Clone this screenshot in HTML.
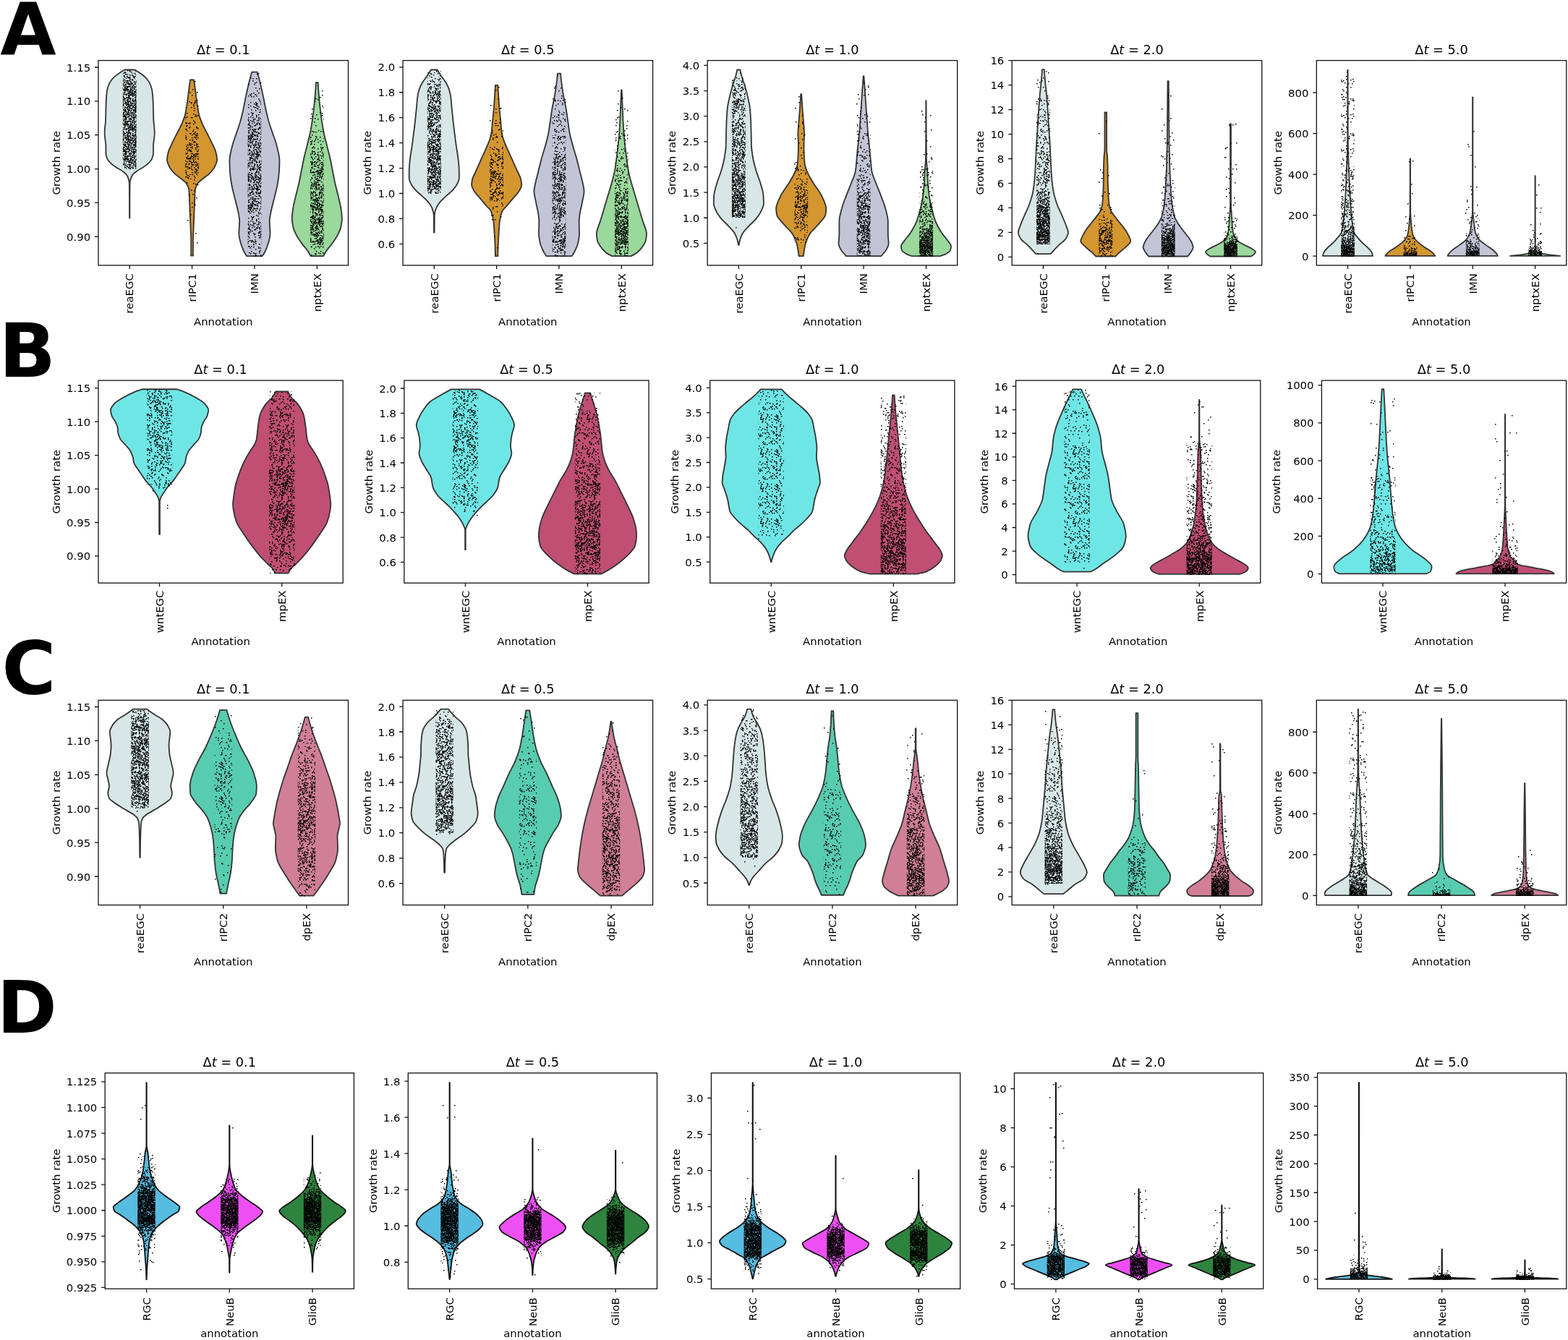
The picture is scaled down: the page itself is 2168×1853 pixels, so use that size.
<!DOCTYPE html><html><head><meta charset="utf-8"><title>Growth rate violin plots</title><style>html,body{margin:0;padding:0;background:#fff;}svg{display:block;}text{font-family:"DejaVu Sans","Liberation Sans",sans-serif;fill:#000;}</style></head><body>
<svg xmlns="http://www.w3.org/2000/svg" width="2168" height="1853" viewBox="0 0 2168 1853">
<rect width="100%" height="100%" fill="#fff"/>
<defs>
<pattern id="p0" patternUnits="userSpaceOnUse" width="48" height="48"><path d="M40 46.75h1.5M40 -1.25h1.5M28 24.75h1.5M13 41.75h1.5M2 24.75h1.5M46 13.75h1.5M28 46.75h1.5M28 -1.25h1.5M37 13.75h1.5M43 14.75h1.5M33 2.75h1.5M9 0.75h1.5M47 16.75h1.5M-1 16.75h1.5M13 12.75h1.5M30 34.75h1.5M27 0.75h1.5M28 42.75h1.5M25 39.75h1.5M47 43.75h1.5M-1 43.75h1.5M24 36.75h1.5M37 31.75h1.5M23 36.75h1.5M47 42.75h1.5M-1 42.75h1.5M46 40.75h1.5M18 12.75h1.5M15 45.75h1.5M41 47.75h1.5M41 -0.25h1.5M38 33.75h1.5M33 29.75h1.5M19 29.75h1.5M18 32.75h1.5M6 43.75h1.5M30 14.75h1.5M3 19.75h1.5M13 15.75h1.5M31 34.75h1.5M0 1.75h1.5M40 19.75h1.5M3 19.75h1.5M25 18.75h1.5M26 27.75h1.5M10 11.75h1.5M45 42.75h1.5M16 18.75h1.5M24 45.75h1.5M41 44.75h1.5M31 16.75h1.5M18 17.75h1.5M4 29.75h1.5M45 19.75h1.5M28 5.75h1.5M27 13.75h1.5M28 8.75h1.5M7 20.75h1.5M26 42.75h1.5M27 22.75h1.5M27 2.75h1.5M8 36.75h1.5M34 41.75h1.5M3 42.75h1.5M15 20.75h1.5M5 14.75h1.5M35 46.75h1.5M35 -1.25h1.5M24 18.75h1.5M22 26.75h1.5M3 47.75h1.5M3 -0.25h1.5M21 40.75h1.5M10 42.75h1.5M14 44.75h1.5M18 34.75h1.5M33 15.75h1.5M37 9.75h1.5M17 35.75h1.5M32 27.75h1.5M24 4.75h1.5M32 41.75h1.5M15 4.75h1.5M43 40.75h1.5M31 38.75h1.5M9 46.75h1.5M9 -1.25h1.5M27 13.75h1.5M35 1.75h1.5M37 24.75h1.5M21 44.75h1.5M13 45.75h1.5M29 16.75h1.5M35 18.75h1.5M24 46.75h1.5M24 -1.25h1.5M8 39.75h1.5M29 45.75h1.5M36 38.75h1.5M43 24.75h1.5M47 6.75h1.5M-1 6.75h1.5M17 25.75h1.5M38 4.75h1.5M33 37.75h1.5" stroke="#000" stroke-width="1.5" fill="none"/></pattern>
<pattern id="p1" patternUnits="userSpaceOnUse" width="48" height="48"><path d="M45 7.75h1.5M17 17.75h1.5M37 40.75h1.5M28 10.75h1.5M14 37.75h1.5M44 3.75h1.5M41 40.75h1.5M17 34.75h1.5M46 4.75h1.5M10 2.75h1.5M38 12.75h1.5M32 8.75h1.5M22 31.75h1.5M1 22.75h1.5M42 27.75h1.5M27 13.75h1.5M18 46.75h1.5M18 -1.25h1.5M17 4.75h1.5M31 31.75h1.5M16 25.75h1.5M24 47.75h1.5M24 -0.25h1.5M17 45.75h1.5M2 23.75h1.5M12 21.75h1.5M40 17.75h1.5M39 8.75h1.5M32 32.75h1.5M22 42.75h1.5M46 22.75h1.5M40 44.75h1.5M11 11.75h1.5M27 12.75h1.5M45 45.75h1.5M37 44.75h1.5M17 24.75h1.5M22 26.75h1.5M24 16.75h1.5M43 1.75h1.5M34 17.75h1.5M19 47.75h1.5M19 -0.25h1.5M22 24.75h1.5M4 38.75h1.5M23 7.75h1.5M10 35.75h1.5M4 28.75h1.5M4 47.75h1.5M4 -0.25h1.5M10 14.75h1.5M33 22.75h1.5M8 13.75h1.5M27 35.75h1.5M28 3.75h1.5M46 35.75h1.5M21 40.75h1.5M37 11.75h1.5M1 17.75h1.5M30 16.75h1.5M47 42.75h1.5M-1 42.75h1.5M2 7.75h1.5M43 43.75h1.5M7 4.75h1.5M32 1.75h1.5M1 38.75h1.5M2 3.75h1.5M6 27.75h1.5M43 24.75h1.5M37 42.75h1.5M31 32.75h1.5M31 47.75h1.5M31 -0.25h1.5M14 32.75h1.5M25 16.75h1.5M23 44.75h1.5M45 3.75h1.5M21 32.75h1.5M35 5.75h1.5M17 8.75h1.5M44 18.75h1.5M40 23.75h1.5M47 2.75h1.5M-1 2.75h1.5M10 19.75h1.5M41 25.75h1.5M22 13.75h1.5M24 19.75h1.5M26 37.75h1.5M4 9.75h1.5M42 14.75h1.5M29 13.75h1.5M5 11.75h1.5M35 1.75h1.5M5 45.75h1.5M18 24.75h1.5M32 15.75h1.5M22 42.75h1.5M3 1.75h1.5M29 5.75h1.5M17 0.75h1.5M18 1.75h1.5M7 0.75h1.5M8 29.75h1.5M47 34.75h1.5M-1 34.75h1.5M29 16.75h1.5M28 44.75h1.5M37 36.75h1.5M18 47.75h1.5M18 -0.25h1.5M7 36.75h1.5M29 25.75h1.5M19 2.75h1.5M19 5.75h1.5M4 15.75h1.5M20 6.75h1.5M2 30.75h1.5M43 3.75h1.5M17 26.75h1.5M34 17.75h1.5M28 18.75h1.5M21 3.75h1.5M16 34.75h1.5M1 36.75h1.5M31 15.75h1.5M4 18.75h1.5M11 33.75h1.5M46 6.75h1.5M18 29.75h1.5M17 16.75h1.5M33 33.75h1.5M12 30.75h1.5M17 14.75h1.5M14 13.75h1.5M33 18.75h1.5M3 14.75h1.5M18 36.75h1.5M47 37.75h1.5M-1 37.75h1.5M30 23.75h1.5M22 11.75h1.5M13 23.75h1.5M1 36.75h1.5M43 26.75h1.5M44 0.75h1.5M46 4.75h1.5M23 18.75h1.5M28 40.75h1.5M13 20.75h1.5M39 29.75h1.5M27 27.75h1.5M14 3.75h1.5M14 22.75h1.5M17 20.75h1.5M32 21.75h1.5M36 43.75h1.5M4 14.75h1.5M44 46.75h1.5M44 -1.25h1.5M36 22.75h1.5M38 22.75h1.5M9 34.75h1.5M6 22.75h1.5M35 2.75h1.5M45 26.75h1.5M16 4.75h1.5M4 44.75h1.5M15 14.75h1.5M40 44.75h1.5M39 24.75h1.5M11 37.75h1.5M7 24.75h1.5M23 10.75h1.5M15 47.75h1.5M15 -0.25h1.5M40 30.75h1.5M22 21.75h1.5M10 45.75h1.5M20 26.75h1.5M10 19.75h1.5M33 9.75h1.5M46 16.75h1.5M29 38.75h1.5M11 7.75h1.5M38 22.75h1.5M17 30.75h1.5M4 21.75h1.5" stroke="#000" stroke-width="1.5" fill="none"/></pattern>
<pattern id="p2" patternUnits="userSpaceOnUse" width="48" height="48"><path d="M7 22.75h1.5M28 45.75h1.5M39 41.75h1.5M14 23.75h1.5M32 41.75h1.5M22 27.75h1.5M42 5.75h1.5M27 4.75h1.5M47 19.75h1.5M-1 19.75h1.5M11 44.75h1.5M5 36.75h1.5M16 43.75h1.5M37 45.75h1.5M25 35.75h1.5M44 19.75h1.5M47 12.75h1.5M-1 12.75h1.5M44 37.75h1.5M7 38.75h1.5M28 45.75h1.5M34 30.75h1.5M44 41.75h1.5M7 13.75h1.5M29 13.75h1.5M2 21.75h1.5M35 7.75h1.5M27 40.75h1.5M6 38.75h1.5M5 43.75h1.5M25 8.75h1.5M23 31.75h1.5M25 1.75h1.5M46 4.75h1.5M46 25.75h1.5M14 34.75h1.5M3 31.75h1.5M14 5.75h1.5M39 15.75h1.5M12 23.75h1.5M6 0.75h1.5M28 28.75h1.5M33 23.75h1.5M8 26.75h1.5M2 47.75h1.5M2 -0.25h1.5M7 21.75h1.5M11 46.75h1.5M11 -1.25h1.5M17 28.75h1.5M26 21.75h1.5M43 9.75h1.5M16 39.75h1.5M30 15.75h1.5M31 13.75h1.5M13 18.75h1.5M26 24.75h1.5M47 17.75h1.5M-1 17.75h1.5M47 37.75h1.5M-1 37.75h1.5M20 10.75h1.5M39 11.75h1.5M16 29.75h1.5M38 1.75h1.5M18 17.75h1.5M37 39.75h1.5M3 44.75h1.5M9 32.75h1.5M30 9.75h1.5M10 17.75h1.5M14 20.75h1.5M32 40.75h1.5M14 11.75h1.5M15 35.75h1.5M39 20.75h1.5M5 34.75h1.5M1 32.75h1.5M39 42.75h1.5M43 32.75h1.5M32 12.75h1.5M30 20.75h1.5M42 19.75h1.5M25 8.75h1.5M5 43.75h1.5M18 9.75h1.5M21 14.75h1.5M40 46.75h1.5M40 -1.25h1.5M29 31.75h1.5M3 40.75h1.5M31 0.75h1.5M40 31.75h1.5M3 19.75h1.5M44 46.75h1.5M44 -1.25h1.5M3 41.75h1.5M33 29.75h1.5M17 45.75h1.5M24 35.75h1.5M8 4.75h1.5M8 28.75h1.5M13 45.75h1.5M38 6.75h1.5M40 29.75h1.5M37 3.75h1.5M16 20.75h1.5M16 35.75h1.5M21 20.75h1.5M7 45.75h1.5M18 15.75h1.5M26 38.75h1.5M14 1.75h1.5M7 18.75h1.5M4 42.75h1.5M21 34.75h1.5M25 36.75h1.5M14 20.75h1.5M0 28.75h1.5M22 32.75h1.5M45 21.75h1.5M27 29.75h1.5M22 26.75h1.5M21 18.75h1.5M15 25.75h1.5M28 26.75h1.5M9 29.75h1.5M42 34.75h1.5M21 33.75h1.5M31 43.75h1.5M3 46.75h1.5M3 -1.25h1.5M17 0.75h1.5M7 33.75h1.5M8 40.75h1.5M30 27.75h1.5M31 6.75h1.5M30 46.75h1.5M30 -1.25h1.5M15 36.75h1.5M41 14.75h1.5M37 14.75h1.5M28 3.75h1.5M18 15.75h1.5M35 22.75h1.5M12 13.75h1.5M11 4.75h1.5M1 10.75h1.5M35 2.75h1.5M7 18.75h1.5M15 29.75h1.5M23 40.75h1.5M22 40.75h1.5M38 16.75h1.5M6 28.75h1.5M29 30.75h1.5M25 7.75h1.5M10 30.75h1.5M14 21.75h1.5M18 26.75h1.5M5 42.75h1.5M2 12.75h1.5M7 4.75h1.5M19 22.75h1.5M41 2.75h1.5M14 46.75h1.5M14 -1.25h1.5M39 40.75h1.5M42 9.75h1.5M10 22.75h1.5M39 44.75h1.5M22 1.75h1.5M24 36.75h1.5M37 20.75h1.5M23 6.75h1.5M30 42.75h1.5M7 32.75h1.5M3 19.75h1.5M40 9.75h1.5M25 42.75h1.5M2 7.75h1.5M36 29.75h1.5M36 30.75h1.5M12 15.75h1.5M33 46.75h1.5M33 -1.25h1.5M46 46.75h1.5M46 -1.25h1.5M28 39.75h1.5M42 9.75h1.5M5 47.75h1.5M5 -0.25h1.5M4 43.75h1.5M17 45.75h1.5M6 42.75h1.5M47 26.75h1.5M-1 26.75h1.5M8 4.75h1.5M23 19.75h1.5M3 20.75h1.5M2 26.75h1.5M36 36.75h1.5M32 36.75h1.5M18 16.75h1.5M39 37.75h1.5M34 9.75h1.5M25 21.75h1.5M36 39.75h1.5M29 31.75h1.5M3 1.75h1.5M12 44.75h1.5M25 38.75h1.5M14 23.75h1.5M26 21.75h1.5M31 34.75h1.5M14 2.75h1.5M28 18.75h1.5M13 18.75h1.5M32 43.75h1.5M0 11.75h1.5M46 5.75h1.5M25 27.75h1.5M18 16.75h1.5M21 5.75h1.5M7 27.75h1.5M44 25.75h1.5M23 28.75h1.5M23 33.75h1.5M5 32.75h1.5M23 40.75h1.5M13 12.75h1.5M21 7.75h1.5M33 22.75h1.5M34 10.75h1.5M11 11.75h1.5M23 31.75h1.5M42 9.75h1.5M28 41.75h1.5M12 26.75h1.5M7 34.75h1.5M8 24.75h1.5M16 46.75h1.5M16 -1.25h1.5M7 28.75h1.5M37 39.75h1.5M45 38.75h1.5M47 16.75h1.5M-1 16.75h1.5M33 8.75h1.5M24 24.75h1.5M38 22.75h1.5M21 37.75h1.5M1 17.75h1.5M46 24.75h1.5M4 5.75h1.5M2 17.75h1.5M36 13.75h1.5M26 16.75h1.5M30 45.75h1.5M30 39.75h1.5M21 22.75h1.5M3 19.75h1.5M25 12.75h1.5M47 20.75h1.5M-1 20.75h1.5M25 46.75h1.5M25 -1.25h1.5M41 9.75h1.5M42 40.75h1.5M33 28.75h1.5M9 44.75h1.5M45 35.75h1.5M38 9.75h1.5M38 46.75h1.5M38 -1.25h1.5M3 45.75h1.5M41 5.75h1.5M30 16.75h1.5M29 4.75h1.5M4 24.75h1.5M37 43.75h1.5M36 36.75h1.5M12 31.75h1.5M6 21.75h1.5M32 7.75h1.5M9 6.75h1.5M20 25.75h1.5M35 16.75h1.5M23 38.75h1.5M37 35.75h1.5M8 35.75h1.5M40 9.75h1.5M26 30.75h1.5M25 31.75h1.5M5 32.75h1.5M26 25.75h1.5M19 27.75h1.5M43 34.75h1.5M6 46.75h1.5M6 -1.25h1.5M26 1.75h1.5" stroke="#000" stroke-width="1.5" fill="none"/></pattern>
<pattern id="p3" patternUnits="userSpaceOnUse" width="48" height="48"><path d="M15 7.75h1.5M10 43.75h1.5M8 8.75h1.5M41 27.75h1.5M41 23.75h1.5M4 11.75h1.5M13 21.75h1.5M31 2.75h1.5M33 24.75h1.5M21 26.75h1.5M23 25.75h1.5M35 19.75h1.5M21 15.75h1.5M46 5.75h1.5M14 19.75h1.5M5 13.75h1.5M12 11.75h1.5M2 46.75h1.5M2 -1.25h1.5M44 44.75h1.5M31 2.75h1.5M9 9.75h1.5M1 46.75h1.5M1 -1.25h1.5M40 0.75h1.5M17 7.75h1.5M10 46.75h1.5M10 -1.25h1.5M19 41.75h1.5M7 12.75h1.5M3 27.75h1.5M1 21.75h1.5M0 21.75h1.5M29 1.75h1.5M15 19.75h1.5M12 45.75h1.5M22 2.75h1.5M30 6.75h1.5M11 47.75h1.5M11 -0.25h1.5M6 43.75h1.5M32 34.75h1.5M13 28.75h1.5M40 21.75h1.5M24 20.75h1.5M47 46.75h1.5M-1 46.75h1.5M47 -1.25h1.5M8 47.75h1.5M8 -0.25h1.5M6 6.75h1.5M7 36.75h1.5M46 35.75h1.5M32 11.75h1.5M28 21.75h1.5M16 43.75h1.5M7 0.75h1.5M0 32.75h1.5M38 0.75h1.5M22 40.75h1.5M47 30.75h1.5M-1 30.75h1.5M0 2.75h1.5M40 0.75h1.5M7 10.75h1.5M47 33.75h1.5M-1 33.75h1.5M7 37.75h1.5M10 9.75h1.5M22 27.75h1.5M24 17.75h1.5M7 44.75h1.5M34 20.75h1.5M43 9.75h1.5M3 20.75h1.5M8 43.75h1.5M36 8.75h1.5M2 35.75h1.5M32 10.75h1.5M35 30.75h1.5M43 43.75h1.5M25 35.75h1.5M17 14.75h1.5M4 45.75h1.5M12 42.75h1.5M7 39.75h1.5M24 45.75h1.5M1 22.75h1.5M36 46.75h1.5M36 -1.25h1.5M47 6.75h1.5M-1 6.75h1.5M6 28.75h1.5M31 8.75h1.5M42 23.75h1.5M10 2.75h1.5M43 38.75h1.5M34 14.75h1.5M36 30.75h1.5M12 24.75h1.5M33 39.75h1.5M38 1.75h1.5M43 32.75h1.5M27 35.75h1.5M4 7.75h1.5M30 31.75h1.5M19 16.75h1.5M42 15.75h1.5M16 35.75h1.5M29 1.75h1.5M26 20.75h1.5M6 9.75h1.5M35 34.75h1.5M21 27.75h1.5M25 10.75h1.5M20 7.75h1.5M1 13.75h1.5M5 15.75h1.5M24 41.75h1.5M19 8.75h1.5M20 34.75h1.5M10 0.75h1.5M27 3.75h1.5M21 40.75h1.5M24 38.75h1.5M29 24.75h1.5M46 31.75h1.5M34 34.75h1.5M29 44.75h1.5M33 27.75h1.5M12 25.75h1.5M36 28.75h1.5M12 32.75h1.5M32 4.75h1.5M10 26.75h1.5M38 4.75h1.5M16 30.75h1.5M43 7.75h1.5M38 7.75h1.5M45 8.75h1.5M36 26.75h1.5M17 0.75h1.5M9 1.75h1.5M43 39.75h1.5M2 41.75h1.5M46 39.75h1.5M7 9.75h1.5M28 4.75h1.5M24 33.75h1.5M33 16.75h1.5M6 30.75h1.5M18 19.75h1.5M27 3.75h1.5M38 30.75h1.5M28 22.75h1.5M32 20.75h1.5M12 4.75h1.5M19 23.75h1.5M29 43.75h1.5M16 42.75h1.5M38 29.75h1.5M40 29.75h1.5M0 24.75h1.5M20 5.75h1.5M10 33.75h1.5M30 24.75h1.5M43 45.75h1.5M13 34.75h1.5M16 0.75h1.5M20 27.75h1.5M24 6.75h1.5M23 5.75h1.5M23 11.75h1.5M39 3.75h1.5M15 20.75h1.5M24 23.75h1.5M9 27.75h1.5M17 20.75h1.5M22 8.75h1.5M45 26.75h1.5M35 8.75h1.5M12 35.75h1.5M44 11.75h1.5M38 29.75h1.5M41 8.75h1.5M36 3.75h1.5M6 3.75h1.5M15 42.75h1.5M5 32.75h1.5M30 20.75h1.5M37 38.75h1.5M12 44.75h1.5M26 27.75h1.5M2 9.75h1.5M21 39.75h1.5M1 45.75h1.5M9 35.75h1.5M30 41.75h1.5M45 31.75h1.5M38 11.75h1.5M32 7.75h1.5M19 0.75h1.5M5 7.75h1.5M40 18.75h1.5M35 41.75h1.5M32 17.75h1.5M11 47.75h1.5M11 -0.25h1.5M23 27.75h1.5M14 36.75h1.5M16 37.75h1.5M31 42.75h1.5M32 11.75h1.5M15 0.75h1.5M34 40.75h1.5M10 44.75h1.5M42 5.75h1.5M24 6.75h1.5M5 7.75h1.5M12 22.75h1.5M23 8.75h1.5M15 34.75h1.5M31 32.75h1.5M26 24.75h1.5M21 34.75h1.5M34 37.75h1.5M11 25.75h1.5M11 43.75h1.5M41 4.75h1.5M19 38.75h1.5M44 45.75h1.5M46 28.75h1.5M36 34.75h1.5M2 27.75h1.5M14 47.75h1.5M14 -0.25h1.5M38 33.75h1.5M8 39.75h1.5M46 28.75h1.5M0 45.75h1.5M41 15.75h1.5M14 14.75h1.5M23 16.75h1.5M24 17.75h1.5M2 1.75h1.5M30 37.75h1.5M28 32.75h1.5M43 40.75h1.5M17 5.75h1.5M46 20.75h1.5M2 37.75h1.5M46 33.75h1.5M45 43.75h1.5M23 26.75h1.5M44 46.75h1.5M44 -1.25h1.5M13 39.75h1.5M21 14.75h1.5M13 44.75h1.5M44 45.75h1.5M8 21.75h1.5M3 5.75h1.5M0 26.75h1.5M28 44.75h1.5M36 34.75h1.5M19 47.75h1.5M19 -0.25h1.5M7 39.75h1.5M43 14.75h1.5M45 26.75h1.5M3 20.75h1.5M5 12.75h1.5M30 12.75h1.5M17 3.75h1.5M4 37.75h1.5M29 27.75h1.5M43 13.75h1.5M13 41.75h1.5M28 8.75h1.5M37 25.75h1.5M27 30.75h1.5M19 8.75h1.5M28 39.75h1.5M7 46.75h1.5M7 -1.25h1.5M39 37.75h1.5M12 22.75h1.5M12 38.75h1.5M11 46.75h1.5M11 -1.25h1.5M40 39.75h1.5M32 7.75h1.5M9 46.75h1.5M9 -1.25h1.5M45 42.75h1.5M27 25.75h1.5M14 27.75h1.5M19 44.75h1.5M18 3.75h1.5M10 29.75h1.5M34 10.75h1.5M34 27.75h1.5M39 18.75h1.5M21 30.75h1.5M47 34.75h1.5M-1 34.75h1.5M30 3.75h1.5M3 4.75h1.5M6 24.75h1.5M17 34.75h1.5M27 31.75h1.5M6 0.75h1.5M25 36.75h1.5M47 35.75h1.5M-1 35.75h1.5M32 17.75h1.5M31 20.75h1.5M13 32.75h1.5M6 16.75h1.5M27 22.75h1.5M23 0.75h1.5M34 39.75h1.5M47 28.75h1.5M-1 28.75h1.5M22 16.75h1.5M3 25.75h1.5M35 45.75h1.5M2 37.75h1.5M9 5.75h1.5M39 35.75h1.5M46 12.75h1.5M9 26.75h1.5M12 6.75h1.5M45 46.75h1.5M45 -1.25h1.5M27 1.75h1.5M41 44.75h1.5M40 26.75h1.5M5 23.75h1.5M30 35.75h1.5M40 33.75h1.5M31 47.75h1.5M31 -0.25h1.5M30 22.75h1.5M20 44.75h1.5M18 27.75h1.5M30 1.75h1.5M5 24.75h1.5M36 40.75h1.5M26 43.75h1.5M3 37.75h1.5M23 15.75h1.5M19 43.75h1.5M7 28.75h1.5M29 6.75h1.5M25 5.75h1.5M47 15.75h1.5M-1 15.75h1.5M7 45.75h1.5M27 0.75h1.5M4 37.75h1.5M45 44.75h1.5M34 42.75h1.5M37 29.75h1.5M17 25.75h1.5M39 4.75h1.5M2 11.75h1.5M11 4.75h1.5M6 31.75h1.5M12 40.75h1.5M18 25.75h1.5M4 24.75h1.5M32 21.75h1.5M37 32.75h1.5M18 26.75h1.5M32 17.75h1.5M14 16.75h1.5M26 4.75h1.5M5 44.75h1.5M46 12.75h1.5M6 7.75h1.5M22 30.75h1.5M7 3.75h1.5M5 18.75h1.5M27 29.75h1.5M46 12.75h1.5M13 1.75h1.5M37 36.75h1.5M47 38.75h1.5M-1 38.75h1.5M25 32.75h1.5M1 25.75h1.5M18 13.75h1.5M23 11.75h1.5M17 10.75h1.5M17 43.75h1.5M24 24.75h1.5M2 30.75h1.5M33 47.75h1.5M33 -0.25h1.5M23 8.75h1.5M4 34.75h1.5M3 1.75h1.5M14 37.75h1.5M18 3.75h1.5M45 31.75h1.5M37 10.75h1.5M24 45.75h1.5M35 7.75h1.5M25 12.75h1.5M19 11.75h1.5M8 30.75h1.5M43 2.75h1.5M10 41.75h1.5M2 32.75h1.5M39 26.75h1.5M21 5.75h1.5M33 16.75h1.5M3 31.75h1.5M39 40.75h1.5M13 3.75h1.5M14 41.75h1.5M5 45.75h1.5M2 27.75h1.5M13 25.75h1.5M5 16.75h1.5M20 5.75h1.5M18 31.75h1.5M18 38.75h1.5M23 31.75h1.5M30 14.75h1.5M4 34.75h1.5M39 0.75h1.5M9 4.75h1.5M16 38.75h1.5M32 36.75h1.5M47 40.75h1.5M-1 40.75h1.5" stroke="#000" stroke-width="1.5" fill="none"/></pattern>
<pattern id="p4" patternUnits="userSpaceOnUse" width="48" height="48"><path d="M40 9.75h1.5M33 44.75h1.5M10 11.75h1.5M6 8.75h1.5M18 21.75h1.5M36 37.75h1.5M35 10.75h1.5M19 18.75h1.5M30 43.75h1.5M39 23.75h1.5M3 17.75h1.5M25 4.75h1.5M36 4.75h1.5M39 25.75h1.5M10 11.75h1.5M23 2.75h1.5M17 24.75h1.5M12 26.75h1.5M38 30.75h1.5M26 45.75h1.5M26 26.75h1.5M12 7.75h1.5M33 23.75h1.5M2 43.75h1.5M46 34.75h1.5M24 38.75h1.5M9 25.75h1.5M22 41.75h1.5M34 1.75h1.5M39 40.75h1.5M41 19.75h1.5M36 17.75h1.5M18 15.75h1.5M14 16.75h1.5M33 35.75h1.5M22 16.75h1.5M25 31.75h1.5M41 20.75h1.5M5 15.75h1.5M2 13.75h1.5M12 18.75h1.5M19 36.75h1.5M14 8.75h1.5M42 6.75h1.5M21 5.75h1.5M16 9.75h1.5M18 45.75h1.5M29 23.75h1.5M22 39.75h1.5M5 34.75h1.5M23 6.75h1.5M35 7.75h1.5M36 31.75h1.5M47 1.75h1.5M-1 1.75h1.5M19 38.75h1.5M40 18.75h1.5M31 10.75h1.5M3 35.75h1.5M33 47.75h1.5M33 -0.25h1.5M47 20.75h1.5M-1 20.75h1.5M13 40.75h1.5M19 26.75h1.5M14 20.75h1.5M34 11.75h1.5M43 15.75h1.5M12 47.75h1.5M12 -0.25h1.5M18 7.75h1.5M38 17.75h1.5M42 28.75h1.5M46 11.75h1.5M37 33.75h1.5M34 44.75h1.5M13 41.75h1.5M12 32.75h1.5M17 4.75h1.5M35 32.75h1.5M26 18.75h1.5M21 40.75h1.5M19 4.75h1.5M29 20.75h1.5M32 47.75h1.5M32 -0.25h1.5M26 26.75h1.5M47 7.75h1.5M-1 7.75h1.5M43 3.75h1.5M23 9.75h1.5M15 30.75h1.5M21 46.75h1.5M21 -1.25h1.5M3 26.75h1.5M24 0.75h1.5M6 39.75h1.5M40 29.75h1.5M19 35.75h1.5M11 37.75h1.5M21 0.75h1.5M12 41.75h1.5M5 5.75h1.5M24 13.75h1.5M21 22.75h1.5M12 20.75h1.5M16 26.75h1.5M15 18.75h1.5M42 27.75h1.5M16 28.75h1.5M16 1.75h1.5M12 21.75h1.5M38 0.75h1.5M30 42.75h1.5M36 24.75h1.5M14 23.75h1.5M8 1.75h1.5M10 43.75h1.5M40 14.75h1.5M3 25.75h1.5M47 43.75h1.5M-1 43.75h1.5M23 43.75h1.5M31 44.75h1.5M44 6.75h1.5M39 39.75h1.5M23 7.75h1.5M4 36.75h1.5M27 34.75h1.5M20 18.75h1.5M33 40.75h1.5M7 6.75h1.5M19 21.75h1.5M8 15.75h1.5M45 28.75h1.5M21 8.75h1.5M1 25.75h1.5M2 45.75h1.5M31 6.75h1.5M13 4.75h1.5M42 9.75h1.5M23 35.75h1.5M27 21.75h1.5M28 41.75h1.5M38 7.75h1.5M24 34.75h1.5M1 0.75h1.5M39 7.75h1.5M39 22.75h1.5M4 19.75h1.5M30 35.75h1.5M8 21.75h1.5M22 11.75h1.5M17 1.75h1.5M40 21.75h1.5M17 5.75h1.5M46 11.75h1.5M46 0.75h1.5M31 34.75h1.5M32 3.75h1.5M7 33.75h1.5M7 4.75h1.5M13 26.75h1.5M22 42.75h1.5M19 20.75h1.5M9 29.75h1.5M41 18.75h1.5M5 29.75h1.5M16 1.75h1.5M40 22.75h1.5M45 19.75h1.5M32 34.75h1.5M18 17.75h1.5M36 13.75h1.5M45 33.75h1.5M0 6.75h1.5M9 27.75h1.5M18 2.75h1.5M5 13.75h1.5M16 5.75h1.5M39 8.75h1.5M3 41.75h1.5M7 9.75h1.5M2 47.75h1.5M2 -0.25h1.5M7 0.75h1.5M4 22.75h1.5M31 47.75h1.5M31 -0.25h1.5M39 23.75h1.5M9 26.75h1.5M42 18.75h1.5M46 31.75h1.5M31 32.75h1.5M26 31.75h1.5M21 46.75h1.5M21 -1.25h1.5M28 10.75h1.5M10 1.75h1.5M22 6.75h1.5M42 17.75h1.5M38 18.75h1.5M4 30.75h1.5M14 28.75h1.5M2 37.75h1.5M9 19.75h1.5M29 4.75h1.5M36 43.75h1.5M37 17.75h1.5M5 18.75h1.5M36 25.75h1.5M20 23.75h1.5M43 40.75h1.5M44 24.75h1.5M32 25.75h1.5M9 42.75h1.5M1 14.75h1.5M16 41.75h1.5M31 46.75h1.5M31 -1.25h1.5M47 46.75h1.5M-1 46.75h1.5M47 -1.25h1.5M19 17.75h1.5M1 31.75h1.5M11 17.75h1.5M46 2.75h1.5M35 36.75h1.5M32 2.75h1.5M34 34.75h1.5M22 31.75h1.5M6 29.75h1.5M41 41.75h1.5M40 2.75h1.5M8 16.75h1.5M7 5.75h1.5M26 45.75h1.5M27 45.75h1.5M46 26.75h1.5M30 3.75h1.5M37 39.75h1.5M3 38.75h1.5M22 21.75h1.5M2 47.75h1.5M2 -0.25h1.5M5 0.75h1.5M18 20.75h1.5M19 27.75h1.5M16 47.75h1.5M16 -0.25h1.5M26 27.75h1.5M36 4.75h1.5M39 37.75h1.5M31 41.75h1.5M35 26.75h1.5M4 17.75h1.5M41 19.75h1.5M27 35.75h1.5M43 34.75h1.5M16 3.75h1.5M15 34.75h1.5M14 12.75h1.5M44 47.75h1.5M44 -0.25h1.5M19 4.75h1.5M40 30.75h1.5M33 39.75h1.5M25 4.75h1.5M37 30.75h1.5M8 37.75h1.5M37 32.75h1.5M34 43.75h1.5M27 9.75h1.5M28 33.75h1.5M15 37.75h1.5M46 9.75h1.5M0 17.75h1.5M1 24.75h1.5M33 19.75h1.5M38 5.75h1.5M39 41.75h1.5M35 33.75h1.5M44 46.75h1.5M44 -1.25h1.5M30 36.75h1.5M3 13.75h1.5M21 38.75h1.5M32 13.75h1.5M18 11.75h1.5M13 38.75h1.5M23 23.75h1.5M29 43.75h1.5M47 33.75h1.5M-1 33.75h1.5M22 10.75h1.5M9 15.75h1.5M46 17.75h1.5M11 5.75h1.5M44 16.75h1.5M6 15.75h1.5M6 21.75h1.5M47 36.75h1.5M-1 36.75h1.5M18 25.75h1.5M18 20.75h1.5M19 19.75h1.5M5 44.75h1.5M40 30.75h1.5M15 29.75h1.5M15 36.75h1.5M22 36.75h1.5M39 31.75h1.5M20 4.75h1.5M4 22.75h1.5M34 0.75h1.5M32 45.75h1.5M45 41.75h1.5M14 42.75h1.5M31 31.75h1.5M27 17.75h1.5M0 26.75h1.5M8 19.75h1.5M18 32.75h1.5M44 24.75h1.5M22 7.75h1.5M38 46.75h1.5M38 -1.25h1.5M32 29.75h1.5M23 42.75h1.5M19 12.75h1.5M20 24.75h1.5M17 46.75h1.5M17 -1.25h1.5M19 42.75h1.5M5 19.75h1.5M14 21.75h1.5M34 11.75h1.5M13 41.75h1.5M27 26.75h1.5M12 31.75h1.5M24 39.75h1.5M5 37.75h1.5M43 36.75h1.5M32 23.75h1.5M28 37.75h1.5M29 43.75h1.5M7 10.75h1.5M40 13.75h1.5M25 7.75h1.5M5 20.75h1.5M6 39.75h1.5M7 7.75h1.5M31 37.75h1.5M14 15.75h1.5M18 24.75h1.5M44 36.75h1.5M46 4.75h1.5M29 34.75h1.5M5 46.75h1.5M5 -1.25h1.5M17 30.75h1.5M44 47.75h1.5M44 -0.25h1.5M7 9.75h1.5M46 33.75h1.5M3 10.75h1.5M44 30.75h1.5M29 32.75h1.5M3 26.75h1.5M3 15.75h1.5M36 44.75h1.5M29 26.75h1.5M47 27.75h1.5M-1 27.75h1.5M34 38.75h1.5M6 1.75h1.5M41 40.75h1.5M3 36.75h1.5M6 34.75h1.5M5 41.75h1.5M27 16.75h1.5M14 7.75h1.5M30 12.75h1.5M43 6.75h1.5M9 42.75h1.5M1 25.75h1.5M21 12.75h1.5M40 34.75h1.5M43 46.75h1.5M43 -1.25h1.5M33 45.75h1.5M33 10.75h1.5M17 14.75h1.5M44 0.75h1.5M31 32.75h1.5M35 12.75h1.5M18 44.75h1.5M11 6.75h1.5M31 46.75h1.5M31 -1.25h1.5M3 17.75h1.5M11 26.75h1.5M7 3.75h1.5M28 10.75h1.5M25 30.75h1.5M23 16.75h1.5M41 11.75h1.5M4 33.75h1.5M40 42.75h1.5M34 28.75h1.5M15 30.75h1.5M15 9.75h1.5M22 30.75h1.5M17 46.75h1.5M17 -1.25h1.5M21 45.75h1.5M27 13.75h1.5M43 26.75h1.5M5 10.75h1.5M11 47.75h1.5M11 -0.25h1.5M33 11.75h1.5M39 39.75h1.5M47 4.75h1.5M-1 4.75h1.5M43 40.75h1.5M5 19.75h1.5M14 6.75h1.5M8 14.75h1.5M27 8.75h1.5M11 24.75h1.5M29 39.75h1.5M9 19.75h1.5M42 1.75h1.5M7 33.75h1.5M25 12.75h1.5M1 36.75h1.5M20 7.75h1.5M9 4.75h1.5M22 40.75h1.5M5 38.75h1.5M3 30.75h1.5M15 11.75h1.5M35 24.75h1.5M26 7.75h1.5M21 14.75h1.5M24 17.75h1.5M35 22.75h1.5M10 43.75h1.5M2 7.75h1.5M41 0.75h1.5M37 3.75h1.5M36 7.75h1.5M47 15.75h1.5M-1 15.75h1.5M34 39.75h1.5M24 6.75h1.5M11 2.75h1.5M34 26.75h1.5M13 5.75h1.5M11 26.75h1.5M10 9.75h1.5M44 26.75h1.5M4 28.75h1.5M6 35.75h1.5M31 38.75h1.5M44 47.75h1.5M44 -0.25h1.5M42 5.75h1.5M41 10.75h1.5M43 37.75h1.5M31 22.75h1.5M6 3.75h1.5M19 35.75h1.5M12 29.75h1.5M45 20.75h1.5M4 2.75h1.5M42 14.75h1.5M40 42.75h1.5M2 20.75h1.5M21 5.75h1.5M10 43.75h1.5M8 32.75h1.5M19 41.75h1.5M6 37.75h1.5M44 46.75h1.5M44 -1.25h1.5M10 26.75h1.5M23 18.75h1.5M18 22.75h1.5M8 8.75h1.5M29 22.75h1.5M25 43.75h1.5M21 8.75h1.5M0 29.75h1.5M17 8.75h1.5M22 16.75h1.5M30 19.75h1.5M20 19.75h1.5M38 6.75h1.5M28 39.75h1.5M12 22.75h1.5M29 3.75h1.5M10 22.75h1.5M25 25.75h1.5M35 22.75h1.5M38 7.75h1.5M6 39.75h1.5M18 2.75h1.5M15 39.75h1.5M19 11.75h1.5M27 28.75h1.5M35 35.75h1.5M40 22.75h1.5M32 15.75h1.5M43 38.75h1.5M45 5.75h1.5M12 33.75h1.5M26 33.75h1.5M6 35.75h1.5M26 43.75h1.5M31 44.75h1.5M32 6.75h1.5M34 17.75h1.5M18 46.75h1.5M18 -1.25h1.5M21 14.75h1.5M9 34.75h1.5M20 21.75h1.5M26 44.75h1.5M37 31.75h1.5M44 1.75h1.5M46 15.75h1.5M29 30.75h1.5M45 45.75h1.5M10 10.75h1.5M4 10.75h1.5M19 32.75h1.5M40 10.75h1.5M10 32.75h1.5M25 12.75h1.5M43 25.75h1.5M7 36.75h1.5M42 22.75h1.5M35 30.75h1.5M18 45.75h1.5M1 16.75h1.5M19 44.75h1.5M4 29.75h1.5M41 19.75h1.5M44 30.75h1.5M13 42.75h1.5M42 32.75h1.5M28 43.75h1.5M37 2.75h1.5M47 13.75h1.5M-1 13.75h1.5M35 30.75h1.5M23 5.75h1.5M5 7.75h1.5M1 35.75h1.5M43 37.75h1.5M41 18.75h1.5M36 2.75h1.5M24 0.75h1.5M30 32.75h1.5M8 46.75h1.5M8 -1.25h1.5M31 30.75h1.5M18 31.75h1.5M4 6.75h1.5M12 41.75h1.5M33 0.75h1.5M47 5.75h1.5M-1 5.75h1.5M27 43.75h1.5M24 3.75h1.5M16 20.75h1.5M25 29.75h1.5M25 32.75h1.5M14 41.75h1.5M31 9.75h1.5M37 43.75h1.5M46 25.75h1.5M12 3.75h1.5M16 14.75h1.5M39 40.75h1.5M10 40.75h1.5M9 27.75h1.5M10 41.75h1.5M20 22.75h1.5M22 32.75h1.5M27 15.75h1.5M23 7.75h1.5M3 14.75h1.5M41 29.75h1.5M37 3.75h1.5M9 28.75h1.5M16 35.75h1.5M31 16.75h1.5M42 37.75h1.5M22 21.75h1.5" stroke="#000" stroke-width="1.5" fill="none"/></pattern>
<pattern id="p5" patternUnits="userSpaceOnUse" width="48" height="48"><path d="M30 31.75h1.5M47 0.75h1.5M-1 0.75h1.5M4 25.75h1.5M24 19.75h1.5M19 7.75h1.5M9 31.75h1.5M42 19.75h1.5M25 19.75h1.5M29 43.75h1.5M13 9.75h1.5M26 15.75h1.5M35 45.75h1.5M9 8.75h1.5M12 42.75h1.5M15 34.75h1.5M24 25.75h1.5M21 1.75h1.5M23 6.75h1.5M28 41.75h1.5M37 33.75h1.5M35 2.75h1.5M29 2.75h1.5M38 23.75h1.5M18 13.75h1.5M16 26.75h1.5M10 0.75h1.5M34 15.75h1.5M18 2.75h1.5M18 12.75h1.5M30 47.75h1.5M30 -0.25h1.5M16 27.75h1.5M32 9.75h1.5M29 7.75h1.5M24 18.75h1.5M30 41.75h1.5M30 11.75h1.5M16 6.75h1.5M31 44.75h1.5M10 18.75h1.5M12 43.75h1.5M26 34.75h1.5M7 34.75h1.5M28 1.75h1.5M41 30.75h1.5M41 24.75h1.5M15 30.75h1.5M7 40.75h1.5M12 42.75h1.5M32 44.75h1.5M27 18.75h1.5M26 12.75h1.5M38 30.75h1.5M1 47.75h1.5M1 -0.25h1.5M42 40.75h1.5M23 4.75h1.5M20 15.75h1.5M34 43.75h1.5M12 20.75h1.5M44 24.75h1.5M29 1.75h1.5M39 14.75h1.5M4 7.75h1.5M6 40.75h1.5M43 26.75h1.5M4 46.75h1.5M4 -1.25h1.5M35 28.75h1.5M0 9.75h1.5M12 6.75h1.5M13 21.75h1.5M40 39.75h1.5M14 33.75h1.5M10 21.75h1.5M1 1.75h1.5M13 1.75h1.5M41 11.75h1.5M25 5.75h1.5M1 36.75h1.5M4 26.75h1.5M12 2.75h1.5M37 25.75h1.5M9 12.75h1.5M0 10.75h1.5M47 27.75h1.5M-1 27.75h1.5M45 26.75h1.5M29 9.75h1.5M10 0.75h1.5M28 45.75h1.5M11 34.75h1.5M31 37.75h1.5M1 13.75h1.5M35 6.75h1.5M42 46.75h1.5M42 -1.25h1.5M38 32.75h1.5M11 46.75h1.5M11 -1.25h1.5M4 20.75h1.5M46 39.75h1.5M22 36.75h1.5M35 0.75h1.5M45 29.75h1.5M12 4.75h1.5M47 38.75h1.5M-1 38.75h1.5M16 29.75h1.5M30 44.75h1.5M37 45.75h1.5M26 6.75h1.5M32 38.75h1.5M43 35.75h1.5M44 42.75h1.5M19 29.75h1.5M1 22.75h1.5M21 39.75h1.5M41 35.75h1.5M1 10.75h1.5M35 20.75h1.5M13 20.75h1.5M35 12.75h1.5M21 47.75h1.5M21 -0.25h1.5M36 2.75h1.5M31 0.75h1.5M6 25.75h1.5M8 4.75h1.5M24 6.75h1.5M37 5.75h1.5M32 18.75h1.5M31 15.75h1.5M20 9.75h1.5M46 43.75h1.5M46 35.75h1.5M10 7.75h1.5M16 2.75h1.5M26 38.75h1.5M1 23.75h1.5M29 15.75h1.5M20 3.75h1.5M28 9.75h1.5M9 15.75h1.5M47 45.75h1.5M-1 45.75h1.5M5 23.75h1.5M42 12.75h1.5M14 10.75h1.5M43 44.75h1.5M44 15.75h1.5M17 13.75h1.5M21 1.75h1.5M39 30.75h1.5M19 23.75h1.5M11 9.75h1.5M8 40.75h1.5M4 9.75h1.5M0 30.75h1.5M28 24.75h1.5M47 30.75h1.5M-1 30.75h1.5M31 2.75h1.5M2 13.75h1.5M37 3.75h1.5M13 35.75h1.5M19 0.75h1.5M32 29.75h1.5M12 14.75h1.5M19 7.75h1.5M35 6.75h1.5M18 34.75h1.5M3 38.75h1.5M41 26.75h1.5M27 39.75h1.5M29 29.75h1.5M28 21.75h1.5M1 28.75h1.5M11 9.75h1.5M9 42.75h1.5M5 14.75h1.5M8 33.75h1.5M34 10.75h1.5M22 37.75h1.5M30 37.75h1.5M12 46.75h1.5M12 -1.25h1.5M44 0.75h1.5M8 18.75h1.5M35 35.75h1.5M37 46.75h1.5M37 -1.25h1.5M31 8.75h1.5M11 1.75h1.5M24 20.75h1.5M0 2.75h1.5M47 20.75h1.5M-1 20.75h1.5M13 33.75h1.5M1 21.75h1.5M19 30.75h1.5M27 31.75h1.5M25 9.75h1.5M31 40.75h1.5M18 27.75h1.5M33 18.75h1.5M36 17.75h1.5M45 15.75h1.5M4 2.75h1.5M40 6.75h1.5M23 44.75h1.5M4 1.75h1.5M41 17.75h1.5M44 28.75h1.5M6 46.75h1.5M6 -1.25h1.5M8 14.75h1.5M46 11.75h1.5M42 24.75h1.5M37 19.75h1.5M24 9.75h1.5M17 15.75h1.5M28 17.75h1.5M32 42.75h1.5M25 19.75h1.5M47 25.75h1.5M-1 25.75h1.5M24 1.75h1.5M21 4.75h1.5M8 4.75h1.5M43 39.75h1.5M23 14.75h1.5M28 8.75h1.5M46 38.75h1.5M41 16.75h1.5M0 25.75h1.5M4 16.75h1.5M27 11.75h1.5M13 27.75h1.5M20 12.75h1.5M1 31.75h1.5M37 7.75h1.5M39 20.75h1.5M16 47.75h1.5M16 -0.25h1.5M32 40.75h1.5M0 14.75h1.5M17 19.75h1.5M11 38.75h1.5M10 42.75h1.5M18 36.75h1.5M1 38.75h1.5M38 12.75h1.5M14 17.75h1.5M21 8.75h1.5M12 24.75h1.5M18 16.75h1.5M40 23.75h1.5M40 5.75h1.5M38 18.75h1.5M43 11.75h1.5M9 22.75h1.5M47 24.75h1.5M-1 24.75h1.5M39 37.75h1.5M5 1.75h1.5M36 3.75h1.5M23 1.75h1.5M25 3.75h1.5M0 29.75h1.5M31 42.75h1.5M1 45.75h1.5M32 15.75h1.5M24 27.75h1.5M17 27.75h1.5M33 27.75h1.5M35 31.75h1.5M26 0.75h1.5M26 8.75h1.5M34 45.75h1.5M44 5.75h1.5M30 44.75h1.5M11 31.75h1.5M10 2.75h1.5M45 23.75h1.5M38 19.75h1.5M14 31.75h1.5M33 20.75h1.5M37 26.75h1.5M40 43.75h1.5M35 13.75h1.5M12 3.75h1.5M41 40.75h1.5M32 35.75h1.5M41 1.75h1.5M11 14.75h1.5M39 26.75h1.5M34 44.75h1.5M14 12.75h1.5M36 35.75h1.5M5 0.75h1.5M3 12.75h1.5M38 14.75h1.5M0 22.75h1.5M12 32.75h1.5M1 34.75h1.5M40 33.75h1.5M13 36.75h1.5M34 28.75h1.5M36 16.75h1.5M36 9.75h1.5M9 16.75h1.5M0 17.75h1.5M19 33.75h1.5M17 10.75h1.5M10 16.75h1.5M40 24.75h1.5M36 18.75h1.5M33 7.75h1.5M32 30.75h1.5M30 3.75h1.5M9 23.75h1.5M10 17.75h1.5M21 30.75h1.5M20 7.75h1.5M15 17.75h1.5M1 28.75h1.5M18 3.75h1.5M46 28.75h1.5M3 5.75h1.5M0 41.75h1.5M5 7.75h1.5M8 18.75h1.5M32 19.75h1.5M20 4.75h1.5M42 30.75h1.5M11 14.75h1.5M2 45.75h1.5M47 33.75h1.5M-1 33.75h1.5M26 3.75h1.5M31 16.75h1.5M40 7.75h1.5M33 41.75h1.5M20 21.75h1.5M18 21.75h1.5M17 1.75h1.5M13 44.75h1.5M47 30.75h1.5M-1 30.75h1.5M43 33.75h1.5M23 28.75h1.5M10 32.75h1.5M23 4.75h1.5M37 25.75h1.5M11 24.75h1.5M10 0.75h1.5M18 17.75h1.5M20 29.75h1.5M41 29.75h1.5M31 45.75h1.5M24 43.75h1.5M7 1.75h1.5M12 1.75h1.5M9 37.75h1.5M41 27.75h1.5M4 36.75h1.5M7 28.75h1.5M22 34.75h1.5M12 36.75h1.5M1 1.75h1.5M18 18.75h1.5M1 19.75h1.5M37 33.75h1.5M40 30.75h1.5M20 21.75h1.5M19 26.75h1.5M39 47.75h1.5M39 -0.25h1.5M0 9.75h1.5M13 4.75h1.5M38 33.75h1.5M46 34.75h1.5M7 47.75h1.5M7 -0.25h1.5M7 44.75h1.5M39 24.75h1.5M17 30.75h1.5M25 38.75h1.5M36 3.75h1.5M8 36.75h1.5M47 26.75h1.5M-1 26.75h1.5M37 9.75h1.5M2 31.75h1.5M47 34.75h1.5M-1 34.75h1.5M29 34.75h1.5M13 27.75h1.5M36 2.75h1.5M21 30.75h1.5M35 45.75h1.5M9 44.75h1.5M23 42.75h1.5M34 36.75h1.5M14 34.75h1.5M17 27.75h1.5M13 39.75h1.5M31 16.75h1.5M42 10.75h1.5M34 29.75h1.5M42 31.75h1.5M44 4.75h1.5M19 24.75h1.5M22 36.75h1.5M20 13.75h1.5M7 27.75h1.5M20 37.75h1.5M28 9.75h1.5M33 20.75h1.5M4 6.75h1.5M3 40.75h1.5M10 46.75h1.5M10 -1.25h1.5M17 20.75h1.5M3 36.75h1.5M18 30.75h1.5M27 35.75h1.5M45 45.75h1.5M36 10.75h1.5M44 45.75h1.5M11 46.75h1.5M11 -1.25h1.5M38 13.75h1.5M39 1.75h1.5M4 42.75h1.5M41 46.75h1.5M41 -1.25h1.5M38 43.75h1.5M21 17.75h1.5M31 28.75h1.5M2 19.75h1.5M21 18.75h1.5M0 44.75h1.5M25 39.75h1.5M29 36.75h1.5M17 39.75h1.5M6 9.75h1.5M22 45.75h1.5M0 1.75h1.5M16 20.75h1.5M12 18.75h1.5M39 6.75h1.5M46 40.75h1.5M0 28.75h1.5M13 29.75h1.5M29 44.75h1.5M12 43.75h1.5M24 1.75h1.5M41 45.75h1.5M34 8.75h1.5M33 0.75h1.5M19 30.75h1.5M29 0.75h1.5M21 25.75h1.5M24 10.75h1.5M24 5.75h1.5M32 41.75h1.5M28 0.75h1.5M33 41.75h1.5M29 7.75h1.5M3 6.75h1.5M9 19.75h1.5M47 24.75h1.5M-1 24.75h1.5M13 9.75h1.5M6 24.75h1.5M16 25.75h1.5M19 24.75h1.5M16 8.75h1.5M26 20.75h1.5M11 31.75h1.5M2 15.75h1.5M10 14.75h1.5M15 20.75h1.5M3 15.75h1.5M4 25.75h1.5M30 43.75h1.5M4 25.75h1.5M5 28.75h1.5M15 4.75h1.5M24 19.75h1.5M8 5.75h1.5M5 32.75h1.5M22 29.75h1.5M26 35.75h1.5M18 31.75h1.5M30 23.75h1.5M31 28.75h1.5M46 29.75h1.5M36 32.75h1.5M8 35.75h1.5M20 37.75h1.5M43 17.75h1.5M38 47.75h1.5M38 -0.25h1.5M20 44.75h1.5M23 13.75h1.5M2 12.75h1.5M26 39.75h1.5M22 21.75h1.5M9 9.75h1.5M27 12.75h1.5M20 26.75h1.5M39 42.75h1.5M0 34.75h1.5M23 35.75h1.5M38 23.75h1.5M17 30.75h1.5M27 6.75h1.5M34 33.75h1.5M27 25.75h1.5M13 25.75h1.5M13 25.75h1.5M21 12.75h1.5M32 42.75h1.5M4 27.75h1.5M25 1.75h1.5M10 1.75h1.5M20 45.75h1.5M4 17.75h1.5M47 11.75h1.5M-1 11.75h1.5M38 8.75h1.5M39 14.75h1.5M6 25.75h1.5M39 30.75h1.5M14 32.75h1.5M18 13.75h1.5M20 28.75h1.5M20 35.75h1.5M0 6.75h1.5M41 25.75h1.5M21 21.75h1.5M8 20.75h1.5M14 21.75h1.5M42 32.75h1.5M10 15.75h1.5M16 27.75h1.5M9 43.75h1.5M3 17.75h1.5M9 38.75h1.5M18 25.75h1.5M9 41.75h1.5M42 38.75h1.5M21 5.75h1.5M37 47.75h1.5M37 -0.25h1.5M34 43.75h1.5M38 19.75h1.5M27 17.75h1.5M31 6.75h1.5M6 32.75h1.5M27 33.75h1.5M29 20.75h1.5M35 29.75h1.5M9 38.75h1.5M18 3.75h1.5M39 11.75h1.5M33 37.75h1.5M6 42.75h1.5M27 41.75h1.5M6 27.75h1.5M27 35.75h1.5M45 12.75h1.5M22 36.75h1.5M18 12.75h1.5M16 2.75h1.5M32 29.75h1.5M23 41.75h1.5M7 13.75h1.5M4 38.75h1.5M47 1.75h1.5M-1 1.75h1.5M0 34.75h1.5M10 34.75h1.5M1 46.75h1.5M1 -1.25h1.5M8 2.75h1.5M11 15.75h1.5M8 2.75h1.5M5 26.75h1.5M33 4.75h1.5M16 26.75h1.5M1 1.75h1.5M14 31.75h1.5M0 4.75h1.5M23 2.75h1.5M37 26.75h1.5M30 22.75h1.5M0 5.75h1.5M46 19.75h1.5M8 0.75h1.5M15 43.75h1.5M9 44.75h1.5M12 44.75h1.5M0 11.75h1.5M42 27.75h1.5M17 9.75h1.5M43 0.75h1.5M26 25.75h1.5M5 43.75h1.5M41 23.75h1.5M3 11.75h1.5M2 42.75h1.5M22 15.75h1.5M14 32.75h1.5M16 31.75h1.5M32 29.75h1.5M3 26.75h1.5M42 20.75h1.5M17 47.75h1.5M17 -0.25h1.5M21 12.75h1.5M34 19.75h1.5M5 28.75h1.5M34 32.75h1.5M6 7.75h1.5M17 39.75h1.5M3 46.75h1.5M3 -1.25h1.5M6 47.75h1.5M6 -0.25h1.5M37 24.75h1.5M22 16.75h1.5M17 37.75h1.5M34 35.75h1.5M20 23.75h1.5M18 21.75h1.5M13 2.75h1.5M34 44.75h1.5M16 32.75h1.5M15 6.75h1.5M25 45.75h1.5M19 24.75h1.5M24 19.75h1.5M4 0.75h1.5M16 21.75h1.5M10 25.75h1.5M18 9.75h1.5M12 17.75h1.5M6 34.75h1.5M43 6.75h1.5M3 19.75h1.5M37 5.75h1.5M33 41.75h1.5M27 33.75h1.5M13 22.75h1.5M7 45.75h1.5M7 21.75h1.5M31 37.75h1.5M40 35.75h1.5M37 11.75h1.5M13 12.75h1.5M19 41.75h1.5M3 19.75h1.5M10 31.75h1.5M39 27.75h1.5M2 30.75h1.5M12 12.75h1.5M29 3.75h1.5M47 12.75h1.5M-1 12.75h1.5M24 9.75h1.5M23 37.75h1.5M8 38.75h1.5M25 10.75h1.5M35 12.75h1.5M34 45.75h1.5M7 19.75h1.5M13 35.75h1.5M43 5.75h1.5M45 17.75h1.5M5 24.75h1.5M27 14.75h1.5M27 37.75h1.5M6 43.75h1.5M27 30.75h1.5M13 40.75h1.5M38 33.75h1.5M43 36.75h1.5M47 27.75h1.5M-1 27.75h1.5M9 17.75h1.5M35 46.75h1.5M35 -1.25h1.5M44 33.75h1.5M45 37.75h1.5M33 31.75h1.5M41 47.75h1.5M41 -0.25h1.5M7 15.75h1.5M22 16.75h1.5M41 5.75h1.5M17 5.75h1.5M36 11.75h1.5M37 22.75h1.5M5 19.75h1.5M2 18.75h1.5M15 19.75h1.5M33 44.75h1.5M20 35.75h1.5M10 47.75h1.5M10 -0.25h1.5M14 12.75h1.5M34 21.75h1.5M7 19.75h1.5M2 20.75h1.5M41 31.75h1.5M47 34.75h1.5M-1 34.75h1.5M8 29.75h1.5M15 23.75h1.5M26 21.75h1.5M28 12.75h1.5M7 19.75h1.5M28 21.75h1.5M8 37.75h1.5M15 23.75h1.5M46 18.75h1.5M31 5.75h1.5M10 19.75h1.5M36 16.75h1.5M28 24.75h1.5M14 43.75h1.5M34 29.75h1.5M18 33.75h1.5M46 23.75h1.5M0 22.75h1.5M1 40.75h1.5M32 16.75h1.5M25 37.75h1.5M21 26.75h1.5M7 27.75h1.5M23 7.75h1.5M30 1.75h1.5M22 45.75h1.5M44 44.75h1.5M35 30.75h1.5M8 5.75h1.5M3 26.75h1.5M4 21.75h1.5M42 28.75h1.5M45 32.75h1.5M27 18.75h1.5M43 5.75h1.5M44 17.75h1.5M39 40.75h1.5M42 27.75h1.5M47 37.75h1.5M-1 37.75h1.5M47 37.75h1.5M-1 37.75h1.5M39 4.75h1.5M0 35.75h1.5M19 17.75h1.5M24 20.75h1.5M0 5.75h1.5M14 28.75h1.5M22 41.75h1.5M31 2.75h1.5M34 21.75h1.5M22 4.75h1.5M43 22.75h1.5M45 43.75h1.5M35 14.75h1.5M19 23.75h1.5M42 44.75h1.5M26 20.75h1.5M15 20.75h1.5M46 31.75h1.5M30 18.75h1.5M44 24.75h1.5M35 3.75h1.5M47 46.75h1.5M-1 46.75h1.5M47 -1.25h1.5M43 20.75h1.5M39 8.75h1.5M46 44.75h1.5M47 13.75h1.5M-1 13.75h1.5M18 31.75h1.5M25 10.75h1.5M13 33.75h1.5M7 16.75h1.5M25 42.75h1.5M23 27.75h1.5" stroke="#000" stroke-width="1.5" fill="none"/></pattern>
<pattern id="p6" patternUnits="userSpaceOnUse" width="48" height="48"><path d="M47 21.75h1.5M-1 21.75h1.5M1 17.75h1.5M5 34.75h1.5M22 23.75h1.5M46 34.75h1.5M6 33.75h1.5M15 8.75h1.5M9 26.75h1.5M15 6.75h1.5M2 33.75h1.5M30 47.75h1.5M30 -0.25h1.5M3 6.75h1.5M46 2.75h1.5M7 29.75h1.5M14 34.75h1.5M2 42.75h1.5M34 1.75h1.5M19 30.75h1.5M24 41.75h1.5M33 3.75h1.5M2 30.75h1.5M12 34.75h1.5M20 25.75h1.5M4 19.75h1.5M3 25.75h1.5M0 25.75h1.5M33 40.75h1.5M20 8.75h1.5M42 42.75h1.5M6 41.75h1.5M18 15.75h1.5M47 28.75h1.5M-1 28.75h1.5M9 21.75h1.5M15 43.75h1.5M47 43.75h1.5M-1 43.75h1.5M42 5.75h1.5M42 38.75h1.5M11 15.75h1.5M43 31.75h1.5M12 30.75h1.5M25 2.75h1.5M32 44.75h1.5M36 32.75h1.5M7 31.75h1.5M41 18.75h1.5M5 33.75h1.5M33 9.75h1.5M38 30.75h1.5M0 27.75h1.5M17 4.75h1.5M22 38.75h1.5M31 23.75h1.5M12 45.75h1.5M41 33.75h1.5M47 2.75h1.5M-1 2.75h1.5M5 4.75h1.5M46 44.75h1.5M17 17.75h1.5M27 29.75h1.5M19 4.75h1.5M32 12.75h1.5M10 45.75h1.5M37 28.75h1.5M17 12.75h1.5M25 2.75h1.5M46 33.75h1.5M6 15.75h1.5M23 12.75h1.5M44 44.75h1.5M37 35.75h1.5M47 29.75h1.5M-1 29.75h1.5M33 43.75h1.5M35 15.75h1.5M20 33.75h1.5M13 37.75h1.5M28 25.75h1.5M22 42.75h1.5M15 40.75h1.5M21 22.75h1.5M37 11.75h1.5M46 17.75h1.5M25 37.75h1.5M29 21.75h1.5M47 29.75h1.5M-1 29.75h1.5M25 25.75h1.5M11 28.75h1.5M19 15.75h1.5M7 15.75h1.5M14 17.75h1.5M24 24.75h1.5M43 39.75h1.5M12 31.75h1.5M40 4.75h1.5M35 23.75h1.5M1 31.75h1.5M26 41.75h1.5M29 45.75h1.5M5 41.75h1.5M45 21.75h1.5M3 18.75h1.5M14 29.75h1.5M43 34.75h1.5M33 11.75h1.5M41 26.75h1.5M22 19.75h1.5M38 23.75h1.5M16 42.75h1.5M21 39.75h1.5M15 20.75h1.5M33 8.75h1.5M11 3.75h1.5M36 19.75h1.5M44 22.75h1.5M28 27.75h1.5M23 13.75h1.5M3 20.75h1.5M19 5.75h1.5M25 1.75h1.5M46 31.75h1.5M20 5.75h1.5M14 36.75h1.5M31 25.75h1.5M26 38.75h1.5M47 39.75h1.5M-1 39.75h1.5M42 41.75h1.5M27 28.75h1.5M2 21.75h1.5M39 33.75h1.5M29 19.75h1.5M40 18.75h1.5M34 0.75h1.5M9 15.75h1.5M28 31.75h1.5M32 6.75h1.5M17 30.75h1.5M21 38.75h1.5M39 41.75h1.5M32 33.75h1.5M10 33.75h1.5M33 33.75h1.5M29 7.75h1.5M4 1.75h1.5M18 11.75h1.5M46 40.75h1.5M19 46.75h1.5M19 -1.25h1.5M34 30.75h1.5M1 42.75h1.5M7 47.75h1.5M7 -0.25h1.5M26 1.75h1.5M3 3.75h1.5M17 10.75h1.5M36 2.75h1.5M12 32.75h1.5M19 28.75h1.5M15 0.75h1.5M8 7.75h1.5M25 5.75h1.5M31 38.75h1.5M10 29.75h1.5M29 8.75h1.5M32 3.75h1.5M18 16.75h1.5M10 46.75h1.5M10 -1.25h1.5M33 35.75h1.5M8 2.75h1.5M18 3.75h1.5M42 35.75h1.5M3 36.75h1.5M22 26.75h1.5M27 20.75h1.5M7 34.75h1.5M6 38.75h1.5M8 25.75h1.5M5 20.75h1.5M39 28.75h1.5M3 31.75h1.5M42 41.75h1.5M37 8.75h1.5M32 24.75h1.5M46 42.75h1.5M46 46.75h1.5M46 -1.25h1.5M6 38.75h1.5M18 10.75h1.5M46 10.75h1.5M38 31.75h1.5M26 12.75h1.5M18 22.75h1.5M1 46.75h1.5M1 -1.25h1.5M47 21.75h1.5M-1 21.75h1.5M44 47.75h1.5M44 -0.25h1.5M35 34.75h1.5M34 5.75h1.5M36 30.75h1.5M10 31.75h1.5M9 39.75h1.5M5 17.75h1.5M42 4.75h1.5M23 45.75h1.5M43 4.75h1.5M30 1.75h1.5M6 15.75h1.5M43 2.75h1.5M12 1.75h1.5M44 46.75h1.5M44 -1.25h1.5M8 15.75h1.5M10 37.75h1.5M33 14.75h1.5M30 18.75h1.5M11 22.75h1.5M7 45.75h1.5M39 46.75h1.5M39 -1.25h1.5M47 9.75h1.5M-1 9.75h1.5M47 0.75h1.5M-1 0.75h1.5M20 32.75h1.5M17 15.75h1.5M46 8.75h1.5M4 11.75h1.5M12 26.75h1.5M3 2.75h1.5M7 16.75h1.5M3 31.75h1.5M20 34.75h1.5M35 12.75h1.5M42 45.75h1.5M33 9.75h1.5M7 25.75h1.5M38 46.75h1.5M38 -1.25h1.5M29 29.75h1.5M35 40.75h1.5M38 47.75h1.5M38 -0.25h1.5M21 14.75h1.5M43 0.75h1.5M29 23.75h1.5M37 1.75h1.5M21 41.75h1.5M23 33.75h1.5M43 47.75h1.5M43 -0.25h1.5M5 2.75h1.5M3 46.75h1.5M3 -1.25h1.5M34 16.75h1.5M16 8.75h1.5M12 22.75h1.5M4 14.75h1.5M9 15.75h1.5M39 11.75h1.5M40 21.75h1.5M14 3.75h1.5M9 18.75h1.5M11 1.75h1.5M1 15.75h1.5M3 16.75h1.5M13 14.75h1.5M15 9.75h1.5M6 20.75h1.5M39 37.75h1.5M11 32.75h1.5M31 42.75h1.5M28 5.75h1.5M33 23.75h1.5M43 28.75h1.5M43 37.75h1.5M43 41.75h1.5M39 4.75h1.5M29 40.75h1.5M35 34.75h1.5M32 17.75h1.5M30 14.75h1.5M28 17.75h1.5M31 28.75h1.5M37 32.75h1.5M23 35.75h1.5M13 17.75h1.5M43 14.75h1.5M4 30.75h1.5M24 10.75h1.5M11 26.75h1.5M39 23.75h1.5M21 34.75h1.5M44 19.75h1.5M40 43.75h1.5M4 21.75h1.5M1 1.75h1.5M31 4.75h1.5M29 28.75h1.5M14 34.75h1.5M36 5.75h1.5M12 6.75h1.5M22 25.75h1.5M29 4.75h1.5M36 24.75h1.5M18 18.75h1.5M29 16.75h1.5M33 36.75h1.5M46 12.75h1.5M32 30.75h1.5M4 28.75h1.5M44 44.75h1.5M33 17.75h1.5M4 31.75h1.5M23 20.75h1.5M14 3.75h1.5M14 13.75h1.5M12 13.75h1.5M16 28.75h1.5M39 18.75h1.5M16 45.75h1.5M28 28.75h1.5M17 42.75h1.5M40 15.75h1.5M12 25.75h1.5M12 22.75h1.5M6 46.75h1.5M6 -1.25h1.5M25 38.75h1.5M24 35.75h1.5M22 45.75h1.5M35 39.75h1.5M4 3.75h1.5M35 23.75h1.5M23 9.75h1.5M22 16.75h1.5M18 14.75h1.5M32 30.75h1.5M18 23.75h1.5M22 1.75h1.5M2 45.75h1.5M24 3.75h1.5M22 22.75h1.5M40 19.75h1.5M23 2.75h1.5M13 23.75h1.5M30 20.75h1.5M44 8.75h1.5M39 32.75h1.5M43 42.75h1.5M10 33.75h1.5M34 14.75h1.5M40 47.75h1.5M40 -0.25h1.5M33 9.75h1.5M36 39.75h1.5M43 35.75h1.5M9 9.75h1.5M27 14.75h1.5M6 10.75h1.5M1 8.75h1.5M11 24.75h1.5M12 24.75h1.5M11 10.75h1.5M10 24.75h1.5M1 25.75h1.5M45 7.75h1.5M26 37.75h1.5M14 47.75h1.5M14 -0.25h1.5M39 35.75h1.5M5 47.75h1.5M5 -0.25h1.5M0 25.75h1.5M4 4.75h1.5M24 17.75h1.5M7 20.75h1.5M26 11.75h1.5M6 47.75h1.5M6 -0.25h1.5M31 24.75h1.5M41 14.75h1.5M26 34.75h1.5M0 34.75h1.5M47 47.75h1.5M-1 47.75h1.5M47 -0.25h1.5M41 25.75h1.5M12 1.75h1.5M7 27.75h1.5M18 13.75h1.5M20 46.75h1.5M20 -1.25h1.5M5 12.75h1.5M40 4.75h1.5M47 18.75h1.5M-1 18.75h1.5M17 30.75h1.5M20 30.75h1.5M22 5.75h1.5M28 40.75h1.5M0 20.75h1.5M24 17.75h1.5M6 2.75h1.5M35 35.75h1.5M30 10.75h1.5M22 15.75h1.5M33 10.75h1.5M32 30.75h1.5M25 45.75h1.5M4 2.75h1.5M31 10.75h1.5M1 9.75h1.5M26 27.75h1.5M35 35.75h1.5M12 14.75h1.5M14 40.75h1.5M8 12.75h1.5M35 44.75h1.5M23 2.75h1.5M30 38.75h1.5M22 17.75h1.5M21 11.75h1.5M45 20.75h1.5M39 40.75h1.5M15 11.75h1.5M44 44.75h1.5M40 8.75h1.5M0 21.75h1.5M11 3.75h1.5M46 35.75h1.5M33 46.75h1.5M33 -1.25h1.5M40 33.75h1.5M46 37.75h1.5M4 4.75h1.5M44 45.75h1.5M12 7.75h1.5M46 23.75h1.5M6 4.75h1.5M10 34.75h1.5M36 47.75h1.5M36 -0.25h1.5M24 3.75h1.5M2 27.75h1.5M3 20.75h1.5M41 12.75h1.5M9 7.75h1.5M16 44.75h1.5M23 44.75h1.5M5 5.75h1.5M40 9.75h1.5M34 3.75h1.5M10 8.75h1.5M44 16.75h1.5M7 40.75h1.5M47 3.75h1.5M-1 3.75h1.5M45 29.75h1.5M42 17.75h1.5M14 9.75h1.5M14 36.75h1.5M9 42.75h1.5M29 43.75h1.5M44 28.75h1.5M38 17.75h1.5M18 5.75h1.5M16 41.75h1.5M34 2.75h1.5M8 33.75h1.5M24 40.75h1.5M7 34.75h1.5M2 30.75h1.5M31 25.75h1.5M35 29.75h1.5M30 35.75h1.5M25 25.75h1.5M46 44.75h1.5M36 21.75h1.5M0 30.75h1.5M27 41.75h1.5M45 35.75h1.5M19 13.75h1.5M21 47.75h1.5M21 -0.25h1.5M37 13.75h1.5M38 23.75h1.5M14 6.75h1.5M41 27.75h1.5M14 31.75h1.5M34 32.75h1.5M18 21.75h1.5M30 18.75h1.5M26 14.75h1.5M13 20.75h1.5M17 31.75h1.5M25 32.75h1.5M7 20.75h1.5M1 5.75h1.5M6 4.75h1.5M0 36.75h1.5M1 35.75h1.5M46 4.75h1.5M27 41.75h1.5M25 44.75h1.5M38 11.75h1.5M2 15.75h1.5M43 24.75h1.5M24 27.75h1.5M0 5.75h1.5M1 47.75h1.5M1 -0.25h1.5M10 42.75h1.5M19 5.75h1.5M42 18.75h1.5M2 47.75h1.5M2 -0.25h1.5M9 45.75h1.5M25 5.75h1.5M23 17.75h1.5M27 22.75h1.5M38 43.75h1.5M39 34.75h1.5M14 35.75h1.5M8 41.75h1.5M13 34.75h1.5M36 28.75h1.5M17 40.75h1.5M39 41.75h1.5M4 36.75h1.5M14 18.75h1.5M37 15.75h1.5M5 27.75h1.5M12 37.75h1.5M7 23.75h1.5M35 15.75h1.5M31 12.75h1.5M25 13.75h1.5M20 32.75h1.5M28 26.75h1.5M45 5.75h1.5M7 40.75h1.5M34 21.75h1.5M43 14.75h1.5M25 40.75h1.5M34 20.75h1.5M7 10.75h1.5M21 42.75h1.5M25 47.75h1.5M25 -0.25h1.5M29 21.75h1.5M14 39.75h1.5M5 7.75h1.5M30 26.75h1.5M42 18.75h1.5M20 1.75h1.5M44 36.75h1.5M42 7.75h1.5M25 4.75h1.5M2 39.75h1.5M1 4.75h1.5M18 25.75h1.5M3 6.75h1.5M18 28.75h1.5M20 4.75h1.5M25 26.75h1.5M17 27.75h1.5M21 21.75h1.5M2 18.75h1.5M28 5.75h1.5M44 22.75h1.5M31 39.75h1.5M13 26.75h1.5M12 10.75h1.5M36 10.75h1.5M8 26.75h1.5M17 28.75h1.5M29 18.75h1.5M20 29.75h1.5M3 34.75h1.5M16 27.75h1.5M1 12.75h1.5M40 47.75h1.5M40 -0.25h1.5M18 29.75h1.5M37 5.75h1.5M22 17.75h1.5M13 28.75h1.5M25 20.75h1.5M5 9.75h1.5M0 45.75h1.5M23 27.75h1.5M7 1.75h1.5M9 37.75h1.5M14 31.75h1.5M43 30.75h1.5M9 9.75h1.5M42 8.75h1.5M40 43.75h1.5M10 10.75h1.5M38 6.75h1.5M2 12.75h1.5M4 5.75h1.5M20 47.75h1.5M20 -0.25h1.5M12 5.75h1.5M12 7.75h1.5M45 28.75h1.5M9 44.75h1.5M34 19.75h1.5M32 41.75h1.5M19 37.75h1.5M38 34.75h1.5M24 37.75h1.5M4 16.75h1.5M20 11.75h1.5M10 33.75h1.5M1 18.75h1.5M16 43.75h1.5M46 14.75h1.5M40 17.75h1.5M13 39.75h1.5M6 4.75h1.5M33 1.75h1.5M5 3.75h1.5M39 29.75h1.5M35 31.75h1.5M4 20.75h1.5M16 17.75h1.5M28 34.75h1.5M46 46.75h1.5M46 -1.25h1.5M37 20.75h1.5M39 25.75h1.5M40 3.75h1.5M12 43.75h1.5M12 24.75h1.5M22 12.75h1.5M28 8.75h1.5M7 30.75h1.5M20 35.75h1.5M20 20.75h1.5M1 34.75h1.5M28 16.75h1.5M15 3.75h1.5M6 4.75h1.5M41 1.75h1.5M26 17.75h1.5M25 36.75h1.5M47 33.75h1.5M-1 33.75h1.5M46 44.75h1.5M44 10.75h1.5M9 24.75h1.5M36 20.75h1.5M36 1.75h1.5M10 34.75h1.5M22 14.75h1.5M46 8.75h1.5M27 32.75h1.5M41 20.75h1.5M42 47.75h1.5M42 -0.25h1.5M43 3.75h1.5M31 27.75h1.5M8 35.75h1.5M34 23.75h1.5M46 11.75h1.5M26 22.75h1.5M24 32.75h1.5M3 40.75h1.5M35 8.75h1.5M15 30.75h1.5M36 41.75h1.5M4 6.75h1.5M46 38.75h1.5M10 12.75h1.5M47 12.75h1.5M-1 12.75h1.5M42 47.75h1.5M42 -0.25h1.5M32 47.75h1.5M32 -0.25h1.5M21 11.75h1.5M9 37.75h1.5M43 10.75h1.5M32 7.75h1.5M34 36.75h1.5M12 9.75h1.5M44 5.75h1.5M0 39.75h1.5M23 38.75h1.5M47 12.75h1.5M-1 12.75h1.5M42 9.75h1.5M39 2.75h1.5M39 14.75h1.5M24 31.75h1.5M30 17.75h1.5M30 33.75h1.5M42 23.75h1.5M45 19.75h1.5M32 13.75h1.5M47 25.75h1.5M-1 25.75h1.5M30 34.75h1.5M10 17.75h1.5M20 41.75h1.5M8 20.75h1.5M41 17.75h1.5M32 45.75h1.5M8 13.75h1.5M0 41.75h1.5M11 30.75h1.5M25 44.75h1.5M6 38.75h1.5M36 45.75h1.5M9 41.75h1.5M37 6.75h1.5M18 6.75h1.5M12 45.75h1.5M14 17.75h1.5M12 0.75h1.5M46 21.75h1.5M47 2.75h1.5M-1 2.75h1.5M21 22.75h1.5M45 29.75h1.5M17 15.75h1.5M22 30.75h1.5M25 36.75h1.5M34 38.75h1.5M39 42.75h1.5M6 9.75h1.5M23 1.75h1.5M44 15.75h1.5M20 42.75h1.5M12 35.75h1.5M46 38.75h1.5M30 33.75h1.5M27 28.75h1.5M19 28.75h1.5M37 27.75h1.5M43 17.75h1.5M28 3.75h1.5M34 7.75h1.5M38 30.75h1.5M42 30.75h1.5M3 45.75h1.5M29 13.75h1.5M29 9.75h1.5M8 46.75h1.5M8 -1.25h1.5M45 29.75h1.5M28 24.75h1.5M37 20.75h1.5M22 9.75h1.5M14 7.75h1.5M11 1.75h1.5M40 44.75h1.5M46 17.75h1.5M19 44.75h1.5M0 1.75h1.5M15 26.75h1.5M16 18.75h1.5M18 32.75h1.5M4 33.75h1.5M37 17.75h1.5M1 38.75h1.5M41 1.75h1.5M27 41.75h1.5M40 3.75h1.5M20 24.75h1.5M20 6.75h1.5M42 7.75h1.5M27 16.75h1.5M0 14.75h1.5M1 33.75h1.5M33 10.75h1.5M13 45.75h1.5M3 23.75h1.5M47 21.75h1.5M-1 21.75h1.5M47 3.75h1.5M-1 3.75h1.5M12 4.75h1.5M9 45.75h1.5M16 46.75h1.5M16 -1.25h1.5M17 7.75h1.5M3 42.75h1.5M3 25.75h1.5M31 14.75h1.5M32 7.75h1.5M34 30.75h1.5M22 37.75h1.5M11 26.75h1.5M0 11.75h1.5M36 39.75h1.5M43 6.75h1.5M11 40.75h1.5M45 32.75h1.5M9 9.75h1.5M27 7.75h1.5M0 44.75h1.5M3 9.75h1.5M33 40.75h1.5M31 0.75h1.5M14 4.75h1.5M40 7.75h1.5M34 36.75h1.5M24 4.75h1.5M9 20.75h1.5M18 13.75h1.5M0 36.75h1.5M22 2.75h1.5M11 24.75h1.5M19 21.75h1.5M42 1.75h1.5M7 14.75h1.5M12 39.75h1.5M11 21.75h1.5M23 37.75h1.5M7 2.75h1.5M29 27.75h1.5M15 14.75h1.5M3 36.75h1.5M24 42.75h1.5M42 31.75h1.5M33 12.75h1.5M31 0.75h1.5M5 5.75h1.5M43 39.75h1.5M35 35.75h1.5M36 10.75h1.5M20 43.75h1.5M5 22.75h1.5M17 26.75h1.5M41 12.75h1.5M46 39.75h1.5M9 34.75h1.5M24 46.75h1.5M24 -1.25h1.5M5 10.75h1.5M9 20.75h1.5M26 0.75h1.5M4 45.75h1.5M19 37.75h1.5M0 37.75h1.5M41 35.75h1.5M9 35.75h1.5M23 11.75h1.5M24 14.75h1.5M46 12.75h1.5M28 15.75h1.5M33 37.75h1.5M4 31.75h1.5M33 39.75h1.5M44 2.75h1.5M4 22.75h1.5M23 10.75h1.5M33 32.75h1.5M29 46.75h1.5M29 -1.25h1.5M31 26.75h1.5M15 30.75h1.5M23 37.75h1.5M38 1.75h1.5M33 0.75h1.5M22 26.75h1.5M20 43.75h1.5M8 16.75h1.5M12 9.75h1.5M26 17.75h1.5M41 30.75h1.5M47 46.75h1.5M-1 46.75h1.5M47 -1.25h1.5M38 33.75h1.5M43 39.75h1.5M12 43.75h1.5M18 4.75h1.5M4 8.75h1.5M26 7.75h1.5M42 5.75h1.5M15 24.75h1.5M37 1.75h1.5M13 44.75h1.5M34 2.75h1.5M4 9.75h1.5M16 32.75h1.5M31 5.75h1.5M35 43.75h1.5M9 22.75h1.5M9 17.75h1.5M36 27.75h1.5M11 39.75h1.5M40 17.75h1.5M44 3.75h1.5M22 4.75h1.5M46 25.75h1.5M2 18.75h1.5M41 43.75h1.5M40 2.75h1.5M13 37.75h1.5M27 8.75h1.5M37 15.75h1.5M30 38.75h1.5M12 39.75h1.5M32 43.75h1.5M36 20.75h1.5M25 45.75h1.5M39 36.75h1.5M35 4.75h1.5M43 5.75h1.5M6 16.75h1.5M45 22.75h1.5M15 10.75h1.5M40 19.75h1.5M7 45.75h1.5M5 4.75h1.5M41 32.75h1.5M9 29.75h1.5M33 44.75h1.5M18 13.75h1.5M7 38.75h1.5M19 33.75h1.5M10 10.75h1.5M36 26.75h1.5M46 10.75h1.5M10 41.75h1.5M1 32.75h1.5M2 3.75h1.5M42 11.75h1.5M45 37.75h1.5M41 23.75h1.5M45 0.75h1.5M41 8.75h1.5M2 46.75h1.5M2 -1.25h1.5M44 32.75h1.5M45 44.75h1.5M3 21.75h1.5M2 25.75h1.5M30 46.75h1.5M30 -1.25h1.5M31 27.75h1.5M36 30.75h1.5M20 36.75h1.5M4 24.75h1.5M46 5.75h1.5M26 16.75h1.5M5 0.75h1.5M21 36.75h1.5M39 12.75h1.5M6 11.75h1.5M28 5.75h1.5M25 37.75h1.5M19 34.75h1.5M15 35.75h1.5M5 25.75h1.5M27 9.75h1.5M14 12.75h1.5M33 28.75h1.5M36 34.75h1.5M27 11.75h1.5M12 12.75h1.5M18 31.75h1.5M1 33.75h1.5M21 26.75h1.5M47 20.75h1.5M-1 20.75h1.5M11 29.75h1.5M27 39.75h1.5M40 7.75h1.5M13 39.75h1.5M37 5.75h1.5M0 26.75h1.5M23 10.75h1.5M46 22.75h1.5M18 41.75h1.5M39 22.75h1.5M45 41.75h1.5M38 25.75h1.5M45 26.75h1.5M28 25.75h1.5M1 43.75h1.5M47 26.75h1.5M-1 26.75h1.5M25 43.75h1.5M22 42.75h1.5M10 44.75h1.5M24 17.75h1.5M3 18.75h1.5M43 15.75h1.5M21 5.75h1.5M31 1.75h1.5M32 27.75h1.5M30 17.75h1.5M23 14.75h1.5M9 1.75h1.5M29 47.75h1.5M29 -0.25h1.5M28 20.75h1.5M20 7.75h1.5M24 20.75h1.5M30 10.75h1.5M17 39.75h1.5M43 8.75h1.5M32 23.75h1.5M46 38.75h1.5M32 28.75h1.5M0 28.75h1.5M33 27.75h1.5M42 30.75h1.5M11 47.75h1.5M11 -0.25h1.5M34 38.75h1.5M6 35.75h1.5M29 24.75h1.5M36 46.75h1.5M36 -1.25h1.5M20 24.75h1.5M8 41.75h1.5M43 43.75h1.5M8 3.75h1.5M22 46.75h1.5M22 -1.25h1.5M47 1.75h1.5M-1 1.75h1.5M27 46.75h1.5M27 -1.25h1.5M29 10.75h1.5M23 5.75h1.5M27 43.75h1.5M7 4.75h1.5M12 8.75h1.5M30 45.75h1.5M44 27.75h1.5M17 44.75h1.5M4 47.75h1.5M4 -0.25h1.5M2 10.75h1.5M13 29.75h1.5M22 32.75h1.5M21 42.75h1.5M19 44.75h1.5M12 7.75h1.5" stroke="#000" stroke-width="1.5" fill="none"/></pattern>
<pattern id="p7" patternUnits="userSpaceOnUse" width="48" height="48"><path d="M31 21.75h1.5M22 22.75h1.5M24 13.75h1.5M35 6.75h1.5M23 44.75h1.5M3 14.75h1.5M19 27.75h1.5M47 20.75h1.5M-1 20.75h1.5M8 46.75h1.5M8 -1.25h1.5M39 37.75h1.5M11 28.75h1.5M10 9.75h1.5M1 41.75h1.5M5 41.75h1.5M34 31.75h1.5M46 35.75h1.5M13 32.75h1.5M15 36.75h1.5M4 23.75h1.5M44 33.75h1.5M13 17.75h1.5M44 46.75h1.5M44 -1.25h1.5M25 25.75h1.5M11 3.75h1.5M34 23.75h1.5M42 35.75h1.5M42 8.75h1.5M5 32.75h1.5M13 26.75h1.5M27 34.75h1.5M6 42.75h1.5M21 43.75h1.5M6 46.75h1.5M6 -1.25h1.5M2 13.75h1.5M16 37.75h1.5M28 27.75h1.5M47 12.75h1.5M-1 12.75h1.5M20 44.75h1.5M8 8.75h1.5M6 8.75h1.5M31 0.75h1.5M8 33.75h1.5M13 23.75h1.5M22 47.75h1.5M22 -0.25h1.5M21 31.75h1.5M16 1.75h1.5M11 39.75h1.5M32 46.75h1.5M32 -1.25h1.5M24 17.75h1.5M11 44.75h1.5M22 14.75h1.5M18 14.75h1.5M11 24.75h1.5M43 27.75h1.5M8 38.75h1.5M41 11.75h1.5M23 11.75h1.5M26 0.75h1.5M47 17.75h1.5M-1 17.75h1.5M41 41.75h1.5M30 13.75h1.5M9 4.75h1.5M19 46.75h1.5M19 -1.25h1.5M20 45.75h1.5M7 12.75h1.5M8 44.75h1.5M44 30.75h1.5M35 44.75h1.5M11 30.75h1.5M35 41.75h1.5M12 23.75h1.5M10 6.75h1.5M9 4.75h1.5M1 27.75h1.5M25 44.75h1.5M44 12.75h1.5M41 21.75h1.5M26 40.75h1.5M44 24.75h1.5M18 44.75h1.5M21 46.75h1.5M21 -1.25h1.5M41 28.75h1.5M24 7.75h1.5M39 18.75h1.5M8 23.75h1.5M10 24.75h1.5M24 11.75h1.5M5 43.75h1.5M30 13.75h1.5M40 24.75h1.5M38 2.75h1.5M10 43.75h1.5M30 19.75h1.5M43 42.75h1.5M40 23.75h1.5M29 13.75h1.5M6 24.75h1.5M14 45.75h1.5M8 22.75h1.5M29 17.75h1.5M5 4.75h1.5M29 13.75h1.5M8 3.75h1.5M31 37.75h1.5M26 21.75h1.5M6 37.75h1.5M45 8.75h1.5M4 32.75h1.5M37 34.75h1.5M27 44.75h1.5M39 27.75h1.5M0 27.75h1.5M10 11.75h1.5M31 40.75h1.5M26 4.75h1.5M38 34.75h1.5M41 38.75h1.5M9 44.75h1.5M45 39.75h1.5M15 27.75h1.5M32 47.75h1.5M32 -0.25h1.5M8 22.75h1.5M0 0.75h1.5M4 17.75h1.5M12 45.75h1.5M31 8.75h1.5M27 16.75h1.5M15 4.75h1.5M23 38.75h1.5M4 28.75h1.5M33 5.75h1.5M22 0.75h1.5M25 6.75h1.5M13 35.75h1.5M40 41.75h1.5M5 33.75h1.5M20 24.75h1.5M37 44.75h1.5M44 14.75h1.5M2 10.75h1.5M45 3.75h1.5M24 37.75h1.5M25 46.75h1.5M25 -1.25h1.5M44 16.75h1.5M44 22.75h1.5M27 44.75h1.5M40 47.75h1.5M40 -0.25h1.5M18 18.75h1.5M8 1.75h1.5M25 6.75h1.5M1 7.75h1.5M46 42.75h1.5M36 10.75h1.5M0 29.75h1.5M45 7.75h1.5M40 35.75h1.5M16 35.75h1.5M42 10.75h1.5M14 16.75h1.5M25 30.75h1.5M29 19.75h1.5M26 43.75h1.5M25 24.75h1.5M42 34.75h1.5M1 23.75h1.5M44 25.75h1.5M11 23.75h1.5M18 29.75h1.5M42 3.75h1.5M22 17.75h1.5M46 44.75h1.5M8 29.75h1.5M47 20.75h1.5M-1 20.75h1.5M33 3.75h1.5M6 7.75h1.5M40 37.75h1.5M9 5.75h1.5M18 25.75h1.5M23 17.75h1.5M46 29.75h1.5M47 0.75h1.5M-1 0.75h1.5M18 40.75h1.5M36 47.75h1.5M36 -0.25h1.5M14 25.75h1.5M11 25.75h1.5M32 44.75h1.5M9 22.75h1.5M5 47.75h1.5M5 -0.25h1.5M5 45.75h1.5M45 47.75h1.5M45 -0.25h1.5M32 39.75h1.5M18 15.75h1.5M17 29.75h1.5M16 30.75h1.5M41 4.75h1.5M1 5.75h1.5M29 25.75h1.5M30 29.75h1.5M39 1.75h1.5M4 28.75h1.5M45 35.75h1.5M17 18.75h1.5M22 38.75h1.5M25 11.75h1.5M30 28.75h1.5M46 9.75h1.5M35 47.75h1.5M35 -0.25h1.5M25 15.75h1.5M25 4.75h1.5M37 13.75h1.5M34 17.75h1.5M29 4.75h1.5M5 42.75h1.5M40 4.75h1.5M21 37.75h1.5M39 28.75h1.5M45 16.75h1.5M37 32.75h1.5M20 5.75h1.5M37 31.75h1.5M32 37.75h1.5M33 19.75h1.5M12 18.75h1.5M26 34.75h1.5M20 1.75h1.5M1 36.75h1.5M2 36.75h1.5M46 4.75h1.5M12 2.75h1.5M0 33.75h1.5M10 34.75h1.5M22 37.75h1.5M42 45.75h1.5M21 1.75h1.5M24 7.75h1.5M41 46.75h1.5M41 -1.25h1.5M25 1.75h1.5M25 2.75h1.5M25 3.75h1.5M36 26.75h1.5M42 21.75h1.5M41 17.75h1.5M3 15.75h1.5M40 1.75h1.5M4 18.75h1.5M11 46.75h1.5M11 -1.25h1.5M29 6.75h1.5M8 25.75h1.5M37 14.75h1.5M15 23.75h1.5M12 45.75h1.5M23 27.75h1.5M25 14.75h1.5M28 4.75h1.5M45 44.75h1.5M33 21.75h1.5M12 17.75h1.5M43 3.75h1.5M42 31.75h1.5M14 4.75h1.5M4 36.75h1.5M24 31.75h1.5M37 40.75h1.5M11 32.75h1.5M22 28.75h1.5M0 35.75h1.5M25 28.75h1.5M23 38.75h1.5M3 21.75h1.5M29 22.75h1.5M33 21.75h1.5M44 9.75h1.5M22 18.75h1.5M5 40.75h1.5M8 37.75h1.5M3 33.75h1.5M33 10.75h1.5M45 7.75h1.5M9 2.75h1.5M11 22.75h1.5M33 44.75h1.5M22 7.75h1.5M16 3.75h1.5M12 47.75h1.5M12 -0.25h1.5M4 10.75h1.5M11 18.75h1.5M26 44.75h1.5M37 5.75h1.5M25 13.75h1.5M4 10.75h1.5M1 36.75h1.5M17 7.75h1.5M2 33.75h1.5M42 5.75h1.5M43 43.75h1.5M5 39.75h1.5M31 17.75h1.5M0 36.75h1.5M20 42.75h1.5M3 8.75h1.5M16 25.75h1.5M4 47.75h1.5M4 -0.25h1.5M12 42.75h1.5M15 9.75h1.5M14 16.75h1.5M28 42.75h1.5M46 1.75h1.5M12 47.75h1.5M12 -0.25h1.5M30 14.75h1.5M4 31.75h1.5M40 33.75h1.5M37 40.75h1.5M27 45.75h1.5M36 44.75h1.5M11 1.75h1.5M16 3.75h1.5M37 15.75h1.5M38 1.75h1.5M6 12.75h1.5M42 39.75h1.5M3 17.75h1.5M15 26.75h1.5M13 34.75h1.5M16 41.75h1.5M16 21.75h1.5M2 32.75h1.5M7 11.75h1.5M41 9.75h1.5M20 43.75h1.5M13 12.75h1.5M13 22.75h1.5M31 13.75h1.5M41 39.75h1.5M37 1.75h1.5M36 8.75h1.5M36 36.75h1.5M28 25.75h1.5M3 1.75h1.5M45 2.75h1.5M9 34.75h1.5M37 14.75h1.5M2 6.75h1.5M31 35.75h1.5M37 8.75h1.5M12 18.75h1.5M31 43.75h1.5M42 37.75h1.5M40 36.75h1.5M45 21.75h1.5M44 23.75h1.5M4 6.75h1.5M16 22.75h1.5M37 22.75h1.5M18 29.75h1.5M14 41.75h1.5M5 18.75h1.5M11 16.75h1.5M17 19.75h1.5M16 2.75h1.5M45 12.75h1.5M21 10.75h1.5M25 32.75h1.5M0 30.75h1.5M18 4.75h1.5M4 33.75h1.5M31 3.75h1.5M6 29.75h1.5M35 26.75h1.5M3 34.75h1.5M46 19.75h1.5M0 44.75h1.5M43 39.75h1.5M40 20.75h1.5M29 41.75h1.5M45 34.75h1.5M22 46.75h1.5M22 -1.25h1.5M11 1.75h1.5M37 34.75h1.5M38 3.75h1.5M0 28.75h1.5M30 9.75h1.5M26 12.75h1.5M14 27.75h1.5M7 8.75h1.5M40 30.75h1.5M31 10.75h1.5M25 47.75h1.5M25 -0.25h1.5M14 38.75h1.5M23 12.75h1.5M43 30.75h1.5M36 40.75h1.5M0 16.75h1.5M34 26.75h1.5M39 1.75h1.5M5 4.75h1.5M41 2.75h1.5M21 20.75h1.5M46 23.75h1.5M16 17.75h1.5M7 15.75h1.5M30 44.75h1.5M20 7.75h1.5M21 16.75h1.5M3 8.75h1.5M26 22.75h1.5M18 38.75h1.5M11 40.75h1.5M3 46.75h1.5M3 -1.25h1.5M12 46.75h1.5M12 -1.25h1.5M10 39.75h1.5M1 13.75h1.5M41 29.75h1.5M27 2.75h1.5M37 17.75h1.5M29 12.75h1.5M39 36.75h1.5M32 1.75h1.5M44 34.75h1.5M20 43.75h1.5M29 36.75h1.5M16 31.75h1.5M45 40.75h1.5M42 23.75h1.5M20 12.75h1.5M38 3.75h1.5M15 4.75h1.5M41 33.75h1.5M10 11.75h1.5M3 9.75h1.5M38 16.75h1.5M5 13.75h1.5M22 32.75h1.5M1 39.75h1.5M36 6.75h1.5M2 19.75h1.5M38 33.75h1.5M36 47.75h1.5M36 -0.25h1.5M43 25.75h1.5M36 40.75h1.5M34 31.75h1.5M32 24.75h1.5M42 46.75h1.5M42 -1.25h1.5M43 14.75h1.5M14 10.75h1.5M33 1.75h1.5M36 37.75h1.5M44 19.75h1.5M33 22.75h1.5M31 24.75h1.5M44 22.75h1.5M9 12.75h1.5M28 18.75h1.5M17 43.75h1.5M8 1.75h1.5M47 24.75h1.5M-1 24.75h1.5M21 45.75h1.5M21 4.75h1.5M47 32.75h1.5M-1 32.75h1.5M35 20.75h1.5M46 14.75h1.5M28 16.75h1.5M26 28.75h1.5M39 27.75h1.5M8 33.75h1.5M43 26.75h1.5M20 2.75h1.5M34 40.75h1.5M17 5.75h1.5M31 39.75h1.5M16 42.75h1.5M42 23.75h1.5M9 0.75h1.5M32 11.75h1.5M1 7.75h1.5M11 46.75h1.5M11 -1.25h1.5M16 41.75h1.5M7 1.75h1.5M15 22.75h1.5M18 13.75h1.5M42 23.75h1.5M34 38.75h1.5M0 29.75h1.5M28 10.75h1.5M21 14.75h1.5M21 3.75h1.5M29 1.75h1.5M4 7.75h1.5M44 24.75h1.5M46 34.75h1.5M27 29.75h1.5M17 24.75h1.5M38 2.75h1.5M0 41.75h1.5M7 35.75h1.5M30 2.75h1.5M5 15.75h1.5M5 22.75h1.5M39 31.75h1.5M7 37.75h1.5M13 7.75h1.5M11 42.75h1.5M36 28.75h1.5M46 43.75h1.5M0 43.75h1.5M23 45.75h1.5M35 17.75h1.5M25 36.75h1.5M34 24.75h1.5M3 5.75h1.5M16 28.75h1.5M24 14.75h1.5M34 45.75h1.5M26 6.75h1.5M30 23.75h1.5M9 46.75h1.5M9 -1.25h1.5M44 20.75h1.5M23 27.75h1.5M4 38.75h1.5M39 34.75h1.5M31 20.75h1.5M33 38.75h1.5M14 36.75h1.5M3 27.75h1.5M35 11.75h1.5M43 46.75h1.5M43 -1.25h1.5M30 6.75h1.5M18 14.75h1.5M11 6.75h1.5M40 0.75h1.5M32 1.75h1.5M42 2.75h1.5M38 8.75h1.5M12 44.75h1.5M45 6.75h1.5M19 28.75h1.5M24 23.75h1.5M47 12.75h1.5M-1 12.75h1.5M34 45.75h1.5M32 18.75h1.5M19 21.75h1.5M19 29.75h1.5M3 23.75h1.5M18 14.75h1.5M34 22.75h1.5M22 22.75h1.5M29 37.75h1.5M43 34.75h1.5M16 13.75h1.5M21 5.75h1.5M0 15.75h1.5M27 1.75h1.5M37 43.75h1.5M36 17.75h1.5M11 32.75h1.5M27 0.75h1.5M41 37.75h1.5M41 27.75h1.5M16 9.75h1.5M9 42.75h1.5M24 10.75h1.5M8 40.75h1.5M15 29.75h1.5M17 22.75h1.5M35 40.75h1.5M13 16.75h1.5M26 42.75h1.5M38 46.75h1.5M38 -1.25h1.5M15 29.75h1.5M2 17.75h1.5M33 12.75h1.5M18 38.75h1.5M26 24.75h1.5M44 15.75h1.5M1 23.75h1.5M33 43.75h1.5M30 2.75h1.5M45 29.75h1.5M19 22.75h1.5M40 25.75h1.5M20 17.75h1.5M40 14.75h1.5M18 20.75h1.5M31 43.75h1.5M5 38.75h1.5M34 13.75h1.5M26 42.75h1.5M30 32.75h1.5M34 23.75h1.5M19 13.75h1.5M26 12.75h1.5M25 4.75h1.5M0 47.75h1.5M0 -0.25h1.5M13 35.75h1.5M42 21.75h1.5M22 38.75h1.5M24 13.75h1.5M1 14.75h1.5M27 41.75h1.5M46 25.75h1.5M24 30.75h1.5M18 39.75h1.5M24 39.75h1.5M13 0.75h1.5M6 46.75h1.5M6 -1.25h1.5M39 20.75h1.5M5 31.75h1.5M38 38.75h1.5M19 43.75h1.5M3 47.75h1.5M3 -0.25h1.5M6 21.75h1.5M2 47.75h1.5M2 -0.25h1.5M43 30.75h1.5M19 38.75h1.5M14 23.75h1.5M32 12.75h1.5M31 12.75h1.5M22 36.75h1.5M12 3.75h1.5M43 10.75h1.5M0 21.75h1.5M28 9.75h1.5M8 20.75h1.5M34 33.75h1.5M39 29.75h1.5M13 43.75h1.5M3 37.75h1.5M5 20.75h1.5M9 45.75h1.5M41 46.75h1.5M41 -1.25h1.5M46 33.75h1.5M13 35.75h1.5M45 35.75h1.5M27 22.75h1.5M23 21.75h1.5M12 13.75h1.5M0 0.75h1.5M44 4.75h1.5M26 23.75h1.5M26 44.75h1.5M27 8.75h1.5M22 37.75h1.5M32 41.75h1.5M30 41.75h1.5M11 14.75h1.5M16 13.75h1.5M40 45.75h1.5M9 14.75h1.5M10 20.75h1.5M12 29.75h1.5M23 10.75h1.5M26 5.75h1.5M18 35.75h1.5M32 0.75h1.5M28 22.75h1.5M29 14.75h1.5M13 35.75h1.5M14 17.75h1.5M5 0.75h1.5M32 12.75h1.5M35 34.75h1.5M22 28.75h1.5M36 26.75h1.5M47 33.75h1.5M-1 33.75h1.5M25 26.75h1.5M46 0.75h1.5M5 34.75h1.5M32 1.75h1.5M30 45.75h1.5M27 14.75h1.5M42 18.75h1.5M31 33.75h1.5M29 41.75h1.5M40 43.75h1.5M4 1.75h1.5M20 38.75h1.5M37 6.75h1.5M30 33.75h1.5M33 34.75h1.5M44 43.75h1.5M18 1.75h1.5M13 36.75h1.5M11 6.75h1.5M29 37.75h1.5M13 5.75h1.5M1 35.75h1.5M2 4.75h1.5M11 31.75h1.5M36 43.75h1.5M11 19.75h1.5M27 40.75h1.5M20 11.75h1.5M35 15.75h1.5M25 33.75h1.5M1 16.75h1.5M31 33.75h1.5M5 4.75h1.5M2 17.75h1.5M5 23.75h1.5M16 16.75h1.5M1 19.75h1.5M26 42.75h1.5M1 41.75h1.5M36 24.75h1.5M10 9.75h1.5M8 5.75h1.5M30 28.75h1.5M37 8.75h1.5M21 20.75h1.5M13 0.75h1.5M19 3.75h1.5M35 23.75h1.5M5 7.75h1.5M3 6.75h1.5M11 33.75h1.5M24 0.75h1.5M33 0.75h1.5M23 34.75h1.5M18 5.75h1.5M44 43.75h1.5M24 45.75h1.5M11 13.75h1.5M12 22.75h1.5M20 44.75h1.5M34 46.75h1.5M34 -1.25h1.5M16 6.75h1.5M15 3.75h1.5M47 33.75h1.5M-1 33.75h1.5M45 3.75h1.5M6 12.75h1.5M7 7.75h1.5M27 18.75h1.5M34 42.75h1.5M8 26.75h1.5M41 15.75h1.5M5 11.75h1.5M34 43.75h1.5M44 11.75h1.5M37 3.75h1.5M22 3.75h1.5M25 30.75h1.5M46 36.75h1.5M26 6.75h1.5M40 6.75h1.5M9 2.75h1.5M24 21.75h1.5M42 15.75h1.5M46 15.75h1.5M31 29.75h1.5M11 25.75h1.5M2 35.75h1.5M19 24.75h1.5M37 2.75h1.5M36 7.75h1.5M32 15.75h1.5M41 27.75h1.5M22 3.75h1.5M3 16.75h1.5M18 34.75h1.5M23 19.75h1.5M18 37.75h1.5M40 16.75h1.5M36 17.75h1.5M15 22.75h1.5M32 9.75h1.5M42 28.75h1.5M13 43.75h1.5M15 22.75h1.5M41 38.75h1.5M41 4.75h1.5M37 41.75h1.5M33 20.75h1.5M7 10.75h1.5M19 16.75h1.5M34 4.75h1.5M33 28.75h1.5M30 19.75h1.5M21 8.75h1.5M37 36.75h1.5M20 0.75h1.5M13 33.75h1.5M6 19.75h1.5M30 16.75h1.5M10 24.75h1.5M19 11.75h1.5M45 1.75h1.5M37 43.75h1.5M4 10.75h1.5M26 42.75h1.5M30 44.75h1.5M44 42.75h1.5M21 31.75h1.5M34 7.75h1.5M26 2.75h1.5M47 27.75h1.5M-1 27.75h1.5M7 6.75h1.5M46 3.75h1.5M37 3.75h1.5M44 46.75h1.5M44 -1.25h1.5M47 1.75h1.5M-1 1.75h1.5M3 41.75h1.5M33 28.75h1.5M31 15.75h1.5M28 39.75h1.5M8 38.75h1.5M27 6.75h1.5M4 43.75h1.5M20 2.75h1.5M37 33.75h1.5M28 9.75h1.5M19 33.75h1.5M7 12.75h1.5M12 37.75h1.5M31 15.75h1.5M37 17.75h1.5M40 16.75h1.5M2 19.75h1.5M38 26.75h1.5M38 5.75h1.5M31 47.75h1.5M31 -0.25h1.5M42 9.75h1.5M37 4.75h1.5M17 33.75h1.5M7 37.75h1.5M46 2.75h1.5M4 18.75h1.5M8 43.75h1.5M24 6.75h1.5M16 23.75h1.5M43 39.75h1.5M18 46.75h1.5M18 -1.25h1.5M42 16.75h1.5M33 12.75h1.5M38 8.75h1.5M18 4.75h1.5M26 32.75h1.5M47 19.75h1.5M-1 19.75h1.5M8 3.75h1.5M45 15.75h1.5M9 20.75h1.5M12 18.75h1.5M45 35.75h1.5M40 2.75h1.5M8 16.75h1.5M17 32.75h1.5M30 38.75h1.5M7 18.75h1.5M45 42.75h1.5M39 26.75h1.5M3 45.75h1.5M13 37.75h1.5M31 11.75h1.5M39 6.75h1.5M2 41.75h1.5M7 29.75h1.5M5 34.75h1.5M11 1.75h1.5M23 43.75h1.5M30 10.75h1.5M31 30.75h1.5M1 24.75h1.5M31 20.75h1.5M25 27.75h1.5M46 45.75h1.5M41 41.75h1.5M14 31.75h1.5M7 15.75h1.5M21 5.75h1.5M46 0.75h1.5M39 13.75h1.5M9 29.75h1.5M41 20.75h1.5M11 15.75h1.5M16 15.75h1.5M44 38.75h1.5M40 39.75h1.5M20 34.75h1.5M38 10.75h1.5M6 17.75h1.5M15 2.75h1.5M29 12.75h1.5M32 2.75h1.5M4 19.75h1.5M17 41.75h1.5M27 5.75h1.5M5 44.75h1.5M10 29.75h1.5M16 8.75h1.5M41 35.75h1.5M32 10.75h1.5M10 3.75h1.5M6 23.75h1.5M37 21.75h1.5M22 12.75h1.5M9 9.75h1.5M38 4.75h1.5M45 29.75h1.5M8 6.75h1.5M46 44.75h1.5M7 47.75h1.5M7 -0.25h1.5M16 46.75h1.5M16 -1.25h1.5M6 4.75h1.5M45 24.75h1.5M21 8.75h1.5M13 12.75h1.5M3 28.75h1.5M34 35.75h1.5M21 29.75h1.5M5 37.75h1.5M40 43.75h1.5M16 0.75h1.5M32 10.75h1.5M45 11.75h1.5M9 4.75h1.5M19 14.75h1.5M31 3.75h1.5M11 37.75h1.5M36 25.75h1.5M18 12.75h1.5M46 42.75h1.5M1 30.75h1.5M26 25.75h1.5M16 2.75h1.5M32 32.75h1.5M34 21.75h1.5M28 5.75h1.5M22 22.75h1.5M29 26.75h1.5M23 29.75h1.5M36 8.75h1.5M15 19.75h1.5M31 11.75h1.5M20 15.75h1.5M43 14.75h1.5M29 30.75h1.5M14 41.75h1.5M22 6.75h1.5M33 31.75h1.5M16 16.75h1.5M1 5.75h1.5M3 40.75h1.5M22 22.75h1.5M2 40.75h1.5M30 12.75h1.5M2 20.75h1.5M10 0.75h1.5M9 15.75h1.5M36 25.75h1.5M32 33.75h1.5M42 23.75h1.5M21 10.75h1.5M43 36.75h1.5M43 37.75h1.5M28 47.75h1.5M28 -0.25h1.5M2 27.75h1.5M18 36.75h1.5M17 3.75h1.5M35 39.75h1.5M7 27.75h1.5M47 20.75h1.5M-1 20.75h1.5M22 3.75h1.5M14 31.75h1.5M29 44.75h1.5M37 12.75h1.5M38 13.75h1.5M43 31.75h1.5M13 29.75h1.5M6 8.75h1.5M29 15.75h1.5M26 12.75h1.5M39 45.75h1.5M16 4.75h1.5M12 24.75h1.5M26 4.75h1.5M18 25.75h1.5M1 30.75h1.5M9 17.75h1.5M15 1.75h1.5M7 13.75h1.5M5 0.75h1.5M12 4.75h1.5M34 34.75h1.5M36 10.75h1.5M46 43.75h1.5M37 41.75h1.5M3 42.75h1.5M11 46.75h1.5M11 -1.25h1.5M40 36.75h1.5M31 24.75h1.5M18 18.75h1.5M46 14.75h1.5M22 26.75h1.5M8 32.75h1.5M15 39.75h1.5M35 41.75h1.5M6 2.75h1.5M18 47.75h1.5M18 -0.25h1.5M14 12.75h1.5M3 11.75h1.5M17 42.75h1.5M21 14.75h1.5M29 35.75h1.5M46 40.75h1.5M25 16.75h1.5M1 3.75h1.5M15 34.75h1.5M47 30.75h1.5M-1 30.75h1.5M35 44.75h1.5M22 41.75h1.5M32 34.75h1.5M12 2.75h1.5M29 27.75h1.5M10 13.75h1.5M34 14.75h1.5M3 6.75h1.5M27 6.75h1.5M39 26.75h1.5M21 42.75h1.5M3 27.75h1.5M46 15.75h1.5M45 24.75h1.5M17 19.75h1.5M35 41.75h1.5M44 22.75h1.5M24 46.75h1.5M24 -1.25h1.5M30 44.75h1.5M21 42.75h1.5M5 10.75h1.5M6 5.75h1.5M15 7.75h1.5M10 33.75h1.5M2 29.75h1.5M4 9.75h1.5M45 24.75h1.5M18 46.75h1.5M18 -1.25h1.5M38 37.75h1.5M14 2.75h1.5M28 9.75h1.5M28 8.75h1.5M19 47.75h1.5M19 -0.25h1.5M9 27.75h1.5M47 31.75h1.5M-1 31.75h1.5M25 44.75h1.5M18 46.75h1.5M18 -1.25h1.5M36 16.75h1.5M44 40.75h1.5M10 15.75h1.5M15 21.75h1.5M16 20.75h1.5M20 4.75h1.5M39 18.75h1.5M12 24.75h1.5M30 6.75h1.5M18 41.75h1.5M3 22.75h1.5M19 14.75h1.5M25 45.75h1.5M22 4.75h1.5M47 7.75h1.5M-1 7.75h1.5M6 34.75h1.5M20 38.75h1.5M19 37.75h1.5M26 42.75h1.5M27 30.75h1.5M10 34.75h1.5M12 33.75h1.5M10 30.75h1.5M9 11.75h1.5M17 1.75h1.5M8 46.75h1.5M8 -1.25h1.5M40 44.75h1.5M35 4.75h1.5M20 29.75h1.5M31 11.75h1.5M45 25.75h1.5M27 17.75h1.5M16 34.75h1.5M44 26.75h1.5M42 37.75h1.5M13 0.75h1.5M0 40.75h1.5M16 46.75h1.5M16 -1.25h1.5M15 10.75h1.5M46 18.75h1.5M45 32.75h1.5M2 46.75h1.5M2 -1.25h1.5M43 11.75h1.5M8 39.75h1.5M37 31.75h1.5M10 30.75h1.5M30 9.75h1.5M31 17.75h1.5M42 30.75h1.5M42 12.75h1.5M18 33.75h1.5M45 18.75h1.5M32 38.75h1.5M34 30.75h1.5M31 22.75h1.5M2 39.75h1.5M47 35.75h1.5M-1 35.75h1.5M27 38.75h1.5M27 40.75h1.5M26 41.75h1.5M21 15.75h1.5M17 29.75h1.5M43 36.75h1.5M4 44.75h1.5M15 20.75h1.5M43 24.75h1.5M7 12.75h1.5M14 22.75h1.5M0 12.75h1.5M20 21.75h1.5M12 17.75h1.5M19 20.75h1.5M23 0.75h1.5M10 20.75h1.5M7 39.75h1.5M34 32.75h1.5M27 29.75h1.5M1 18.75h1.5M41 15.75h1.5M13 7.75h1.5M39 9.75h1.5M16 17.75h1.5M25 25.75h1.5M12 19.75h1.5M14 9.75h1.5M29 30.75h1.5M23 2.75h1.5M4 38.75h1.5M14 5.75h1.5M26 39.75h1.5M16 9.75h1.5M23 2.75h1.5M5 16.75h1.5M31 5.75h1.5M33 11.75h1.5M2 7.75h1.5M14 31.75h1.5M39 41.75h1.5M31 25.75h1.5M15 33.75h1.5M4 18.75h1.5M7 31.75h1.5M5 8.75h1.5M41 19.75h1.5M17 41.75h1.5M14 41.75h1.5M8 16.75h1.5M11 15.75h1.5M29 44.75h1.5M37 45.75h1.5M2 1.75h1.5M25 2.75h1.5M29 7.75h1.5M17 35.75h1.5M15 9.75h1.5M45 10.75h1.5M40 42.75h1.5M15 13.75h1.5M45 20.75h1.5M11 38.75h1.5M17 23.75h1.5M7 20.75h1.5M4 47.75h1.5M4 -0.25h1.5M29 18.75h1.5M14 31.75h1.5M22 39.75h1.5M12 8.75h1.5M6 44.75h1.5M33 11.75h1.5M9 9.75h1.5M46 47.75h1.5M46 -0.25h1.5M6 30.75h1.5M19 35.75h1.5M30 19.75h1.5M12 38.75h1.5M21 36.75h1.5M1 3.75h1.5M18 13.75h1.5M5 19.75h1.5M24 24.75h1.5M46 7.75h1.5M12 19.75h1.5M39 8.75h1.5M37 35.75h1.5M23 46.75h1.5M23 -1.25h1.5M23 11.75h1.5M16 15.75h1.5M41 32.75h1.5M0 42.75h1.5M45 16.75h1.5M11 5.75h1.5M9 0.75h1.5M22 47.75h1.5M22 -0.25h1.5M25 4.75h1.5M33 35.75h1.5M41 6.75h1.5M42 12.75h1.5M28 11.75h1.5M39 41.75h1.5M19 47.75h1.5M19 -0.25h1.5M41 43.75h1.5M40 14.75h1.5M45 26.75h1.5M27 33.75h1.5M11 12.75h1.5M2 38.75h1.5M24 30.75h1.5M12 8.75h1.5M47 36.75h1.5M-1 36.75h1.5M36 0.75h1.5M9 14.75h1.5M12 33.75h1.5M31 40.75h1.5M5 45.75h1.5M0 2.75h1.5M13 34.75h1.5M41 29.75h1.5M41 11.75h1.5M3 27.75h1.5M30 11.75h1.5M15 36.75h1.5M17 13.75h1.5M21 0.75h1.5M10 36.75h1.5M15 29.75h1.5M24 43.75h1.5M45 6.75h1.5M9 17.75h1.5M37 1.75h1.5M34 11.75h1.5M11 2.75h1.5M23 31.75h1.5M36 39.75h1.5M16 29.75h1.5M5 43.75h1.5M46 4.75h1.5M9 13.75h1.5M12 18.75h1.5M27 22.75h1.5M1 20.75h1.5M41 5.75h1.5M33 40.75h1.5M7 12.75h1.5M27 19.75h1.5M43 11.75h1.5M0 26.75h1.5M7 1.75h1.5M45 12.75h1.5M29 11.75h1.5M41 43.75h1.5M23 0.75h1.5M36 2.75h1.5M32 38.75h1.5M42 0.75h1.5M1 33.75h1.5M1 0.75h1.5M12 6.75h1.5M16 14.75h1.5M30 44.75h1.5M14 13.75h1.5M19 0.75h1.5M45 17.75h1.5M10 23.75h1.5M26 4.75h1.5M21 36.75h1.5M39 3.75h1.5M3 34.75h1.5M24 3.75h1.5M0 33.75h1.5M24 1.75h1.5M11 38.75h1.5M35 11.75h1.5M31 45.75h1.5M44 40.75h1.5M8 21.75h1.5M40 39.75h1.5M17 1.75h1.5M14 18.75h1.5M26 19.75h1.5M3 32.75h1.5M31 8.75h1.5M24 29.75h1.5M30 21.75h1.5M32 25.75h1.5M7 26.75h1.5M17 38.75h1.5M32 17.75h1.5M0 15.75h1.5M4 1.75h1.5M38 32.75h1.5M24 25.75h1.5M21 43.75h1.5M8 10.75h1.5M1 27.75h1.5M45 39.75h1.5M3 26.75h1.5M28 40.75h1.5M36 35.75h1.5M13 2.75h1.5M45 25.75h1.5M24 8.75h1.5M28 4.75h1.5M13 20.75h1.5M11 12.75h1.5M16 25.75h1.5M26 24.75h1.5" stroke="#000" stroke-width="1.5" fill="none"/></pattern>
<pattern id="p8" patternUnits="userSpaceOnUse" width="48" height="48"><path d="M41 29.75h1.5M30 29.75h1.5M5 16.75h1.5M16 6.75h1.5M11 44.75h1.5M3 42.75h1.5M22 6.75h1.5M42 22.75h1.5M21 23.75h1.5M29 44.75h1.5M25 43.75h1.5M26 35.75h1.5M19 22.75h1.5M5 8.75h1.5M47 18.75h1.5M-1 18.75h1.5M8 29.75h1.5M16 16.75h1.5M10 2.75h1.5M33 31.75h1.5M40 8.75h1.5M3 47.75h1.5M3 -0.25h1.5M28 35.75h1.5M4 28.75h1.5M43 47.75h1.5M43 -0.25h1.5M17 8.75h1.5M36 0.75h1.5M30 34.75h1.5M42 0.75h1.5M25 10.75h1.5M14 34.75h1.5M39 33.75h1.5M16 21.75h1.5M17 12.75h1.5M7 35.75h1.5M10 24.75h1.5M17 0.75h1.5M44 27.75h1.5M44 26.75h1.5M17 5.75h1.5M5 40.75h1.5M12 28.75h1.5M29 9.75h1.5M3 23.75h1.5M25 26.75h1.5M21 40.75h1.5M28 39.75h1.5M6 3.75h1.5M44 25.75h1.5M44 21.75h1.5M5 1.75h1.5M44 36.75h1.5M20 39.75h1.5M4 8.75h1.5M39 44.75h1.5M32 18.75h1.5M13 19.75h1.5M4 20.75h1.5M17 37.75h1.5M5 19.75h1.5M32 41.75h1.5M30 10.75h1.5M26 34.75h1.5M14 27.75h1.5M14 22.75h1.5M16 23.75h1.5M12 11.75h1.5M4 33.75h1.5M20 20.75h1.5M1 10.75h1.5M22 5.75h1.5M18 33.75h1.5M39 45.75h1.5M44 20.75h1.5M31 26.75h1.5M25 11.75h1.5M3 7.75h1.5M23 46.75h1.5M23 -1.25h1.5M11 19.75h1.5M5 2.75h1.5M29 30.75h1.5M14 9.75h1.5M44 46.75h1.5M44 -1.25h1.5M3 41.75h1.5M27 36.75h1.5M32 40.75h1.5M29 27.75h1.5M44 43.75h1.5M47 15.75h1.5M-1 15.75h1.5M15 3.75h1.5M7 20.75h1.5M30 2.75h1.5M26 18.75h1.5M25 7.75h1.5M34 21.75h1.5M10 47.75h1.5M10 -0.25h1.5M19 38.75h1.5M25 16.75h1.5M27 2.75h1.5M42 9.75h1.5M35 19.75h1.5M12 12.75h1.5M25 9.75h1.5M34 28.75h1.5M46 9.75h1.5M36 43.75h1.5M31 39.75h1.5M40 0.75h1.5M8 13.75h1.5M24 47.75h1.5M24 -0.25h1.5M2 39.75h1.5M30 28.75h1.5M21 26.75h1.5M7 43.75h1.5M26 41.75h1.5M20 6.75h1.5M21 21.75h1.5M30 7.75h1.5M13 43.75h1.5M27 25.75h1.5M35 27.75h1.5M45 7.75h1.5M8 22.75h1.5M9 31.75h1.5M25 3.75h1.5M9 38.75h1.5M29 23.75h1.5M42 30.75h1.5M21 3.75h1.5M25 41.75h1.5M39 34.75h1.5M44 16.75h1.5M41 43.75h1.5M22 39.75h1.5M12 21.75h1.5M13 1.75h1.5M14 37.75h1.5M22 6.75h1.5M40 34.75h1.5M0 13.75h1.5M47 37.75h1.5M-1 37.75h1.5M9 44.75h1.5M8 4.75h1.5M18 17.75h1.5M21 15.75h1.5M12 37.75h1.5M25 12.75h1.5M22 42.75h1.5M30 29.75h1.5M31 11.75h1.5M46 30.75h1.5M44 7.75h1.5M22 47.75h1.5M22 -0.25h1.5M43 22.75h1.5M12 10.75h1.5M46 35.75h1.5M21 18.75h1.5M13 23.75h1.5M21 44.75h1.5M18 27.75h1.5M43 20.75h1.5M7 10.75h1.5M20 29.75h1.5M13 41.75h1.5M44 41.75h1.5M1 0.75h1.5M26 45.75h1.5M38 30.75h1.5M42 28.75h1.5M24 14.75h1.5M36 27.75h1.5M29 12.75h1.5M29 38.75h1.5M8 9.75h1.5M31 38.75h1.5M20 9.75h1.5M34 3.75h1.5M11 9.75h1.5M46 27.75h1.5M17 47.75h1.5M17 -0.25h1.5M6 31.75h1.5M2 9.75h1.5M45 34.75h1.5M41 41.75h1.5M26 33.75h1.5M2 32.75h1.5M26 36.75h1.5M31 14.75h1.5M42 38.75h1.5M41 1.75h1.5M7 42.75h1.5M20 25.75h1.5M24 6.75h1.5M17 40.75h1.5M18 7.75h1.5M23 1.75h1.5M15 46.75h1.5M15 -1.25h1.5M14 8.75h1.5M47 46.75h1.5M-1 46.75h1.5M47 -1.25h1.5M30 1.75h1.5M11 14.75h1.5M12 47.75h1.5M12 -0.25h1.5M30 1.75h1.5M4 43.75h1.5M47 27.75h1.5M-1 27.75h1.5M28 3.75h1.5M11 37.75h1.5M3 8.75h1.5M47 1.75h1.5M-1 1.75h1.5M42 33.75h1.5M26 23.75h1.5M4 3.75h1.5M4 31.75h1.5M18 29.75h1.5M20 42.75h1.5M15 16.75h1.5M34 1.75h1.5M7 47.75h1.5M7 -0.25h1.5M45 37.75h1.5M36 15.75h1.5M32 10.75h1.5M26 38.75h1.5M3 31.75h1.5M18 38.75h1.5M11 33.75h1.5M47 42.75h1.5M-1 42.75h1.5M13 30.75h1.5M39 26.75h1.5M27 8.75h1.5M30 32.75h1.5M41 19.75h1.5M21 36.75h1.5M4 5.75h1.5M3 43.75h1.5M32 32.75h1.5M0 37.75h1.5M4 33.75h1.5M23 45.75h1.5M11 20.75h1.5M29 29.75h1.5M47 45.75h1.5M-1 45.75h1.5M37 4.75h1.5M21 46.75h1.5M21 -1.25h1.5M23 6.75h1.5M40 45.75h1.5M10 45.75h1.5M11 0.75h1.5M19 12.75h1.5M36 40.75h1.5M18 24.75h1.5M35 45.75h1.5M46 27.75h1.5M21 19.75h1.5M34 19.75h1.5M6 12.75h1.5M21 37.75h1.5M25 23.75h1.5M18 31.75h1.5M20 1.75h1.5M15 10.75h1.5M6 23.75h1.5M10 16.75h1.5M27 15.75h1.5M40 37.75h1.5M31 33.75h1.5M42 30.75h1.5M43 24.75h1.5M5 28.75h1.5M42 40.75h1.5M28 27.75h1.5M1 1.75h1.5M14 22.75h1.5M38 39.75h1.5M3 16.75h1.5M47 31.75h1.5M-1 31.75h1.5M35 7.75h1.5M17 6.75h1.5M5 40.75h1.5M43 12.75h1.5M13 42.75h1.5M23 22.75h1.5M8 33.75h1.5M44 10.75h1.5M44 20.75h1.5M34 47.75h1.5M34 -0.25h1.5M20 14.75h1.5M38 46.75h1.5M38 -1.25h1.5M8 10.75h1.5M17 39.75h1.5M23 40.75h1.5M3 26.75h1.5M15 6.75h1.5M38 20.75h1.5M40 22.75h1.5M43 28.75h1.5M32 38.75h1.5M17 30.75h1.5M40 34.75h1.5M33 45.75h1.5M41 3.75h1.5M33 42.75h1.5M9 34.75h1.5M46 0.75h1.5M19 2.75h1.5M15 44.75h1.5M47 17.75h1.5M-1 17.75h1.5M19 40.75h1.5M16 35.75h1.5M22 15.75h1.5M17 26.75h1.5M37 45.75h1.5M5 42.75h1.5M8 3.75h1.5M22 37.75h1.5M44 6.75h1.5M32 35.75h1.5M17 36.75h1.5M37 35.75h1.5M42 35.75h1.5M47 9.75h1.5M-1 9.75h1.5M29 30.75h1.5M9 20.75h1.5M24 14.75h1.5M34 6.75h1.5M5 3.75h1.5M11 30.75h1.5M6 33.75h1.5M4 9.75h1.5M16 40.75h1.5M26 45.75h1.5M43 20.75h1.5M40 3.75h1.5M37 37.75h1.5M36 8.75h1.5M42 26.75h1.5M19 1.75h1.5M23 11.75h1.5M17 1.75h1.5M9 0.75h1.5M17 27.75h1.5M37 16.75h1.5M20 14.75h1.5M20 26.75h1.5M27 16.75h1.5M37 24.75h1.5M38 5.75h1.5M38 7.75h1.5M33 8.75h1.5M16 32.75h1.5M35 5.75h1.5M33 21.75h1.5M44 45.75h1.5M6 43.75h1.5M2 38.75h1.5M28 39.75h1.5M9 6.75h1.5M35 14.75h1.5M14 45.75h1.5M31 13.75h1.5M17 8.75h1.5M24 1.75h1.5M42 3.75h1.5M35 45.75h1.5M30 44.75h1.5M19 18.75h1.5M39 38.75h1.5M1 7.75h1.5M37 17.75h1.5M37 20.75h1.5M13 13.75h1.5M19 25.75h1.5M31 37.75h1.5M0 33.75h1.5M43 35.75h1.5M0 10.75h1.5M28 12.75h1.5M1 34.75h1.5M6 12.75h1.5M3 44.75h1.5M16 45.75h1.5M22 15.75h1.5M28 4.75h1.5M42 17.75h1.5M21 47.75h1.5M21 -0.25h1.5M14 30.75h1.5M0 34.75h1.5M2 24.75h1.5M3 37.75h1.5M42 45.75h1.5M44 15.75h1.5M10 25.75h1.5M31 25.75h1.5M33 10.75h1.5M1 9.75h1.5M23 19.75h1.5M36 12.75h1.5M40 40.75h1.5M33 34.75h1.5M22 8.75h1.5M17 43.75h1.5M6 47.75h1.5M6 -0.25h1.5M1 38.75h1.5M15 20.75h1.5M44 25.75h1.5M36 8.75h1.5M29 31.75h1.5M9 36.75h1.5M10 17.75h1.5M31 28.75h1.5M11 42.75h1.5M17 45.75h1.5M26 29.75h1.5M27 28.75h1.5M4 35.75h1.5M42 4.75h1.5M11 45.75h1.5M0 12.75h1.5M1 21.75h1.5M33 43.75h1.5M12 31.75h1.5M13 34.75h1.5M39 14.75h1.5M18 27.75h1.5M20 32.75h1.5M38 43.75h1.5M35 12.75h1.5M16 15.75h1.5M7 31.75h1.5M12 11.75h1.5M35 6.75h1.5M4 24.75h1.5M14 31.75h1.5M22 34.75h1.5M29 33.75h1.5M10 0.75h1.5M20 32.75h1.5M20 28.75h1.5M34 35.75h1.5M32 1.75h1.5M42 17.75h1.5M31 7.75h1.5M39 21.75h1.5M20 28.75h1.5M12 27.75h1.5M29 44.75h1.5M11 0.75h1.5M16 35.75h1.5M0 13.75h1.5M47 45.75h1.5M-1 45.75h1.5M45 47.75h1.5M45 -0.25h1.5M23 12.75h1.5M21 10.75h1.5M14 9.75h1.5M23 33.75h1.5M8 43.75h1.5M1 28.75h1.5M41 19.75h1.5M15 46.75h1.5M15 -1.25h1.5M32 47.75h1.5M32 -0.25h1.5M40 39.75h1.5M29 19.75h1.5M32 22.75h1.5M39 34.75h1.5M45 4.75h1.5M4 47.75h1.5M4 -0.25h1.5M26 8.75h1.5M39 17.75h1.5M3 32.75h1.5M34 11.75h1.5M46 27.75h1.5M23 24.75h1.5M13 22.75h1.5M20 42.75h1.5M34 44.75h1.5M22 22.75h1.5M3 26.75h1.5M13 3.75h1.5M13 17.75h1.5M12 16.75h1.5M23 34.75h1.5M7 7.75h1.5M37 33.75h1.5M30 26.75h1.5M17 12.75h1.5M14 19.75h1.5M14 44.75h1.5M44 3.75h1.5M9 38.75h1.5M18 41.75h1.5M26 45.75h1.5M41 47.75h1.5M41 -0.25h1.5M46 27.75h1.5M9 32.75h1.5M30 12.75h1.5M46 31.75h1.5M39 18.75h1.5M17 25.75h1.5M1 26.75h1.5M9 44.75h1.5M23 31.75h1.5M39 23.75h1.5M22 15.75h1.5M2 19.75h1.5M0 1.75h1.5M46 21.75h1.5M10 20.75h1.5M10 3.75h1.5M26 1.75h1.5M47 1.75h1.5M-1 1.75h1.5M34 33.75h1.5M37 6.75h1.5M6 15.75h1.5M28 40.75h1.5M28 15.75h1.5M14 14.75h1.5M3 25.75h1.5M29 7.75h1.5M31 5.75h1.5M5 7.75h1.5M39 12.75h1.5M14 37.75h1.5M33 10.75h1.5M23 17.75h1.5M9 12.75h1.5M22 19.75h1.5M13 17.75h1.5M8 34.75h1.5M38 38.75h1.5M20 17.75h1.5M45 8.75h1.5M29 13.75h1.5M44 21.75h1.5M38 9.75h1.5M27 10.75h1.5M22 14.75h1.5M38 5.75h1.5M43 2.75h1.5M30 29.75h1.5M17 31.75h1.5M30 42.75h1.5M12 3.75h1.5M43 46.75h1.5M43 -1.25h1.5M34 11.75h1.5M30 5.75h1.5M20 31.75h1.5M28 27.75h1.5M16 45.75h1.5M24 43.75h1.5M13 32.75h1.5M40 19.75h1.5M21 1.75h1.5M15 24.75h1.5M46 20.75h1.5M22 16.75h1.5M20 31.75h1.5M33 31.75h1.5M16 35.75h1.5M18 14.75h1.5M27 42.75h1.5M0 28.75h1.5M13 27.75h1.5M20 45.75h1.5M17 24.75h1.5M0 45.75h1.5M13 13.75h1.5M32 8.75h1.5M28 47.75h1.5M28 -0.25h1.5M29 42.75h1.5M7 6.75h1.5M7 0.75h1.5M8 5.75h1.5M4 46.75h1.5M4 -1.25h1.5M44 6.75h1.5M28 4.75h1.5M34 21.75h1.5M30 1.75h1.5M26 28.75h1.5M1 42.75h1.5M44 9.75h1.5M14 34.75h1.5M19 22.75h1.5M11 20.75h1.5M37 24.75h1.5M15 41.75h1.5M3 35.75h1.5M25 35.75h1.5M46 0.75h1.5M10 45.75h1.5M43 45.75h1.5M6 27.75h1.5M25 3.75h1.5M13 5.75h1.5M12 28.75h1.5M18 1.75h1.5M1 34.75h1.5M8 39.75h1.5M38 22.75h1.5M32 14.75h1.5M23 36.75h1.5M9 20.75h1.5M14 14.75h1.5M30 1.75h1.5M23 31.75h1.5M6 17.75h1.5M17 39.75h1.5M8 41.75h1.5M2 7.75h1.5M4 28.75h1.5M10 15.75h1.5M10 11.75h1.5M13 17.75h1.5M1 36.75h1.5M27 27.75h1.5M30 5.75h1.5M26 20.75h1.5M41 36.75h1.5M35 37.75h1.5M32 3.75h1.5M36 24.75h1.5M24 13.75h1.5M26 3.75h1.5M24 19.75h1.5M27 7.75h1.5M35 10.75h1.5M33 9.75h1.5M0 32.75h1.5M41 26.75h1.5M10 28.75h1.5M40 11.75h1.5M41 40.75h1.5M41 5.75h1.5M6 16.75h1.5M8 44.75h1.5M40 28.75h1.5M28 1.75h1.5M19 15.75h1.5M44 35.75h1.5M39 17.75h1.5M17 20.75h1.5M7 30.75h1.5M18 32.75h1.5M36 31.75h1.5M6 0.75h1.5M14 15.75h1.5M18 46.75h1.5M18 -1.25h1.5M0 38.75h1.5M18 7.75h1.5M22 18.75h1.5M11 39.75h1.5M28 14.75h1.5M7 40.75h1.5M20 5.75h1.5M30 40.75h1.5M30 10.75h1.5M47 22.75h1.5M-1 22.75h1.5M37 27.75h1.5M22 47.75h1.5M22 -0.25h1.5M28 17.75h1.5M21 17.75h1.5M37 25.75h1.5M1 45.75h1.5M45 33.75h1.5M38 30.75h1.5M32 1.75h1.5M40 4.75h1.5M43 2.75h1.5M5 39.75h1.5M19 6.75h1.5M19 4.75h1.5M9 9.75h1.5M40 37.75h1.5M45 23.75h1.5M8 24.75h1.5M14 0.75h1.5M8 11.75h1.5M25 4.75h1.5M3 11.75h1.5M21 46.75h1.5M21 -1.25h1.5M23 29.75h1.5M37 12.75h1.5M36 29.75h1.5M9 30.75h1.5M2 28.75h1.5M41 7.75h1.5M38 24.75h1.5M41 46.75h1.5M41 -1.25h1.5M30 34.75h1.5M24 40.75h1.5M21 33.75h1.5M30 46.75h1.5M30 -1.25h1.5M5 30.75h1.5M24 40.75h1.5M15 10.75h1.5M12 26.75h1.5M18 18.75h1.5M3 7.75h1.5M43 40.75h1.5M19 30.75h1.5M5 0.75h1.5M35 0.75h1.5M44 9.75h1.5M14 12.75h1.5M17 25.75h1.5M23 24.75h1.5M3 39.75h1.5M9 4.75h1.5M38 16.75h1.5M10 1.75h1.5M26 41.75h1.5M44 38.75h1.5M12 13.75h1.5M43 5.75h1.5M6 8.75h1.5M41 26.75h1.5M24 21.75h1.5M37 14.75h1.5M24 19.75h1.5M40 44.75h1.5M14 38.75h1.5M47 5.75h1.5M-1 5.75h1.5M14 18.75h1.5M22 43.75h1.5M16 47.75h1.5M16 -0.25h1.5M37 7.75h1.5M18 40.75h1.5M23 46.75h1.5M23 -1.25h1.5M46 2.75h1.5M40 12.75h1.5M37 0.75h1.5M35 30.75h1.5M25 14.75h1.5M13 8.75h1.5M23 4.75h1.5M19 25.75h1.5M24 43.75h1.5M1 17.75h1.5M42 29.75h1.5M31 23.75h1.5M32 0.75h1.5M22 15.75h1.5M25 44.75h1.5M23 22.75h1.5M23 23.75h1.5M15 46.75h1.5M15 -1.25h1.5M45 28.75h1.5M0 3.75h1.5M2 22.75h1.5M34 25.75h1.5M22 30.75h1.5M47 35.75h1.5M-1 35.75h1.5M12 2.75h1.5M25 34.75h1.5M31 44.75h1.5M11 20.75h1.5M10 20.75h1.5M36 23.75h1.5M9 45.75h1.5M39 34.75h1.5M37 24.75h1.5M40 4.75h1.5M30 23.75h1.5M29 40.75h1.5M35 12.75h1.5M38 29.75h1.5M11 2.75h1.5M32 30.75h1.5M28 2.75h1.5M32 39.75h1.5M39 11.75h1.5M3 14.75h1.5M33 2.75h1.5M25 47.75h1.5M25 -0.25h1.5M6 34.75h1.5M0 40.75h1.5M34 12.75h1.5M15 18.75h1.5M3 14.75h1.5M7 42.75h1.5M9 16.75h1.5M34 8.75h1.5M4 38.75h1.5M25 15.75h1.5M42 5.75h1.5M29 2.75h1.5M27 2.75h1.5M7 16.75h1.5M4 18.75h1.5M1 46.75h1.5M1 -1.25h1.5M25 14.75h1.5M42 32.75h1.5M44 21.75h1.5M10 35.75h1.5M0 45.75h1.5M18 27.75h1.5M36 3.75h1.5M11 37.75h1.5M46 32.75h1.5M1 47.75h1.5M1 -0.25h1.5M6 3.75h1.5M15 25.75h1.5M46 22.75h1.5M34 14.75h1.5M37 40.75h1.5M45 21.75h1.5M37 20.75h1.5M6 37.75h1.5M25 41.75h1.5M42 36.75h1.5M43 37.75h1.5M1 47.75h1.5M1 -0.25h1.5M43 17.75h1.5M23 45.75h1.5M31 0.75h1.5M23 5.75h1.5M31 37.75h1.5M6 42.75h1.5M22 43.75h1.5M21 36.75h1.5M12 1.75h1.5M3 41.75h1.5M34 19.75h1.5M27 22.75h1.5M2 30.75h1.5M21 32.75h1.5M46 24.75h1.5M31 45.75h1.5M33 33.75h1.5M33 9.75h1.5M21 28.75h1.5M22 30.75h1.5M47 47.75h1.5M-1 47.75h1.5M47 -0.25h1.5M41 11.75h1.5M14 29.75h1.5M43 13.75h1.5M31 5.75h1.5M1 28.75h1.5M10 10.75h1.5M28 42.75h1.5M25 40.75h1.5M25 45.75h1.5M27 31.75h1.5M13 42.75h1.5M0 30.75h1.5M45 35.75h1.5M31 40.75h1.5M2 32.75h1.5M4 3.75h1.5M18 31.75h1.5M27 34.75h1.5M6 1.75h1.5M39 19.75h1.5M30 35.75h1.5M7 14.75h1.5M2 39.75h1.5M42 22.75h1.5M22 11.75h1.5M34 5.75h1.5M23 24.75h1.5M41 35.75h1.5M45 43.75h1.5M34 7.75h1.5M17 8.75h1.5M14 27.75h1.5M11 45.75h1.5M20 23.75h1.5M45 42.75h1.5M3 30.75h1.5M36 13.75h1.5M20 20.75h1.5M23 9.75h1.5M2 44.75h1.5M8 37.75h1.5M14 2.75h1.5M6 12.75h1.5M19 36.75h1.5M35 47.75h1.5M35 -0.25h1.5M29 3.75h1.5M6 31.75h1.5M41 6.75h1.5M27 6.75h1.5M2 29.75h1.5M23 4.75h1.5M31 12.75h1.5M15 32.75h1.5M26 24.75h1.5M31 21.75h1.5M13 45.75h1.5M47 22.75h1.5M-1 22.75h1.5M18 36.75h1.5M0 29.75h1.5M13 27.75h1.5M43 21.75h1.5M10 27.75h1.5M14 20.75h1.5M41 39.75h1.5M3 16.75h1.5M45 26.75h1.5M2 43.75h1.5M6 13.75h1.5M18 18.75h1.5M32 36.75h1.5M46 25.75h1.5M7 21.75h1.5M18 42.75h1.5M29 23.75h1.5M36 21.75h1.5M46 39.75h1.5M14 14.75h1.5M32 37.75h1.5M19 32.75h1.5M39 15.75h1.5M19 39.75h1.5M34 45.75h1.5M12 24.75h1.5M15 12.75h1.5M21 25.75h1.5M12 5.75h1.5M13 42.75h1.5M0 27.75h1.5M7 23.75h1.5M15 30.75h1.5M28 10.75h1.5M40 0.75h1.5M22 13.75h1.5M33 21.75h1.5M22 3.75h1.5M43 31.75h1.5M19 7.75h1.5M47 23.75h1.5M-1 23.75h1.5M28 36.75h1.5M34 41.75h1.5M31 47.75h1.5M31 -0.25h1.5M43 43.75h1.5M25 27.75h1.5M7 8.75h1.5M10 21.75h1.5M41 7.75h1.5M41 0.75h1.5M1 7.75h1.5M38 32.75h1.5M20 46.75h1.5M20 -1.25h1.5M31 3.75h1.5M10 12.75h1.5M41 2.75h1.5M33 20.75h1.5M35 11.75h1.5M27 13.75h1.5M27 31.75h1.5M1 22.75h1.5M29 12.75h1.5M21 42.75h1.5M19 42.75h1.5M24 6.75h1.5M37 5.75h1.5M45 4.75h1.5M25 43.75h1.5M22 16.75h1.5M1 45.75h1.5M46 7.75h1.5M33 24.75h1.5M19 5.75h1.5M34 38.75h1.5M40 11.75h1.5M18 36.75h1.5M34 4.75h1.5M10 28.75h1.5M37 33.75h1.5M13 28.75h1.5M39 27.75h1.5M38 24.75h1.5M22 7.75h1.5M39 32.75h1.5M4 43.75h1.5M28 23.75h1.5M13 30.75h1.5M47 26.75h1.5M-1 26.75h1.5M39 8.75h1.5M9 1.75h1.5M5 11.75h1.5M31 38.75h1.5M28 17.75h1.5M14 42.75h1.5M33 10.75h1.5M8 35.75h1.5M13 29.75h1.5M3 47.75h1.5M3 -0.25h1.5M18 2.75h1.5M35 11.75h1.5M2 23.75h1.5M36 18.75h1.5M0 39.75h1.5M27 38.75h1.5M33 17.75h1.5M15 21.75h1.5M25 24.75h1.5M15 31.75h1.5M35 24.75h1.5M14 44.75h1.5M43 18.75h1.5M2 37.75h1.5M47 43.75h1.5M-1 43.75h1.5M6 32.75h1.5M36 20.75h1.5M19 21.75h1.5M4 32.75h1.5M8 5.75h1.5M12 34.75h1.5M21 34.75h1.5M40 5.75h1.5M6 10.75h1.5M12 24.75h1.5M11 42.75h1.5M12 1.75h1.5M31 36.75h1.5M38 24.75h1.5M17 9.75h1.5M34 41.75h1.5M29 5.75h1.5M29 7.75h1.5M8 42.75h1.5M10 5.75h1.5M9 29.75h1.5M40 29.75h1.5M14 41.75h1.5M38 14.75h1.5M20 19.75h1.5M9 25.75h1.5M13 26.75h1.5M0 1.75h1.5M19 11.75h1.5M2 10.75h1.5M44 0.75h1.5M30 19.75h1.5M21 47.75h1.5M21 -0.25h1.5M37 42.75h1.5M10 18.75h1.5M46 37.75h1.5M19 4.75h1.5M42 45.75h1.5M9 37.75h1.5M45 5.75h1.5M25 44.75h1.5M11 43.75h1.5M22 35.75h1.5M24 24.75h1.5M1 37.75h1.5M0 3.75h1.5M27 12.75h1.5M30 41.75h1.5M28 31.75h1.5M0 7.75h1.5M44 32.75h1.5M22 9.75h1.5M32 26.75h1.5M26 43.75h1.5M0 21.75h1.5M4 8.75h1.5M42 7.75h1.5M42 41.75h1.5M1 1.75h1.5M8 12.75h1.5M14 26.75h1.5M18 20.75h1.5M46 7.75h1.5M2 39.75h1.5M26 21.75h1.5M8 36.75h1.5M22 38.75h1.5M24 2.75h1.5M18 21.75h1.5M34 2.75h1.5M31 37.75h1.5M23 5.75h1.5M30 4.75h1.5M23 18.75h1.5M34 42.75h1.5M27 4.75h1.5M31 30.75h1.5M24 32.75h1.5M26 30.75h1.5M30 15.75h1.5M46 27.75h1.5M17 23.75h1.5M17 5.75h1.5M12 41.75h1.5M10 40.75h1.5M44 21.75h1.5M15 22.75h1.5M10 6.75h1.5M38 26.75h1.5M32 30.75h1.5M46 8.75h1.5M5 18.75h1.5M47 18.75h1.5M-1 18.75h1.5M33 3.75h1.5M4 10.75h1.5M42 43.75h1.5M10 41.75h1.5M43 10.75h1.5M31 11.75h1.5M29 23.75h1.5M13 41.75h1.5M46 0.75h1.5M0 35.75h1.5M35 3.75h1.5M44 35.75h1.5M6 21.75h1.5M0 42.75h1.5M46 22.75h1.5M3 10.75h1.5M16 42.75h1.5M43 40.75h1.5M41 28.75h1.5M6 31.75h1.5M22 10.75h1.5M36 10.75h1.5M12 19.75h1.5M0 39.75h1.5M42 44.75h1.5M34 31.75h1.5M25 40.75h1.5M11 43.75h1.5M21 20.75h1.5M1 39.75h1.5M10 10.75h1.5M4 7.75h1.5M13 27.75h1.5M40 43.75h1.5M10 32.75h1.5M47 23.75h1.5M-1 23.75h1.5M25 15.75h1.5M3 14.75h1.5M18 30.75h1.5M46 38.75h1.5M13 40.75h1.5M29 11.75h1.5M38 2.75h1.5M25 40.75h1.5M17 15.75h1.5M1 38.75h1.5M35 35.75h1.5M0 16.75h1.5M25 0.75h1.5M29 41.75h1.5M27 2.75h1.5M30 30.75h1.5M34 19.75h1.5M36 5.75h1.5M18 10.75h1.5M39 10.75h1.5M16 11.75h1.5M1 20.75h1.5M9 3.75h1.5M1 29.75h1.5M17 45.75h1.5M29 47.75h1.5M29 -0.25h1.5M30 6.75h1.5M8 15.75h1.5M28 27.75h1.5M6 27.75h1.5M12 22.75h1.5M24 3.75h1.5M25 43.75h1.5M20 36.75h1.5M20 1.75h1.5M2 5.75h1.5M39 1.75h1.5M26 5.75h1.5M14 8.75h1.5M28 3.75h1.5M6 42.75h1.5M12 14.75h1.5M25 16.75h1.5M21 28.75h1.5M22 47.75h1.5M22 -0.25h1.5M27 22.75h1.5M36 31.75h1.5M28 24.75h1.5M41 19.75h1.5M33 25.75h1.5M32 42.75h1.5M28 26.75h1.5M22 3.75h1.5M24 5.75h1.5M10 9.75h1.5M24 20.75h1.5M22 0.75h1.5M13 32.75h1.5M1 43.75h1.5M17 17.75h1.5M13 19.75h1.5M6 19.75h1.5M33 28.75h1.5M22 41.75h1.5M47 4.75h1.5M-1 4.75h1.5M22 46.75h1.5M22 -1.25h1.5M30 46.75h1.5M30 -1.25h1.5M4 14.75h1.5M31 35.75h1.5M28 33.75h1.5M8 23.75h1.5M34 38.75h1.5M40 35.75h1.5M21 34.75h1.5M18 12.75h1.5M37 45.75h1.5M43 39.75h1.5M34 37.75h1.5M13 26.75h1.5M30 17.75h1.5M6 15.75h1.5M29 5.75h1.5M9 40.75h1.5M41 18.75h1.5M45 18.75h1.5M2 11.75h1.5M14 22.75h1.5M1 14.75h1.5M19 18.75h1.5M20 29.75h1.5M36 40.75h1.5M22 38.75h1.5M10 2.75h1.5M28 14.75h1.5M10 34.75h1.5M37 12.75h1.5M32 43.75h1.5M13 38.75h1.5M29 15.75h1.5M45 12.75h1.5M32 6.75h1.5M29 37.75h1.5M15 46.75h1.5M15 -1.25h1.5M39 5.75h1.5M20 31.75h1.5M32 15.75h1.5M15 1.75h1.5M22 38.75h1.5M13 16.75h1.5M45 40.75h1.5M21 6.75h1.5M16 36.75h1.5M37 33.75h1.5M23 2.75h1.5M9 13.75h1.5M0 33.75h1.5M7 3.75h1.5M7 27.75h1.5M27 47.75h1.5M27 -0.25h1.5M27 19.75h1.5M38 26.75h1.5M26 6.75h1.5M40 43.75h1.5M29 46.75h1.5M29 -1.25h1.5M38 4.75h1.5M3 21.75h1.5M2 47.75h1.5M2 -0.25h1.5M1 46.75h1.5M1 -1.25h1.5M6 47.75h1.5M6 -0.25h1.5M37 38.75h1.5M47 46.75h1.5M-1 46.75h1.5M47 -1.25h1.5M9 3.75h1.5M17 25.75h1.5M47 33.75h1.5M-1 33.75h1.5M47 18.75h1.5M-1 18.75h1.5M39 9.75h1.5M17 16.75h1.5M12 10.75h1.5M15 43.75h1.5M35 44.75h1.5M36 39.75h1.5M28 22.75h1.5M33 4.75h1.5M36 31.75h1.5M7 27.75h1.5M9 40.75h1.5M24 0.75h1.5M1 4.75h1.5M42 18.75h1.5M18 43.75h1.5M35 5.75h1.5M21 34.75h1.5M9 2.75h1.5M26 44.75h1.5M21 40.75h1.5M42 42.75h1.5M30 36.75h1.5M31 27.75h1.5M27 34.75h1.5M39 42.75h1.5M47 24.75h1.5M-1 24.75h1.5M24 28.75h1.5M23 27.75h1.5M39 11.75h1.5M19 19.75h1.5M24 10.75h1.5M45 13.75h1.5M42 36.75h1.5M21 27.75h1.5M25 42.75h1.5M22 37.75h1.5M8 24.75h1.5M44 13.75h1.5M2 29.75h1.5M39 44.75h1.5M32 19.75h1.5M21 2.75h1.5M5 30.75h1.5M20 27.75h1.5M8 15.75h1.5M0 17.75h1.5M25 28.75h1.5M12 8.75h1.5M11 15.75h1.5M3 36.75h1.5M11 38.75h1.5M40 21.75h1.5M36 36.75h1.5M7 34.75h1.5M31 30.75h1.5M15 25.75h1.5M41 33.75h1.5M18 6.75h1.5M3 12.75h1.5M9 18.75h1.5M7 23.75h1.5M10 0.75h1.5M36 2.75h1.5M28 16.75h1.5M26 11.75h1.5M8 20.75h1.5M29 5.75h1.5M4 1.75h1.5M7 33.75h1.5M33 3.75h1.5M21 20.75h1.5M47 47.75h1.5M-1 47.75h1.5M47 -0.25h1.5M35 27.75h1.5M19 37.75h1.5M1 5.75h1.5M37 14.75h1.5M42 36.75h1.5M4 18.75h1.5M46 8.75h1.5M45 8.75h1.5M15 8.75h1.5M43 14.75h1.5M32 8.75h1.5M32 21.75h1.5M27 9.75h1.5M41 17.75h1.5M35 32.75h1.5M26 32.75h1.5M5 35.75h1.5M38 17.75h1.5M13 37.75h1.5M30 40.75h1.5M7 9.75h1.5M46 1.75h1.5M32 11.75h1.5M2 38.75h1.5M45 12.75h1.5M11 22.75h1.5M9 9.75h1.5M11 22.75h1.5M31 47.75h1.5M31 -0.25h1.5M25 0.75h1.5M38 9.75h1.5M4 16.75h1.5M2 18.75h1.5M24 45.75h1.5M9 25.75h1.5M26 47.75h1.5M26 -0.25h1.5M18 44.75h1.5M27 19.75h1.5M8 36.75h1.5M41 8.75h1.5M12 11.75h1.5M25 9.75h1.5M25 16.75h1.5M34 20.75h1.5M14 26.75h1.5M22 46.75h1.5M22 -1.25h1.5M14 27.75h1.5M24 45.75h1.5M33 36.75h1.5M23 41.75h1.5M23 1.75h1.5M29 5.75h1.5M7 26.75h1.5M9 32.75h1.5M33 46.75h1.5M33 -1.25h1.5M31 44.75h1.5M31 32.75h1.5M8 30.75h1.5M29 25.75h1.5M1 5.75h1.5M2 46.75h1.5M2 -1.25h1.5M25 26.75h1.5M33 28.75h1.5M37 27.75h1.5M27 10.75h1.5M40 40.75h1.5M23 17.75h1.5M31 36.75h1.5M20 8.75h1.5M0 17.75h1.5M42 20.75h1.5M20 40.75h1.5M35 33.75h1.5M39 41.75h1.5M6 9.75h1.5M24 34.75h1.5M2 22.75h1.5M16 38.75h1.5M6 33.75h1.5M44 44.75h1.5M21 28.75h1.5M34 1.75h1.5M0 17.75h1.5M31 0.75h1.5M31 34.75h1.5M35 16.75h1.5M38 6.75h1.5M32 24.75h1.5M5 24.75h1.5M40 43.75h1.5M25 32.75h1.5M5 5.75h1.5M14 9.75h1.5M38 31.75h1.5M43 41.75h1.5M20 2.75h1.5M36 26.75h1.5M18 2.75h1.5M43 44.75h1.5M27 23.75h1.5M16 32.75h1.5M22 40.75h1.5M39 20.75h1.5M19 36.75h1.5M38 33.75h1.5M39 33.75h1.5M22 11.75h1.5M31 18.75h1.5M37 26.75h1.5M0 35.75h1.5M21 25.75h1.5M15 46.75h1.5M15 -1.25h1.5M10 13.75h1.5M20 35.75h1.5M20 29.75h1.5M31 27.75h1.5M35 27.75h1.5M1 33.75h1.5M3 40.75h1.5M5 14.75h1.5M14 43.75h1.5M19 33.75h1.5M20 32.75h1.5M12 39.75h1.5M40 33.75h1.5M2 36.75h1.5M16 35.75h1.5M3 9.75h1.5M25 29.75h1.5M9 7.75h1.5M18 37.75h1.5M34 21.75h1.5M32 13.75h1.5M36 28.75h1.5M10 44.75h1.5M30 41.75h1.5M13 27.75h1.5M23 26.75h1.5M37 5.75h1.5M11 0.75h1.5M41 37.75h1.5M45 46.75h1.5M45 -1.25h1.5M6 14.75h1.5M17 33.75h1.5M6 28.75h1.5M5 17.75h1.5M0 8.75h1.5M47 3.75h1.5M-1 3.75h1.5M34 18.75h1.5M32 28.75h1.5M1 45.75h1.5M14 0.75h1.5M34 4.75h1.5M28 26.75h1.5M26 13.75h1.5M43 43.75h1.5M35 45.75h1.5M37 14.75h1.5M40 10.75h1.5M2 33.75h1.5M10 0.75h1.5M24 23.75h1.5M23 35.75h1.5M40 6.75h1.5M45 36.75h1.5M14 15.75h1.5M47 23.75h1.5M-1 23.75h1.5M45 0.75h1.5M46 12.75h1.5M0 26.75h1.5M42 14.75h1.5M2 17.75h1.5M7 14.75h1.5M10 12.75h1.5M5 31.75h1.5M37 31.75h1.5M37 4.75h1.5M5 39.75h1.5M25 44.75h1.5M33 21.75h1.5M47 46.75h1.5M-1 46.75h1.5M47 -1.25h1.5M32 5.75h1.5M8 40.75h1.5M38 2.75h1.5M25 30.75h1.5M9 29.75h1.5M16 30.75h1.5M35 13.75h1.5M26 27.75h1.5M32 35.75h1.5M21 23.75h1.5M14 12.75h1.5M29 5.75h1.5M20 32.75h1.5M19 35.75h1.5M22 41.75h1.5M46 30.75h1.5M21 7.75h1.5M18 40.75h1.5M4 16.75h1.5M39 5.75h1.5M8 3.75h1.5M13 8.75h1.5M32 32.75h1.5M20 19.75h1.5M30 38.75h1.5M17 27.75h1.5M0 27.75h1.5M5 32.75h1.5M20 5.75h1.5M33 2.75h1.5M45 26.75h1.5M45 19.75h1.5M28 32.75h1.5M18 11.75h1.5M42 21.75h1.5M3 25.75h1.5M47 15.75h1.5M-1 15.75h1.5M30 35.75h1.5M40 8.75h1.5M13 27.75h1.5M28 44.75h1.5M27 13.75h1.5M3 20.75h1.5M8 9.75h1.5M27 32.75h1.5M10 15.75h1.5M36 29.75h1.5M47 1.75h1.5M-1 1.75h1.5M18 19.75h1.5M12 17.75h1.5M30 43.75h1.5M41 9.75h1.5M9 2.75h1.5M4 11.75h1.5M34 36.75h1.5M10 19.75h1.5M47 31.75h1.5M-1 31.75h1.5M34 6.75h1.5M1 14.75h1.5M39 9.75h1.5M9 5.75h1.5M43 16.75h1.5M15 4.75h1.5M40 29.75h1.5M16 25.75h1.5M39 47.75h1.5M39 -0.25h1.5M37 26.75h1.5M45 18.75h1.5M38 32.75h1.5M3 46.75h1.5M3 -1.25h1.5M1 0.75h1.5M21 32.75h1.5M27 26.75h1.5M30 22.75h1.5M14 6.75h1.5M33 42.75h1.5M46 23.75h1.5M38 10.75h1.5M0 18.75h1.5M31 41.75h1.5M14 33.75h1.5M10 26.75h1.5M16 16.75h1.5M13 42.75h1.5M14 3.75h1.5M44 2.75h1.5M17 38.75h1.5M23 0.75h1.5M24 8.75h1.5M39 23.75h1.5M39 29.75h1.5M38 36.75h1.5M6 18.75h1.5M18 46.75h1.5M18 -1.25h1.5M34 28.75h1.5M44 36.75h1.5M12 44.75h1.5M21 21.75h1.5M33 39.75h1.5M27 37.75h1.5M14 39.75h1.5M30 33.75h1.5M17 30.75h1.5M37 45.75h1.5M25 28.75h1.5M36 47.75h1.5M36 -0.25h1.5M7 13.75h1.5M20 27.75h1.5M39 30.75h1.5M31 9.75h1.5M12 41.75h1.5M12 26.75h1.5M27 30.75h1.5M18 28.75h1.5M29 29.75h1.5M19 46.75h1.5M19 -1.25h1.5M24 2.75h1.5M35 14.75h1.5M39 42.75h1.5M16 22.75h1.5M0 42.75h1.5M40 25.75h1.5M40 4.75h1.5M21 45.75h1.5M40 37.75h1.5M9 38.75h1.5M19 31.75h1.5M10 44.75h1.5M42 36.75h1.5M27 1.75h1.5M22 26.75h1.5M42 18.75h1.5M35 41.75h1.5M31 10.75h1.5M30 47.75h1.5M30 -0.25h1.5M1 21.75h1.5M43 10.75h1.5M40 45.75h1.5M45 10.75h1.5M19 47.75h1.5M19 -0.25h1.5M38 22.75h1.5M2 6.75h1.5M33 26.75h1.5M31 6.75h1.5M3 12.75h1.5M36 8.75h1.5M30 30.75h1.5M36 19.75h1.5M17 18.75h1.5M10 2.75h1.5M4 6.75h1.5M29 14.75h1.5M42 35.75h1.5M20 17.75h1.5M20 11.75h1.5M31 20.75h1.5M18 4.75h1.5M5 28.75h1.5M5 6.75h1.5M16 42.75h1.5M34 6.75h1.5M31 31.75h1.5M21 15.75h1.5M0 2.75h1.5M0 24.75h1.5M44 24.75h1.5M34 45.75h1.5M41 26.75h1.5M34 45.75h1.5M16 6.75h1.5M2 2.75h1.5M17 44.75h1.5M2 18.75h1.5M41 13.75h1.5M29 21.75h1.5M33 2.75h1.5M14 43.75h1.5M14 19.75h1.5M6 38.75h1.5M29 44.75h1.5M0 33.75h1.5M45 39.75h1.5M3 6.75h1.5M44 41.75h1.5M39 40.75h1.5M1 19.75h1.5M44 33.75h1.5M39 37.75h1.5M29 4.75h1.5M13 47.75h1.5M13 -0.25h1.5M44 28.75h1.5M39 9.75h1.5M36 38.75h1.5M46 19.75h1.5M46 3.75h1.5M15 33.75h1.5M45 47.75h1.5M45 -0.25h1.5M2 28.75h1.5M7 44.75h1.5M13 36.75h1.5M12 34.75h1.5M37 25.75h1.5M32 8.75h1.5M17 1.75h1.5M0 42.75h1.5M13 30.75h1.5M29 34.75h1.5M38 3.75h1.5M38 1.75h1.5M20 17.75h1.5M11 47.75h1.5M11 -0.25h1.5M23 14.75h1.5M23 6.75h1.5M9 42.75h1.5M18 35.75h1.5M26 25.75h1.5M33 15.75h1.5M4 37.75h1.5M18 12.75h1.5M19 39.75h1.5M12 43.75h1.5M3 6.75h1.5M31 20.75h1.5M8 5.75h1.5M35 7.75h1.5M29 43.75h1.5M40 42.75h1.5M47 12.75h1.5M-1 12.75h1.5M6 23.75h1.5M5 40.75h1.5M9 34.75h1.5M24 23.75h1.5M5 37.75h1.5M17 37.75h1.5M9 8.75h1.5M24 32.75h1.5M3 29.75h1.5M38 36.75h1.5M41 6.75h1.5M29 13.75h1.5M42 0.75h1.5M24 37.75h1.5M43 26.75h1.5M21 27.75h1.5M17 19.75h1.5M34 34.75h1.5M40 40.75h1.5M46 21.75h1.5M46 1.75h1.5M16 25.75h1.5M32 39.75h1.5M13 3.75h1.5M3 18.75h1.5M39 7.75h1.5M20 24.75h1.5M32 44.75h1.5M15 22.75h1.5M12 20.75h1.5M19 37.75h1.5M3 37.75h1.5M32 29.75h1.5M11 45.75h1.5M33 47.75h1.5M33 -0.25h1.5M11 34.75h1.5M34 11.75h1.5M13 36.75h1.5M43 31.75h1.5M29 23.75h1.5M35 14.75h1.5M35 41.75h1.5M7 37.75h1.5M14 14.75h1.5M0 34.75h1.5M47 28.75h1.5M-1 28.75h1.5M8 22.75h1.5M5 35.75h1.5M29 8.75h1.5M10 3.75h1.5M30 14.75h1.5M42 33.75h1.5M36 39.75h1.5M16 32.75h1.5M18 15.75h1.5M8 47.75h1.5M8 -0.25h1.5M42 34.75h1.5M5 29.75h1.5M30 2.75h1.5M44 7.75h1.5M25 44.75h1.5M21 31.75h1.5M14 13.75h1.5M12 32.75h1.5M13 20.75h1.5M9 23.75h1.5M44 43.75h1.5M34 11.75h1.5M47 44.75h1.5M-1 44.75h1.5M35 37.75h1.5M41 26.75h1.5M12 43.75h1.5" stroke="#000" stroke-width="1.5" fill="none"/></pattern>
<pattern id="p9" patternUnits="userSpaceOnUse" width="48" height="48"><path d="M26 6.75h1.5M40 34.75h1.5M36 43.75h1.5M15 1.75h1.5M28 44.75h1.5M9 26.75h1.5M7 9.75h1.5M24 19.75h1.5M26 36.75h1.5M47 22.75h1.5M-1 22.75h1.5M47 21.75h1.5M-1 21.75h1.5M24 20.75h1.5M31 36.75h1.5M9 40.75h1.5M36 0.75h1.5M38 21.75h1.5M46 35.75h1.5M6 5.75h1.5M21 42.75h1.5M30 1.75h1.5M26 41.75h1.5M5 28.75h1.5M31 0.75h1.5M36 14.75h1.5M42 11.75h1.5M3 25.75h1.5M13 0.75h1.5M43 21.75h1.5M33 11.75h1.5M38 8.75h1.5M15 1.75h1.5M8 8.75h1.5M24 40.75h1.5M19 34.75h1.5M12 30.75h1.5M24 2.75h1.5M3 29.75h1.5M46 13.75h1.5M14 16.75h1.5M0 37.75h1.5M38 38.75h1.5M10 26.75h1.5M9 9.75h1.5M28 6.75h1.5M17 32.75h1.5M20 42.75h1.5M41 31.75h1.5M15 20.75h1.5M43 27.75h1.5M6 32.75h1.5M13 39.75h1.5M37 33.75h1.5M40 22.75h1.5M35 15.75h1.5M0 38.75h1.5M32 18.75h1.5M37 8.75h1.5M7 34.75h1.5M33 41.75h1.5M47 8.75h1.5M-1 8.75h1.5M1 2.75h1.5M36 28.75h1.5M36 3.75h1.5M7 32.75h1.5M0 47.75h1.5M0 -0.25h1.5M25 8.75h1.5M10 8.75h1.5M35 15.75h1.5M38 39.75h1.5M6 0.75h1.5M5 9.75h1.5M41 24.75h1.5M25 42.75h1.5M11 15.75h1.5M38 25.75h1.5M37 18.75h1.5M45 41.75h1.5M8 30.75h1.5M43 30.75h1.5M26 39.75h1.5M0 7.75h1.5M4 11.75h1.5M8 42.75h1.5M32 39.75h1.5M26 35.75h1.5M5 18.75h1.5M15 38.75h1.5M42 43.75h1.5M40 39.75h1.5M30 11.75h1.5M29 29.75h1.5M34 15.75h1.5M3 35.75h1.5M46 44.75h1.5M40 7.75h1.5M22 20.75h1.5M34 39.75h1.5M30 19.75h1.5M34 38.75h1.5M21 21.75h1.5M21 34.75h1.5M46 25.75h1.5M1 8.75h1.5M12 21.75h1.5M42 9.75h1.5M34 16.75h1.5M0 36.75h1.5M28 22.75h1.5M6 26.75h1.5M38 24.75h1.5M12 45.75h1.5M15 31.75h1.5M19 25.75h1.5M42 10.75h1.5M18 13.75h1.5M3 45.75h1.5M19 6.75h1.5M9 17.75h1.5M30 17.75h1.5M1 40.75h1.5M17 6.75h1.5M14 6.75h1.5M34 47.75h1.5M34 -0.25h1.5M29 46.75h1.5M29 -1.25h1.5M36 19.75h1.5M21 37.75h1.5M17 8.75h1.5M44 21.75h1.5M12 33.75h1.5M43 31.75h1.5M35 20.75h1.5M10 10.75h1.5M7 3.75h1.5M7 22.75h1.5M33 13.75h1.5M35 38.75h1.5M34 32.75h1.5M10 9.75h1.5M15 28.75h1.5M13 24.75h1.5M28 19.75h1.5M21 7.75h1.5M22 26.75h1.5M8 47.75h1.5M8 -0.25h1.5M27 31.75h1.5M3 11.75h1.5M43 26.75h1.5M37 3.75h1.5M23 17.75h1.5M32 34.75h1.5M46 34.75h1.5M5 35.75h1.5M38 22.75h1.5M4 15.75h1.5M28 41.75h1.5M16 4.75h1.5M29 45.75h1.5M36 31.75h1.5M9 22.75h1.5M5 15.75h1.5M16 28.75h1.5M22 39.75h1.5M0 36.75h1.5M26 24.75h1.5M14 11.75h1.5M10 28.75h1.5M16 9.75h1.5M7 25.75h1.5M10 17.75h1.5M36 29.75h1.5M22 17.75h1.5M3 27.75h1.5M25 6.75h1.5M10 5.75h1.5M3 38.75h1.5M38 44.75h1.5M41 41.75h1.5M39 29.75h1.5M18 28.75h1.5M26 4.75h1.5M19 10.75h1.5M29 27.75h1.5M41 34.75h1.5M41 45.75h1.5M11 10.75h1.5M14 32.75h1.5M13 8.75h1.5M39 1.75h1.5M6 18.75h1.5M14 13.75h1.5M36 44.75h1.5M33 3.75h1.5M12 15.75h1.5M7 25.75h1.5M18 16.75h1.5M1 47.75h1.5M1 -0.25h1.5M18 26.75h1.5M21 23.75h1.5M7 32.75h1.5M35 3.75h1.5M26 20.75h1.5M32 41.75h1.5M37 31.75h1.5M10 7.75h1.5M44 47.75h1.5M44 -0.25h1.5M26 16.75h1.5M25 47.75h1.5M25 -0.25h1.5M5 12.75h1.5M42 30.75h1.5M22 39.75h1.5M0 29.75h1.5M14 2.75h1.5M43 26.75h1.5M11 2.75h1.5M25 0.75h1.5M36 9.75h1.5M4 30.75h1.5M1 40.75h1.5M29 39.75h1.5M13 9.75h1.5M25 28.75h1.5M36 2.75h1.5M20 38.75h1.5M33 6.75h1.5M45 1.75h1.5M19 16.75h1.5M31 22.75h1.5M46 7.75h1.5M30 9.75h1.5M2 8.75h1.5M6 15.75h1.5M45 12.75h1.5M3 15.75h1.5M20 7.75h1.5M20 47.75h1.5M20 -0.25h1.5M37 40.75h1.5M0 28.75h1.5M17 9.75h1.5M5 5.75h1.5M21 20.75h1.5M37 43.75h1.5M8 44.75h1.5M21 20.75h1.5M19 11.75h1.5M31 27.75h1.5M12 21.75h1.5M47 30.75h1.5M-1 30.75h1.5M12 0.75h1.5M15 34.75h1.5M29 28.75h1.5M38 35.75h1.5M42 18.75h1.5M37 6.75h1.5M21 34.75h1.5M14 23.75h1.5M33 11.75h1.5M28 13.75h1.5M44 7.75h1.5M0 32.75h1.5M26 21.75h1.5M18 45.75h1.5M24 40.75h1.5M23 16.75h1.5M0 12.75h1.5M9 13.75h1.5M11 35.75h1.5M47 7.75h1.5M-1 7.75h1.5M0 38.75h1.5M1 12.75h1.5M28 16.75h1.5M30 33.75h1.5M36 45.75h1.5M22 1.75h1.5M34 10.75h1.5M46 7.75h1.5M29 34.75h1.5M33 15.75h1.5M34 14.75h1.5M9 0.75h1.5M36 18.75h1.5M23 20.75h1.5M32 20.75h1.5M13 0.75h1.5M45 21.75h1.5M15 10.75h1.5M47 8.75h1.5M-1 8.75h1.5M17 24.75h1.5M17 18.75h1.5M15 2.75h1.5M19 17.75h1.5M30 14.75h1.5M47 40.75h1.5M-1 40.75h1.5M4 6.75h1.5M33 17.75h1.5M31 6.75h1.5M12 6.75h1.5M9 38.75h1.5M47 31.75h1.5M-1 31.75h1.5M34 6.75h1.5M18 44.75h1.5M47 23.75h1.5M-1 23.75h1.5M35 15.75h1.5M20 35.75h1.5M7 27.75h1.5M42 7.75h1.5M9 18.75h1.5M28 13.75h1.5M47 27.75h1.5M-1 27.75h1.5M9 0.75h1.5M14 31.75h1.5M38 14.75h1.5M4 1.75h1.5M18 3.75h1.5M17 22.75h1.5M9 45.75h1.5M35 45.75h1.5M31 47.75h1.5M31 -0.25h1.5M43 18.75h1.5M39 35.75h1.5M7 30.75h1.5M18 0.75h1.5M36 36.75h1.5M40 38.75h1.5M26 23.75h1.5M44 12.75h1.5M39 38.75h1.5M5 25.75h1.5M3 17.75h1.5M31 0.75h1.5M23 37.75h1.5M5 25.75h1.5M0 29.75h1.5M40 15.75h1.5M29 10.75h1.5M15 4.75h1.5M44 16.75h1.5M19 36.75h1.5M46 29.75h1.5M45 33.75h1.5M22 19.75h1.5M6 15.75h1.5M41 23.75h1.5M21 35.75h1.5M12 38.75h1.5M37 9.75h1.5M18 14.75h1.5M37 27.75h1.5M33 20.75h1.5M9 46.75h1.5M9 -1.25h1.5M12 9.75h1.5M32 10.75h1.5M11 30.75h1.5M16 29.75h1.5M35 28.75h1.5M14 33.75h1.5M12 12.75h1.5M3 4.75h1.5M36 11.75h1.5M8 17.75h1.5M36 32.75h1.5M25 38.75h1.5M7 20.75h1.5M28 1.75h1.5M43 41.75h1.5M12 28.75h1.5M4 8.75h1.5M41 10.75h1.5M14 46.75h1.5M14 -1.25h1.5M33 40.75h1.5M12 0.75h1.5M37 4.75h1.5M21 40.75h1.5M41 35.75h1.5M13 33.75h1.5M1 10.75h1.5M18 0.75h1.5M19 31.75h1.5M8 47.75h1.5M8 -0.25h1.5M8 22.75h1.5M6 0.75h1.5M45 31.75h1.5M31 7.75h1.5M40 30.75h1.5M30 14.75h1.5M38 40.75h1.5M35 8.75h1.5M7 17.75h1.5M47 12.75h1.5M-1 12.75h1.5M43 31.75h1.5M45 47.75h1.5M45 -0.25h1.5M34 13.75h1.5M13 27.75h1.5M26 15.75h1.5M29 33.75h1.5M18 11.75h1.5M0 37.75h1.5M12 1.75h1.5M37 28.75h1.5M23 25.75h1.5M12 0.75h1.5M44 42.75h1.5M30 5.75h1.5M40 7.75h1.5M25 24.75h1.5M27 3.75h1.5M15 28.75h1.5M38 41.75h1.5M36 37.75h1.5M26 8.75h1.5M39 6.75h1.5M36 28.75h1.5M0 39.75h1.5M23 39.75h1.5M0 33.75h1.5M43 2.75h1.5M43 28.75h1.5M28 42.75h1.5M11 8.75h1.5M0 22.75h1.5M32 41.75h1.5M10 34.75h1.5M21 27.75h1.5M4 10.75h1.5M34 38.75h1.5M31 29.75h1.5M25 47.75h1.5M25 -0.25h1.5M9 14.75h1.5M26 0.75h1.5M42 40.75h1.5M30 22.75h1.5M1 8.75h1.5M42 47.75h1.5M42 -0.25h1.5M11 14.75h1.5M5 1.75h1.5M1 16.75h1.5M36 34.75h1.5M27 11.75h1.5M7 6.75h1.5M30 38.75h1.5M14 38.75h1.5M20 26.75h1.5M7 9.75h1.5M38 21.75h1.5M13 36.75h1.5M22 34.75h1.5M42 40.75h1.5M13 28.75h1.5M11 20.75h1.5M5 22.75h1.5M28 8.75h1.5M23 21.75h1.5M16 9.75h1.5M19 1.75h1.5M47 6.75h1.5M-1 6.75h1.5M41 15.75h1.5M3 30.75h1.5M10 28.75h1.5M24 25.75h1.5M43 8.75h1.5M41 34.75h1.5M34 22.75h1.5M6 0.75h1.5M45 4.75h1.5M8 8.75h1.5M0 10.75h1.5M41 23.75h1.5M5 18.75h1.5M10 27.75h1.5M20 13.75h1.5M7 43.75h1.5M31 10.75h1.5M36 34.75h1.5M38 21.75h1.5M25 24.75h1.5M4 36.75h1.5M31 2.75h1.5M37 47.75h1.5M37 -0.25h1.5M39 20.75h1.5M14 26.75h1.5M21 38.75h1.5M1 43.75h1.5M9 23.75h1.5M39 10.75h1.5M5 14.75h1.5M42 39.75h1.5M36 4.75h1.5M13 40.75h1.5M38 5.75h1.5M13 1.75h1.5M26 26.75h1.5M15 40.75h1.5M38 44.75h1.5M21 44.75h1.5M32 18.75h1.5M29 4.75h1.5M37 38.75h1.5M24 23.75h1.5M23 26.75h1.5M22 39.75h1.5M41 10.75h1.5M36 38.75h1.5M14 6.75h1.5M38 17.75h1.5M17 41.75h1.5M42 11.75h1.5M24 30.75h1.5M35 7.75h1.5M4 37.75h1.5M42 19.75h1.5M23 29.75h1.5M27 44.75h1.5M19 4.75h1.5M47 41.75h1.5M-1 41.75h1.5M21 39.75h1.5M7 36.75h1.5M33 6.75h1.5M31 39.75h1.5M29 1.75h1.5M22 41.75h1.5M27 33.75h1.5M10 38.75h1.5M37 18.75h1.5M21 32.75h1.5M15 22.75h1.5M17 13.75h1.5M4 1.75h1.5M30 44.75h1.5M3 46.75h1.5M3 -1.25h1.5M23 21.75h1.5M25 11.75h1.5M22 36.75h1.5M44 4.75h1.5M6 40.75h1.5M12 35.75h1.5M13 30.75h1.5M0 35.75h1.5M24 3.75h1.5M36 41.75h1.5M5 40.75h1.5M29 7.75h1.5M43 2.75h1.5M40 16.75h1.5M15 23.75h1.5M18 2.75h1.5M28 37.75h1.5M17 10.75h1.5M6 3.75h1.5M35 35.75h1.5M9 35.75h1.5M4 21.75h1.5M7 6.75h1.5M39 19.75h1.5M2 17.75h1.5M11 37.75h1.5M10 4.75h1.5M35 32.75h1.5M0 16.75h1.5M12 34.75h1.5M26 14.75h1.5M10 14.75h1.5M10 37.75h1.5M18 26.75h1.5M46 46.75h1.5M46 -1.25h1.5M12 22.75h1.5M44 13.75h1.5M0 24.75h1.5M15 24.75h1.5M38 45.75h1.5M37 40.75h1.5M13 42.75h1.5M21 2.75h1.5M12 19.75h1.5M1 3.75h1.5M16 30.75h1.5M25 13.75h1.5M35 46.75h1.5M35 -1.25h1.5M43 35.75h1.5M47 24.75h1.5M-1 24.75h1.5M30 35.75h1.5M12 38.75h1.5M37 27.75h1.5M30 6.75h1.5M1 36.75h1.5M4 2.75h1.5M35 14.75h1.5M38 14.75h1.5M47 7.75h1.5M-1 7.75h1.5M41 36.75h1.5M6 40.75h1.5M8 23.75h1.5M35 12.75h1.5M13 17.75h1.5M6 16.75h1.5M32 22.75h1.5M2 45.75h1.5M34 33.75h1.5M0 35.75h1.5M7 42.75h1.5M7 17.75h1.5M13 8.75h1.5M4 13.75h1.5M27 27.75h1.5M19 29.75h1.5M35 6.75h1.5M45 25.75h1.5M0 16.75h1.5M28 42.75h1.5M31 32.75h1.5M40 42.75h1.5M5 11.75h1.5M24 11.75h1.5M27 5.75h1.5M16 24.75h1.5M35 11.75h1.5M16 29.75h1.5M44 42.75h1.5M44 40.75h1.5M23 47.75h1.5M23 -0.25h1.5M37 4.75h1.5M6 38.75h1.5M22 11.75h1.5M35 39.75h1.5M31 23.75h1.5M37 4.75h1.5M23 23.75h1.5M16 23.75h1.5M15 3.75h1.5M46 42.75h1.5M7 5.75h1.5M16 1.75h1.5M40 35.75h1.5M6 17.75h1.5M34 30.75h1.5M25 23.75h1.5M9 5.75h1.5M27 19.75h1.5M31 20.75h1.5M21 0.75h1.5M35 38.75h1.5M13 21.75h1.5M10 32.75h1.5M22 24.75h1.5M42 38.75h1.5M37 43.75h1.5M42 16.75h1.5M17 30.75h1.5M36 25.75h1.5M13 22.75h1.5M1 10.75h1.5M33 32.75h1.5M35 6.75h1.5M8 4.75h1.5M13 6.75h1.5M3 29.75h1.5M18 1.75h1.5M34 4.75h1.5M18 1.75h1.5M4 9.75h1.5M12 38.75h1.5M8 6.75h1.5M44 38.75h1.5M38 26.75h1.5M34 43.75h1.5M7 25.75h1.5M25 21.75h1.5M10 13.75h1.5M41 46.75h1.5M41 -1.25h1.5M20 7.75h1.5M4 36.75h1.5M12 15.75h1.5M44 24.75h1.5M43 10.75h1.5M4 44.75h1.5M22 13.75h1.5M25 10.75h1.5M41 2.75h1.5M12 41.75h1.5M28 7.75h1.5M17 24.75h1.5M31 25.75h1.5M32 4.75h1.5M19 29.75h1.5M36 42.75h1.5M42 46.75h1.5M42 -1.25h1.5M10 4.75h1.5M24 2.75h1.5M41 5.75h1.5M31 22.75h1.5M10 47.75h1.5M10 -0.25h1.5M37 41.75h1.5M41 39.75h1.5M33 19.75h1.5M23 20.75h1.5M42 17.75h1.5M37 27.75h1.5M32 32.75h1.5M23 12.75h1.5M37 33.75h1.5M39 40.75h1.5M0 45.75h1.5M17 5.75h1.5M26 3.75h1.5M19 15.75h1.5M38 5.75h1.5M34 34.75h1.5M30 1.75h1.5M22 36.75h1.5M20 27.75h1.5M32 42.75h1.5M28 35.75h1.5M24 9.75h1.5M2 37.75h1.5M17 36.75h1.5M13 23.75h1.5M42 26.75h1.5M43 4.75h1.5M26 25.75h1.5M13 5.75h1.5M17 33.75h1.5M16 28.75h1.5M13 4.75h1.5M24 47.75h1.5M24 -0.25h1.5M44 45.75h1.5M37 8.75h1.5M3 8.75h1.5M1 28.75h1.5M17 9.75h1.5M26 8.75h1.5M33 46.75h1.5M33 -1.25h1.5M13 13.75h1.5M10 11.75h1.5M37 45.75h1.5M1 43.75h1.5M1 14.75h1.5M0 26.75h1.5M22 3.75h1.5M41 4.75h1.5M3 47.75h1.5M3 -0.25h1.5M1 10.75h1.5M19 33.75h1.5M46 14.75h1.5M40 11.75h1.5M19 20.75h1.5M28 32.75h1.5M8 25.75h1.5M11 8.75h1.5M17 30.75h1.5M37 14.75h1.5M38 16.75h1.5M38 30.75h1.5M24 28.75h1.5M38 4.75h1.5M8 41.75h1.5M12 32.75h1.5M11 35.75h1.5M26 23.75h1.5M13 0.75h1.5M41 43.75h1.5M25 22.75h1.5M1 42.75h1.5M11 26.75h1.5M32 16.75h1.5M30 44.75h1.5M45 34.75h1.5M26 17.75h1.5M47 6.75h1.5M-1 6.75h1.5M18 29.75h1.5M37 14.75h1.5M34 25.75h1.5M18 14.75h1.5M18 22.75h1.5M5 23.75h1.5M2 1.75h1.5M46 8.75h1.5M5 16.75h1.5M15 26.75h1.5M46 9.75h1.5M20 0.75h1.5M16 7.75h1.5M3 17.75h1.5M46 18.75h1.5M26 27.75h1.5M11 30.75h1.5M20 33.75h1.5M34 19.75h1.5M30 38.75h1.5M44 2.75h1.5M47 31.75h1.5M-1 31.75h1.5M14 11.75h1.5M10 3.75h1.5M33 17.75h1.5M29 18.75h1.5M44 9.75h1.5M27 45.75h1.5M16 21.75h1.5M9 8.75h1.5M28 40.75h1.5M39 46.75h1.5M39 -1.25h1.5M30 39.75h1.5M11 46.75h1.5M11 -1.25h1.5M4 15.75h1.5M10 16.75h1.5M25 8.75h1.5M5 15.75h1.5M39 2.75h1.5M9 14.75h1.5M37 43.75h1.5M26 29.75h1.5M7 7.75h1.5M15 27.75h1.5M46 10.75h1.5M46 33.75h1.5M16 2.75h1.5M21 9.75h1.5M20 0.75h1.5M37 16.75h1.5M20 10.75h1.5M26 12.75h1.5M8 40.75h1.5M46 43.75h1.5M40 42.75h1.5M38 22.75h1.5M11 44.75h1.5M18 17.75h1.5M3 46.75h1.5M3 -1.25h1.5M37 36.75h1.5M15 38.75h1.5M27 28.75h1.5M32 29.75h1.5M9 26.75h1.5M5 15.75h1.5M31 32.75h1.5M44 42.75h1.5M19 40.75h1.5M32 47.75h1.5M32 -0.25h1.5M24 43.75h1.5M32 36.75h1.5M1 16.75h1.5M43 30.75h1.5M7 39.75h1.5M0 7.75h1.5M41 10.75h1.5M40 30.75h1.5M17 23.75h1.5M6 17.75h1.5M33 44.75h1.5M42 41.75h1.5M2 35.75h1.5M8 44.75h1.5M25 7.75h1.5M7 42.75h1.5M7 12.75h1.5M34 46.75h1.5M34 -1.25h1.5M20 4.75h1.5M45 2.75h1.5M38 10.75h1.5M5 26.75h1.5M9 46.75h1.5M9 -1.25h1.5M20 9.75h1.5M24 3.75h1.5M37 38.75h1.5M22 19.75h1.5M21 9.75h1.5M20 16.75h1.5M11 46.75h1.5M11 -1.25h1.5M35 3.75h1.5M20 35.75h1.5M1 27.75h1.5M28 3.75h1.5M2 27.75h1.5M5 9.75h1.5M22 3.75h1.5M1 37.75h1.5M8 9.75h1.5M42 7.75h1.5M32 30.75h1.5M29 23.75h1.5M18 39.75h1.5M40 13.75h1.5M20 13.75h1.5M17 19.75h1.5M1 47.75h1.5M1 -0.25h1.5M25 1.75h1.5M41 2.75h1.5M36 14.75h1.5M37 8.75h1.5M12 6.75h1.5M47 4.75h1.5M-1 4.75h1.5M41 38.75h1.5M0 13.75h1.5M37 40.75h1.5M33 13.75h1.5M15 8.75h1.5M35 20.75h1.5M45 34.75h1.5M38 10.75h1.5M46 8.75h1.5M33 44.75h1.5M31 38.75h1.5M45 14.75h1.5M47 38.75h1.5M-1 38.75h1.5M0 32.75h1.5M21 34.75h1.5M3 0.75h1.5M25 43.75h1.5M38 36.75h1.5M5 14.75h1.5M20 16.75h1.5M10 8.75h1.5M33 47.75h1.5M33 -0.25h1.5M6 26.75h1.5M43 20.75h1.5M37 17.75h1.5M13 7.75h1.5M11 30.75h1.5M38 12.75h1.5M40 46.75h1.5M40 -1.25h1.5M6 11.75h1.5M38 28.75h1.5M33 25.75h1.5M43 40.75h1.5M0 20.75h1.5M43 37.75h1.5M40 28.75h1.5M22 15.75h1.5M42 36.75h1.5M36 20.75h1.5M40 41.75h1.5M41 11.75h1.5M44 2.75h1.5M30 1.75h1.5M43 9.75h1.5M13 23.75h1.5M26 30.75h1.5M8 28.75h1.5M9 24.75h1.5M46 17.75h1.5M32 35.75h1.5M25 45.75h1.5M5 25.75h1.5M37 11.75h1.5M20 30.75h1.5M28 45.75h1.5M17 25.75h1.5M4 31.75h1.5M43 8.75h1.5M32 20.75h1.5M45 35.75h1.5M40 6.75h1.5M8 2.75h1.5M29 26.75h1.5M12 12.75h1.5M20 47.75h1.5M20 -0.25h1.5M9 8.75h1.5M27 39.75h1.5M21 21.75h1.5M14 38.75h1.5M13 38.75h1.5M27 25.75h1.5M47 13.75h1.5M-1 13.75h1.5M29 16.75h1.5M28 23.75h1.5M29 25.75h1.5M17 4.75h1.5M24 22.75h1.5M27 34.75h1.5M7 46.75h1.5M7 -1.25h1.5M26 43.75h1.5M19 10.75h1.5M47 8.75h1.5M-1 8.75h1.5M2 32.75h1.5M1 28.75h1.5M33 3.75h1.5M46 28.75h1.5M7 43.75h1.5M31 30.75h1.5M7 30.75h1.5M35 46.75h1.5M35 -1.25h1.5M26 10.75h1.5M26 39.75h1.5M6 4.75h1.5M3 21.75h1.5M11 38.75h1.5M2 33.75h1.5M15 25.75h1.5M25 37.75h1.5M21 19.75h1.5M30 10.75h1.5M12 45.75h1.5M45 12.75h1.5M18 33.75h1.5M39 46.75h1.5M39 -1.25h1.5M0 27.75h1.5M2 28.75h1.5M8 4.75h1.5M42 24.75h1.5M23 38.75h1.5M39 28.75h1.5M11 20.75h1.5M17 16.75h1.5M42 11.75h1.5M32 44.75h1.5M45 39.75h1.5M10 30.75h1.5M32 34.75h1.5M31 7.75h1.5M43 39.75h1.5M28 27.75h1.5M43 31.75h1.5M39 11.75h1.5M47 0.75h1.5M-1 0.75h1.5M39 5.75h1.5M33 39.75h1.5M31 9.75h1.5M12 38.75h1.5M16 12.75h1.5M27 37.75h1.5M32 29.75h1.5M14 9.75h1.5M33 41.75h1.5M41 12.75h1.5M40 30.75h1.5M17 38.75h1.5M47 26.75h1.5M-1 26.75h1.5M40 32.75h1.5M27 28.75h1.5M45 19.75h1.5M44 7.75h1.5M9 42.75h1.5M7 42.75h1.5M30 44.75h1.5M23 6.75h1.5M0 9.75h1.5M31 46.75h1.5M31 -1.25h1.5M28 19.75h1.5M47 36.75h1.5M-1 36.75h1.5M10 11.75h1.5M13 25.75h1.5M35 10.75h1.5M12 37.75h1.5M12 25.75h1.5M38 28.75h1.5M35 40.75h1.5M14 9.75h1.5M41 29.75h1.5M28 11.75h1.5M13 41.75h1.5M41 2.75h1.5M31 27.75h1.5M13 14.75h1.5M20 17.75h1.5M26 28.75h1.5M23 10.75h1.5M41 21.75h1.5M44 36.75h1.5M26 23.75h1.5M37 40.75h1.5M2 41.75h1.5M9 24.75h1.5M14 3.75h1.5M39 38.75h1.5M46 29.75h1.5M35 14.75h1.5M42 22.75h1.5M38 12.75h1.5M33 43.75h1.5M47 34.75h1.5M-1 34.75h1.5M0 2.75h1.5M16 12.75h1.5M41 31.75h1.5M20 40.75h1.5M2 27.75h1.5M5 24.75h1.5M8 43.75h1.5M43 47.75h1.5M43 -0.25h1.5M28 21.75h1.5M36 28.75h1.5M47 47.75h1.5M-1 47.75h1.5M47 -0.25h1.5M46 31.75h1.5M32 24.75h1.5M26 44.75h1.5M19 35.75h1.5M19 8.75h1.5M33 11.75h1.5M47 18.75h1.5M-1 18.75h1.5M36 44.75h1.5M18 9.75h1.5M29 43.75h1.5M34 6.75h1.5M45 18.75h1.5M45 29.75h1.5M10 35.75h1.5M38 28.75h1.5M47 20.75h1.5M-1 20.75h1.5M11 41.75h1.5M21 3.75h1.5M28 22.75h1.5M19 41.75h1.5M26 21.75h1.5M44 35.75h1.5M6 40.75h1.5M11 16.75h1.5M27 42.75h1.5M14 20.75h1.5M44 34.75h1.5M15 9.75h1.5M43 11.75h1.5M4 33.75h1.5M10 15.75h1.5M9 6.75h1.5M9 34.75h1.5M35 3.75h1.5M2 32.75h1.5M43 19.75h1.5M17 38.75h1.5M19 38.75h1.5M17 6.75h1.5M24 46.75h1.5M24 -1.25h1.5M45 38.75h1.5M26 14.75h1.5M16 26.75h1.5M6 25.75h1.5M39 1.75h1.5M26 41.75h1.5M38 47.75h1.5M38 -0.25h1.5M23 47.75h1.5M23 -0.25h1.5M17 6.75h1.5M2 37.75h1.5M20 47.75h1.5M20 -0.25h1.5M12 20.75h1.5M21 12.75h1.5M43 5.75h1.5M25 3.75h1.5M42 41.75h1.5M20 23.75h1.5M26 18.75h1.5M31 14.75h1.5M12 3.75h1.5M10 3.75h1.5M7 6.75h1.5M39 34.75h1.5M8 39.75h1.5M0 7.75h1.5M46 11.75h1.5M25 5.75h1.5M41 8.75h1.5M32 40.75h1.5M39 29.75h1.5M9 4.75h1.5M21 12.75h1.5M35 8.75h1.5M17 39.75h1.5M24 19.75h1.5M14 4.75h1.5M24 36.75h1.5M7 31.75h1.5M34 30.75h1.5M24 26.75h1.5M44 41.75h1.5M0 40.75h1.5M15 44.75h1.5M0 33.75h1.5M3 44.75h1.5M45 47.75h1.5M45 -0.25h1.5M42 1.75h1.5M0 20.75h1.5M4 3.75h1.5M16 32.75h1.5M9 28.75h1.5M45 30.75h1.5M23 8.75h1.5M9 33.75h1.5M28 45.75h1.5M38 13.75h1.5M40 30.75h1.5M25 43.75h1.5M39 33.75h1.5M41 33.75h1.5M29 20.75h1.5M16 9.75h1.5M13 13.75h1.5M7 46.75h1.5M7 -1.25h1.5M29 13.75h1.5M43 44.75h1.5M46 42.75h1.5M12 21.75h1.5M33 15.75h1.5M17 19.75h1.5M18 26.75h1.5M42 19.75h1.5M4 16.75h1.5M24 37.75h1.5M40 41.75h1.5M10 18.75h1.5M16 34.75h1.5M45 22.75h1.5M9 25.75h1.5M19 38.75h1.5M38 14.75h1.5M11 0.75h1.5M16 30.75h1.5M35 45.75h1.5M10 36.75h1.5M31 33.75h1.5M0 0.75h1.5M2 7.75h1.5M2 37.75h1.5M39 43.75h1.5M0 46.75h1.5M0 -1.25h1.5M4 26.75h1.5M37 9.75h1.5M29 25.75h1.5M38 30.75h1.5M41 26.75h1.5M32 3.75h1.5M7 39.75h1.5M43 32.75h1.5M26 38.75h1.5M1 40.75h1.5M5 20.75h1.5M16 13.75h1.5M35 24.75h1.5M6 32.75h1.5M43 22.75h1.5M1 19.75h1.5M41 44.75h1.5M20 23.75h1.5M2 32.75h1.5M14 10.75h1.5M12 25.75h1.5M35 46.75h1.5M35 -1.25h1.5M15 28.75h1.5M24 29.75h1.5M2 29.75h1.5M28 22.75h1.5M4 2.75h1.5M32 7.75h1.5M5 42.75h1.5M21 44.75h1.5M6 6.75h1.5M42 24.75h1.5M39 19.75h1.5M28 20.75h1.5M21 13.75h1.5M25 46.75h1.5M25 -1.25h1.5M33 31.75h1.5M34 1.75h1.5M4 46.75h1.5M4 -1.25h1.5M0 46.75h1.5M0 -1.25h1.5M4 3.75h1.5M45 38.75h1.5M44 23.75h1.5M38 4.75h1.5M3 47.75h1.5M3 -0.25h1.5M3 23.75h1.5M36 22.75h1.5M45 8.75h1.5M7 8.75h1.5M38 7.75h1.5M19 27.75h1.5M7 36.75h1.5M22 41.75h1.5M9 36.75h1.5M19 21.75h1.5M38 6.75h1.5M41 7.75h1.5M22 8.75h1.5M14 27.75h1.5M30 42.75h1.5M9 29.75h1.5M47 42.75h1.5M-1 42.75h1.5M11 4.75h1.5M17 25.75h1.5M36 5.75h1.5M29 23.75h1.5M14 18.75h1.5M34 15.75h1.5M31 47.75h1.5M31 -0.25h1.5M5 12.75h1.5M13 39.75h1.5M37 36.75h1.5M31 43.75h1.5M22 19.75h1.5M24 45.75h1.5M43 16.75h1.5M20 0.75h1.5M44 15.75h1.5M25 40.75h1.5M27 13.75h1.5M10 28.75h1.5M13 28.75h1.5M22 18.75h1.5M18 40.75h1.5M15 42.75h1.5M27 28.75h1.5M14 7.75h1.5M36 39.75h1.5M0 4.75h1.5M2 39.75h1.5M17 29.75h1.5M21 32.75h1.5M36 46.75h1.5M36 -1.25h1.5M15 47.75h1.5M15 -0.25h1.5M12 30.75h1.5M5 39.75h1.5M16 1.75h1.5M36 26.75h1.5M25 34.75h1.5M10 11.75h1.5M39 10.75h1.5M28 16.75h1.5M17 1.75h1.5M9 34.75h1.5M1 24.75h1.5M42 43.75h1.5M42 10.75h1.5M23 42.75h1.5M37 33.75h1.5M19 46.75h1.5M19 -1.25h1.5M7 21.75h1.5M24 15.75h1.5M6 45.75h1.5M17 21.75h1.5M47 23.75h1.5M-1 23.75h1.5M39 18.75h1.5M11 33.75h1.5M14 20.75h1.5M9 29.75h1.5M47 25.75h1.5M-1 25.75h1.5M6 44.75h1.5M22 31.75h1.5M16 3.75h1.5M18 7.75h1.5M40 43.75h1.5M4 31.75h1.5M4 45.75h1.5M47 18.75h1.5M-1 18.75h1.5M40 28.75h1.5M28 30.75h1.5M5 6.75h1.5M26 34.75h1.5M1 34.75h1.5M44 44.75h1.5M35 1.75h1.5M45 3.75h1.5M33 38.75h1.5M30 15.75h1.5M46 37.75h1.5M10 42.75h1.5M25 8.75h1.5M2 36.75h1.5M35 40.75h1.5M15 41.75h1.5M2 26.75h1.5M20 39.75h1.5M19 12.75h1.5M26 37.75h1.5M46 8.75h1.5M31 16.75h1.5M47 28.75h1.5M-1 28.75h1.5M39 39.75h1.5M44 41.75h1.5M23 7.75h1.5M34 2.75h1.5M31 35.75h1.5M25 11.75h1.5M9 11.75h1.5M8 12.75h1.5M9 40.75h1.5M9 0.75h1.5M16 2.75h1.5M43 25.75h1.5M14 47.75h1.5M14 -0.25h1.5M15 23.75h1.5M14 5.75h1.5M11 26.75h1.5M19 13.75h1.5M32 13.75h1.5M8 44.75h1.5M3 31.75h1.5M9 40.75h1.5M40 37.75h1.5M40 20.75h1.5M4 20.75h1.5M38 11.75h1.5M16 33.75h1.5M9 27.75h1.5M12 6.75h1.5M6 1.75h1.5M42 5.75h1.5M17 39.75h1.5M39 29.75h1.5M7 27.75h1.5M28 18.75h1.5M33 9.75h1.5M39 4.75h1.5M21 6.75h1.5M16 18.75h1.5M24 40.75h1.5M12 40.75h1.5M1 26.75h1.5M17 38.75h1.5M28 33.75h1.5M24 20.75h1.5M43 12.75h1.5M41 13.75h1.5M8 23.75h1.5M16 6.75h1.5M31 20.75h1.5M35 14.75h1.5M6 10.75h1.5M4 38.75h1.5M37 3.75h1.5M12 16.75h1.5M43 12.75h1.5M29 26.75h1.5M25 23.75h1.5M2 38.75h1.5M38 25.75h1.5M6 40.75h1.5M37 25.75h1.5M21 30.75h1.5M32 21.75h1.5M10 6.75h1.5M9 7.75h1.5M14 18.75h1.5M12 45.75h1.5M20 20.75h1.5M23 2.75h1.5M3 3.75h1.5M7 47.75h1.5M7 -0.25h1.5M3 22.75h1.5M18 47.75h1.5M18 -0.25h1.5M26 7.75h1.5M45 45.75h1.5M9 34.75h1.5M44 9.75h1.5M11 6.75h1.5M44 40.75h1.5M11 32.75h1.5M13 30.75h1.5M22 2.75h1.5M26 14.75h1.5M4 44.75h1.5M15 4.75h1.5M12 25.75h1.5M42 44.75h1.5M6 0.75h1.5M16 24.75h1.5M39 40.75h1.5M21 18.75h1.5M19 45.75h1.5M33 40.75h1.5M34 21.75h1.5M30 40.75h1.5M20 44.75h1.5M12 45.75h1.5M6 9.75h1.5M29 3.75h1.5M37 33.75h1.5M21 20.75h1.5M33 1.75h1.5M9 23.75h1.5M9 5.75h1.5M36 31.75h1.5M36 17.75h1.5M7 7.75h1.5M29 27.75h1.5M21 23.75h1.5M25 25.75h1.5M33 0.75h1.5M43 45.75h1.5M11 7.75h1.5M18 23.75h1.5M30 27.75h1.5M12 38.75h1.5M8 43.75h1.5M20 26.75h1.5M35 12.75h1.5M10 23.75h1.5M28 45.75h1.5M30 24.75h1.5M1 10.75h1.5M5 44.75h1.5M24 29.75h1.5M30 1.75h1.5M23 28.75h1.5M41 31.75h1.5M11 29.75h1.5M3 31.75h1.5M28 9.75h1.5M47 7.75h1.5M-1 7.75h1.5M33 6.75h1.5M15 43.75h1.5M37 42.75h1.5M32 19.75h1.5M44 24.75h1.5M39 13.75h1.5M13 11.75h1.5M22 4.75h1.5M27 36.75h1.5M40 12.75h1.5M38 40.75h1.5M40 17.75h1.5M38 35.75h1.5M21 38.75h1.5M18 19.75h1.5M47 6.75h1.5M-1 6.75h1.5M7 38.75h1.5M17 24.75h1.5M36 20.75h1.5M21 12.75h1.5M19 36.75h1.5M14 16.75h1.5M40 37.75h1.5M3 14.75h1.5M30 32.75h1.5M32 26.75h1.5M23 46.75h1.5M23 -1.25h1.5M34 20.75h1.5M22 11.75h1.5M17 33.75h1.5M17 6.75h1.5M33 42.75h1.5M6 41.75h1.5M45 40.75h1.5M14 27.75h1.5M47 44.75h1.5M-1 44.75h1.5M14 40.75h1.5M25 43.75h1.5M4 9.75h1.5M36 39.75h1.5M35 40.75h1.5M42 31.75h1.5M17 3.75h1.5M29 2.75h1.5M4 0.75h1.5M7 8.75h1.5M24 29.75h1.5M14 5.75h1.5M41 11.75h1.5M36 3.75h1.5M30 43.75h1.5M38 3.75h1.5M31 12.75h1.5M36 44.75h1.5M18 44.75h1.5M37 36.75h1.5M9 23.75h1.5M13 3.75h1.5M14 20.75h1.5M24 28.75h1.5M31 44.75h1.5M17 37.75h1.5M43 10.75h1.5M0 19.75h1.5M20 31.75h1.5M0 41.75h1.5M46 32.75h1.5M5 40.75h1.5M15 2.75h1.5M46 0.75h1.5M46 12.75h1.5M46 12.75h1.5M15 43.75h1.5M39 39.75h1.5M18 18.75h1.5M32 36.75h1.5M10 37.75h1.5M8 0.75h1.5M47 41.75h1.5M-1 41.75h1.5M44 19.75h1.5M24 8.75h1.5M30 14.75h1.5M37 5.75h1.5M20 39.75h1.5M5 37.75h1.5M28 35.75h1.5M23 33.75h1.5M16 24.75h1.5M0 41.75h1.5M4 39.75h1.5M47 17.75h1.5M-1 17.75h1.5M24 9.75h1.5M17 34.75h1.5M46 41.75h1.5M32 0.75h1.5M36 15.75h1.5M31 24.75h1.5M17 18.75h1.5M8 12.75h1.5M23 10.75h1.5M32 4.75h1.5M17 14.75h1.5M44 45.75h1.5M9 13.75h1.5M9 27.75h1.5M46 16.75h1.5M14 13.75h1.5M14 21.75h1.5M0 10.75h1.5M4 12.75h1.5M23 18.75h1.5M6 43.75h1.5M42 7.75h1.5M2 46.75h1.5M2 -1.25h1.5M8 46.75h1.5M8 -1.25h1.5M6 42.75h1.5M2 7.75h1.5M4 25.75h1.5M37 15.75h1.5M38 31.75h1.5M32 19.75h1.5M34 4.75h1.5M35 44.75h1.5M1 4.75h1.5M13 12.75h1.5M2 4.75h1.5M25 27.75h1.5M25 11.75h1.5M40 18.75h1.5M6 7.75h1.5M45 17.75h1.5M23 29.75h1.5M0 37.75h1.5M30 21.75h1.5M5 25.75h1.5M32 28.75h1.5M2 6.75h1.5M4 23.75h1.5M34 20.75h1.5M2 31.75h1.5M39 16.75h1.5M31 35.75h1.5M6 4.75h1.5M42 12.75h1.5M26 13.75h1.5M11 19.75h1.5M23 23.75h1.5M21 13.75h1.5M20 47.75h1.5M20 -0.25h1.5M45 37.75h1.5M39 5.75h1.5M27 2.75h1.5M6 21.75h1.5M6 11.75h1.5M34 10.75h1.5M34 22.75h1.5M43 40.75h1.5M40 46.75h1.5M40 -1.25h1.5M15 10.75h1.5M24 29.75h1.5M18 24.75h1.5M12 6.75h1.5M38 47.75h1.5M38 -0.25h1.5M46 25.75h1.5M22 19.75h1.5M18 3.75h1.5M31 0.75h1.5M8 23.75h1.5M30 23.75h1.5M2 44.75h1.5M41 42.75h1.5M29 41.75h1.5M39 15.75h1.5M5 44.75h1.5M41 30.75h1.5M47 6.75h1.5M-1 6.75h1.5M47 32.75h1.5M-1 32.75h1.5M6 8.75h1.5M24 23.75h1.5M11 5.75h1.5M42 32.75h1.5M30 11.75h1.5M41 7.75h1.5M29 18.75h1.5M45 20.75h1.5M28 16.75h1.5M17 20.75h1.5M32 30.75h1.5M6 6.75h1.5M22 10.75h1.5M34 26.75h1.5M15 9.75h1.5M29 20.75h1.5M41 11.75h1.5M29 35.75h1.5M5 23.75h1.5M17 21.75h1.5M3 18.75h1.5M11 21.75h1.5M16 14.75h1.5M45 44.75h1.5M10 15.75h1.5M3 43.75h1.5M13 1.75h1.5M44 1.75h1.5M17 45.75h1.5M44 36.75h1.5M7 20.75h1.5M42 35.75h1.5M1 27.75h1.5M6 30.75h1.5M44 24.75h1.5M23 27.75h1.5M42 13.75h1.5M0 44.75h1.5M37 28.75h1.5M24 4.75h1.5M31 9.75h1.5M43 24.75h1.5M29 3.75h1.5M30 7.75h1.5M9 24.75h1.5M20 38.75h1.5M45 8.75h1.5M8 43.75h1.5M4 37.75h1.5M2 22.75h1.5M7 17.75h1.5M18 3.75h1.5M24 10.75h1.5M38 37.75h1.5M37 42.75h1.5M7 38.75h1.5M37 33.75h1.5M6 41.75h1.5M4 17.75h1.5M6 26.75h1.5M28 12.75h1.5M44 28.75h1.5M26 3.75h1.5M17 33.75h1.5M32 22.75h1.5M14 47.75h1.5M14 -0.25h1.5M39 38.75h1.5M21 0.75h1.5M38 9.75h1.5M46 34.75h1.5M0 11.75h1.5M1 7.75h1.5M10 2.75h1.5M25 24.75h1.5M33 14.75h1.5M41 4.75h1.5M8 32.75h1.5M26 37.75h1.5M21 45.75h1.5M20 0.75h1.5M2 14.75h1.5M34 22.75h1.5M33 30.75h1.5M23 19.75h1.5M25 47.75h1.5M25 -0.25h1.5M3 30.75h1.5M45 32.75h1.5M36 8.75h1.5M36 13.75h1.5M26 13.75h1.5M24 44.75h1.5M4 5.75h1.5M8 7.75h1.5M33 10.75h1.5M30 20.75h1.5M8 3.75h1.5M14 9.75h1.5M5 23.75h1.5M41 46.75h1.5M41 -1.25h1.5M41 32.75h1.5M34 11.75h1.5M34 11.75h1.5M23 26.75h1.5M34 7.75h1.5M7 0.75h1.5M25 6.75h1.5M25 17.75h1.5M40 36.75h1.5M42 46.75h1.5M42 -1.25h1.5M19 28.75h1.5M45 0.75h1.5M37 16.75h1.5M26 45.75h1.5M24 24.75h1.5M30 35.75h1.5M33 5.75h1.5M33 10.75h1.5M18 3.75h1.5M15 2.75h1.5M37 6.75h1.5M2 34.75h1.5M3 7.75h1.5M18 21.75h1.5M12 8.75h1.5M1 37.75h1.5M5 6.75h1.5M34 43.75h1.5M46 14.75h1.5M29 39.75h1.5M26 40.75h1.5M12 19.75h1.5M21 0.75h1.5M23 20.75h1.5M40 39.75h1.5M6 3.75h1.5M42 31.75h1.5M38 10.75h1.5M2 6.75h1.5M23 7.75h1.5M14 10.75h1.5M40 12.75h1.5M4 31.75h1.5M32 46.75h1.5M32 -1.25h1.5M14 2.75h1.5M36 39.75h1.5M3 44.75h1.5M35 21.75h1.5M29 6.75h1.5M26 45.75h1.5M32 11.75h1.5M29 34.75h1.5M0 12.75h1.5M12 1.75h1.5M20 38.75h1.5M3 44.75h1.5M34 22.75h1.5M32 0.75h1.5M21 23.75h1.5M39 46.75h1.5M39 -1.25h1.5M28 31.75h1.5M29 47.75h1.5M29 -0.25h1.5M42 18.75h1.5M15 19.75h1.5M36 28.75h1.5M47 1.75h1.5M-1 1.75h1.5M13 21.75h1.5M4 23.75h1.5M19 30.75h1.5M46 45.75h1.5M8 25.75h1.5M28 42.75h1.5M28 47.75h1.5M28 -0.25h1.5M25 40.75h1.5M10 4.75h1.5M45 4.75h1.5M33 16.75h1.5M1 0.75h1.5M39 47.75h1.5M39 -0.25h1.5M32 29.75h1.5M23 42.75h1.5M4 7.75h1.5M7 8.75h1.5M2 9.75h1.5M10 6.75h1.5M21 4.75h1.5M28 14.75h1.5M25 22.75h1.5M30 45.75h1.5M32 9.75h1.5M44 36.75h1.5M18 43.75h1.5M4 2.75h1.5M0 4.75h1.5M35 21.75h1.5M9 9.75h1.5M45 39.75h1.5M35 26.75h1.5M25 22.75h1.5M47 2.75h1.5M-1 2.75h1.5M39 10.75h1.5M39 44.75h1.5M25 42.75h1.5M30 38.75h1.5M43 33.75h1.5M17 29.75h1.5M17 36.75h1.5M26 18.75h1.5M33 8.75h1.5M34 5.75h1.5M1 12.75h1.5M28 8.75h1.5M22 3.75h1.5M10 2.75h1.5M46 23.75h1.5M46 1.75h1.5M35 33.75h1.5M31 39.75h1.5M28 25.75h1.5M26 29.75h1.5M37 17.75h1.5M31 2.75h1.5M3 17.75h1.5M33 3.75h1.5M34 12.75h1.5M17 29.75h1.5M42 45.75h1.5M45 19.75h1.5M46 8.75h1.5M44 32.75h1.5M13 0.75h1.5M30 23.75h1.5M41 30.75h1.5M8 17.75h1.5M38 24.75h1.5M31 19.75h1.5M2 12.75h1.5M3 7.75h1.5M21 20.75h1.5M39 5.75h1.5M21 30.75h1.5M16 15.75h1.5M28 42.75h1.5M14 11.75h1.5M46 11.75h1.5M18 0.75h1.5M29 47.75h1.5M29 -0.25h1.5M37 26.75h1.5M40 47.75h1.5M40 -0.25h1.5M7 12.75h1.5M39 31.75h1.5M40 39.75h1.5M35 43.75h1.5M24 19.75h1.5M25 17.75h1.5M40 43.75h1.5M41 42.75h1.5M12 30.75h1.5M12 1.75h1.5M32 47.75h1.5M32 -0.25h1.5M44 34.75h1.5M34 3.75h1.5M18 37.75h1.5M5 35.75h1.5M25 8.75h1.5M15 42.75h1.5M20 5.75h1.5M21 7.75h1.5M9 33.75h1.5M13 36.75h1.5M21 33.75h1.5M29 36.75h1.5M14 12.75h1.5M33 27.75h1.5M25 11.75h1.5M25 20.75h1.5M39 26.75h1.5M47 42.75h1.5M-1 42.75h1.5M10 2.75h1.5M0 25.75h1.5M43 21.75h1.5M9 5.75h1.5M13 25.75h1.5M26 34.75h1.5M21 47.75h1.5M21 -0.25h1.5M2 28.75h1.5M25 39.75h1.5M26 4.75h1.5M28 7.75h1.5M4 16.75h1.5M33 46.75h1.5M33 -1.25h1.5M24 10.75h1.5M36 42.75h1.5M10 46.75h1.5M10 -1.25h1.5M32 10.75h1.5M43 35.75h1.5M40 20.75h1.5M23 20.75h1.5M34 35.75h1.5M9 23.75h1.5M29 28.75h1.5M37 33.75h1.5M41 36.75h1.5M37 39.75h1.5M10 3.75h1.5M44 47.75h1.5M44 -0.25h1.5M44 26.75h1.5M0 21.75h1.5M20 31.75h1.5M25 0.75h1.5M26 44.75h1.5M46 25.75h1.5M21 41.75h1.5M40 4.75h1.5M11 7.75h1.5M46 24.75h1.5M36 16.75h1.5M1 20.75h1.5M45 37.75h1.5M44 44.75h1.5M29 14.75h1.5M46 45.75h1.5M25 15.75h1.5M4 45.75h1.5M5 33.75h1.5M3 8.75h1.5M46 23.75h1.5M29 43.75h1.5M40 13.75h1.5M39 42.75h1.5M14 5.75h1.5M12 18.75h1.5M12 45.75h1.5M8 14.75h1.5M24 9.75h1.5M29 24.75h1.5M47 15.75h1.5M-1 15.75h1.5M29 14.75h1.5M31 46.75h1.5M31 -1.25h1.5M15 43.75h1.5M42 26.75h1.5M23 32.75h1.5M25 30.75h1.5M23 20.75h1.5M39 12.75h1.5M24 26.75h1.5M15 7.75h1.5M5 2.75h1.5M9 11.75h1.5M41 6.75h1.5M16 43.75h1.5M29 47.75h1.5M29 -0.25h1.5M18 35.75h1.5M35 36.75h1.5M33 26.75h1.5M37 25.75h1.5M3 26.75h1.5M26 5.75h1.5M23 16.75h1.5M11 12.75h1.5M23 29.75h1.5M13 25.75h1.5M27 12.75h1.5M3 26.75h1.5M17 12.75h1.5M40 25.75h1.5M16 1.75h1.5M33 44.75h1.5M5 13.75h1.5M29 19.75h1.5M44 38.75h1.5M37 37.75h1.5M9 47.75h1.5M9 -0.25h1.5M40 8.75h1.5M30 41.75h1.5M24 47.75h1.5M24 -0.25h1.5M40 26.75h1.5M14 6.75h1.5M8 24.75h1.5M3 43.75h1.5M5 24.75h1.5M32 30.75h1.5M17 29.75h1.5M12 41.75h1.5M21 19.75h1.5M24 30.75h1.5M4 20.75h1.5M33 47.75h1.5M33 -0.25h1.5M12 19.75h1.5M23 29.75h1.5M0 16.75h1.5M21 16.75h1.5M9 9.75h1.5M19 7.75h1.5M16 42.75h1.5M6 3.75h1.5M8 35.75h1.5M7 39.75h1.5M28 37.75h1.5M25 39.75h1.5M28 39.75h1.5M21 35.75h1.5M9 16.75h1.5M37 19.75h1.5M29 13.75h1.5M24 13.75h1.5M18 13.75h1.5M7 0.75h1.5M41 39.75h1.5M39 4.75h1.5M13 7.75h1.5M12 19.75h1.5M11 19.75h1.5M11 40.75h1.5M41 39.75h1.5M21 19.75h1.5M33 19.75h1.5M44 4.75h1.5M33 5.75h1.5M18 23.75h1.5M20 20.75h1.5M20 7.75h1.5M5 35.75h1.5M30 22.75h1.5M23 10.75h1.5M19 5.75h1.5M38 22.75h1.5M21 38.75h1.5M38 0.75h1.5M20 25.75h1.5M9 39.75h1.5M41 30.75h1.5M43 44.75h1.5M19 33.75h1.5M5 32.75h1.5M13 12.75h1.5M18 11.75h1.5M3 44.75h1.5M1 17.75h1.5M20 27.75h1.5M47 37.75h1.5M-1 37.75h1.5M3 39.75h1.5M7 25.75h1.5M11 8.75h1.5M9 43.75h1.5M0 30.75h1.5M30 10.75h1.5M45 32.75h1.5M27 2.75h1.5M34 39.75h1.5M6 18.75h1.5M40 16.75h1.5M44 30.75h1.5M9 37.75h1.5M1 10.75h1.5M11 38.75h1.5M9 43.75h1.5M0 46.75h1.5M0 -1.25h1.5M16 21.75h1.5M37 46.75h1.5M37 -1.25h1.5M12 25.75h1.5M3 18.75h1.5M13 40.75h1.5M33 14.75h1.5M6 1.75h1.5M15 24.75h1.5M20 14.75h1.5M29 5.75h1.5M19 12.75h1.5M13 29.75h1.5M8 41.75h1.5M42 32.75h1.5M15 19.75h1.5M30 27.75h1.5M5 4.75h1.5M5 37.75h1.5M25 12.75h1.5M11 29.75h1.5M44 41.75h1.5M33 40.75h1.5M12 31.75h1.5M2 38.75h1.5M23 3.75h1.5M36 35.75h1.5M5 5.75h1.5M5 9.75h1.5M7 34.75h1.5M17 23.75h1.5M18 38.75h1.5M29 16.75h1.5M28 45.75h1.5M0 9.75h1.5M5 15.75h1.5M25 3.75h1.5M29 18.75h1.5M36 18.75h1.5M39 18.75h1.5M7 1.75h1.5M12 2.75h1.5M9 17.75h1.5M43 42.75h1.5M29 29.75h1.5M41 20.75h1.5M9 47.75h1.5M9 -0.25h1.5M39 33.75h1.5M31 46.75h1.5M31 -1.25h1.5M18 28.75h1.5M9 41.75h1.5M43 40.75h1.5M12 4.75h1.5M44 43.75h1.5M4 44.75h1.5M13 11.75h1.5M37 20.75h1.5M30 37.75h1.5M37 1.75h1.5M21 2.75h1.5M36 29.75h1.5M43 6.75h1.5M29 23.75h1.5M18 27.75h1.5M35 14.75h1.5M18 24.75h1.5M5 10.75h1.5M37 27.75h1.5M46 3.75h1.5M33 29.75h1.5M8 31.75h1.5M13 36.75h1.5M45 1.75h1.5M29 0.75h1.5M30 26.75h1.5M5 46.75h1.5M5 -1.25h1.5M14 29.75h1.5M2 39.75h1.5M43 11.75h1.5M42 40.75h1.5M47 17.75h1.5M-1 17.75h1.5M43 11.75h1.5M45 34.75h1.5M46 4.75h1.5M37 9.75h1.5M47 47.75h1.5M-1 47.75h1.5M47 -0.25h1.5M45 6.75h1.5M3 34.75h1.5M6 42.75h1.5M14 14.75h1.5M28 4.75h1.5M25 7.75h1.5M25 38.75h1.5M44 3.75h1.5M20 16.75h1.5M26 29.75h1.5M0 29.75h1.5M44 15.75h1.5M32 37.75h1.5M37 37.75h1.5M33 26.75h1.5M30 11.75h1.5M4 7.75h1.5M47 15.75h1.5M-1 15.75h1.5M2 22.75h1.5M22 27.75h1.5M27 2.75h1.5M44 33.75h1.5M38 7.75h1.5M15 42.75h1.5M33 10.75h1.5M15 34.75h1.5M46 5.75h1.5M15 14.75h1.5M44 25.75h1.5M43 44.75h1.5M44 41.75h1.5M45 40.75h1.5M29 3.75h1.5M45 23.75h1.5M40 18.75h1.5M34 45.75h1.5M30 31.75h1.5M25 0.75h1.5M5 14.75h1.5M46 26.75h1.5M31 21.75h1.5M34 27.75h1.5M35 3.75h1.5M37 7.75h1.5M36 34.75h1.5M21 41.75h1.5M16 36.75h1.5M35 20.75h1.5M35 2.75h1.5M21 8.75h1.5M11 31.75h1.5M3 10.75h1.5M6 15.75h1.5M46 47.75h1.5M46 -0.25h1.5M14 31.75h1.5M18 10.75h1.5M7 20.75h1.5M42 20.75h1.5M47 30.75h1.5M-1 30.75h1.5M24 34.75h1.5M17 0.75h1.5M44 41.75h1.5M15 16.75h1.5M43 16.75h1.5M20 17.75h1.5M2 30.75h1.5M39 20.75h1.5M15 18.75h1.5M28 21.75h1.5M37 3.75h1.5M31 11.75h1.5M16 12.75h1.5M10 26.75h1.5M32 0.75h1.5M30 17.75h1.5M40 47.75h1.5M40 -0.25h1.5M39 38.75h1.5M22 20.75h1.5M42 14.75h1.5M1 9.75h1.5M13 31.75h1.5M30 35.75h1.5M35 12.75h1.5M7 18.75h1.5M28 34.75h1.5M42 8.75h1.5M9 34.75h1.5M25 26.75h1.5M18 18.75h1.5M3 2.75h1.5M11 4.75h1.5M25 14.75h1.5M14 8.75h1.5M16 24.75h1.5M19 11.75h1.5M25 41.75h1.5M13 17.75h1.5M3 22.75h1.5M17 26.75h1.5M6 45.75h1.5M36 28.75h1.5M4 46.75h1.5M4 -1.25h1.5M26 42.75h1.5M29 15.75h1.5M40 46.75h1.5M40 -1.25h1.5M41 46.75h1.5M41 -1.25h1.5M26 39.75h1.5M15 22.75h1.5M44 34.75h1.5M30 36.75h1.5M33 45.75h1.5M1 2.75h1.5M16 7.75h1.5M40 38.75h1.5M19 30.75h1.5M30 28.75h1.5M41 3.75h1.5M43 34.75h1.5M15 30.75h1.5M6 44.75h1.5M13 9.75h1.5M33 16.75h1.5M37 18.75h1.5M36 14.75h1.5M26 22.75h1.5M25 15.75h1.5M47 26.75h1.5M-1 26.75h1.5M22 28.75h1.5M36 19.75h1.5M21 3.75h1.5M3 33.75h1.5M8 20.75h1.5M38 41.75h1.5M19 6.75h1.5M8 21.75h1.5M42 30.75h1.5M7 12.75h1.5M31 4.75h1.5M20 36.75h1.5M44 32.75h1.5M20 5.75h1.5M23 3.75h1.5M47 36.75h1.5M-1 36.75h1.5M45 3.75h1.5M6 22.75h1.5M13 31.75h1.5M2 31.75h1.5M17 36.75h1.5M28 46.75h1.5M28 -1.25h1.5M38 44.75h1.5M14 41.75h1.5M36 32.75h1.5M27 32.75h1.5M44 46.75h1.5M44 -1.25h1.5M39 39.75h1.5M8 0.75h1.5M21 9.75h1.5M40 3.75h1.5M0 20.75h1.5M47 22.75h1.5M-1 22.75h1.5M0 40.75h1.5M2 24.75h1.5M34 15.75h1.5M29 14.75h1.5M32 17.75h1.5M19 47.75h1.5M19 -0.25h1.5M9 32.75h1.5M17 3.75h1.5M6 5.75h1.5M13 24.75h1.5M43 42.75h1.5M29 47.75h1.5M29 -0.25h1.5M26 7.75h1.5M5 3.75h1.5M45 18.75h1.5M10 29.75h1.5M7 38.75h1.5M45 33.75h1.5M20 15.75h1.5M14 34.75h1.5M33 26.75h1.5M38 8.75h1.5M17 17.75h1.5M9 35.75h1.5M23 19.75h1.5M21 33.75h1.5M22 15.75h1.5M24 45.75h1.5M10 23.75h1.5M17 35.75h1.5M7 35.75h1.5M21 9.75h1.5M15 44.75h1.5M38 3.75h1.5M35 36.75h1.5M36 20.75h1.5M34 9.75h1.5M31 18.75h1.5M6 8.75h1.5M1 12.75h1.5M3 10.75h1.5M12 40.75h1.5M20 2.75h1.5M40 18.75h1.5M17 1.75h1.5M3 33.75h1.5M35 7.75h1.5M12 8.75h1.5M43 38.75h1.5M37 12.75h1.5M22 9.75h1.5M18 12.75h1.5M30 40.75h1.5M40 0.75h1.5M2 27.75h1.5M41 18.75h1.5M39 0.75h1.5M32 1.75h1.5M31 29.75h1.5M11 10.75h1.5M2 37.75h1.5M15 11.75h1.5M39 26.75h1.5M37 25.75h1.5M39 46.75h1.5M39 -1.25h1.5M9 26.75h1.5M31 6.75h1.5M30 38.75h1.5M22 39.75h1.5M22 14.75h1.5M42 25.75h1.5M23 30.75h1.5M18 39.75h1.5M25 40.75h1.5M23 13.75h1.5M40 21.75h1.5M6 14.75h1.5M14 16.75h1.5M6 14.75h1.5M27 6.75h1.5M6 1.75h1.5M5 21.75h1.5M39 16.75h1.5M2 28.75h1.5M45 25.75h1.5M41 17.75h1.5M35 39.75h1.5M45 11.75h1.5M40 2.75h1.5M19 0.75h1.5M40 43.75h1.5M12 18.75h1.5M1 3.75h1.5M44 3.75h1.5M43 36.75h1.5M36 21.75h1.5M44 9.75h1.5M37 21.75h1.5M31 18.75h1.5M8 15.75h1.5M34 46.75h1.5M34 -1.25h1.5M42 16.75h1.5M39 24.75h1.5M46 29.75h1.5M10 21.75h1.5M38 38.75h1.5M32 4.75h1.5M31 22.75h1.5M8 34.75h1.5M30 9.75h1.5M43 37.75h1.5M35 3.75h1.5M6 19.75h1.5M5 15.75h1.5M31 25.75h1.5M13 21.75h1.5M46 41.75h1.5M37 17.75h1.5M28 27.75h1.5M6 47.75h1.5M6 -0.25h1.5M47 6.75h1.5M-1 6.75h1.5M1 22.75h1.5M17 40.75h1.5M45 47.75h1.5M45 -0.25h1.5M30 39.75h1.5M42 31.75h1.5M16 40.75h1.5M13 29.75h1.5M46 22.75h1.5M42 3.75h1.5M44 35.75h1.5M31 5.75h1.5M32 9.75h1.5M18 6.75h1.5M33 47.75h1.5M33 -0.25h1.5M10 23.75h1.5M17 20.75h1.5M26 29.75h1.5M24 25.75h1.5M16 5.75h1.5M23 23.75h1.5M0 47.75h1.5M0 -0.25h1.5M42 29.75h1.5M16 11.75h1.5M23 47.75h1.5M23 -0.25h1.5M16 38.75h1.5M19 39.75h1.5M14 0.75h1.5M3 8.75h1.5M17 27.75h1.5M18 5.75h1.5M26 20.75h1.5M35 15.75h1.5M46 32.75h1.5M31 24.75h1.5M47 5.75h1.5M-1 5.75h1.5M36 28.75h1.5M45 11.75h1.5M21 12.75h1.5M4 12.75h1.5M43 10.75h1.5M12 1.75h1.5M7 6.75h1.5M44 33.75h1.5M36 22.75h1.5M30 33.75h1.5M24 23.75h1.5M29 41.75h1.5M34 37.75h1.5M20 27.75h1.5M13 26.75h1.5M31 20.75h1.5M30 14.75h1.5M11 36.75h1.5M11 24.75h1.5M25 47.75h1.5M25 -0.25h1.5M5 3.75h1.5M30 24.75h1.5M11 17.75h1.5M17 18.75h1.5M21 2.75h1.5M34 11.75h1.5M16 35.75h1.5M20 31.75h1.5M17 5.75h1.5M26 41.75h1.5M9 28.75h1.5M16 35.75h1.5M10 42.75h1.5M17 25.75h1.5M1 36.75h1.5M28 14.75h1.5M24 7.75h1.5M6 40.75h1.5M40 22.75h1.5M0 27.75h1.5M0 34.75h1.5M39 41.75h1.5M17 24.75h1.5M0 14.75h1.5M38 24.75h1.5M15 36.75h1.5M27 13.75h1.5M16 5.75h1.5M22 32.75h1.5M44 12.75h1.5M2 27.75h1.5M20 36.75h1.5M7 23.75h1.5M10 8.75h1.5M32 12.75h1.5M2 1.75h1.5M27 27.75h1.5M46 2.75h1.5M11 3.75h1.5M44 27.75h1.5M26 22.75h1.5M17 15.75h1.5M43 4.75h1.5M35 33.75h1.5M0 25.75h1.5M46 43.75h1.5M32 24.75h1.5M15 4.75h1.5M11 40.75h1.5M12 1.75h1.5M22 45.75h1.5M39 31.75h1.5M43 7.75h1.5M19 44.75h1.5M34 35.75h1.5M28 0.75h1.5M38 7.75h1.5M35 18.75h1.5M44 38.75h1.5M1 14.75h1.5M1 9.75h1.5M21 11.75h1.5M33 34.75h1.5M1 6.75h1.5M12 3.75h1.5M20 25.75h1.5M6 46.75h1.5M6 -1.25h1.5M43 10.75h1.5M12 33.75h1.5M14 42.75h1.5M25 39.75h1.5M44 11.75h1.5M37 10.75h1.5M17 34.75h1.5M42 40.75h1.5M0 4.75h1.5M35 1.75h1.5M1 34.75h1.5M34 4.75h1.5M24 6.75h1.5M35 19.75h1.5M16 16.75h1.5M31 29.75h1.5M41 8.75h1.5M33 20.75h1.5M39 30.75h1.5M14 7.75h1.5M26 12.75h1.5M43 2.75h1.5M26 9.75h1.5M31 20.75h1.5M12 12.75h1.5M39 8.75h1.5M21 6.75h1.5M39 33.75h1.5M35 8.75h1.5M14 31.75h1.5M25 23.75h1.5M24 30.75h1.5M23 23.75h1.5M8 44.75h1.5M45 8.75h1.5M21 13.75h1.5M42 17.75h1.5M42 25.75h1.5M30 43.75h1.5M24 11.75h1.5M18 44.75h1.5M34 23.75h1.5M21 14.75h1.5M44 18.75h1.5M15 2.75h1.5M16 42.75h1.5M16 36.75h1.5M37 35.75h1.5M47 43.75h1.5M-1 43.75h1.5M37 2.75h1.5M31 38.75h1.5M35 19.75h1.5M37 32.75h1.5M20 4.75h1.5" stroke="#000" stroke-width="1.5" fill="none"/></pattern>
</defs>
<text x="0.3" y="75.4" font-size="100" font-weight="bold">A</text>
<text x="-1.4" y="520.6" font-size="103" font-weight="bold">B</text>
<text x="2.5" y="960.1" font-size="102" font-weight="bold">C</text>
<text x="-4.2" y="1427.7" font-size="100" font-weight="bold">D</text>
<path d="M172.28 96.50C168.69 98.53 165.43 100.56 162.78 102.59C159.74 104.90 156.85 107.22 155.00 109.53C153.15 111.85 151.63 114.17 150.68 116.48C149.50 119.38 148.54 122.27 148.09 125.17C147.47 129.22 147.09 133.28 146.88 137.33C146.62 142.54 146.51 147.76 146.37 152.97C146.23 157.60 146.21 162.23 146.02 166.87C145.88 170.34 145.21 173.82 144.98 177.29C144.83 179.61 144.64 181.92 144.64 184.24C144.64 187.13 145.21 190.03 145.50 192.93C145.79 195.82 146.37 198.72 146.37 201.61C146.37 205.09 146.37 208.56 146.37 212.04C146.37 214.35 147.23 216.67 148.09 218.99C148.96 221.30 151.03 223.62 153.28 225.93C154.96 227.67 157.63 229.41 160.19 231.15C162.74 232.88 166.45 234.62 168.82 236.36C171.19 238.10 173.66 239.83 174.87 241.57C176.08 243.31 176.95 245.05 177.46 246.78C178.14 249.10 178.85 251.42 178.87 253.73C179.02 269.66 179.04 285.58 179.04 301.51L179.34 301.51C179.34 285.58 179.36 269.66 179.50 253.73C179.52 251.42 180.23 249.10 180.91 246.78C181.43 245.05 182.30 243.31 183.51 241.57C184.72 239.83 187.18 238.10 189.55 236.36C191.92 234.62 195.63 232.88 198.19 231.15C200.75 229.41 203.42 227.67 205.10 225.93C207.34 223.62 209.42 221.30 210.28 218.99C211.15 216.67 212.01 214.35 212.01 212.04C212.01 208.56 212.01 205.09 212.01 201.61C212.01 198.72 212.59 195.82 212.87 192.93C213.16 190.03 213.74 187.13 213.74 184.24C213.74 181.92 213.54 179.61 213.39 177.29C213.17 173.82 212.50 170.34 212.36 166.87C212.17 162.23 212.14 157.60 212.01 152.97C211.86 147.76 211.76 142.54 211.49 137.33C211.29 133.28 210.90 129.22 210.28 125.17C209.84 122.27 208.87 119.38 207.69 116.48C206.75 114.17 205.22 111.85 203.37 109.53C201.52 107.22 198.63 104.90 195.60 102.59C192.95 100.56 189.68 98.53 186.10 96.50Z" fill="#d7e6e6" stroke="#333333" stroke-width="1.8" stroke-linejoin="round"/>
<path d="M262.97 110.40C262.39 114.75 261.81 119.09 261.24 123.43C260.49 129.22 259.85 135.02 259.00 140.81C258.15 146.60 257.42 152.39 256.06 158.18C255.11 162.23 253.42 166.29 251.74 170.34C249.83 174.97 247.14 179.61 244.83 184.24C242.53 188.87 240.05 193.50 237.92 198.14C236.07 202.19 233.70 206.25 232.74 210.30C231.92 213.77 231.01 217.25 231.01 220.72C231.01 224.20 232.82 227.67 234.47 231.15C235.84 234.04 238.55 236.94 241.38 239.83C243.64 242.15 247.29 244.47 250.01 246.78C252.74 249.10 256.41 251.42 257.79 253.73C259.52 256.63 260.96 259.52 261.24 262.42C261.80 268.21 261.85 274.00 262.11 279.79C262.36 285.58 262.57 291.37 262.80 297.16C263.03 302.96 263.26 308.75 263.49 314.54C263.72 320.33 264.18 326.12 264.18 331.91C264.18 339.15 264.18 346.39 264.18 353.63L266.94 353.63C266.94 346.39 266.94 339.15 266.94 331.91C266.94 326.12 267.41 320.33 267.64 314.54C267.87 308.75 268.10 302.96 268.33 297.16C268.56 291.37 268.76 285.58 269.02 279.79C269.27 274.00 269.32 268.21 269.88 262.42C270.16 259.52 271.61 256.63 273.34 253.73C274.72 251.42 278.38 249.10 281.11 246.78C283.84 244.47 287.48 242.15 289.75 239.83C292.58 236.94 295.29 234.04 296.66 231.15C298.30 227.67 300.11 224.20 300.11 220.72C300.11 217.25 299.20 213.77 298.38 210.30C297.43 206.25 295.06 202.19 293.20 198.14C291.08 193.50 288.60 188.87 286.29 184.24C283.99 179.61 281.29 174.97 279.38 170.34C277.71 166.29 276.01 162.23 275.06 158.18C273.71 152.39 272.98 146.60 272.13 140.81C271.28 135.02 270.64 129.22 269.88 123.43C269.31 119.09 268.74 114.75 268.15 110.40Z" fill="#d4962f" stroke="#333333" stroke-width="1.8" stroke-linejoin="round"/>
<path d="M348.14 99.63C346.73 104.67 345.40 109.71 344.16 114.75C342.74 120.54 341.42 126.33 340.19 132.12C338.96 137.91 337.99 143.70 336.74 149.49C335.48 155.28 334.19 161.07 332.59 166.87C330.99 172.66 328.79 178.45 326.89 184.24C324.99 190.03 322.56 195.82 321.19 201.61C319.54 208.56 317.39 215.51 317.39 222.46C317.39 227.09 317.65 231.73 317.91 236.36C318.23 242.15 319.07 247.94 319.98 253.73C320.89 259.52 322.57 265.31 323.95 271.10C325.33 276.90 327.11 282.69 328.27 288.48C329.44 294.27 331.21 300.06 331.21 305.85C331.21 311.64 330.34 317.43 330.34 323.22C330.34 329.02 332.51 334.81 334.32 340.60C335.22 343.49 336.59 346.39 338.12 349.28C338.97 350.91 340.07 352.53 341.23 354.15L362.65 354.15C363.80 352.53 364.90 350.91 365.76 349.28C367.29 346.39 368.66 343.49 369.56 340.60C371.36 334.81 373.53 329.02 373.53 323.22C373.53 317.43 372.67 311.64 372.67 305.85C372.67 300.06 374.44 294.27 375.60 288.48C376.77 282.69 378.54 276.90 379.92 271.10C381.30 265.31 382.99 259.52 383.90 253.73C384.80 247.94 385.65 242.15 385.97 236.36C386.23 231.73 386.49 227.09 386.49 222.46C386.49 215.51 384.33 208.56 382.69 201.61C381.32 195.82 378.89 190.03 376.99 184.24C375.09 178.45 372.89 172.66 371.29 166.87C369.69 161.07 368.40 155.28 367.14 149.49C365.88 143.70 364.92 137.91 363.68 132.12C362.45 126.33 361.13 120.54 359.71 114.75C358.48 109.71 357.14 104.67 355.74 99.63Z" fill="#c2c5d5" stroke="#333333" stroke-width="1.8" stroke-linejoin="round"/>
<path d="M436.93 114.23C436.62 120.19 436.20 126.15 435.72 132.12C435.25 137.91 434.64 143.70 433.99 149.49C433.34 155.28 432.60 161.07 431.75 166.87C430.90 172.66 429.98 178.45 428.81 184.24C427.65 190.03 425.93 195.82 424.49 201.61C423.05 207.40 421.45 213.19 420.17 218.99C418.89 224.78 417.87 230.57 416.72 236.36C415.57 242.15 414.54 247.94 413.26 253.73C411.98 259.52 410.29 265.31 408.94 271.10C407.60 276.90 405.93 282.69 405.14 288.48C404.52 293.11 403.76 297.74 403.76 302.38C403.76 306.43 404.63 310.48 405.49 314.54C406.35 318.59 408.56 322.65 410.67 326.70C412.49 330.17 415.06 333.65 417.58 337.12C419.68 340.02 422.51 342.91 424.49 345.81C426.39 348.59 428.10 351.37 429.50 354.15L447.12 354.15C448.53 351.37 450.23 348.59 452.13 345.81C454.11 342.91 456.94 340.02 459.04 337.12C461.56 333.65 464.14 330.17 465.95 326.70C468.07 322.65 470.27 318.59 471.13 314.54C472.00 310.48 472.86 306.43 472.86 302.38C472.86 297.74 472.11 293.11 471.48 288.48C470.70 282.69 469.03 276.90 467.68 271.10C466.33 265.31 464.64 259.52 463.36 253.73C462.08 247.94 461.06 242.15 459.91 236.36C458.75 230.57 457.73 224.78 456.45 218.99C455.17 213.19 453.57 207.40 452.13 201.61C450.69 195.82 448.98 190.03 447.81 184.24C446.65 178.45 445.73 172.66 444.88 166.87C444.03 161.07 443.28 155.28 442.63 149.49C441.98 143.70 441.37 137.91 440.90 132.12C440.42 126.15 440.00 120.19 439.69 114.23Z" fill="#9ad89b" stroke="#333333" stroke-width="1.8" stroke-linejoin="round"/>
<rect x="169.8" y="97" width="18.8" height="2" fill="url(#p1)"/>
<rect x="169.8" y="99" width="18.8" height="2" fill="url(#p2)"/>
<rect x="169.8" y="101" width="18.8" height="3" fill="url(#p3)"/>
<rect x="169.8" y="104" width="18.8" height="5" fill="url(#p4)"/>
<rect x="169.8" y="109" width="18.8" height="8" fill="url(#p5)"/>
<rect x="169.8" y="117" width="18.8" height="60" fill="url(#p6)"/>
<rect x="169.8" y="177" width="18.8" height="46" fill="url(#p6)"/>
<rect x="169.8" y="223" width="18.8" height="6" fill="url(#p5)"/>
<rect x="169.8" y="229" width="18.8" height="3" fill="url(#p4)"/>
<rect x="169.8" y="232" width="18.8" height="2" fill="url(#p3)"/>
<rect x="256.2" y="140" width="18.8" height="29" fill="url(#p0)"/>
<rect x="256.2" y="169" width="18.8" height="15" fill="url(#p1)"/>
<rect x="256.2" y="184" width="18.8" height="16" fill="url(#p2)"/>
<rect x="256.2" y="200" width="18.8" height="34" fill="url(#p3)"/>
<rect x="256.2" y="234" width="18.8" height="8" fill="url(#p2)"/>
<rect x="256.2" y="242" width="18.8" height="6" fill="url(#p1)"/>
<rect x="256.2" y="248" width="18.8" height="8" fill="url(#p0)"/>
<rect x="342.6" y="104" width="18.8" height="24" fill="url(#p0)"/>
<rect x="342.6" y="128" width="18.8" height="28" fill="url(#p1)"/>
<rect x="342.6" y="156" width="18.8" height="22" fill="url(#p2)"/>
<rect x="342.6" y="178" width="18.8" height="22" fill="url(#p3)"/>
<rect x="342.6" y="200" width="18.8" height="60" fill="url(#p4)"/>
<rect x="342.6" y="260" width="18.8" height="3" fill="url(#p4)"/>
<rect x="342.6" y="263" width="18.8" height="29" fill="url(#p3)"/>
<rect x="342.6" y="292" width="18.8" height="52" fill="url(#p2)"/>
<rect x="342.6" y="344" width="18.8" height="10" fill="url(#p1)"/>
<rect x="342.6" y="354" width="18.8" height="1" fill="url(#p0)"/>
<rect x="428.9" y="147" width="18.8" height="34" fill="url(#p0)"/>
<rect x="428.9" y="181" width="18.8" height="20" fill="url(#p1)"/>
<rect x="428.9" y="201" width="18.8" height="22" fill="url(#p2)"/>
<rect x="428.9" y="223" width="18.8" height="30" fill="url(#p3)"/>
<rect x="428.9" y="253" width="18.8" height="27" fill="url(#p4)"/>
<rect x="428.9" y="280" width="18.8" height="38" fill="url(#p5)"/>
<rect x="428.9" y="318" width="18.8" height="13" fill="url(#p4)"/>
<rect x="428.9" y="331" width="18.8" height="8" fill="url(#p3)"/>
<rect x="428.9" y="339" width="18.8" height="7" fill="url(#p2)"/>
<rect x="428.9" y="346" width="18.8" height="8" fill="url(#p1)"/>
<path d="M269 112.75h1.5M266 123.75h1.5M262 127.75h1.5M272 127.75h1.5M265 131.75h1.5M272 138.75h1.5M269 139.75h1.5M264 262.75h1.5M268 263.75h1.5M261 269.75h1.5M266 268.75h1.5M271 273.75h1.5M268 281.75h1.5M265 280.75h1.5M268 282.75h1.5M269 283.75h1.5M265 286.75h1.5M262 290.75h1.5M263 296.75h1.5M259 304.75h1.5M270 322.75h1.5M272 335.75h1.5M357 101.75h1.5M355 102.75h1.5M445 125.75h1.5M445 131.75h1.5M442 134.75h1.5M435 135.75h1.5M436 136.75h1.5M439 137.75h1.5M435 139.75h1.5M445 146.75h1.5" stroke="#000" stroke-width="1.5" fill="none"/>
<rect x="136.00" y="83.60" width="345.50" height="283.30" fill="none" stroke="#111" stroke-width="1.3"/>
<text x="125.10" y="332.80" font-size="14.85" text-anchor="end">0.90</text>
<text x="125.10" y="285.94" font-size="14.85" text-anchor="end">0.95</text>
<text x="125.10" y="239.08" font-size="14.85" text-anchor="end">1.00</text>
<text x="125.10" y="192.22" font-size="14.85" text-anchor="end">1.05</text>
<text x="125.10" y="145.36" font-size="14.85" text-anchor="end">1.10</text>
<text x="125.10" y="98.50" font-size="14.85" text-anchor="end">1.15</text>
<text transform="translate(184.49 378.20) rotate(-90)" font-size="14.85" text-anchor="end">reaEGC</text>
<text transform="translate(270.86 378.20) rotate(-90)" font-size="14.85" text-anchor="end">rIPC1</text>
<text transform="translate(357.24 378.20) rotate(-90)" font-size="14.85" text-anchor="end">IMN</text>
<text transform="translate(443.61 378.20) rotate(-90)" font-size="14.85" text-anchor="end">nptxEX</text>
<path d="M136.00 327.30h-5M136.00 280.44h-5M136.00 233.58h-5M136.00 186.72h-5M136.00 139.86h-5M136.00 93.00h-5M179.19 366.90v5M265.56 366.90v5M351.94 366.90v5M438.31 366.90v5" stroke="#111" stroke-width="1.3" fill="none"/>
<text transform="translate(82.80 225.25) rotate(-90)" font-size="14.85" text-anchor="middle">Growth rate</text>
<text x="308.75" y="449.60" font-size="14.85" text-anchor="middle">Annotation</text>
<text x="308.75" y="74.60" font-size="17.75" text-anchor="middle">Δ<tspan font-style="italic">t</tspan> = 0.1</text>
<path d="M595.90 96.50C593.97 99.69 591.92 102.87 589.79 106.06C587.85 108.96 585.30 111.85 583.68 114.75C582.07 117.64 580.58 120.54 579.67 123.43C578.75 126.33 578.00 129.22 577.57 132.12C576.71 137.91 576.41 143.70 575.83 149.49C575.25 155.28 574.72 161.07 574.08 166.87C573.45 172.66 572.72 178.45 571.99 184.24C571.26 190.03 570.53 195.82 569.72 201.61C568.91 207.40 567.71 213.19 567.10 218.99C566.50 224.78 565.71 230.57 565.71 236.36C565.71 239.83 565.71 243.31 565.71 246.78C565.71 249.10 566.96 251.42 567.98 253.73C569.25 256.63 571.60 259.52 574.08 262.42C576.57 265.31 580.63 268.21 583.68 271.10C586.73 274.00 590.22 276.90 592.41 279.79C594.59 282.69 596.63 285.58 597.64 288.48C598.65 291.37 599.71 294.27 599.76 297.16C599.89 305.27 599.94 313.38 599.94 321.49L600.58 321.49C600.58 313.38 600.62 305.27 600.75 297.16C600.80 294.27 601.87 291.37 602.87 288.48C603.88 285.58 605.93 282.69 608.11 279.79C610.29 276.90 613.79 274.00 616.83 271.10C619.88 268.21 623.94 265.31 626.43 262.42C628.92 259.52 631.27 256.63 632.54 253.73C633.56 251.42 634.81 249.10 634.81 246.78C634.81 243.31 634.81 239.83 634.81 236.36C634.81 230.57 634.02 224.78 633.41 218.99C632.80 213.19 631.60 207.40 630.79 201.61C629.98 195.82 629.25 190.03 628.53 184.24C627.80 178.45 627.07 172.66 626.43 166.87C625.80 161.07 625.27 155.28 624.69 149.49C624.11 143.70 623.80 137.91 622.94 132.12C622.51 129.22 621.77 126.33 620.85 123.43C619.93 120.54 618.45 117.64 616.83 114.75C615.22 111.85 612.67 108.96 610.73 106.06C608.59 102.87 606.55 99.69 604.62 96.50Z" fill="#d7e6e6" stroke="#333333" stroke-width="1.8" stroke-linejoin="round"/>
<path d="M684.90 117.87C684.64 122.62 684.35 127.37 684.04 132.12C683.67 137.91 683.31 143.70 682.83 149.49C682.36 155.28 681.68 161.07 681.10 166.87C680.53 172.66 680.25 178.45 679.38 184.24C678.94 187.13 678.04 190.03 677.13 192.93C676.22 195.82 674.89 198.72 673.68 201.61C671.25 207.40 668.49 213.19 665.90 218.99C663.31 224.78 660.65 230.57 658.13 236.36C656.36 240.41 653.69 244.47 652.95 248.52C652.52 250.84 652.08 253.15 652.08 255.47C652.08 258.36 654.00 261.26 655.54 264.16C657.39 267.63 661.30 271.10 664.17 274.58C667.05 278.05 669.86 281.53 672.81 285.00C674.78 287.32 677.90 289.64 678.86 291.95C680.77 296.59 681.74 301.22 682.31 305.85C683.03 311.64 683.34 317.43 683.70 323.22C684.05 329.02 684.37 334.81 684.56 340.60C684.71 345.11 684.84 349.63 684.90 354.15L688.36 354.15C688.43 349.63 688.56 345.11 688.71 340.60C688.90 334.81 689.21 329.02 689.57 323.22C689.92 317.43 690.24 311.64 690.95 305.85C691.52 301.22 692.50 296.59 694.41 291.95C695.36 289.64 698.48 287.32 700.45 285.00C703.41 281.53 706.21 278.05 709.09 274.58C711.97 271.10 715.88 267.63 717.73 264.16C719.27 261.26 721.18 258.36 721.18 255.47C721.18 253.15 720.74 250.84 720.32 248.52C719.58 244.47 716.90 240.41 715.14 236.36C712.61 230.57 709.95 224.78 707.36 218.99C704.77 213.19 702.01 207.40 699.59 201.61C698.38 198.72 697.04 195.82 696.13 192.93C695.23 190.03 694.33 187.13 693.89 184.24C693.01 178.45 692.74 172.66 692.16 166.87C691.58 161.07 690.91 155.28 690.43 149.49C689.96 143.70 689.60 137.91 689.22 132.12C688.92 127.37 688.63 122.62 688.36 117.87Z" fill="#d4962f" stroke="#333333" stroke-width="1.8" stroke-linejoin="round"/>
<path d="M770.93 101.72C770.55 106.06 770.09 110.40 769.55 114.75C768.84 120.54 767.95 126.33 766.96 132.12C765.97 137.91 764.49 143.70 763.51 149.49C762.52 155.28 761.78 161.07 760.91 166.87C760.05 172.66 759.40 178.45 758.32 184.24C757.24 190.03 755.58 195.82 754.00 201.61C752.43 207.40 750.39 213.19 748.82 218.99C747.25 224.78 745.94 230.57 744.50 236.36C743.06 242.15 741.32 247.94 740.18 253.73C739.51 257.21 738.46 260.68 738.46 264.16C738.46 269.37 740.11 274.58 741.05 279.79C742.09 285.58 743.76 291.37 744.50 297.16C744.87 300.06 745.37 302.96 745.37 305.85C745.37 311.64 745.02 317.43 745.02 323.22C745.02 327.86 746.06 332.49 747.09 337.12C747.87 340.60 749.68 344.07 751.41 347.55C752.51 349.75 753.90 351.95 755.39 354.15L790.63 354.15C792.11 351.95 793.51 349.75 794.60 347.55C796.33 344.07 798.14 340.60 798.92 337.12C799.96 332.49 800.99 327.86 800.99 323.22C800.99 317.43 800.65 311.64 800.65 305.85C800.65 302.96 801.14 300.06 801.51 297.16C802.25 291.37 803.92 285.58 804.97 279.79C805.91 274.58 807.56 269.37 807.56 264.16C807.56 260.68 806.51 257.21 805.83 253.73C804.70 247.94 802.95 242.15 801.51 236.36C800.07 230.57 798.76 224.78 797.19 218.99C795.62 213.19 793.58 207.40 792.01 201.61C790.44 195.82 788.77 190.03 787.69 184.24C786.61 178.45 785.96 172.66 785.10 166.87C784.24 161.07 783.50 155.28 782.51 149.49C781.52 143.70 780.04 137.91 779.05 132.12C778.07 126.33 777.17 120.54 776.46 114.75C775.93 110.40 775.46 106.06 775.08 101.72Z" fill="#c2c5d5" stroke="#333333" stroke-width="1.8" stroke-linejoin="round"/>
<path d="M859.07 124.30C858.70 132.70 858.34 141.10 858.00 149.49C857.76 155.28 857.59 161.07 857.31 166.87C857.03 172.66 856.70 178.45 856.27 184.24C855.84 190.03 855.17 195.82 854.55 201.61C853.92 207.40 853.24 213.19 852.47 218.99C851.70 224.78 850.96 230.57 849.88 236.36C848.80 242.15 847.13 247.94 845.56 253.73C843.99 259.52 842.11 265.31 840.38 271.10C838.65 276.90 836.92 282.69 835.20 288.48C833.47 294.27 831.74 300.06 830.01 305.85C828.29 311.64 824.83 317.43 824.83 323.22C824.83 326.12 825.22 329.02 825.70 331.91C826.18 334.81 828.16 337.70 830.01 340.60C831.87 343.49 834.26 346.39 837.79 349.28C839.76 350.91 842.94 352.53 846.25 354.15L872.51 354.15C875.83 352.53 879.00 350.91 880.98 349.28C884.51 346.39 886.90 343.49 888.75 340.60C890.60 337.70 892.59 334.81 893.07 331.91C893.55 329.02 893.93 326.12 893.93 323.22C893.93 317.43 890.48 311.64 888.75 305.85C887.02 300.06 885.29 294.27 883.57 288.48C881.84 282.69 880.11 276.90 878.38 271.10C876.66 265.31 874.77 259.52 873.20 253.73C871.63 247.94 869.96 242.15 868.88 236.36C867.80 230.57 867.06 224.78 866.29 218.99C865.52 213.19 864.85 207.40 864.22 201.61C863.59 195.82 862.92 190.03 862.49 184.24C862.06 178.45 861.73 172.66 861.46 166.87C861.18 161.07 861.00 155.28 860.76 149.49C860.42 141.10 860.07 132.70 859.70 124.30Z" fill="#9ad89b" stroke="#333333" stroke-width="1.8" stroke-linejoin="round"/>
<rect x="590.9" y="97" width="18.8" height="4" fill="url(#p0)"/>
<rect x="590.9" y="101" width="18.8" height="5" fill="url(#p1)"/>
<rect x="590.9" y="106" width="18.8" height="6" fill="url(#p2)"/>
<rect x="590.9" y="112" width="18.8" height="8" fill="url(#p3)"/>
<rect x="590.9" y="120" width="18.8" height="26" fill="url(#p4)"/>
<rect x="590.9" y="146" width="18.8" height="52" fill="url(#p5)"/>
<rect x="590.9" y="198" width="18.8" height="60" fill="url(#p6)"/>
<rect x="590.9" y="258" width="18.8" height="7" fill="url(#p5)"/>
<rect x="590.9" y="265" width="18.8" height="3" fill="url(#p4)"/>
<rect x="677.2" y="178" width="18.8" height="25" fill="url(#p0)"/>
<rect x="677.2" y="203" width="18.8" height="16" fill="url(#p1)"/>
<rect x="677.2" y="219" width="18.8" height="18" fill="url(#p2)"/>
<rect x="677.2" y="237" width="18.8" height="31" fill="url(#p3)"/>
<rect x="677.2" y="268" width="18.8" height="9" fill="url(#p2)"/>
<rect x="677.2" y="277" width="18.8" height="8" fill="url(#p1)"/>
<rect x="677.2" y="285" width="18.8" height="11" fill="url(#p0)"/>
<rect x="763.6" y="124" width="18.8" height="29" fill="url(#p0)"/>
<rect x="763.6" y="153" width="18.8" height="35" fill="url(#p1)"/>
<rect x="763.6" y="188" width="18.8" height="22" fill="url(#p2)"/>
<rect x="763.6" y="210" width="18.8" height="25" fill="url(#p3)"/>
<rect x="763.6" y="235" width="18.8" height="60" fill="url(#p4)"/>
<rect x="763.6" y="295" width="18.8" height="5" fill="url(#p4)"/>
<rect x="763.6" y="300" width="18.8" height="48" fill="url(#p3)"/>
<rect x="763.6" y="348" width="18.8" height="7" fill="url(#p2)"/>
<rect x="850.0" y="181" width="18.8" height="37" fill="url(#p0)"/>
<rect x="850.0" y="218" width="18.8" height="23" fill="url(#p1)"/>
<rect x="850.0" y="241" width="18.8" height="16" fill="url(#p2)"/>
<rect x="850.0" y="257" width="18.8" height="15" fill="url(#p3)"/>
<rect x="850.0" y="272" width="18.8" height="17" fill="url(#p4)"/>
<rect x="850.0" y="289" width="18.8" height="20" fill="url(#p5)"/>
<rect x="850.0" y="309" width="18.8" height="29" fill="url(#p6)"/>
<rect x="850.0" y="338" width="18.8" height="8" fill="url(#p5)"/>
<rect x="850.0" y="346" width="18.8" height="5" fill="url(#p4)"/>
<rect x="850.0" y="351" width="18.8" height="2" fill="url(#p3)"/>
<rect x="850.0" y="353" width="18.8" height="1" fill="url(#p2)"/>
<path d="M689 120.75h1.5M685 124.75h1.5M688 136.75h1.5M678 145.75h1.5M692 149.75h1.5M691 149.75h1.5M685 150.75h1.5M685 155.75h1.5M691 164.75h1.5M685 166.75h1.5M677 166.75h1.5M685 166.75h1.5M690 169.75h1.5M684 170.75h1.5M685 170.75h1.5M685 173.75h1.5M688 173.75h1.5M681 297.75h1.5M679 297.75h1.5M692 299.75h1.5M680 303.75h1.5M684 303.75h1.5M683 326.75h1.5M687 342.75h1.5M770 104.75h1.5M767 119.75h1.5M766 121.75h1.5M775 121.75h1.5M854 125.75h1.5M860 135.75h1.5M854 143.75h1.5M858 148.75h1.5M863 150.75h1.5M867 152.75h1.5M853 152.75h1.5M855 161.75h1.5M853 162.75h1.5M851 165.75h1.5M867 167.75h1.5M852 169.75h1.5M866 173.75h1.5M851 173.75h1.5M866 177.75h1.5M863 180.75h1.5M853 181.75h1.5" stroke="#000" stroke-width="1.5" fill="none"/>
<rect x="557.07" y="83.60" width="345.50" height="283.30" fill="none" stroke="#111" stroke-width="1.3"/>
<text x="546.17" y="342.88" font-size="14.85" text-anchor="end">0.6</text>
<text x="546.17" y="307.94" font-size="14.85" text-anchor="end">0.8</text>
<text x="546.17" y="273.00" font-size="14.85" text-anchor="end">1.0</text>
<text x="546.17" y="238.06" font-size="14.85" text-anchor="end">1.2</text>
<text x="546.17" y="203.12" font-size="14.85" text-anchor="end">1.4</text>
<text x="546.17" y="168.18" font-size="14.85" text-anchor="end">1.6</text>
<text x="546.17" y="133.24" font-size="14.85" text-anchor="end">1.8</text>
<text x="546.17" y="98.30" font-size="14.85" text-anchor="end">2.0</text>
<text transform="translate(605.56 378.20) rotate(-90)" font-size="14.85" text-anchor="end">reaEGC</text>
<text transform="translate(691.93 378.20) rotate(-90)" font-size="14.85" text-anchor="end">rIPC1</text>
<text transform="translate(778.31 378.20) rotate(-90)" font-size="14.85" text-anchor="end">IMN</text>
<text transform="translate(864.68 378.20) rotate(-90)" font-size="14.85" text-anchor="end">nptxEX</text>
<path d="M557.07 337.38h-5M557.07 302.44h-5M557.07 267.50h-5M557.07 232.56h-5M557.07 197.62h-5M557.07 162.68h-5M557.07 127.74h-5M557.07 92.80h-5M600.26 366.90v5M686.63 366.90v5M773.01 366.90v5M859.38 366.90v5" stroke="#111" stroke-width="1.3" fill="none"/>
<text transform="translate(513.37 225.25) rotate(-90)" font-size="14.85" text-anchor="middle">Growth rate</text>
<text x="729.82" y="449.60" font-size="14.85" text-anchor="middle">Annotation</text>
<text x="729.82" y="74.60" font-size="17.75" text-anchor="middle">Δ<tspan font-style="italic">t</tspan> = 0.5</text>
<path d="M1019.25 96.50C1018.68 99.69 1017.89 102.87 1017.01 106.06C1016.20 108.96 1014.97 111.85 1014.07 114.75C1012.28 120.54 1010.58 126.33 1009.24 132.12C1007.89 137.91 1006.38 143.70 1005.78 149.49C1005.18 155.28 1004.81 161.07 1004.57 166.87C1004.33 172.66 1004.19 178.45 1004.05 184.24C1003.91 190.03 1003.91 195.82 1003.71 201.61C1003.51 207.40 1002.45 213.19 1001.46 218.99C1000.48 224.78 998.82 230.57 997.14 236.36C995.46 242.15 992.69 247.94 991.10 253.73C989.50 259.52 987.44 265.31 987.12 271.10C986.93 274.58 986.78 278.05 986.78 281.53C986.78 285.00 988.70 288.48 990.23 291.95C991.77 295.43 994.38 298.90 997.14 302.38C999.91 305.85 1004.37 309.33 1007.51 312.80C1010.65 316.28 1014.30 319.75 1016.14 323.22C1017.68 326.12 1018.83 329.02 1019.60 331.91C1020.22 334.23 1020.74 336.54 1021.01 338.86L1021.64 338.86C1021.91 336.54 1022.44 334.23 1023.05 331.91C1023.83 329.02 1024.97 326.12 1026.51 323.22C1028.36 319.75 1032.01 316.28 1035.15 312.80C1038.29 309.33 1042.75 305.85 1045.51 302.38C1048.28 298.90 1050.89 295.43 1052.42 291.95C1053.96 288.48 1055.88 285.00 1055.88 281.53C1055.88 278.05 1055.72 274.58 1055.53 271.10C1055.22 265.31 1053.16 259.52 1051.56 253.73C1049.96 247.94 1047.19 242.15 1045.51 236.36C1043.83 230.57 1042.18 224.78 1041.19 218.99C1040.21 213.19 1039.15 207.40 1038.95 201.61C1038.75 195.82 1038.74 190.03 1038.60 184.24C1038.46 178.45 1038.33 172.66 1038.08 166.87C1037.84 161.07 1037.47 155.28 1036.88 149.49C1036.28 143.70 1034.76 137.91 1033.42 132.12C1032.08 126.33 1030.37 120.54 1028.58 114.75C1027.69 111.85 1026.45 108.96 1025.65 106.06C1024.76 102.87 1023.98 99.69 1023.40 96.50Z" fill="#d7e6e6" stroke="#333333" stroke-width="1.8" stroke-linejoin="round"/>
<path d="M1107.22 130.03C1106.86 136.52 1106.44 143.01 1105.97 149.49C1105.56 155.28 1105.02 161.07 1104.59 166.87C1104.16 172.66 1103.38 178.45 1103.38 184.24C1103.38 190.03 1103.90 195.82 1103.90 201.61C1103.90 207.40 1103.67 213.19 1103.38 218.99C1103.24 221.88 1102.95 224.78 1102.52 227.67C1102.09 230.57 1101.01 233.46 1099.93 236.36C1098.85 239.25 1097.18 242.15 1095.61 245.05C1094.04 247.94 1092.22 250.84 1090.43 253.73C1086.85 259.52 1081.82 265.31 1079.20 271.10C1076.58 276.90 1073.15 282.69 1073.15 288.48C1073.15 291.37 1073.51 294.27 1074.02 297.16C1074.52 300.06 1077.80 302.96 1080.06 305.85C1082.33 308.75 1085.24 311.64 1087.84 314.54C1090.43 317.43 1093.76 320.33 1095.61 323.22C1097.46 326.12 1098.85 329.02 1099.93 331.91C1101.01 334.81 1101.92 337.70 1102.52 340.60C1103.12 343.49 1103.47 346.39 1103.90 349.28C1104.14 350.91 1104.37 352.53 1104.59 354.15L1110.81 354.15C1111.03 352.53 1111.26 350.91 1111.50 349.28C1111.94 346.39 1112.28 343.49 1112.88 340.60C1113.49 337.70 1114.40 334.81 1115.48 331.91C1116.56 329.02 1117.94 326.12 1119.79 323.22C1121.65 320.33 1124.98 317.43 1127.57 314.54C1130.16 311.64 1133.08 308.75 1135.34 305.85C1137.61 302.96 1140.88 300.06 1141.39 297.16C1141.89 294.27 1142.25 291.37 1142.25 288.48C1142.25 282.69 1138.83 276.90 1136.21 271.10C1133.59 265.31 1128.55 259.52 1124.98 253.73C1123.19 250.84 1121.37 247.94 1119.79 245.05C1118.22 242.15 1116.56 239.25 1115.48 236.36C1114.40 233.46 1113.32 230.57 1112.88 227.67C1112.45 224.78 1112.16 221.88 1112.02 218.99C1111.74 213.19 1111.50 207.40 1111.50 201.61C1111.50 195.82 1112.02 190.03 1112.02 184.24C1112.02 178.45 1111.24 172.66 1110.81 166.87C1110.38 161.07 1109.84 155.28 1109.43 149.49C1108.97 143.01 1108.55 136.52 1108.19 130.03Z" fill="#d4962f" stroke="#333333" stroke-width="1.8" stroke-linejoin="round"/>
<path d="M1193.76 105.19C1193.26 111.27 1192.79 117.35 1192.35 123.43C1191.73 132.12 1191.21 140.81 1190.62 149.49C1190.23 155.28 1189.84 161.07 1189.41 166.87C1188.98 172.66 1188.54 178.45 1188.03 184.24C1187.52 190.03 1186.88 195.82 1186.30 201.61C1185.73 207.40 1185.15 213.19 1184.58 218.99C1184.00 224.78 1183.74 230.57 1182.85 236.36C1181.95 242.15 1178.95 247.94 1176.80 253.73C1174.65 259.52 1172.04 265.31 1169.89 271.10C1167.74 276.90 1165.31 282.69 1163.85 288.48C1162.38 294.27 1160.39 300.06 1160.39 305.85C1160.39 311.64 1160.39 317.43 1160.39 323.22C1160.39 327.86 1159.53 332.49 1159.53 337.12C1159.53 340.02 1161.38 342.91 1162.98 345.81C1163.94 347.55 1165.86 349.28 1167.30 351.02C1168.16 352.06 1169.03 353.11 1169.89 354.15L1218.26 354.15C1219.13 353.11 1219.99 352.06 1220.85 351.02C1222.29 349.28 1224.21 347.55 1225.17 345.81C1226.78 342.91 1228.63 340.02 1228.63 337.12C1228.63 332.49 1227.76 327.86 1227.76 323.22C1227.76 317.43 1227.76 311.64 1227.76 305.85C1227.76 300.06 1225.77 294.27 1224.31 288.48C1222.84 282.69 1220.41 276.90 1218.26 271.10C1216.11 265.31 1213.50 259.52 1211.35 253.73C1209.20 247.94 1206.20 242.15 1205.31 236.36C1204.41 230.57 1204.15 224.78 1203.58 218.99C1203.00 213.19 1202.43 207.40 1201.85 201.61C1201.28 195.82 1200.64 190.03 1200.12 184.24C1199.61 178.45 1199.17 172.66 1198.74 166.87C1198.31 161.07 1197.93 155.28 1197.53 149.49C1196.94 140.81 1196.43 132.12 1195.80 123.43C1195.37 117.35 1194.89 111.27 1194.39 105.19Z" fill="#c2c5d5" stroke="#333333" stroke-width="1.8" stroke-linejoin="round"/>
<path d="M1280.30 139.07C1280.30 148.33 1280.30 157.60 1280.30 166.87C1280.30 178.45 1280.22 190.03 1280.14 201.61C1280.10 207.40 1280.07 213.19 1279.97 218.99C1279.86 224.78 1279.06 230.57 1278.72 236.36C1278.39 242.15 1278.25 247.94 1277.86 253.73C1277.48 259.52 1276.90 265.31 1276.13 271.10C1275.37 276.90 1274.06 282.69 1272.68 288.48C1271.30 294.27 1269.73 300.06 1267.50 305.85C1265.26 311.64 1261.83 317.43 1257.99 323.22C1256.08 326.12 1253.06 329.02 1251.08 331.91C1249.11 334.81 1245.90 337.70 1245.90 340.60C1245.90 342.33 1246.26 344.07 1246.77 345.81C1247.27 347.55 1249.93 349.28 1252.81 351.02C1254.54 352.06 1257.66 353.11 1260.93 354.15L1299.97 354.15C1303.24 353.11 1306.37 352.06 1308.09 351.02C1310.97 349.28 1313.63 347.55 1314.14 345.81C1314.64 344.07 1315.00 342.33 1315.00 340.60C1315.00 337.70 1311.79 334.81 1309.82 331.91C1307.85 329.02 1304.83 326.12 1302.91 323.22C1299.08 317.43 1295.64 311.64 1293.41 305.85C1291.17 300.06 1289.61 294.27 1288.23 288.48C1286.84 282.69 1285.54 276.90 1284.77 271.10C1284.00 265.31 1283.43 259.52 1283.04 253.73C1282.66 247.94 1282.52 242.15 1282.18 236.36C1281.84 230.57 1281.04 224.78 1280.94 218.99C1280.84 213.19 1280.80 207.40 1280.77 201.61C1280.69 190.03 1280.60 178.45 1280.60 166.87C1280.60 157.60 1280.60 148.33 1280.60 139.07Z" fill="#9ad89b" stroke="#333333" stroke-width="1.8" stroke-linejoin="round"/>
<rect x="1011.9" y="100" width="18.8" height="11" fill="url(#p0)"/>
<rect x="1011.9" y="111" width="18.8" height="11" fill="url(#p1)"/>
<rect x="1011.9" y="122" width="18.8" height="14" fill="url(#p2)"/>
<rect x="1011.9" y="136" width="18.8" height="36" fill="url(#p3)"/>
<rect x="1011.9" y="172" width="18.8" height="55" fill="url(#p4)"/>
<rect x="1011.9" y="227" width="18.8" height="17" fill="url(#p5)"/>
<rect x="1011.9" y="244" width="18.8" height="20" fill="url(#p6)"/>
<rect x="1011.9" y="264" width="18.8" height="24" fill="url(#p7)"/>
<rect x="1011.9" y="288" width="18.8" height="12" fill="url(#p6)"/>
<rect x="1011.9" y="300" width="18.8" height="1" fill="url(#p5)"/>
<rect x="1098.3" y="232" width="18.8" height="15" fill="url(#p0)"/>
<rect x="1098.3" y="247" width="18.8" height="11" fill="url(#p1)"/>
<rect x="1098.3" y="258" width="18.8" height="11" fill="url(#p2)"/>
<rect x="1098.3" y="269" width="18.8" height="37" fill="url(#p3)"/>
<rect x="1098.3" y="306" width="18.8" height="9" fill="url(#p2)"/>
<rect x="1098.3" y="315" width="18.8" height="7" fill="url(#p1)"/>
<rect x="1098.3" y="322" width="18.8" height="14" fill="url(#p0)"/>
<rect x="1184.7" y="152" width="18.8" height="51" fill="url(#p0)"/>
<rect x="1184.7" y="203" width="18.8" height="37" fill="url(#p1)"/>
<rect x="1184.7" y="240" width="18.8" height="13" fill="url(#p2)"/>
<rect x="1184.7" y="253" width="18.8" height="13" fill="url(#p3)"/>
<rect x="1184.7" y="266" width="18.8" height="16" fill="url(#p4)"/>
<rect x="1184.7" y="282" width="18.8" height="60" fill="url(#p5)"/>
<rect x="1184.7" y="342" width="18.8" height="7" fill="url(#p5)"/>
<rect x="1184.7" y="349" width="18.8" height="5" fill="url(#p4)"/>
<rect x="1271.1" y="233" width="18.8" height="34" fill="url(#p0)"/>
<rect x="1271.1" y="267" width="18.8" height="14" fill="url(#p1)"/>
<rect x="1271.1" y="281" width="18.8" height="11" fill="url(#p2)"/>
<rect x="1271.1" y="292" width="18.8" height="10" fill="url(#p3)"/>
<rect x="1271.1" y="302" width="18.8" height="8" fill="url(#p4)"/>
<rect x="1271.1" y="310" width="18.8" height="6" fill="url(#p5)"/>
<rect x="1271.1" y="316" width="18.8" height="7" fill="url(#p6)"/>
<rect x="1271.1" y="323" width="18.8" height="8" fill="url(#p7)"/>
<rect x="1271.1" y="331" width="18.8" height="19" fill="url(#p8)"/>
<rect x="1271.1" y="350" width="18.8" height="3" fill="url(#p7)"/>
<rect x="1271.1" y="353" width="18.8" height="2" fill="url(#p6)"/>
<path d="M1017 314.75h1.5M1104 133.75h1.5M1104 141.75h1.5M1099 149.75h1.5M1109 159.75h1.5M1109 168.75h1.5M1100 168.75h1.5M1109 170.75h1.5M1104 174.75h1.5M1110 177.75h1.5M1108 184.75h1.5M1112 186.75h1.5M1099 191.75h1.5M1109 192.75h1.5M1104 197.75h1.5M1107 204.75h1.5M1110 210.75h1.5M1107 214.75h1.5M1108 218.75h1.5M1100 224.75h1.5M1098 226.75h1.5M1106 229.75h1.5M1101 230.75h1.5M1194 114.75h1.5M1200 118.75h1.5M1200 120.75h1.5M1196 123.75h1.5M1200 130.75h1.5M1186 130.75h1.5M1194 131.75h1.5M1187 136.75h1.5M1184 143.75h1.5M1190 148.75h1.5M1274 153.75h1.5M1275 158.75h1.5M1286 159.75h1.5M1279 162.75h1.5M1278 168.75h1.5M1287 179.75h1.5M1278 181.75h1.5M1281 194.75h1.5M1286 202.75h1.5M1281 212.75h1.5M1277 213.75h1.5M1287 217.75h1.5M1288 219.75h1.5M1287 219.75h1.5M1284 223.75h1.5M1274 230.75h1.5" stroke="#000" stroke-width="1.5" fill="none"/>
<rect x="978.14" y="83.60" width="345.50" height="283.30" fill="none" stroke="#111" stroke-width="1.3"/>
<text x="967.24" y="341.88" font-size="14.85" text-anchor="end">0.5</text>
<text x="967.24" y="306.74" font-size="14.85" text-anchor="end">1.0</text>
<text x="967.24" y="271.60" font-size="14.85" text-anchor="end">1.5</text>
<text x="967.24" y="236.46" font-size="14.85" text-anchor="end">2.0</text>
<text x="967.24" y="201.32" font-size="14.85" text-anchor="end">2.5</text>
<text x="967.24" y="166.18" font-size="14.85" text-anchor="end">3.0</text>
<text x="967.24" y="131.04" font-size="14.85" text-anchor="end">3.5</text>
<text x="967.24" y="95.90" font-size="14.85" text-anchor="end">4.0</text>
<text transform="translate(1026.63 378.20) rotate(-90)" font-size="14.85" text-anchor="end">reaEGC</text>
<text transform="translate(1113.00 378.20) rotate(-90)" font-size="14.85" text-anchor="end">rIPC1</text>
<text transform="translate(1199.38 378.20) rotate(-90)" font-size="14.85" text-anchor="end">IMN</text>
<text transform="translate(1285.75 378.20) rotate(-90)" font-size="14.85" text-anchor="end">nptxEX</text>
<path d="M978.14 336.38h-5M978.14 301.24h-5M978.14 266.10h-5M978.14 230.96h-5M978.14 195.82h-5M978.14 160.68h-5M978.14 125.54h-5M978.14 90.40h-5M1021.33 366.90v5M1107.70 366.90v5M1194.08 366.90v5M1280.45 366.90v5" stroke="#111" stroke-width="1.3" fill="none"/>
<text transform="translate(934.44 225.25) rotate(-90)" font-size="14.85" text-anchor="middle">Growth rate</text>
<text x="1150.89" y="449.60" font-size="14.85" text-anchor="middle">Annotation</text>
<text x="1150.89" y="74.60" font-size="17.75" text-anchor="middle">Δ<tspan font-style="italic">t</tspan> = 1.0</text>
<path d="M1441.08 96.05C1440.66 101.96 1440.16 107.87 1439.60 113.78C1439.07 119.41 1438.30 125.05 1437.79 130.68C1437.28 136.31 1436.88 141.94 1436.47 147.57C1436.07 153.20 1435.68 158.83 1435.32 164.46C1434.97 170.09 1434.69 175.72 1434.34 181.35C1433.98 186.98 1433.50 192.61 1433.18 198.24C1432.86 203.87 1432.64 209.50 1432.36 215.14C1432.09 220.77 1431.86 226.40 1431.54 232.03C1431.22 237.66 1430.90 243.29 1430.39 248.92C1429.88 254.55 1429.13 260.18 1428.08 265.81C1427.04 271.44 1425.12 277.07 1423.15 282.70C1421.17 288.33 1418.10 293.96 1415.74 299.59C1413.86 304.10 1411.82 308.60 1410.32 313.11C1409.37 315.92 1407.85 318.74 1407.85 321.55C1407.85 324.37 1409.53 327.18 1411.14 330.00C1412.75 332.82 1417.31 335.63 1420.19 338.45C1423.06 341.26 1425.80 344.08 1428.41 346.89C1429.72 348.30 1430.97 349.71 1432.20 351.11L1452.60 351.11C1453.82 349.71 1455.07 348.30 1456.38 346.89C1459.00 344.08 1461.74 341.26 1464.61 338.45C1467.48 335.63 1472.05 332.82 1473.66 330.00C1475.27 327.18 1476.95 324.37 1476.95 321.55C1476.95 318.74 1475.42 315.92 1474.48 313.11C1472.97 308.60 1470.94 304.10 1469.05 299.59C1466.69 293.96 1463.62 288.33 1461.65 282.70C1459.67 277.07 1457.76 271.44 1456.71 265.81C1455.66 260.18 1454.92 254.55 1454.41 248.92C1453.90 243.29 1453.58 237.66 1453.26 232.03C1452.94 226.40 1452.71 220.77 1452.43 215.14C1452.16 209.50 1451.93 203.87 1451.61 198.24C1451.29 192.61 1450.81 186.98 1450.46 181.35C1450.10 175.72 1449.83 170.09 1449.47 164.46C1449.12 158.83 1448.73 153.20 1448.32 147.57C1447.91 141.94 1447.51 136.31 1447.00 130.68C1446.50 125.05 1445.72 119.41 1445.19 113.78C1444.64 107.87 1444.14 101.96 1443.71 96.05Z" fill="#d7e6e6" stroke="#333333" stroke-width="1.8" stroke-linejoin="round"/>
<path d="M1527.44 155.51C1527.44 172.57 1527.44 189.63 1527.44 206.69C1527.44 209.50 1526.77 212.32 1526.60 215.14C1526.27 220.77 1526.02 226.40 1525.94 232.03C1525.85 237.66 1525.85 243.29 1525.77 248.92C1525.68 254.55 1525.50 260.18 1525.27 265.81C1525.03 271.44 1524.77 277.07 1524.10 282.70C1523.77 285.52 1522.88 288.33 1521.76 291.15C1520.65 293.96 1518.00 296.78 1515.92 299.59C1513.84 302.41 1511.47 305.23 1509.24 308.04C1507.02 310.86 1504.48 313.67 1502.57 316.49C1500.66 319.30 1498.90 322.12 1497.56 324.93C1496.23 327.75 1494.22 330.56 1494.22 333.38C1494.22 336.19 1498.48 339.01 1501.23 341.82C1503.98 344.64 1508.39 347.45 1511.25 350.27C1512.67 351.68 1513.94 353.09 1515.09 354.49L1542.46 354.49C1543.61 353.09 1544.87 351.68 1546.30 350.27C1549.15 347.45 1553.56 344.64 1556.31 341.82C1559.06 339.01 1563.32 336.19 1563.32 333.38C1563.32 330.56 1561.32 327.75 1559.98 324.93C1558.65 322.12 1556.88 319.30 1554.98 316.49C1553.07 313.67 1550.53 310.86 1548.30 308.04C1546.08 305.23 1543.70 302.41 1541.62 299.59C1539.55 296.78 1536.90 293.96 1535.78 291.15C1534.67 288.33 1533.78 285.52 1533.45 282.70C1532.78 277.07 1532.51 271.44 1532.28 265.81C1532.04 260.18 1531.86 254.55 1531.78 248.92C1531.69 243.29 1531.70 237.66 1531.61 232.03C1531.52 226.40 1531.28 220.77 1530.94 215.14C1530.78 212.32 1530.11 209.50 1530.11 206.69C1530.11 189.63 1530.11 172.57 1530.11 155.51Z" fill="#d4962f" stroke="#333333" stroke-width="1.8" stroke-linejoin="round"/>
<path d="M1614.52 112.09C1614.52 140.81 1614.23 169.53 1613.80 198.24C1613.72 203.87 1613.43 209.50 1613.29 215.14C1613.16 220.77 1613.12 226.40 1612.96 232.03C1612.80 237.66 1612.39 243.29 1612.11 248.92C1611.83 254.55 1611.63 260.18 1611.27 265.81C1610.91 271.44 1610.45 277.07 1609.75 282.70C1609.06 288.33 1608.07 293.96 1606.38 299.59C1605.54 302.41 1603.81 305.23 1602.17 308.04C1600.53 310.86 1598.37 313.67 1596.27 316.49C1594.17 319.30 1591.63 322.12 1589.53 324.93C1587.43 327.75 1584.97 330.56 1583.63 333.38C1582.30 336.19 1580.60 339.01 1580.60 341.82C1580.60 344.64 1583.04 347.45 1584.81 350.27C1585.70 351.68 1586.92 353.09 1588.18 354.49L1642.11 354.49C1643.38 353.09 1644.60 351.68 1645.48 350.27C1647.26 347.45 1649.70 344.64 1649.70 341.82C1649.70 339.01 1648.00 336.19 1646.66 333.38C1645.33 330.56 1642.86 327.75 1640.77 324.93C1638.67 322.12 1636.12 319.30 1634.02 316.49C1631.93 313.67 1629.76 310.86 1628.12 308.04C1626.49 305.23 1624.75 302.41 1623.91 299.59C1622.23 293.96 1621.24 288.33 1620.54 282.70C1619.84 277.07 1619.38 271.44 1619.02 265.81C1618.66 260.18 1618.46 254.55 1618.18 248.92C1617.90 243.29 1617.50 237.66 1617.34 232.03C1617.18 226.40 1617.14 220.77 1617.00 215.14C1616.87 209.50 1616.58 203.87 1616.50 198.24C1616.07 169.53 1615.78 140.81 1615.78 112.09Z" fill="#c2c5d5" stroke="#333333" stroke-width="1.8" stroke-linejoin="round"/>
<path d="M1701.06 171.22C1701.06 208.38 1701.06 245.54 1701.06 282.70C1701.06 288.33 1700.38 293.96 1700.01 299.59C1699.63 305.23 1699.42 310.86 1698.83 316.49C1698.53 319.30 1698.11 322.12 1697.31 324.93C1696.50 327.75 1694.28 330.56 1691.41 333.38C1689.69 335.07 1686.05 336.76 1682.98 338.45C1679.92 340.14 1675.35 341.82 1672.87 343.51C1670.39 345.20 1666.97 346.89 1666.97 348.58C1666.97 349.71 1668.37 350.83 1669.50 351.96C1670.35 352.80 1671.71 353.65 1673.21 354.49L1729.84 354.49C1731.33 353.65 1732.70 352.80 1733.54 351.96C1734.68 350.83 1736.07 349.71 1736.07 348.58C1736.07 346.89 1732.66 345.20 1730.17 343.51C1727.69 341.82 1723.13 340.14 1720.06 338.45C1717.00 336.76 1713.35 335.07 1711.63 333.38C1708.77 330.56 1706.54 327.75 1705.74 324.93C1704.93 322.12 1704.52 319.30 1704.22 316.49C1703.62 310.86 1703.41 305.23 1703.04 299.59C1702.67 293.96 1701.98 288.33 1701.98 282.70C1701.98 245.54 1701.98 208.38 1701.98 171.22Z" fill="#9ad89b" stroke="#333333" stroke-width="1.8" stroke-linejoin="round"/>
<rect x="1433.0" y="118" width="18.8" height="33" fill="url(#p0)"/>
<rect x="1433.0" y="151" width="18.8" height="40" fill="url(#p1)"/>
<rect x="1433.0" y="191" width="18.8" height="50" fill="url(#p2)"/>
<rect x="1433.0" y="241" width="18.8" height="24" fill="url(#p3)"/>
<rect x="1433.0" y="265" width="18.8" height="12" fill="url(#p4)"/>
<rect x="1433.0" y="277" width="18.8" height="9" fill="url(#p5)"/>
<rect x="1433.0" y="286" width="18.8" height="8" fill="url(#p6)"/>
<rect x="1433.0" y="294" width="18.8" height="12" fill="url(#p7)"/>
<rect x="1433.0" y="306" width="18.8" height="26" fill="url(#p8)"/>
<rect x="1433.0" y="332" width="18.8" height="4" fill="url(#p7)"/>
<rect x="1433.0" y="336" width="18.8" height="2" fill="url(#p6)"/>
<rect x="1519.4" y="289" width="18.8" height="9" fill="url(#p0)"/>
<rect x="1519.4" y="298" width="18.8" height="6" fill="url(#p1)"/>
<rect x="1519.4" y="304" width="18.8" height="5" fill="url(#p2)"/>
<rect x="1519.4" y="309" width="18.8" height="7" fill="url(#p3)"/>
<rect x="1519.4" y="316" width="18.8" height="8" fill="url(#p4)"/>
<rect x="1519.4" y="324" width="18.8" height="16" fill="url(#p5)"/>
<rect x="1519.4" y="340" width="18.8" height="4" fill="url(#p4)"/>
<rect x="1519.4" y="344" width="18.8" height="4" fill="url(#p3)"/>
<rect x="1519.4" y="348" width="18.8" height="5" fill="url(#p2)"/>
<rect x="1519.4" y="353" width="18.8" height="2" fill="url(#p1)"/>
<rect x="1605.8" y="247" width="18.8" height="37" fill="url(#p0)"/>
<rect x="1605.8" y="284" width="18.8" height="12" fill="url(#p1)"/>
<rect x="1605.8" y="296" width="18.8" height="7" fill="url(#p2)"/>
<rect x="1605.8" y="303" width="18.8" height="5" fill="url(#p3)"/>
<rect x="1605.8" y="308" width="18.8" height="4" fill="url(#p4)"/>
<rect x="1605.8" y="312" width="18.8" height="4" fill="url(#p5)"/>
<rect x="1605.8" y="316" width="18.8" height="5" fill="url(#p6)"/>
<rect x="1605.8" y="321" width="18.8" height="5" fill="url(#p7)"/>
<rect x="1605.8" y="326" width="18.8" height="11" fill="url(#p8)"/>
<rect x="1605.8" y="337" width="18.8" height="9" fill="url(#p9)"/>
<rect x="1605.8" y="346" width="18.8" height="9" fill="url(#p8)"/>
<rect x="1692.1" y="298" width="18.8" height="22" fill="url(#p0)"/>
<rect x="1692.1" y="320" width="18.8" height="6" fill="url(#p1)"/>
<rect x="1692.1" y="326" width="18.8" height="3" fill="url(#p2)"/>
<rect x="1692.1" y="329" width="18.8" height="2" fill="url(#p3)"/>
<rect x="1692.1" y="331" width="18.8" height="1" fill="url(#p4)"/>
<rect x="1692.1" y="332" width="18.8" height="2" fill="url(#p5)"/>
<rect x="1692.1" y="334" width="18.8" height="1" fill="url(#p6)"/>
<rect x="1692.1" y="335" width="18.8" height="2" fill="url(#p7)"/>
<rect x="1692.1" y="337" width="18.8" height="2" fill="url(#p8)"/>
<rect x="1692.1" y="339" width="18.8" height="16" fill="url(#p9)"/>
<path d="M1446 98.75h1.5M1449 100.75h1.5M1442 107.75h1.5M1434 110.75h1.5M1440 111.75h1.5M1449 112.75h1.5M1437 113.75h1.5M1433 115.75h1.5M1434 350.75h1.5M1529 167.75h1.5M1519 184.75h1.5M1521 234.75h1.5M1524 238.75h1.5M1532 242.75h1.5M1523 246.75h1.5M1519 251.75h1.5M1527 265.75h1.5M1533 267.75h1.5M1523 270.75h1.5M1531 283.75h1.5M1520 283.75h1.5M1535 286.75h1.5M1520 287.75h1.5M1615 131.75h1.5M1618 132.75h1.5M1606 150.75h1.5M1618 163.75h1.5M1616 166.75h1.5M1609 172.75h1.5M1606 180.75h1.5M1620 183.75h1.5M1617 188.75h1.5M1610 191.75h1.5M1622 193.75h1.5M1614 196.75h1.5M1611 197.75h1.5M1614 198.75h1.5M1618 200.75h1.5M1614 209.75h1.5M1620 213.75h1.5M1605 215.75h1.5M1613 215.75h1.5M1607 216.75h1.5M1617 218.75h1.5M1610 219.75h1.5M1610 219.75h1.5M1613 224.75h1.5M1619 226.75h1.5M1608 228.75h1.5M1622 233.75h1.5M1612 236.75h1.5M1615 239.75h1.5M1612 242.75h1.5M1610 245.75h1.5M1708 171.75h1.5M1699 172.75h1.5M1704 172.75h1.5M1700 173.75h1.5M1701 197.75h1.5M1709 197.75h1.5M1701 198.75h1.5M1696 203.75h1.5M1694 204.75h1.5M1694 205.75h1.5M1693 217.75h1.5M1694 217.75h1.5M1701 226.75h1.5M1708 227.75h1.5M1704 233.75h1.5M1709 233.75h1.5M1698 233.75h1.5M1703 240.75h1.5M1703 240.75h1.5M1695 244.75h1.5M1699 246.75h1.5M1707 252.75h1.5M1698 260.75h1.5M1695 261.75h1.5M1699 266.75h1.5M1695 271.75h1.5M1706 273.75h1.5M1707 280.75h1.5M1701 282.75h1.5M1705 283.75h1.5M1693 286.75h1.5M1700 287.75h1.5M1702 292.75h1.5M1697 294.75h1.5" stroke="#000" stroke-width="1.5" fill="none"/>
<rect x="1399.21" y="83.60" width="345.50" height="283.30" fill="none" stroke="#111" stroke-width="1.3"/>
<text x="1388.31" y="360.80" font-size="14.85" text-anchor="end">0</text>
<text x="1388.31" y="326.85" font-size="14.85" text-anchor="end">2</text>
<text x="1388.31" y="292.90" font-size="14.85" text-anchor="end">4</text>
<text x="1388.31" y="258.95" font-size="14.85" text-anchor="end">6</text>
<text x="1388.31" y="225.00" font-size="14.85" text-anchor="end">8</text>
<text x="1388.31" y="191.05" font-size="14.85" text-anchor="end">10</text>
<text x="1388.31" y="157.10" font-size="14.85" text-anchor="end">12</text>
<text x="1388.31" y="123.15" font-size="14.85" text-anchor="end">14</text>
<text x="1388.31" y="89.20" font-size="14.85" text-anchor="end">16</text>
<text transform="translate(1447.70 378.20) rotate(-90)" font-size="14.85" text-anchor="end">reaEGC</text>
<text transform="translate(1534.07 378.20) rotate(-90)" font-size="14.85" text-anchor="end">rIPC1</text>
<text transform="translate(1620.45 378.20) rotate(-90)" font-size="14.85" text-anchor="end">IMN</text>
<text transform="translate(1706.82 378.20) rotate(-90)" font-size="14.85" text-anchor="end">nptxEX</text>
<path d="M1399.21 355.30h-5M1399.21 321.35h-5M1399.21 287.40h-5M1399.21 253.45h-5M1399.21 219.50h-5M1399.21 185.55h-5M1399.21 151.60h-5M1399.21 117.65h-5M1399.21 83.70h-5M1442.40 366.90v5M1528.77 366.90v5M1615.15 366.90v5M1701.52 366.90v5" stroke="#111" stroke-width="1.3" fill="none"/>
<text transform="translate(1360.21 225.25) rotate(-90)" font-size="14.85" text-anchor="middle">Growth rate</text>
<text x="1571.96" y="449.60" font-size="14.85" text-anchor="middle">Annotation</text>
<text x="1571.96" y="74.60" font-size="17.75" text-anchor="middle">Δ<tspan font-style="italic">t</tspan> = 2.0</text>
<path d="M1863.32 96.70C1863.32 128.07 1863.28 159.43 1863.18 190.80C1863.13 207.60 1862.31 224.40 1861.68 241.20C1861.27 252.37 1860.76 263.53 1860.09 274.70C1859.59 283.10 1858.94 291.50 1858.11 299.90C1857.66 304.40 1857.12 308.90 1856.42 313.40C1855.98 316.20 1855.64 319.00 1854.73 321.80C1854.01 324.03 1851.46 326.27 1849.67 328.50C1847.87 330.73 1846.09 332.97 1843.91 335.20C1841.73 337.43 1838.54 339.67 1836.36 341.90C1834.19 344.13 1831.62 346.37 1830.61 348.60C1829.80 350.37 1829.06 352.13 1828.92 353.90L1898.02 353.90C1897.88 352.13 1897.14 350.37 1896.33 348.60C1895.31 346.37 1892.75 344.13 1890.57 341.90C1888.39 339.67 1885.20 337.43 1883.03 335.20C1880.85 332.97 1879.06 330.73 1877.27 328.50C1875.47 326.27 1872.93 324.03 1872.20 321.80C1871.30 319.00 1870.96 316.20 1870.52 313.40C1869.81 308.90 1869.27 304.40 1868.83 299.90C1868.00 291.50 1867.35 283.10 1866.84 274.70C1866.17 263.53 1865.67 252.37 1865.25 241.20C1864.63 224.40 1863.80 207.60 1863.75 190.80C1863.66 159.43 1863.62 128.07 1863.62 96.70Z" fill="#d7e6e6" stroke="#333333" stroke-width="1.8" stroke-linejoin="round"/>
<path d="M1949.69 219.30C1949.69 243.37 1949.67 267.43 1949.55 291.50C1949.53 297.10 1949.02 302.70 1948.54 308.30C1948.07 313.90 1947.56 319.50 1946.15 325.10C1945.44 327.90 1943.08 330.70 1940.66 333.50C1938.23 336.30 1933.74 339.10 1929.87 341.90C1926.78 344.13 1922.31 346.37 1919.89 348.60C1917.97 350.37 1916.34 352.13 1915.29 353.90L1984.39 353.90C1983.35 352.13 1981.72 350.37 1979.80 348.60C1977.38 346.37 1972.90 344.13 1969.81 341.90C1965.94 339.10 1961.46 336.30 1959.03 333.50C1956.60 330.70 1954.24 327.90 1953.54 325.10C1952.12 319.50 1951.61 313.90 1951.14 308.30C1950.67 302.70 1950.16 297.10 1950.13 291.50C1950.02 267.43 1949.99 243.37 1949.99 219.30Z" fill="#d4962f" stroke="#333333" stroke-width="1.8" stroke-linejoin="round"/>
<path d="M2036.07 134.50C2036.07 186.83 2036.06 239.17 2036.02 291.50C2036.02 297.10 2035.08 302.70 2034.43 308.30C2033.91 312.80 2033.51 317.30 2032.44 321.80C2031.78 324.60 2030.23 327.40 2028.27 330.20C2026.32 333.00 2021.99 335.80 2018.35 338.60C2015.44 340.83 2011.24 343.07 2008.72 345.30C2006.19 347.53 2003.67 349.77 2002.46 352.00C2002.12 352.63 2001.86 353.27 2001.67 353.90L2070.77 353.90C2070.57 353.27 2070.31 352.63 2069.97 352.00C2068.77 349.77 2066.25 347.53 2063.72 345.30C2061.19 343.07 2057.00 340.83 2054.09 338.60C2050.44 335.80 2046.12 333.00 2044.16 330.20C2042.20 327.40 2040.65 324.60 2039.99 321.80C2038.92 317.30 2038.53 312.80 2038.00 308.30C2037.35 302.70 2036.42 297.10 2036.41 291.50C2036.37 239.17 2036.37 186.83 2036.37 134.50Z" fill="#c2c5d5" stroke="#333333" stroke-width="1.8" stroke-linejoin="round"/>
<path d="M2122.44 243.20C2122.44 276.10 2122.44 309.00 2122.44 341.90C2122.44 344.13 2121.71 346.37 2120.08 348.60C2119.45 349.47 2115.12 350.33 2110.74 351.20C2107.88 351.77 2102.36 352.33 2097.48 352.90C2094.61 353.23 2091.39 353.57 2088.04 353.90L2157.14 353.90C2153.79 353.57 2150.57 353.23 2147.70 352.90C2142.82 352.33 2137.31 351.77 2134.44 351.20C2130.07 350.33 2125.74 349.47 2125.10 348.60C2123.48 346.37 2122.75 344.13 2122.75 341.90C2122.74 309.00 2122.74 276.10 2122.74 243.20Z" fill="#9ad89b" stroke="#333333" stroke-width="1.8" stroke-linejoin="round"/>
<rect x="1854.1" y="104" width="18.8" height="60" fill="url(#p0)"/>
<rect x="1854.1" y="164" width="18.8" height="60" fill="url(#p0)"/>
<rect x="1854.1" y="224" width="18.8" height="6" fill="url(#p0)"/>
<rect x="1854.1" y="230" width="18.8" height="43" fill="url(#p1)"/>
<rect x="1854.1" y="273" width="18.8" height="23" fill="url(#p2)"/>
<rect x="1854.1" y="296" width="18.8" height="15" fill="url(#p3)"/>
<rect x="1854.1" y="311" width="18.8" height="9" fill="url(#p4)"/>
<rect x="1854.1" y="320" width="18.8" height="8" fill="url(#p5)"/>
<rect x="1854.1" y="328" width="18.8" height="5" fill="url(#p6)"/>
<rect x="1854.1" y="333" width="18.8" height="5" fill="url(#p7)"/>
<rect x="1854.1" y="338" width="18.8" height="5" fill="url(#p8)"/>
<rect x="1854.1" y="343" width="18.8" height="12" fill="url(#p9)"/>
<rect x="1940.5" y="328" width="18.8" height="9" fill="url(#p0)"/>
<rect x="1940.5" y="337" width="18.8" height="4" fill="url(#p1)"/>
<rect x="1940.5" y="341" width="18.8" height="3" fill="url(#p2)"/>
<rect x="1940.5" y="344" width="18.8" height="2" fill="url(#p3)"/>
<rect x="1940.5" y="346" width="18.8" height="1" fill="url(#p4)"/>
<rect x="1940.5" y="347" width="18.8" height="1" fill="url(#p5)"/>
<rect x="1940.5" y="348" width="18.8" height="1" fill="url(#p6)"/>
<rect x="1940.5" y="349" width="18.8" height="1" fill="url(#p7)"/>
<rect x="1940.5" y="350" width="18.8" height="1" fill="url(#p8)"/>
<rect x="1940.5" y="351" width="18.8" height="3" fill="url(#p9)"/>
<rect x="2026.8" y="302" width="18.8" height="20" fill="url(#p0)"/>
<rect x="2026.8" y="322" width="18.8" height="8" fill="url(#p1)"/>
<rect x="2026.8" y="330" width="18.8" height="6" fill="url(#p2)"/>
<rect x="2026.8" y="336" width="18.8" height="2" fill="url(#p3)"/>
<rect x="2026.8" y="338" width="18.8" height="4" fill="url(#p4)"/>
<rect x="2026.8" y="342" width="18.8" height="2" fill="url(#p5)"/>
<rect x="2026.8" y="344" width="18.8" height="1" fill="url(#p6)"/>
<rect x="2026.8" y="344" width="18.8" height="2" fill="url(#p7)"/>
<rect x="2026.8" y="346" width="18.8" height="2" fill="url(#p8)"/>
<rect x="2026.8" y="348" width="18.8" height="6" fill="url(#p9)"/>
<rect x="2113.2" y="322" width="18.8" height="10" fill="url(#p0)"/>
<rect x="2113.2" y="332" width="18.8" height="5" fill="url(#p1)"/>
<rect x="2113.2" y="337" width="18.8" height="3" fill="url(#p2)"/>
<rect x="2113.2" y="340" width="18.8" height="2" fill="url(#p3)"/>
<rect x="2113.2" y="342" width="18.8" height="2" fill="url(#p4)"/>
<rect x="2113.2" y="344" width="18.8" height="1" fill="url(#p5)"/>
<rect x="2113.2" y="345" width="18.8" height="1" fill="url(#p6)"/>
<rect x="2113.2" y="346" width="18.8" height="1" fill="url(#p7)"/>
<rect x="2113.2" y="347" width="18.8" height="1" fill="url(#p8)"/>
<rect x="2113.2" y="348" width="18.8" height="6" fill="url(#p9)"/>
<path d="M1862 99.75h1.5M1953 222.75h1.5M1948 223.75h1.5M1951 254.75h1.5M1952 267.75h1.5M1946 281.75h1.5M1955 298.75h1.5M1943 299.75h1.5M1948 302.75h1.5M1945 308.75h1.5M1955 311.75h1.5M1943 318.75h1.5M1947 326.75h1.5M1949 326.75h1.5M1955 328.75h1.5M2037 181.75h1.5M2029 199.75h1.5M2030 202.75h1.5M2033 214.75h1.5M2039 230.75h1.5M2033 257.75h1.5M2041 258.75h1.5M2034 262.75h1.5M2034 268.75h1.5M2028 276.75h1.5M2028 278.75h1.5M2042 283.75h1.5M2030 286.75h1.5M2027 289.75h1.5M2026 294.75h1.5M2038 294.75h1.5M2042 297.75h1.5M2040 299.75h1.5M2033 300.75h1.5M2127 255.75h1.5M2124 269.75h1.5M2124 287.75h1.5M2130 287.75h1.5M2129 293.75h1.5M2129 309.75h1.5M2116 310.75h1.5M2119 318.75h1.5M2121 321.75h1.5" stroke="#000" stroke-width="1.5" fill="none"/>
<rect x="1820.28" y="83.60" width="345.50" height="283.30" fill="none" stroke="#111" stroke-width="1.3"/>
<text x="1809.38" y="359.70" font-size="14.85" text-anchor="end">0</text>
<text x="1809.38" y="303.20" font-size="14.85" text-anchor="end">200</text>
<text x="1809.38" y="246.70" font-size="14.85" text-anchor="end">400</text>
<text x="1809.38" y="190.20" font-size="14.85" text-anchor="end">600</text>
<text x="1809.38" y="133.70" font-size="14.85" text-anchor="end">800</text>
<text transform="translate(1868.77 378.20) rotate(-90)" font-size="14.85" text-anchor="end">reaEGC</text>
<text transform="translate(1955.14 378.20) rotate(-90)" font-size="14.85" text-anchor="end">rIPC1</text>
<text transform="translate(2041.52 378.20) rotate(-90)" font-size="14.85" text-anchor="end">IMN</text>
<text transform="translate(2127.89 378.20) rotate(-90)" font-size="14.85" text-anchor="end">nptxEX</text>
<path d="M1820.28 354.20h-5M1820.28 297.70h-5M1820.28 241.20h-5M1820.28 184.70h-5M1820.28 128.20h-5M1863.47 366.90v5M1949.84 366.90v5M2036.22 366.90v5M2122.59 366.90v5" stroke="#111" stroke-width="1.3" fill="none"/>
<text transform="translate(1771.88 225.25) rotate(-90)" font-size="14.85" text-anchor="middle">Growth rate</text>
<text x="1993.03" y="449.60" font-size="14.85" text-anchor="middle">Annotation</text>
<text x="1993.03" y="74.60" font-size="17.75" text-anchor="middle">Δ<tspan font-style="italic">t</tspan> = 5.0</text>
<path d="M197.09 538.23C192.74 539.59 188.54 540.95 185.27 542.31C178.74 545.03 173.53 547.75 169.09 550.47C164.65 553.19 160.03 555.91 157.76 558.63C155.50 561.35 152.91 564.06 152.91 566.78C152.91 569.50 153.72 572.22 154.53 574.94C155.34 577.66 158.09 580.38 159.38 583.10C160.68 585.82 162.19 588.53 162.62 591.25C163.05 593.97 163.00 596.69 163.43 599.41C163.86 602.13 165.17 604.85 166.66 607.57C168.16 610.28 171.66 613.00 173.95 615.72C176.23 618.44 178.98 621.16 180.42 623.88C181.86 626.60 182.94 629.32 183.66 632.04C184.37 634.75 184.46 637.47 185.27 640.19C186.08 642.91 188.39 645.63 190.13 648.35C191.87 651.07 193.90 653.79 195.79 656.51C197.68 659.22 199.33 661.94 201.46 664.66C203.58 667.38 206.61 670.10 208.74 672.82C210.86 675.54 212.62 678.26 214.40 680.98C215.82 683.15 217.65 685.33 218.45 687.50C219.24 689.68 220.13 691.85 220.13 694.03C220.13 708.98 220.13 723.93 220.13 738.89L220.97 738.89C220.97 723.93 220.97 708.98 220.97 694.03C220.97 691.85 221.86 689.68 222.65 687.50C223.45 685.33 225.28 683.15 226.70 680.98C228.48 678.26 230.24 675.54 232.36 672.82C234.49 670.10 237.52 667.38 239.64 664.66C241.77 661.94 243.42 659.22 245.31 656.51C247.20 653.79 249.23 651.07 250.97 648.35C252.71 645.63 255.02 642.91 255.83 640.19C256.64 637.47 256.73 634.75 257.44 632.04C258.16 629.32 259.24 626.60 260.68 623.88C262.12 621.16 264.87 618.44 267.15 615.72C269.44 613.00 272.94 610.28 274.44 607.57C275.93 604.85 277.24 602.13 277.67 599.41C278.10 596.69 278.05 593.97 278.48 591.25C278.91 588.53 280.42 585.82 281.72 583.10C283.01 580.38 285.76 577.66 286.57 574.94C287.38 572.22 288.19 569.50 288.19 566.78C288.19 564.06 285.60 561.35 283.34 558.63C281.07 555.91 276.45 553.19 272.01 550.47C267.57 547.75 262.36 545.03 255.83 542.31C252.56 540.95 248.36 539.59 244.01 538.23Z" fill="#6fe6e6" stroke="#333333" stroke-width="1.8" stroke-linejoin="round"/>
<path d="M381.17 541.50C380.01 544.49 378.05 547.48 375.80 550.47C373.75 553.19 369.57 555.91 367.65 558.63C363.79 564.06 360.50 569.50 359.17 574.94C357.84 580.38 357.31 585.82 356.56 591.25C355.82 596.69 355.67 602.13 354.61 607.57C354.07 610.28 352.73 613.00 351.35 615.72C349.96 618.44 347.34 621.16 345.64 623.88C342.25 629.32 339.20 634.75 336.68 640.19C334.16 645.63 332.02 651.07 330.16 656.51C328.30 661.94 326.36 667.38 325.27 672.82C324.18 678.26 323.46 683.69 322.82 689.13C322.51 691.85 322.01 694.57 322.01 697.29C322.01 700.01 322.45 702.73 322.82 705.45C323.57 710.88 324.98 716.32 326.90 721.76C328.82 727.20 333.17 732.63 336.68 738.07C340.19 743.51 344.03 748.95 348.09 754.38C352.14 759.82 356.25 765.26 361.13 770.70C364.05 773.96 367.65 777.22 370.91 780.49C373.08 782.66 375.85 784.84 377.43 787.01C378.80 788.91 379.98 790.82 380.69 792.72L398.61 792.72C399.32 790.82 400.50 788.91 401.87 787.01C403.45 784.84 406.22 782.66 408.39 780.49C411.65 777.22 415.25 773.96 418.17 770.70C423.05 765.26 427.16 759.82 431.21 754.38C435.27 748.95 439.11 743.51 442.62 738.07C446.13 732.63 450.48 727.20 452.40 721.76C454.32 716.32 455.73 710.88 456.48 705.45C456.85 702.73 457.29 700.01 457.29 697.29C457.29 694.57 456.79 691.85 456.48 689.13C455.84 683.69 455.12 678.26 454.03 672.82C452.94 667.38 451.00 661.94 449.14 656.51C447.28 651.07 445.14 645.63 442.62 640.19C440.10 634.75 437.05 629.32 433.66 623.88C431.96 621.16 429.34 618.44 427.95 615.72C426.57 613.00 425.23 610.28 424.69 607.57C423.63 602.13 423.48 596.69 422.74 591.25C421.99 585.82 421.46 580.38 420.13 574.94C418.80 569.50 415.51 564.06 411.65 558.63C409.73 555.91 405.55 553.19 403.50 550.47C401.25 547.48 399.29 544.49 398.13 541.50Z" fill="#c04f73" stroke="#333333" stroke-width="1.8" stroke-linejoin="round"/>
<rect x="202.9" y="538" width="35.3" height="4" fill="url(#p1)"/>
<rect x="202.9" y="542" width="35.3" height="60" fill="url(#p2)"/>
<rect x="202.9" y="602" width="35.3" height="38" fill="url(#p2)"/>
<rect x="202.9" y="640" width="35.3" height="30" fill="url(#p1)"/>
<rect x="202.9" y="670" width="35.3" height="6" fill="url(#p0)"/>
<rect x="372.0" y="541" width="35.3" height="10" fill="url(#p0)"/>
<rect x="372.0" y="551" width="35.3" height="18" fill="url(#p1)"/>
<rect x="372.0" y="569" width="35.3" height="60" fill="url(#p2)"/>
<rect x="372.0" y="629" width="35.3" height="3" fill="url(#p2)"/>
<rect x="372.0" y="632" width="35.3" height="60" fill="url(#p3)"/>
<rect x="372.0" y="692" width="35.3" height="52" fill="url(#p3)"/>
<rect x="372.0" y="744" width="35.3" height="26" fill="url(#p2)"/>
<rect x="372.0" y="770" width="35.3" height="14" fill="url(#p1)"/>
<rect x="372.0" y="784" width="35.3" height="9" fill="url(#p0)"/>
<path d="M211 678.75h1.5M231 698.75h1.5M231 702.75h1.5" stroke="#000" stroke-width="1.5" fill="none"/>
<rect x="136.00" y="526.10" width="338.20" height="280.10" fill="none" stroke="#111" stroke-width="1.3"/>
<text x="125.10" y="774.45" font-size="14.85" text-anchor="end">0.90</text>
<text x="125.10" y="728.00" font-size="14.85" text-anchor="end">0.95</text>
<text x="125.10" y="681.55" font-size="14.85" text-anchor="end">1.00</text>
<text x="125.10" y="635.10" font-size="14.85" text-anchor="end">1.05</text>
<text x="125.10" y="588.65" font-size="14.85" text-anchor="end">1.10</text>
<text x="125.10" y="542.20" font-size="14.85" text-anchor="end">1.15</text>
<text transform="translate(225.85 816.50) rotate(-90)" font-size="14.85" text-anchor="end">wntEGC</text>
<text transform="translate(394.95 816.50) rotate(-90)" font-size="14.85" text-anchor="end">mpEX</text>
<path d="M136.00 768.95h-5M136.00 722.50h-5M136.00 676.05h-5M136.00 629.60h-5M136.00 583.15h-5M136.00 536.70h-5M220.55 806.20v5M389.65 806.20v5" stroke="#111" stroke-width="1.3" fill="none"/>
<text transform="translate(82.80 666.15) rotate(-90)" font-size="14.85" text-anchor="middle">Growth rate</text>
<text x="305.10" y="892.10" font-size="14.85" text-anchor="middle">Annotation</text>
<text x="305.10" y="517.10" font-size="17.75" text-anchor="middle">Δ<tspan font-style="italic">t</tspan> = 0.1</text>
<path d="M623.78 538.39C618.22 541.37 612.91 544.35 607.89 547.34C603.15 550.15 597.48 552.97 594.36 555.78C590.62 559.16 588.23 562.54 585.91 565.92C583.59 569.30 581.50 572.68 579.99 576.05C578.23 580.00 575.76 583.94 575.76 587.88C575.76 591.26 577.55 594.64 578.30 598.01C578.92 600.83 579.65 603.64 579.99 606.46C580.39 609.84 580.83 613.22 580.83 616.59C580.83 619.97 579.48 623.35 579.48 626.73C579.48 630.11 581.20 633.49 582.52 636.86C584.06 640.81 587.03 644.75 589.29 648.69C591.54 652.63 594.93 656.57 596.05 660.51C597.34 665.02 597.28 669.52 598.59 674.03C599.57 677.41 602.03 680.78 604.51 684.16C607.39 688.10 612.40 692.05 616.34 695.99C619.73 699.36 623.42 702.74 626.49 706.12C629.56 709.50 632.60 712.88 634.94 716.26C636.90 719.07 638.74 721.89 640.02 724.70C641.30 727.52 643.10 730.33 643.10 733.15C643.10 742.16 643.10 751.17 643.10 760.18L643.70 760.18C643.70 751.17 643.70 742.16 643.70 733.15C643.70 730.33 645.50 727.52 646.78 724.70C648.06 721.89 649.90 719.07 651.86 716.26C654.20 712.88 657.24 709.50 660.31 706.12C663.38 702.74 667.07 699.36 670.46 695.99C674.40 692.05 679.41 688.10 682.29 684.16C684.77 680.78 687.23 677.41 688.21 674.03C689.52 669.52 689.46 665.02 690.75 660.51C691.87 656.57 695.26 652.63 697.51 648.69C699.77 644.75 702.74 640.81 704.28 636.86C705.60 633.49 707.32 630.11 707.32 626.73C707.32 623.35 705.97 619.97 705.97 616.59C705.97 613.22 706.41 609.84 706.81 606.46C707.15 603.64 707.88 600.83 708.50 598.01C709.25 594.64 711.04 591.26 711.04 587.88C711.04 583.94 708.57 580.00 706.81 576.05C705.30 572.68 703.21 569.30 700.89 565.92C698.57 562.54 696.18 559.16 692.44 555.78C689.32 552.97 683.65 550.15 678.91 547.34C673.89 544.35 668.58 541.37 663.02 538.39Z" fill="#6fe6e6" stroke="#333333" stroke-width="1.8" stroke-linejoin="round"/>
<path d="M808.81 543.45C807.49 547.56 806.20 551.67 804.95 555.78C803.23 561.41 801.25 567.05 799.91 572.68C798.57 578.31 797.51 583.94 796.56 589.57C795.60 595.20 794.71 600.83 794.04 606.46C793.37 612.09 793.17 617.72 792.36 623.35C791.71 627.86 790.42 632.36 789.00 636.86C787.76 640.81 785.91 644.75 783.97 648.69C781.20 654.32 776.95 659.95 773.90 665.58C770.84 671.21 768.30 676.84 765.50 682.47C762.71 688.10 759.76 693.73 757.11 699.36C754.46 705.00 751.36 710.63 749.56 716.26C747.76 721.89 745.87 727.52 745.36 733.15C745.11 735.96 744.86 738.78 744.86 741.59C744.86 746.10 745.82 750.60 747.04 755.11C748.11 759.05 752.63 762.99 756.27 766.93C759.92 770.87 764.60 774.82 769.70 778.76C774.07 782.14 779.11 785.51 784.81 788.89C787.47 790.47 790.54 792.05 793.70 793.62L831.30 793.62C834.46 792.05 837.53 790.47 840.19 788.89C845.89 785.51 850.93 782.14 855.30 778.76C860.40 774.82 865.08 770.87 868.73 766.93C872.37 762.99 876.89 759.05 877.96 755.11C879.18 750.60 880.14 746.10 880.14 741.59C880.14 738.78 879.89 735.96 879.64 733.15C879.13 727.52 877.24 721.89 875.44 716.26C873.64 710.63 870.54 705.00 867.89 699.36C865.24 693.73 862.29 688.10 859.50 682.47C856.70 676.84 854.16 671.21 851.10 665.58C848.05 659.95 843.80 654.32 841.03 648.69C839.09 644.75 837.24 640.81 836.00 636.86C834.58 632.36 833.29 627.86 832.64 623.35C831.83 617.72 831.63 612.09 830.96 606.46C830.29 600.83 829.40 595.20 828.44 589.57C827.49 583.94 826.43 578.31 825.09 572.68C823.75 567.05 821.77 561.41 820.05 555.78C818.80 551.67 817.51 547.56 816.19 543.45Z" fill="#c04f73" stroke="#333333" stroke-width="1.8" stroke-linejoin="round"/>
<rect x="625.7" y="538" width="35.3" height="2" fill="url(#p0)"/>
<rect x="625.7" y="540" width="35.3" height="26" fill="url(#p1)"/>
<rect x="625.7" y="566" width="35.3" height="60" fill="url(#p2)"/>
<rect x="625.7" y="626" width="35.3" height="16" fill="url(#p2)"/>
<rect x="625.7" y="642" width="35.3" height="57" fill="url(#p1)"/>
<rect x="625.7" y="699" width="35.3" height="9" fill="url(#p0)"/>
<rect x="794.8" y="543" width="35.3" height="26" fill="url(#p0)"/>
<rect x="794.8" y="569" width="35.3" height="60" fill="url(#p1)"/>
<rect x="794.8" y="629" width="35.3" height="8" fill="url(#p1)"/>
<rect x="794.8" y="637" width="35.3" height="31" fill="url(#p2)"/>
<rect x="794.8" y="668" width="35.3" height="46" fill="url(#p3)"/>
<rect x="794.8" y="714" width="35.3" height="46" fill="url(#p4)"/>
<rect x="794.8" y="760" width="35.3" height="20" fill="url(#p3)"/>
<rect x="794.8" y="780" width="35.3" height="11" fill="url(#p2)"/>
<rect x="794.8" y="791" width="35.3" height="3" fill="url(#p1)"/>
<path d="M659 712.75h1.5" stroke="#000" stroke-width="1.5" fill="none"/>
<rect x="558.85" y="526.10" width="338.20" height="280.10" fill="none" stroke="#111" stroke-width="1.3"/>
<text x="547.95" y="782.88" font-size="14.85" text-anchor="end">0.6</text>
<text x="547.95" y="748.54" font-size="14.85" text-anchor="end">0.8</text>
<text x="547.95" y="714.20" font-size="14.85" text-anchor="end">1.0</text>
<text x="547.95" y="679.86" font-size="14.85" text-anchor="end">1.2</text>
<text x="547.95" y="645.52" font-size="14.85" text-anchor="end">1.4</text>
<text x="547.95" y="611.18" font-size="14.85" text-anchor="end">1.6</text>
<text x="547.95" y="576.84" font-size="14.85" text-anchor="end">1.8</text>
<text x="547.95" y="542.50" font-size="14.85" text-anchor="end">2.0</text>
<text transform="translate(648.70 816.50) rotate(-90)" font-size="14.85" text-anchor="end">wntEGC</text>
<text transform="translate(817.80 816.50) rotate(-90)" font-size="14.85" text-anchor="end">mpEX</text>
<path d="M558.85 777.38h-5M558.85 743.04h-5M558.85 708.70h-5M558.85 674.36h-5M558.85 640.02h-5M558.85 605.68h-5M558.85 571.34h-5M558.85 537.00h-5M643.40 806.20v5M812.50 806.20v5" stroke="#111" stroke-width="1.3" fill="none"/>
<text transform="translate(515.15 666.15) rotate(-90)" font-size="14.85" text-anchor="middle">Growth rate</text>
<text x="727.95" y="892.10" font-size="14.85" text-anchor="middle">Annotation</text>
<text x="727.95" y="517.10" font-size="17.75" text-anchor="middle">Δ<tspan font-style="italic">t</tspan> = 0.5</text>
<path d="M1051.89 538.39C1049.16 541.37 1046.12 544.35 1042.87 547.34C1039.80 550.15 1036.19 552.97 1032.85 555.78C1029.51 558.60 1025.86 561.41 1022.83 564.23C1019.79 567.05 1016.56 569.86 1014.48 572.68C1012.39 575.49 1010.37 578.31 1009.47 581.12C1008.20 585.06 1007.74 589.00 1006.96 592.95C1006.07 597.45 1005.04 601.95 1004.46 606.46C1003.87 610.96 1003.12 615.47 1003.12 619.97C1003.12 623.91 1003.62 627.86 1003.62 631.80C1003.62 635.74 1002.58 639.68 1001.95 643.62C1001.23 648.13 999.95 652.63 999.45 657.14C999.07 660.51 998.61 663.89 998.61 667.27C998.61 670.65 1000.87 674.03 1001.95 677.41C1003.39 681.91 1005.03 686.41 1006.13 690.92C1007.49 696.55 1007.56 702.18 1009.47 707.81C1010.42 710.63 1013.67 713.44 1016.15 716.26C1018.62 719.07 1021.46 721.89 1024.50 724.70C1027.53 727.52 1031.48 730.33 1034.52 733.15C1037.55 735.96 1039.95 738.78 1042.87 741.59C1045.78 744.41 1049.48 747.23 1052.05 750.04C1054.63 752.86 1057.02 755.67 1058.73 758.49C1060.45 761.30 1061.85 764.12 1062.91 766.93C1064.18 770.31 1065.30 773.69 1065.96 777.07L1066.54 777.07C1067.20 773.69 1068.32 770.31 1069.59 766.93C1070.65 764.12 1072.05 761.30 1073.77 758.49C1075.48 755.67 1077.87 752.86 1080.45 750.04C1083.02 747.23 1086.72 744.41 1089.63 741.59C1092.55 738.78 1094.95 735.96 1097.98 733.15C1101.02 730.33 1104.97 727.52 1108.00 724.70C1111.04 721.89 1113.88 719.07 1116.35 716.26C1118.83 713.44 1122.08 710.63 1123.03 707.81C1124.94 702.18 1125.01 696.55 1126.37 690.92C1127.47 686.41 1129.11 681.91 1130.55 677.41C1131.63 674.03 1133.89 670.65 1133.89 667.27C1133.89 663.89 1133.43 660.51 1133.05 657.14C1132.55 652.63 1131.27 648.13 1130.55 643.62C1129.92 639.68 1128.88 635.74 1128.88 631.80C1128.88 627.86 1129.38 623.91 1129.38 619.97C1129.38 615.47 1128.63 610.96 1128.04 606.46C1127.46 601.95 1126.43 597.45 1125.54 592.95C1124.76 589.00 1124.30 585.06 1123.03 581.12C1122.13 578.31 1120.11 575.49 1118.02 572.68C1115.94 569.86 1112.71 567.05 1109.67 564.23C1106.64 561.41 1102.99 558.60 1099.65 555.78C1096.31 552.97 1092.70 550.15 1089.63 547.34C1086.38 544.35 1083.34 541.37 1080.61 538.39Z" fill="#6fe6e6" stroke="#333333" stroke-width="1.8" stroke-linejoin="round"/>
<path d="M1234.01 546.49C1233.72 552.41 1233.31 558.32 1232.84 564.23C1232.40 569.86 1231.73 575.49 1231.17 581.12C1230.62 586.75 1230.06 592.38 1229.50 598.01C1228.95 603.64 1228.39 609.27 1227.83 614.91C1227.28 620.54 1226.72 626.17 1226.16 631.80C1225.61 637.43 1225.16 643.06 1224.49 648.69C1223.83 654.32 1223.03 659.95 1221.99 665.58C1220.95 671.21 1219.53 676.84 1217.81 682.47C1216.10 688.10 1213.71 693.73 1211.13 699.36C1208.55 705.00 1205.26 710.63 1201.95 716.26C1198.63 721.89 1194.97 727.52 1191.09 733.15C1187.21 738.78 1182.63 744.41 1178.57 750.04C1175.72 753.98 1172.08 757.92 1170.22 761.86C1169.15 764.12 1167.71 766.37 1167.71 768.62C1167.71 770.87 1169.02 773.13 1170.22 775.38C1171.71 778.19 1174.99 781.01 1178.57 783.82C1181.43 786.08 1184.47 788.33 1190.26 790.58C1192.86 791.59 1197.86 792.61 1202.78 793.62L1267.92 793.62C1272.84 792.61 1277.84 791.59 1280.44 790.58C1286.23 788.33 1289.27 786.08 1292.13 783.82C1295.71 781.01 1298.99 778.19 1300.48 775.38C1301.68 773.13 1302.99 770.87 1302.99 768.62C1302.99 766.37 1301.55 764.12 1300.48 761.86C1298.62 757.92 1294.98 753.98 1292.13 750.04C1288.07 744.41 1283.49 738.78 1279.61 733.15C1275.73 727.52 1272.07 721.89 1268.75 716.26C1265.44 710.63 1262.15 705.00 1259.57 699.36C1256.99 693.73 1254.60 688.10 1252.89 682.47C1251.17 676.84 1249.75 671.21 1248.71 665.58C1247.67 659.95 1246.87 654.32 1246.21 648.69C1245.54 643.06 1245.09 637.43 1244.54 631.80C1243.98 626.17 1243.42 620.54 1242.87 614.91C1242.31 609.27 1241.75 603.64 1241.20 598.01C1240.64 592.38 1240.08 586.75 1239.53 581.12C1238.97 575.49 1238.30 569.86 1237.86 564.23C1237.39 558.32 1236.98 552.41 1236.69 546.49Z" fill="#c04f73" stroke="#333333" stroke-width="1.8" stroke-linejoin="round"/>
<rect x="1048.6" y="538" width="35.3" height="18" fill="url(#p0)"/>
<rect x="1048.6" y="556" width="35.3" height="60" fill="url(#p1)"/>
<rect x="1048.6" y="616" width="35.3" height="60" fill="url(#p1)"/>
<rect x="1048.6" y="676" width="35.3" height="55" fill="url(#p1)"/>
<rect x="1048.6" y="731" width="35.3" height="11" fill="url(#p0)"/>
<rect x="1217.7" y="558" width="35.3" height="55" fill="url(#p0)"/>
<rect x="1217.7" y="613" width="35.3" height="58" fill="url(#p1)"/>
<rect x="1217.7" y="671" width="35.3" height="30" fill="url(#p2)"/>
<rect x="1217.7" y="701" width="35.3" height="24" fill="url(#p3)"/>
<rect x="1217.7" y="725" width="35.3" height="24" fill="url(#p4)"/>
<rect x="1217.7" y="749" width="35.3" height="34" fill="url(#p5)"/>
<rect x="1217.7" y="783" width="35.3" height="9" fill="url(#p4)"/>
<rect x="1217.7" y="792" width="35.3" height="2" fill="url(#p3)"/>
<path d="M1048 744.75h1.5M1249 547.75h1.5M1245 548.75h1.5M1244 549.75h1.5M1249 549.75h1.5M1218 550.75h1.5M1242 553.75h1.5M1245 553.75h1.5M1220 554.75h1.5M1244 554.75h1.5M1247 557.75h1.5M1245 557.75h1.5M1226 558.75h1.5" stroke="#000" stroke-width="1.5" fill="none"/>
<rect x="981.70" y="526.10" width="338.20" height="280.10" fill="none" stroke="#111" stroke-width="1.3"/>
<text x="970.80" y="782.60" font-size="14.85" text-anchor="end">0.5</text>
<text x="970.80" y="748.20" font-size="14.85" text-anchor="end">1.0</text>
<text x="970.80" y="713.80" font-size="14.85" text-anchor="end">1.5</text>
<text x="970.80" y="679.40" font-size="14.85" text-anchor="end">2.0</text>
<text x="970.80" y="645.00" font-size="14.85" text-anchor="end">2.5</text>
<text x="970.80" y="610.60" font-size="14.85" text-anchor="end">3.0</text>
<text x="970.80" y="576.20" font-size="14.85" text-anchor="end">3.5</text>
<text x="970.80" y="541.80" font-size="14.85" text-anchor="end">4.0</text>
<text transform="translate(1071.55 816.50) rotate(-90)" font-size="14.85" text-anchor="end">wntEGC</text>
<text transform="translate(1240.65 816.50) rotate(-90)" font-size="14.85" text-anchor="end">mpEX</text>
<path d="M981.70 777.10h-5M981.70 742.70h-5M981.70 708.30h-5M981.70 673.90h-5M981.70 639.50h-5M981.70 605.10h-5M981.70 570.70h-5M981.70 536.30h-5M1066.25 806.20v5M1235.35 806.20v5" stroke="#111" stroke-width="1.3" fill="none"/>
<text transform="translate(938.00 666.15) rotate(-90)" font-size="14.85" text-anchor="middle">Growth rate</text>
<text x="1150.80" y="892.10" font-size="14.85" text-anchor="middle">Annotation</text>
<text x="1150.80" y="517.10" font-size="17.75" text-anchor="middle">Δ<tspan font-style="italic">t</tspan> = 1.0</text>
<path d="M1483.23 538.39C1481.87 541.37 1480.47 544.35 1479.03 547.34C1477.67 550.15 1476.17 552.97 1474.83 555.78C1472.17 561.41 1469.65 567.05 1467.28 572.68C1464.91 578.31 1462.29 583.94 1460.57 589.57C1458.85 595.20 1457.17 600.83 1456.37 606.46C1455.57 612.09 1455.49 617.72 1454.69 623.35C1453.89 628.98 1451.90 634.61 1450.50 640.24C1449.10 645.87 1447.35 651.50 1446.30 657.14C1445.25 662.77 1444.62 668.40 1443.78 674.03C1442.94 679.66 1442.52 685.29 1441.27 690.92C1440.01 696.55 1436.48 702.18 1433.71 707.81C1430.94 713.44 1426.00 719.07 1424.48 724.70C1422.96 730.33 1421.46 735.96 1421.46 741.59C1421.46 746.10 1422.84 750.60 1424.48 755.11C1425.92 759.05 1430.98 762.99 1435.39 766.93C1439.80 770.87 1446.64 774.82 1452.17 778.76C1456.13 781.57 1459.20 784.39 1463.92 787.20C1465.81 788.33 1468.21 789.45 1470.64 790.58L1507.56 790.58C1509.99 789.45 1512.39 788.33 1514.28 787.20C1519.00 784.39 1522.07 781.57 1526.03 778.76C1531.56 774.82 1538.40 770.87 1542.81 766.93C1547.22 762.99 1552.28 759.05 1553.72 755.11C1555.36 750.60 1556.74 746.10 1556.74 741.59C1556.74 735.96 1555.24 730.33 1553.72 724.70C1552.20 719.07 1547.26 713.44 1544.49 707.81C1541.72 702.18 1538.19 696.55 1536.93 690.92C1535.68 685.29 1535.26 679.66 1534.42 674.03C1533.58 668.40 1532.95 662.77 1531.90 657.14C1530.85 651.50 1529.10 645.87 1527.70 640.24C1526.30 634.61 1524.31 628.98 1523.51 623.35C1522.71 617.72 1522.63 612.09 1521.83 606.46C1521.03 600.83 1519.35 595.20 1517.63 589.57C1515.91 583.94 1513.29 578.31 1510.92 572.68C1508.55 567.05 1506.03 561.41 1503.37 555.78C1502.03 552.97 1500.53 550.15 1499.17 547.34C1497.73 544.35 1496.33 541.37 1494.97 538.39Z" fill="#6fe6e6" stroke="#333333" stroke-width="1.8" stroke-linejoin="round"/>
<path d="M1658.05 552.91C1658.05 570.76 1658.02 588.61 1657.90 606.46C1657.87 612.09 1656.74 617.72 1656.51 623.35C1656.05 634.61 1655.99 645.87 1655.66 657.14C1655.33 668.40 1655.05 679.66 1654.48 690.92C1654.19 696.55 1653.72 702.18 1653.13 707.81C1652.54 713.44 1651.72 719.07 1650.59 724.70C1649.46 730.33 1647.69 735.96 1645.52 741.59C1644.43 744.41 1643.17 747.23 1641.29 750.04C1639.41 752.86 1636.30 755.67 1632.84 758.49C1629.37 761.30 1624.08 764.12 1619.31 766.93C1614.53 769.75 1608.89 772.56 1604.09 775.38C1600.24 777.63 1595.32 779.88 1593.10 782.14C1591.99 783.26 1590.56 784.39 1590.56 785.51C1590.56 786.64 1591.41 787.77 1592.25 788.89C1593.10 790.02 1594.98 791.14 1597.32 792.27C1598.49 792.83 1600.42 793.40 1602.40 793.96L1714.00 793.96C1715.98 793.40 1717.91 792.83 1719.08 792.27C1721.42 791.14 1723.30 790.02 1724.15 788.89C1724.99 787.77 1725.84 786.64 1725.84 785.51C1725.84 784.39 1724.42 783.26 1723.30 782.14C1721.08 779.88 1716.16 777.63 1712.31 775.38C1707.51 772.56 1701.87 769.75 1697.09 766.93C1692.32 764.12 1687.03 761.30 1683.57 758.49C1680.10 755.67 1676.99 752.86 1675.11 750.04C1673.23 747.23 1671.97 744.41 1670.88 741.59C1668.71 735.96 1666.94 730.33 1665.81 724.70C1664.68 719.07 1663.86 713.44 1663.27 707.81C1662.68 702.18 1662.21 696.55 1661.92 690.92C1661.35 679.66 1661.07 668.40 1660.74 657.14C1660.41 645.87 1660.35 634.61 1659.89 623.35C1659.66 617.72 1658.53 612.09 1658.50 606.46C1658.38 588.61 1658.35 570.76 1658.35 552.91Z" fill="#c04f73" stroke="#333333" stroke-width="1.8" stroke-linejoin="round"/>
<rect x="1471.4" y="542" width="35.3" height="60" fill="url(#p0)"/>
<rect x="1471.4" y="602" width="35.3" height="19" fill="url(#p0)"/>
<rect x="1471.4" y="621" width="35.3" height="60" fill="url(#p1)"/>
<rect x="1471.4" y="681" width="35.3" height="60" fill="url(#p1)"/>
<rect x="1471.4" y="741" width="35.3" height="37" fill="url(#p1)"/>
<rect x="1640.5" y="613" width="35.3" height="51" fill="url(#p0)"/>
<rect x="1640.5" y="664" width="35.3" height="49" fill="url(#p1)"/>
<rect x="1640.5" y="713" width="35.3" height="21" fill="url(#p2)"/>
<rect x="1640.5" y="734" width="35.3" height="14" fill="url(#p3)"/>
<rect x="1640.5" y="748" width="35.3" height="9" fill="url(#p4)"/>
<rect x="1640.5" y="757" width="35.3" height="6" fill="url(#p5)"/>
<rect x="1640.5" y="763" width="35.3" height="8" fill="url(#p6)"/>
<rect x="1640.5" y="771" width="35.3" height="14" fill="url(#p7)"/>
<rect x="1640.5" y="785" width="35.3" height="1" fill="url(#p8)"/>
<rect x="1640.5" y="786" width="35.3" height="9" fill="url(#p7)"/>
<path d="M1490 538.75h1.5M1500 539.75h1.5M1479 541.75h1.5M1484 541.75h1.5M1498 785.75h1.5M1658 555.75h1.5M1656 559.75h1.5M1661 562.75h1.5M1663 562.75h1.5M1651 570.75h1.5M1673 576.75h1.5M1670 580.75h1.5M1664 585.75h1.5M1671 594.75h1.5M1671 599.75h1.5M1661 603.75h1.5M1646 603.75h1.5M1646 604.75h1.5M1651 610.75h1.5M1649 611.75h1.5" stroke="#000" stroke-width="1.5" fill="none"/>
<rect x="1404.55" y="526.10" width="338.20" height="280.10" fill="none" stroke="#111" stroke-width="1.3"/>
<text x="1393.65" y="800.10" font-size="14.85" text-anchor="end">0</text>
<text x="1393.65" y="767.54" font-size="14.85" text-anchor="end">2</text>
<text x="1393.65" y="734.98" font-size="14.85" text-anchor="end">4</text>
<text x="1393.65" y="702.42" font-size="14.85" text-anchor="end">6</text>
<text x="1393.65" y="669.86" font-size="14.85" text-anchor="end">8</text>
<text x="1393.65" y="637.30" font-size="14.85" text-anchor="end">10</text>
<text x="1393.65" y="604.74" font-size="14.85" text-anchor="end">12</text>
<text x="1393.65" y="572.18" font-size="14.85" text-anchor="end">14</text>
<text x="1393.65" y="539.62" font-size="14.85" text-anchor="end">16</text>
<text transform="translate(1494.40 816.50) rotate(-90)" font-size="14.85" text-anchor="end">wntEGC</text>
<text transform="translate(1663.50 816.50) rotate(-90)" font-size="14.85" text-anchor="end">mpEX</text>
<path d="M1404.55 794.60h-5M1404.55 762.04h-5M1404.55 729.48h-5M1404.55 696.92h-5M1404.55 664.36h-5M1404.55 631.80h-5M1404.55 599.24h-5M1404.55 566.68h-5M1404.55 534.12h-5M1489.10 806.20v5M1658.20 806.20v5" stroke="#111" stroke-width="1.3" fill="none"/>
<text transform="translate(1365.55 666.15) rotate(-90)" font-size="14.85" text-anchor="middle">Growth rate</text>
<text x="1573.65" y="892.10" font-size="14.85" text-anchor="middle">Annotation</text>
<text x="1573.65" y="517.10" font-size="17.75" text-anchor="middle">Δ<tspan font-style="italic">t</tspan> = 2.0</text>
<path d="M1910.65 538.20C1910.19 546.43 1909.75 554.67 1909.34 562.90C1908.81 573.87 1908.41 584.83 1907.84 595.80C1907.27 606.77 1906.67 617.73 1905.84 628.70C1905.00 639.70 1903.50 650.70 1902.53 661.70C1901.56 672.67 1900.93 683.63 1899.93 694.60C1899.43 700.07 1898.95 705.53 1898.22 711.00C1897.49 716.50 1896.62 722.00 1895.12 727.50C1893.61 733.00 1890.47 738.50 1886.90 744.00C1883.34 749.47 1877.78 754.93 1871.57 760.40C1866.57 764.80 1857.49 769.20 1852.83 773.60C1849.33 776.90 1844.31 780.20 1844.31 783.50C1844.31 785.67 1844.84 787.83 1845.81 790.00C1846.31 791.10 1849.23 792.20 1851.83 793.30L1972.07 793.30C1974.67 792.20 1977.59 791.10 1978.09 790.00C1979.06 787.83 1979.59 785.67 1979.59 783.50C1979.59 780.20 1974.57 776.90 1971.07 773.60C1966.41 769.20 1957.33 764.80 1952.33 760.40C1946.12 754.93 1940.56 749.47 1937.00 744.00C1933.43 738.50 1930.29 733.00 1928.78 727.50C1927.28 722.00 1926.41 716.50 1925.68 711.00C1924.95 705.53 1924.47 700.07 1923.97 694.60C1922.97 683.63 1922.34 672.67 1921.37 661.70C1920.40 650.70 1918.90 639.70 1918.06 628.70C1917.23 617.73 1916.63 606.77 1916.06 595.80C1915.49 584.83 1915.09 573.87 1914.56 562.90C1914.15 554.67 1913.71 546.43 1913.25 538.20Z" fill="#6fe6e6" stroke="#333333" stroke-width="1.8" stroke-linejoin="round"/>
<path d="M2080.90 572.80C2080.90 613.40 2080.88 654.00 2080.80 694.60C2080.78 705.57 2079.98 716.53 2079.46 727.50C2079.20 733.00 2078.95 738.50 2078.56 744.00C2078.18 749.47 2077.82 754.93 2076.97 760.40C2076.55 763.13 2075.72 765.87 2074.48 768.60C2073.24 771.37 2069.61 774.13 2067.12 776.90C2066.14 778.00 2065.74 779.10 2064.14 780.20C2061.77 781.83 2048.89 783.47 2041.26 785.10C2033.64 786.73 2021.99 788.37 2018.38 790.00C2015.96 791.10 2013.67 792.20 2013.41 793.30L2148.69 793.30C2148.43 792.20 2146.14 791.10 2143.72 790.00C2140.11 788.37 2128.46 786.73 2120.84 785.10C2113.21 783.47 2100.33 781.83 2097.96 780.20C2096.36 779.10 2095.96 778.00 2094.98 776.90C2092.49 774.13 2088.86 771.37 2087.62 768.60C2086.38 765.87 2085.55 763.13 2085.13 760.40C2084.28 754.93 2083.92 749.47 2083.54 744.00C2083.15 738.50 2082.90 733.00 2082.64 727.50C2082.12 716.53 2081.32 705.57 2081.30 694.60C2081.22 654.00 2081.20 613.40 2081.20 572.80Z" fill="#c04f73" stroke="#333333" stroke-width="1.8" stroke-linejoin="round"/>
<rect x="1894.3" y="655" width="35.3" height="60" fill="url(#p0)"/>
<rect x="1894.3" y="715" width="35.3" height="17" fill="url(#p0)"/>
<rect x="1894.3" y="732" width="35.3" height="16" fill="url(#p1)"/>
<rect x="1894.3" y="748" width="35.3" height="11" fill="url(#p2)"/>
<rect x="1894.3" y="759" width="35.3" height="9" fill="url(#p3)"/>
<rect x="1894.3" y="768" width="35.3" height="11" fill="url(#p4)"/>
<rect x="1894.3" y="779" width="35.3" height="12" fill="url(#p5)"/>
<rect x="1894.3" y="791" width="35.3" height="3" fill="url(#p4)"/>
<rect x="2063.4" y="742" width="35.3" height="20" fill="url(#p0)"/>
<rect x="2063.4" y="762" width="35.3" height="8" fill="url(#p1)"/>
<rect x="2063.4" y="770" width="35.3" height="5" fill="url(#p2)"/>
<rect x="2063.4" y="775" width="35.3" height="3" fill="url(#p3)"/>
<rect x="2063.4" y="778" width="35.3" height="3" fill="url(#p4)"/>
<rect x="2063.4" y="781" width="35.3" height="2" fill="url(#p5)"/>
<rect x="2063.4" y="783" width="35.3" height="2" fill="url(#p6)"/>
<rect x="2063.4" y="785" width="35.3" height="1" fill="url(#p7)"/>
<rect x="2063.4" y="786" width="35.3" height="2" fill="url(#p8)"/>
<rect x="2063.4" y="788" width="35.3" height="6" fill="url(#p9)"/>
<path d="M1927 551.75h1.5M1896 553.75h1.5M1900 554.75h1.5M1907 555.75h1.5M1925 555.75h1.5M1895 556.75h1.5M1898 557.75h1.5M1926 560.75h1.5M1909 570.75h1.5M1895 585.75h1.5M1903 586.75h1.5M1921 595.75h1.5M1918 597.75h1.5M1911 597.75h1.5M1908 600.75h1.5M1910 607.75h1.5M1926 613.75h1.5M1912 619.75h1.5M1902 619.75h1.5M1912 622.75h1.5M1907 628.75h1.5M1901 629.75h1.5M1926 631.75h1.5M1919 631.75h1.5M1906 633.75h1.5M1911 635.75h1.5M1897 635.75h1.5M1898 636.75h1.5M1895 641.75h1.5M1920 644.75h1.5M1921 645.75h1.5M1925 647.75h1.5M1908 647.75h1.5M1901 649.75h1.5M1920 650.75h1.5M1918 654.75h1.5M1917 654.75h1.5M2090 574.75h1.5M2067 586.75h1.5M2096 598.75h1.5M2087 598.75h1.5M2067 606.75h1.5M2069 610.75h1.5M2080 623.75h1.5M2083 623.75h1.5M2084 629.75h1.5M2073 636.75h1.5M2078 655.75h1.5M2067 660.75h1.5M2074 668.75h1.5M2074 674.75h1.5M2071 676.75h1.5M2073 683.75h1.5M2082 687.75h1.5M2069 690.75h1.5M2092 692.75h1.5M2069 694.75h1.5M2083 707.75h1.5M2080 709.75h1.5M2080 716.75h1.5M2075 722.75h1.5M2091 724.75h1.5M2086 725.75h1.5M2074 727.75h1.5M2077 729.75h1.5M2092 732.75h1.5M2081 736.75h1.5M2072 738.75h1.5M2078 739.75h1.5M2068 741.75h1.5M2068 741.75h1.5" stroke="#000" stroke-width="1.5" fill="none"/>
<rect x="1827.40" y="526.10" width="338.20" height="280.10" fill="none" stroke="#111" stroke-width="1.3"/>
<text x="1816.50" y="799.10" font-size="14.85" text-anchor="end">0</text>
<text x="1816.50" y="746.92" font-size="14.85" text-anchor="end">200</text>
<text x="1816.50" y="694.74" font-size="14.85" text-anchor="end">400</text>
<text x="1816.50" y="642.56" font-size="14.85" text-anchor="end">600</text>
<text x="1816.50" y="590.38" font-size="14.85" text-anchor="end">800</text>
<text x="1816.50" y="538.20" font-size="14.85" text-anchor="end">1000</text>
<text transform="translate(1917.25 816.50) rotate(-90)" font-size="14.85" text-anchor="end">wntEGC</text>
<text transform="translate(2086.35 816.50) rotate(-90)" font-size="14.85" text-anchor="end">mpEX</text>
<path d="M1827.40 793.60h-5M1827.40 741.42h-5M1827.40 689.24h-5M1827.40 637.06h-5M1827.40 584.88h-5M1827.40 532.70h-5M1911.95 806.20v5M2081.05 806.20v5" stroke="#111" stroke-width="1.3" fill="none"/>
<text transform="translate(1769.50 666.15) rotate(-90)" font-size="14.85" text-anchor="middle">Growth rate</text>
<text x="1996.50" y="892.10" font-size="14.85" text-anchor="middle">Annotation</text>
<text x="1996.50" y="517.10" font-size="17.75" text-anchor="middle">Δ<tspan font-style="italic">t</tspan> = 5.0</text>
<path d="M183.85 980.64C181.04 982.95 177.88 985.27 174.46 987.59C171.04 989.90 165.88 992.22 163.16 994.53C159.77 997.43 156.94 1000.33 155.34 1003.22C153.73 1006.12 151.86 1009.01 151.86 1011.91C151.86 1014.80 152.47 1017.70 152.73 1020.59C153.05 1024.07 153.60 1027.54 153.60 1031.02C153.60 1035.07 153.17 1039.13 152.73 1043.18C152.30 1047.23 150.94 1051.29 150.12 1055.34C149.20 1059.97 147.52 1064.61 147.52 1069.24C147.52 1072.13 148.68 1075.03 149.26 1077.93C149.83 1080.82 150.99 1083.72 150.99 1086.61C150.99 1090.09 149.26 1093.56 149.26 1097.04C149.26 1099.35 150.01 1101.67 150.99 1103.99C151.73 1105.72 154.81 1107.46 157.08 1109.20C160.10 1111.51 163.84 1113.83 167.51 1116.15C170.26 1117.88 173.30 1119.62 176.20 1121.36C179.10 1123.10 182.72 1124.83 184.89 1126.57C187.06 1128.31 189.28 1130.05 190.11 1131.78C191.20 1134.10 192.07 1136.42 192.19 1138.73C193.04 1154.37 193.26 1170.00 193.26 1185.64L193.90 1185.64C193.90 1170.00 194.13 1154.37 194.97 1138.73C195.10 1136.42 195.96 1134.10 197.06 1131.78C197.88 1130.05 200.10 1128.31 202.28 1126.57C204.45 1124.83 208.07 1123.10 210.97 1121.36C213.86 1119.62 216.91 1117.88 219.66 1116.15C223.33 1113.83 227.06 1111.51 230.09 1109.20C232.36 1107.46 235.43 1105.72 236.17 1103.99C237.16 1101.67 237.91 1099.35 237.91 1097.04C237.91 1093.56 236.17 1090.09 236.17 1086.61C236.17 1083.72 237.33 1080.82 237.91 1077.93C238.49 1075.03 239.65 1072.13 239.65 1069.24C239.65 1064.61 237.97 1059.97 237.04 1055.34C236.23 1051.29 234.87 1047.23 234.43 1043.18C234.00 1039.13 233.57 1035.07 233.57 1031.02C233.57 1027.54 234.12 1024.07 234.43 1020.59C234.70 1017.70 235.30 1014.80 235.30 1011.91C235.30 1009.01 233.43 1006.12 231.83 1003.22C230.22 1000.33 227.40 997.43 224.00 994.53C221.29 992.22 216.12 989.90 212.71 987.59C209.29 985.27 206.13 982.95 203.32 980.64Z" fill="#d7e6e6" stroke="#333333" stroke-width="1.8" stroke-linejoin="round"/>
<path d="M304.11 981.85C302.46 987.82 300.54 993.78 298.44 999.75C296.40 1005.54 293.99 1011.33 291.56 1017.12C289.13 1022.91 286.66 1028.70 283.83 1034.49C280.99 1040.28 277.21 1046.07 274.37 1051.87C271.54 1057.66 268.38 1063.45 266.64 1069.24C264.89 1075.03 262.68 1080.82 262.68 1086.61C262.68 1090.09 262.89 1093.56 263.20 1097.04C263.56 1101.09 267.32 1105.14 270.07 1109.20C272.82 1113.25 277.31 1117.30 280.39 1121.36C282.58 1124.25 284.95 1127.15 286.40 1130.05C287.86 1132.94 288.86 1135.84 289.84 1138.73C290.82 1141.63 291.73 1144.52 292.42 1147.42C293.11 1150.31 293.74 1153.21 294.14 1156.10C294.93 1161.90 295.48 1167.69 295.86 1173.48C296.24 1179.27 296.31 1185.06 296.72 1190.85C297.12 1196.64 297.87 1202.43 298.78 1208.22C299.51 1212.86 300.92 1217.49 301.87 1222.12C302.80 1226.64 303.67 1231.16 304.45 1235.67L313.05 1235.67C313.83 1231.16 314.70 1226.64 315.63 1222.12C316.58 1217.49 317.99 1212.86 318.72 1208.22C319.63 1202.43 320.38 1196.64 320.78 1190.85C321.19 1185.06 321.26 1179.27 321.64 1173.48C322.02 1167.69 322.57 1161.90 323.36 1156.10C323.76 1153.21 324.39 1150.31 325.08 1147.42C325.77 1144.52 326.68 1141.63 327.66 1138.73C328.64 1135.84 329.64 1132.94 331.10 1130.05C332.55 1127.15 334.92 1124.25 337.11 1121.36C340.19 1117.30 344.68 1113.25 347.43 1109.20C350.18 1105.14 353.94 1101.09 354.30 1097.04C354.61 1093.56 354.82 1090.09 354.82 1086.61C354.82 1080.82 352.61 1075.03 350.86 1069.24C349.12 1063.45 345.96 1057.66 343.13 1051.87C340.29 1046.07 336.51 1040.28 333.67 1034.49C330.84 1028.70 328.37 1022.91 325.94 1017.12C323.51 1011.33 321.10 1005.54 319.06 999.75C316.96 993.78 315.04 987.82 313.39 981.85Z" fill="#58ccb0" stroke="#333333" stroke-width="1.8" stroke-linejoin="round"/>
<path d="M421.83 991.58C420.38 997.20 418.74 1002.82 416.96 1008.43C415.13 1014.22 413.04 1020.02 410.88 1025.81C408.72 1031.60 406.09 1037.39 403.93 1043.18C401.76 1048.97 399.87 1054.76 397.84 1060.55C395.81 1066.34 393.63 1072.13 391.76 1077.93C389.88 1083.72 388.12 1089.51 386.54 1095.30C384.96 1101.09 383.41 1106.88 382.20 1112.67C380.98 1118.46 379.97 1124.25 379.07 1130.05C378.62 1132.94 377.85 1135.84 377.85 1138.73C377.85 1141.63 379.01 1144.52 379.59 1147.42C380.17 1150.31 381.33 1153.21 381.33 1156.10C381.33 1161.90 380.81 1167.69 380.81 1173.48C380.81 1179.27 382.36 1185.06 383.93 1190.85C385.51 1196.64 390.04 1202.43 393.50 1208.22C396.95 1214.02 400.79 1219.81 404.79 1225.60C407.80 1229.94 411.01 1234.28 414.36 1238.63L433.48 1238.63C436.82 1234.28 440.04 1229.94 443.04 1225.60C447.04 1219.81 450.89 1214.02 454.34 1208.22C457.79 1202.43 462.33 1196.64 463.90 1190.85C465.47 1185.06 467.03 1179.27 467.03 1173.48C467.03 1167.69 466.51 1161.90 466.51 1156.10C466.51 1153.21 467.67 1150.31 468.24 1147.42C468.82 1144.52 469.98 1141.63 469.98 1138.73C469.98 1135.84 469.22 1132.94 468.77 1130.05C467.87 1124.25 466.85 1118.46 465.64 1112.67C464.42 1106.88 462.87 1101.09 461.29 1095.30C459.71 1089.51 457.95 1083.72 456.08 1077.93C454.20 1072.13 452.02 1066.34 449.99 1060.55C447.96 1054.76 446.07 1048.97 443.91 1043.18C441.74 1037.39 439.12 1031.60 436.95 1025.81C434.79 1020.02 432.70 1014.22 430.87 1008.43C429.09 1002.82 427.46 997.20 426.00 991.58Z" fill="#d07f96" stroke="#333333" stroke-width="1.8" stroke-linejoin="round"/>
<rect x="181.3" y="981" width="24.5" height="1" fill="url(#p0)"/>
<rect x="181.3" y="982" width="24.5" height="4" fill="url(#p1)"/>
<rect x="181.3" y="986" width="24.5" height="4" fill="url(#p2)"/>
<rect x="181.3" y="990" width="24.5" height="4" fill="url(#p3)"/>
<rect x="181.3" y="994" width="24.5" height="8" fill="url(#p4)"/>
<rect x="181.3" y="1002" width="24.5" height="60" fill="url(#p5)"/>
<rect x="181.3" y="1062" width="24.5" height="47" fill="url(#p5)"/>
<rect x="181.3" y="1109" width="24.5" height="5" fill="url(#p4)"/>
<rect x="181.3" y="1114" width="24.5" height="4" fill="url(#p3)"/>
<rect x="296.5" y="1013" width="24.5" height="34" fill="url(#p0)"/>
<rect x="296.5" y="1047" width="24.5" height="60" fill="url(#p1)"/>
<rect x="296.5" y="1107" width="24.5" height="10" fill="url(#p1)"/>
<rect x="296.5" y="1117" width="24.5" height="34" fill="url(#p0)"/>
<rect x="411.7" y="1010" width="24.5" height="23" fill="url(#p0)"/>
<rect x="411.7" y="1033" width="24.5" height="21" fill="url(#p1)"/>
<rect x="411.7" y="1054" width="24.5" height="27" fill="url(#p2)"/>
<rect x="411.7" y="1081" width="24.5" height="39" fill="url(#p3)"/>
<rect x="411.7" y="1120" width="24.5" height="32" fill="url(#p4)"/>
<rect x="411.7" y="1152" width="24.5" height="53" fill="url(#p3)"/>
<rect x="411.7" y="1205" width="24.5" height="14" fill="url(#p2)"/>
<rect x="411.7" y="1219" width="24.5" height="12" fill="url(#p1)"/>
<rect x="411.7" y="1231" width="24.5" height="9" fill="url(#p0)"/>
<path d="M189 1121.75h1.5M319 989.75h1.5M297 990.75h1.5M305 996.75h1.5M309 1000.75h1.5M297 1005.75h1.5M308 1007.75h1.5M302 1010.75h1.5M312 1151.75h1.5M306 1152.75h1.5M309 1153.75h1.5M309 1157.75h1.5M310 1158.75h1.5M306 1169.75h1.5M300 1171.75h1.5M307 1172.75h1.5M310 1171.75h1.5M309 1173.75h1.5M319 1173.75h1.5M306 1179.75h1.5M297 1181.75h1.5M313 1182.75h1.5M304 1183.75h1.5M296 1184.75h1.5M306 1193.75h1.5M307 1194.75h1.5M315 1196.75h1.5M318 1204.75h1.5M314 1206.75h1.5M308 1209.75h1.5M309 1210.75h1.5M297 1215.75h1.5M308 1223.75h1.5M305 1229.75h1.5M305 1233.75h1.5M430 992.75h1.5M415 1000.75h1.5M423 1001.75h1.5M432 1005.75h1.5M412 1005.75h1.5M431 1006.75h1.5M422 1009.75h1.5" stroke="#000" stroke-width="1.5" fill="none"/>
<rect x="136.00" y="968.30" width="345.50" height="283.20" fill="none" stroke="#111" stroke-width="1.3"/>
<text x="125.10" y="1217.50" font-size="14.85" text-anchor="end">0.90</text>
<text x="125.10" y="1170.60" font-size="14.85" text-anchor="end">0.95</text>
<text x="125.10" y="1123.70" font-size="14.85" text-anchor="end">1.00</text>
<text x="125.10" y="1076.80" font-size="14.85" text-anchor="end">1.05</text>
<text x="125.10" y="1029.90" font-size="14.85" text-anchor="end">1.10</text>
<text x="125.10" y="983.00" font-size="14.85" text-anchor="end">1.15</text>
<text transform="translate(198.88 1262.90) rotate(-90)" font-size="14.85" text-anchor="end">reaEGC</text>
<text transform="translate(314.05 1262.90) rotate(-90)" font-size="14.85" text-anchor="end">rIPC2</text>
<text transform="translate(429.22 1262.90) rotate(-90)" font-size="14.85" text-anchor="end">dpEX</text>
<path d="M136.00 1212.00h-5M136.00 1165.10h-5M136.00 1118.20h-5M136.00 1071.30h-5M136.00 1024.40h-5M136.00 977.50h-5M193.58 1251.50v5M308.75 1251.50v5M423.92 1251.50v5" stroke="#111" stroke-width="1.3" fill="none"/>
<text transform="translate(82.80 1109.90) rotate(-90)" font-size="14.85" text-anchor="middle">Growth rate</text>
<text x="308.75" y="1334.50" font-size="14.85" text-anchor="middle">Annotation</text>
<text x="308.75" y="959.30" font-size="17.75" text-anchor="middle">Δ<tspan font-style="italic">t</tspan> = 0.1</text>
<path d="M609.50 980.64C606.69 984.11 603.49 987.59 600.04 991.06C597.17 993.96 592.79 996.85 590.59 999.75C587.94 1003.22 585.46 1006.70 584.57 1010.17C583.68 1013.64 583.17 1017.12 582.85 1020.59C582.43 1025.23 581.99 1029.86 581.99 1034.49C581.99 1037.39 581.99 1040.28 581.99 1043.18C581.99 1046.07 581.42 1048.97 581.13 1051.87C580.56 1057.66 580.18 1063.45 579.42 1069.24C578.65 1075.03 577.39 1080.82 575.98 1086.61C574.85 1091.25 572.57 1095.88 571.68 1100.51C570.90 1104.56 570.47 1108.62 569.96 1112.67C569.45 1116.73 568.59 1120.78 568.59 1124.83C568.59 1128.31 569.63 1131.78 570.82 1135.26C571.82 1138.15 575.04 1141.05 577.70 1143.94C580.35 1146.84 583.62 1149.73 587.15 1152.63C590.68 1155.53 595.41 1158.42 599.18 1161.32C602.20 1163.63 605.51 1165.95 607.78 1168.27C609.48 1170.00 611.59 1171.74 612.07 1173.48C612.89 1176.37 613.29 1179.27 613.45 1182.16C613.90 1190.27 614.17 1198.38 614.17 1206.49L615.13 1206.49C615.13 1198.38 615.40 1190.27 615.86 1182.16C616.02 1179.27 616.42 1176.37 617.23 1173.48C617.72 1171.74 619.83 1170.00 621.53 1168.27C623.80 1165.95 627.10 1163.63 630.12 1161.32C633.90 1158.42 638.63 1155.53 642.16 1152.63C645.69 1149.73 648.96 1146.84 651.61 1143.94C654.26 1141.05 657.49 1138.15 658.49 1135.26C659.68 1131.78 660.72 1128.31 660.72 1124.83C660.72 1120.78 659.85 1116.73 659.34 1112.67C658.84 1108.62 658.41 1104.56 657.63 1100.51C656.73 1095.88 654.46 1091.25 653.33 1086.61C651.92 1080.82 650.65 1075.03 649.89 1069.24C649.13 1063.45 648.74 1057.66 648.17 1051.87C647.89 1048.97 647.31 1046.07 647.31 1043.18C647.31 1040.28 647.31 1037.39 647.31 1034.49C647.31 1029.86 646.88 1025.23 646.45 1020.59C646.13 1017.12 645.63 1013.64 644.73 1010.17C643.84 1006.70 641.36 1003.22 638.72 999.75C636.51 996.85 632.14 993.96 629.26 991.06C625.82 987.59 622.62 984.11 619.81 980.64Z" fill="#d7e6e6" stroke="#333333" stroke-width="1.8" stroke-linejoin="round"/>
<path d="M727.24 982.37C726.38 988.16 725.52 993.96 724.66 999.75C723.80 1005.54 723.07 1011.33 722.08 1017.12C721.10 1022.91 720.11 1028.70 718.65 1034.49C717.19 1040.28 714.99 1046.07 712.63 1051.87C710.27 1057.66 706.75 1063.45 704.04 1069.24C701.32 1075.03 698.88 1080.82 696.30 1086.61C693.72 1092.40 690.50 1098.19 688.57 1103.99C687.02 1108.62 685.44 1113.25 684.78 1117.88C684.29 1121.36 683.75 1124.83 683.75 1128.31C683.75 1131.78 685.48 1135.26 686.85 1138.73C688.68 1143.36 692.71 1148.00 695.44 1152.63C697.83 1156.68 700.19 1160.74 702.32 1164.79C703.84 1167.69 705.54 1170.58 706.61 1173.48C707.69 1176.37 708.51 1179.27 709.19 1182.16C709.88 1185.06 710.34 1187.96 710.91 1190.85C712.06 1196.64 712.94 1202.43 714.35 1208.22C715.05 1211.12 716.07 1214.02 716.93 1216.91C717.79 1219.81 718.88 1222.70 719.51 1225.60C720.32 1229.36 721.04 1233.13 721.40 1236.89L738.24 1236.89C738.60 1233.13 739.32 1229.36 740.13 1225.60C740.76 1222.70 741.85 1219.81 742.71 1216.91C743.57 1214.02 744.59 1211.12 745.29 1208.22C746.70 1202.43 747.58 1196.64 748.73 1190.85C749.30 1187.96 749.76 1185.06 750.45 1182.16C751.13 1179.27 751.95 1176.37 753.03 1173.48C754.10 1170.58 755.80 1167.69 757.32 1164.79C759.45 1160.74 761.81 1156.68 764.20 1152.63C766.93 1148.00 770.96 1143.36 772.79 1138.73C774.16 1135.26 775.89 1131.78 775.89 1128.31C775.89 1124.83 775.35 1121.36 774.86 1117.88C774.20 1113.25 772.62 1108.62 771.07 1103.99C769.14 1098.19 765.92 1092.40 763.34 1086.61C760.76 1080.82 758.32 1075.03 755.60 1069.24C752.89 1063.45 749.37 1057.66 747.01 1051.87C744.65 1046.07 742.45 1040.28 740.99 1034.49C739.53 1028.70 738.54 1022.91 737.56 1017.12C736.57 1011.33 735.84 1005.54 734.98 999.75C734.12 993.96 733.26 988.16 732.40 982.37Z" fill="#58ccb0" stroke="#333333" stroke-width="1.8" stroke-linejoin="round"/>
<path d="M844.51 997.66C843.85 1004.15 842.78 1010.63 841.55 1017.12C840.45 1022.91 838.68 1028.70 837.25 1034.49C835.82 1040.28 834.52 1046.07 832.95 1051.87C831.39 1057.66 829.52 1063.45 827.80 1069.24C826.08 1075.03 824.36 1080.82 822.64 1086.61C820.92 1092.40 819.20 1098.19 817.48 1103.99C815.77 1109.78 813.89 1115.57 812.33 1121.36C810.76 1127.15 809.30 1132.94 808.03 1138.73C806.76 1144.52 805.57 1150.31 804.59 1156.10C803.61 1161.90 802.78 1167.69 802.01 1173.48C801.25 1179.27 800.52 1185.06 799.95 1190.85C799.55 1194.91 798.92 1198.96 798.92 1203.01C798.92 1205.91 800.01 1208.80 801.15 1211.70C802.52 1215.17 807.02 1218.65 810.61 1222.12C813.60 1225.02 817.55 1227.91 820.92 1230.81C823.96 1233.42 826.94 1236.02 829.86 1238.63L860.11 1238.63C863.04 1236.02 866.02 1233.42 869.05 1230.81C872.42 1227.91 876.38 1225.02 879.36 1222.12C882.95 1218.65 887.45 1215.17 888.82 1211.70C889.96 1208.80 891.05 1205.91 891.05 1203.01C891.05 1198.96 890.42 1194.91 890.02 1190.85C889.45 1185.06 888.72 1179.27 887.96 1173.48C887.20 1167.69 886.36 1161.90 885.38 1156.10C884.40 1150.31 883.22 1144.52 881.94 1138.73C880.67 1132.94 879.21 1127.15 877.65 1121.36C876.08 1115.57 874.21 1109.78 872.49 1103.99C870.77 1098.19 869.05 1092.40 867.33 1086.61C865.61 1080.82 863.89 1075.03 862.18 1069.24C860.46 1063.45 858.58 1057.66 857.02 1051.87C855.46 1046.07 854.15 1040.28 852.72 1034.49C851.29 1028.70 849.52 1022.91 848.42 1017.12C847.20 1010.63 846.13 1004.15 845.47 997.66Z" fill="#d07f96" stroke="#333333" stroke-width="1.8" stroke-linejoin="round"/>
<rect x="602.4" y="981" width="24.5" height="7" fill="url(#p0)"/>
<rect x="602.4" y="988" width="24.5" height="6" fill="url(#p1)"/>
<rect x="602.4" y="994" width="24.5" height="6" fill="url(#p2)"/>
<rect x="602.4" y="1000" width="24.5" height="16" fill="url(#p3)"/>
<rect x="602.4" y="1016" width="24.5" height="60" fill="url(#p4)"/>
<rect x="602.4" y="1076" width="24.5" height="14" fill="url(#p4)"/>
<rect x="602.4" y="1090" width="24.5" height="52" fill="url(#p5)"/>
<rect x="602.4" y="1142" width="24.5" height="8" fill="url(#p4)"/>
<rect x="602.4" y="1150" width="24.5" height="2" fill="url(#p3)"/>
<rect x="717.6" y="1049" width="24.5" height="36" fill="url(#p0)"/>
<rect x="717.6" y="1085" width="24.5" height="60" fill="url(#p1)"/>
<rect x="717.6" y="1145" width="24.5" height="10" fill="url(#p1)"/>
<rect x="717.6" y="1155" width="24.5" height="50" fill="url(#p0)"/>
<rect x="832.7" y="1030" width="24.5" height="28" fill="url(#p0)"/>
<rect x="832.7" y="1058" width="24.5" height="24" fill="url(#p1)"/>
<rect x="832.7" y="1082" width="24.5" height="28" fill="url(#p2)"/>
<rect x="832.7" y="1110" width="24.5" height="36" fill="url(#p3)"/>
<rect x="832.7" y="1146" width="24.5" height="60" fill="url(#p4)"/>
<rect x="832.7" y="1206" width="24.5" height="13" fill="url(#p4)"/>
<rect x="832.7" y="1219" width="24.5" height="8" fill="url(#p3)"/>
<rect x="832.7" y="1227" width="24.5" height="7" fill="url(#p2)"/>
<rect x="832.7" y="1234" width="24.5" height="5" fill="url(#p1)"/>
<path d="M621 1152.75h1.5M603 1153.75h1.5M726 991.75h1.5M728 991.75h1.5M719 993.75h1.5M723 995.75h1.5M735 998.75h1.5M738 1006.75h1.5M731 1010.75h1.5M724 1017.75h1.5M723 1018.75h1.5M731 1022.75h1.5M736 1027.75h1.5M729 1033.75h1.5M737 1038.75h1.5M721 1039.75h1.5M731 1041.75h1.5M730 1041.75h1.5M731 1048.75h1.5M734 1207.75h1.5M720 1208.75h1.5M722 1211.75h1.5M728 1214.75h1.5M720 1215.75h1.5M722 1218.75h1.5M719 1228.75h1.5M737 1232.75h1.5M729 1233.75h1.5M728 1233.75h1.5M847 999.75h1.5M846 1010.75h1.5M842 1014.75h1.5M838 1018.75h1.5M841 1028.75h1.5" stroke="#000" stroke-width="1.5" fill="none"/>
<rect x="557.07" y="968.30" width="345.50" height="283.20" fill="none" stroke="#111" stroke-width="1.3"/>
<text x="546.17" y="1227.04" font-size="14.85" text-anchor="end">0.6</text>
<text x="546.17" y="1192.12" font-size="14.85" text-anchor="end">0.8</text>
<text x="546.17" y="1157.20" font-size="14.85" text-anchor="end">1.0</text>
<text x="546.17" y="1122.28" font-size="14.85" text-anchor="end">1.2</text>
<text x="546.17" y="1087.36" font-size="14.85" text-anchor="end">1.4</text>
<text x="546.17" y="1052.44" font-size="14.85" text-anchor="end">1.6</text>
<text x="546.17" y="1017.52" font-size="14.85" text-anchor="end">1.8</text>
<text x="546.17" y="982.60" font-size="14.85" text-anchor="end">2.0</text>
<text transform="translate(619.95 1262.90) rotate(-90)" font-size="14.85" text-anchor="end">reaEGC</text>
<text transform="translate(735.12 1262.90) rotate(-90)" font-size="14.85" text-anchor="end">rIPC2</text>
<text transform="translate(850.29 1262.90) rotate(-90)" font-size="14.85" text-anchor="end">dpEX</text>
<path d="M557.07 1221.54h-5M557.07 1186.62h-5M557.07 1151.70h-5M557.07 1116.78h-5M557.07 1081.86h-5M557.07 1046.94h-5M557.07 1012.02h-5M557.07 977.10h-5M614.65 1251.50v5M729.82 1251.50v5M844.99 1251.50v5" stroke="#111" stroke-width="1.3" fill="none"/>
<text transform="translate(513.37 1109.90) rotate(-90)" font-size="14.85" text-anchor="middle">Growth rate</text>
<text x="729.82" y="1334.50" font-size="14.85" text-anchor="middle">Annotation</text>
<text x="729.82" y="959.30" font-size="17.75" text-anchor="middle">Δ<tspan font-style="italic">t</tspan> = 0.5</text>
<path d="M1033.14 980.64C1032.50 984.11 1031.19 987.59 1029.71 991.06C1028.47 993.96 1026.11 996.85 1024.55 999.75C1022.99 1002.64 1021.33 1005.54 1020.25 1008.43C1019.18 1011.33 1018.27 1014.22 1017.67 1017.12C1016.48 1022.91 1015.69 1028.70 1015.10 1034.49C1014.50 1040.28 1014.15 1046.07 1013.72 1051.87C1013.29 1057.66 1013.07 1063.45 1012.52 1069.24C1011.97 1075.03 1011.09 1080.82 1009.94 1086.61C1008.79 1092.40 1006.75 1098.19 1004.78 1103.99C1002.82 1109.78 999.87 1115.57 997.91 1121.36C995.94 1127.15 994.04 1132.94 992.75 1138.73C991.46 1144.52 989.66 1150.31 989.66 1156.10C989.66 1159.00 989.87 1161.90 990.17 1164.79C990.47 1167.69 992.13 1170.58 993.61 1173.48C995.39 1176.95 998.21 1180.43 1001.35 1183.90C1004.48 1187.38 1009.85 1190.85 1013.38 1194.33C1016.91 1197.80 1019.71 1201.28 1022.83 1204.75C1025.43 1207.65 1028.54 1210.54 1030.57 1213.44C1031.78 1215.17 1032.96 1216.91 1033.66 1218.65C1034.36 1220.39 1034.97 1222.12 1035.24 1223.86L1036.20 1223.86C1036.48 1222.12 1037.09 1220.39 1037.79 1218.65C1038.48 1216.91 1039.66 1215.17 1040.88 1213.44C1042.91 1210.54 1046.01 1207.65 1048.62 1204.75C1051.74 1201.28 1054.54 1197.80 1058.07 1194.33C1061.60 1190.85 1066.96 1187.38 1070.10 1183.90C1073.24 1180.43 1076.06 1176.95 1077.84 1173.48C1079.32 1170.58 1080.98 1167.69 1081.27 1164.79C1081.57 1161.90 1081.79 1159.00 1081.79 1156.10C1081.79 1150.31 1079.99 1144.52 1078.70 1138.73C1077.41 1132.94 1075.50 1127.15 1073.54 1121.36C1071.57 1115.57 1068.63 1109.78 1066.66 1103.99C1064.70 1098.19 1062.65 1092.40 1061.51 1086.61C1060.36 1080.82 1059.48 1075.03 1058.93 1069.24C1058.38 1063.45 1058.15 1057.66 1057.73 1051.87C1057.30 1046.07 1056.95 1040.28 1056.35 1034.49C1055.75 1028.70 1054.96 1022.91 1053.77 1017.12C1053.18 1014.22 1052.27 1011.33 1051.19 1008.43C1050.12 1005.54 1048.46 1002.64 1046.90 999.75C1045.33 996.85 1042.98 993.96 1041.74 991.06C1040.25 987.59 1038.95 984.11 1038.30 980.64Z" fill="#d7e6e6" stroke="#333333" stroke-width="1.8" stroke-linejoin="round"/>
<path d="M1149.51 983.24C1149.39 988.74 1149.13 994.24 1148.83 999.75C1148.51 1005.54 1148.05 1011.33 1147.45 1017.12C1146.85 1022.91 1145.56 1028.70 1144.87 1034.49C1144.19 1040.28 1143.73 1046.07 1143.15 1051.87C1142.58 1057.66 1142.20 1063.45 1141.44 1069.24C1140.67 1075.03 1139.53 1080.82 1138.00 1086.61C1136.47 1092.40 1133.67 1098.19 1131.12 1103.99C1128.58 1109.78 1125.53 1115.57 1122.53 1121.36C1119.53 1127.15 1115.65 1132.94 1113.07 1138.73C1110.50 1144.52 1107.70 1150.31 1106.54 1156.10C1105.73 1160.16 1104.82 1164.21 1104.82 1168.27C1104.82 1172.90 1106.70 1177.53 1108.78 1182.16C1110.08 1185.06 1114.67 1187.96 1116.51 1190.85C1118.35 1193.75 1119.54 1196.64 1120.81 1199.54C1122.08 1202.43 1123.26 1205.33 1124.25 1208.22C1125.23 1211.12 1125.84 1214.02 1126.83 1216.91C1127.81 1219.81 1128.98 1222.70 1130.26 1225.60C1131.29 1227.91 1132.74 1230.23 1133.70 1232.55C1134.42 1234.28 1135.06 1236.02 1135.59 1237.76L1166.19 1237.76C1166.72 1236.02 1167.36 1234.28 1168.08 1232.55C1169.04 1230.23 1170.49 1227.91 1171.52 1225.60C1172.80 1222.70 1173.97 1219.81 1174.95 1216.91C1175.94 1214.02 1176.55 1211.12 1177.53 1208.22C1178.52 1205.33 1179.70 1202.43 1180.97 1199.54C1182.24 1196.64 1183.43 1193.75 1185.27 1190.85C1187.11 1187.96 1191.70 1185.06 1193.00 1182.16C1195.08 1177.53 1196.96 1172.90 1196.96 1168.27C1196.96 1164.21 1196.05 1160.16 1195.24 1156.10C1194.08 1150.31 1191.28 1144.52 1188.71 1138.73C1186.13 1132.94 1182.25 1127.15 1179.25 1121.36C1176.25 1115.57 1173.20 1109.78 1170.66 1103.99C1168.11 1098.19 1165.31 1092.40 1163.78 1086.61C1162.25 1080.82 1161.11 1075.03 1160.34 1069.24C1159.58 1063.45 1159.20 1057.66 1158.63 1051.87C1158.05 1046.07 1157.59 1040.28 1156.91 1034.49C1156.22 1028.70 1154.93 1022.91 1154.33 1017.12C1153.73 1011.33 1153.27 1005.54 1152.95 999.75C1152.65 994.24 1152.39 988.74 1152.27 983.24Z" fill="#58ccb0" stroke="#333333" stroke-width="1.8" stroke-linejoin="round"/>
<path d="M1265.75 1007.22C1265.75 1016.31 1265.75 1025.40 1265.75 1034.49C1265.75 1037.39 1265.06 1040.28 1264.68 1043.18C1264.30 1046.07 1263.82 1048.97 1263.48 1051.87C1262.80 1057.66 1262.45 1063.45 1261.76 1069.24C1261.07 1075.03 1260.16 1080.82 1259.18 1086.61C1258.20 1092.40 1257.02 1098.19 1255.74 1103.99C1254.47 1109.78 1252.88 1115.57 1251.45 1121.36C1250.01 1127.15 1248.91 1132.94 1247.15 1138.73C1245.39 1144.52 1242.70 1150.31 1240.27 1156.10C1237.85 1161.90 1234.60 1167.69 1232.54 1173.48C1230.48 1179.27 1229.10 1185.06 1227.38 1190.85C1225.66 1196.64 1223.65 1202.43 1222.22 1208.22C1221.37 1211.70 1219.99 1215.17 1219.99 1218.65C1219.99 1220.96 1221.07 1223.28 1222.22 1225.60C1223.38 1227.91 1226.64 1230.23 1229.96 1232.55C1232.87 1234.57 1237.16 1236.60 1241.99 1238.63L1290.12 1238.63C1294.95 1236.60 1299.25 1234.57 1302.15 1232.55C1305.47 1230.23 1308.73 1227.91 1309.89 1225.60C1311.04 1223.28 1312.12 1220.96 1312.12 1218.65C1312.12 1215.17 1310.74 1211.70 1309.89 1208.22C1308.47 1202.43 1306.45 1196.64 1304.73 1190.85C1303.01 1185.06 1301.64 1179.27 1299.58 1173.48C1297.51 1167.69 1294.27 1161.90 1291.84 1156.10C1289.41 1150.31 1286.73 1144.52 1284.96 1138.73C1283.20 1132.94 1282.10 1127.15 1280.67 1121.36C1279.23 1115.57 1277.64 1109.78 1276.37 1103.99C1275.10 1098.19 1273.91 1092.40 1272.93 1086.61C1271.95 1080.82 1271.04 1075.03 1270.35 1069.24C1269.67 1063.45 1269.32 1057.66 1268.64 1051.87C1268.29 1048.97 1267.81 1046.07 1267.43 1043.18C1267.06 1040.28 1266.37 1037.39 1266.37 1034.49C1266.37 1025.40 1266.37 1016.31 1266.37 1007.22Z" fill="#d07f96" stroke="#333333" stroke-width="1.8" stroke-linejoin="round"/>
<rect x="1023.5" y="989" width="24.5" height="10" fill="url(#p0)"/>
<rect x="1023.5" y="999" width="24.5" height="12" fill="url(#p1)"/>
<rect x="1023.5" y="1011" width="24.5" height="52" fill="url(#p2)"/>
<rect x="1023.5" y="1063" width="24.5" height="38" fill="url(#p3)"/>
<rect x="1023.5" y="1101" width="24.5" height="20" fill="url(#p4)"/>
<rect x="1023.5" y="1121" width="24.5" height="59" fill="url(#p5)"/>
<rect x="1023.5" y="1180" width="24.5" height="6" fill="url(#p4)"/>
<rect x="1138.6" y="1093" width="24.5" height="32" fill="url(#p0)"/>
<rect x="1138.6" y="1125" width="24.5" height="41" fill="url(#p1)"/>
<rect x="1138.6" y="1166" width="24.5" height="4" fill="url(#p2)"/>
<rect x="1138.6" y="1170" width="24.5" height="28" fill="url(#p1)"/>
<rect x="1138.6" y="1198" width="24.5" height="40" fill="url(#p0)"/>
<rect x="1253.8" y="1071" width="24.5" height="31" fill="url(#p0)"/>
<rect x="1253.8" y="1102" width="24.5" height="22" fill="url(#p1)"/>
<rect x="1253.8" y="1124" width="24.5" height="21" fill="url(#p2)"/>
<rect x="1253.8" y="1145" width="24.5" height="15" fill="url(#p3)"/>
<rect x="1253.8" y="1160" width="24.5" height="18" fill="url(#p4)"/>
<rect x="1253.8" y="1178" width="24.5" height="29" fill="url(#p5)"/>
<rect x="1253.8" y="1207" width="24.5" height="19" fill="url(#p6)"/>
<rect x="1253.8" y="1226" width="24.5" height="7" fill="url(#p5)"/>
<rect x="1253.8" y="1233" width="24.5" height="4" fill="url(#p4)"/>
<rect x="1253.8" y="1237" width="24.5" height="2" fill="url(#p3)"/>
<path d="M1041 981.75h1.5M1040 983.75h1.5M1041 1187.75h1.5M1029 1191.75h1.5M1043 1197.75h1.5M1150 989.75h1.5M1139 1006.75h1.5M1152 1007.75h1.5M1144 1012.75h1.5M1151 1027.75h1.5M1158 1034.75h1.5M1144 1042.75h1.5M1141 1045.75h1.5M1142 1051.75h1.5M1144 1053.75h1.5M1160 1056.75h1.5M1157 1066.75h1.5M1159 1069.75h1.5M1161 1072.75h1.5M1160 1077.75h1.5M1158 1079.75h1.5M1142 1082.75h1.5M1139 1084.75h1.5M1156 1084.75h1.5M1141 1087.75h1.5M1141 1087.75h1.5M1148 1091.75h1.5M1144 1091.75h1.5M1154 1092.75h1.5M1274 1014.75h1.5M1261 1016.75h1.5M1258 1019.75h1.5M1264 1025.75h1.5M1254 1030.75h1.5M1263 1037.75h1.5M1263 1039.75h1.5M1254 1048.75h1.5M1263 1051.75h1.5M1258 1057.75h1.5M1260 1064.75h1.5M1253 1064.75h1.5M1268 1065.75h1.5M1259 1067.75h1.5M1260 1068.75h1.5" stroke="#000" stroke-width="1.5" fill="none"/>
<rect x="978.14" y="968.30" width="345.50" height="283.20" fill="none" stroke="#111" stroke-width="1.3"/>
<text x="967.24" y="1226.52" font-size="14.85" text-anchor="end">0.5</text>
<text x="967.24" y="1191.36" font-size="14.85" text-anchor="end">1.0</text>
<text x="967.24" y="1156.20" font-size="14.85" text-anchor="end">1.5</text>
<text x="967.24" y="1121.04" font-size="14.85" text-anchor="end">2.0</text>
<text x="967.24" y="1085.88" font-size="14.85" text-anchor="end">2.5</text>
<text x="967.24" y="1050.72" font-size="14.85" text-anchor="end">3.0</text>
<text x="967.24" y="1015.56" font-size="14.85" text-anchor="end">3.5</text>
<text x="967.24" y="980.40" font-size="14.85" text-anchor="end">4.0</text>
<text transform="translate(1041.02 1262.90) rotate(-90)" font-size="14.85" text-anchor="end">reaEGC</text>
<text transform="translate(1156.19 1262.90) rotate(-90)" font-size="14.85" text-anchor="end">rIPC2</text>
<text transform="translate(1271.36 1262.90) rotate(-90)" font-size="14.85" text-anchor="end">dpEX</text>
<path d="M978.14 1221.02h-5M978.14 1185.86h-5M978.14 1150.70h-5M978.14 1115.54h-5M978.14 1080.38h-5M978.14 1045.22h-5M978.14 1010.06h-5M978.14 974.90h-5M1035.72 1251.50v5M1150.89 1251.50v5M1266.06 1251.50v5" stroke="#111" stroke-width="1.3" fill="none"/>
<text transform="translate(934.44 1109.90) rotate(-90)" font-size="14.85" text-anchor="middle">Growth rate</text>
<text x="1150.89" y="1334.50" font-size="14.85" text-anchor="middle">Annotation</text>
<text x="1150.89" y="959.30" font-size="17.75" text-anchor="middle">Δ<tspan font-style="italic">t</tspan> = 1.0</text>
<path d="M1455.44 981.05C1455.10 986.96 1454.55 992.87 1453.91 998.78C1453.31 1004.41 1452.24 1010.05 1451.54 1015.68C1450.85 1021.31 1450.27 1026.94 1449.68 1032.57C1449.09 1038.20 1448.52 1043.83 1447.99 1049.46C1447.45 1055.09 1446.87 1060.72 1446.46 1066.35C1446.06 1071.98 1445.85 1077.61 1445.45 1083.24C1445.04 1088.87 1444.43 1094.50 1443.92 1100.14C1443.41 1105.77 1442.93 1111.40 1442.40 1117.03C1441.86 1122.66 1441.46 1128.29 1440.70 1133.92C1439.95 1139.55 1438.82 1145.18 1437.32 1150.81C1435.81 1156.44 1433.20 1162.07 1430.54 1167.70C1427.89 1173.33 1424.01 1178.96 1420.89 1184.59C1418.39 1189.10 1415.45 1193.60 1413.61 1198.11C1412.45 1200.92 1410.73 1203.74 1410.73 1206.55C1410.73 1209.37 1412.83 1212.18 1414.96 1215.00C1417.09 1217.82 1424.19 1220.63 1428.00 1223.45C1431.81 1226.26 1434.71 1229.08 1438.16 1231.89C1439.89 1233.30 1441.64 1234.71 1443.41 1236.11L1470.17 1236.11C1471.94 1234.71 1473.70 1233.30 1475.42 1231.89C1478.87 1229.08 1481.78 1226.26 1485.59 1223.45C1489.39 1220.63 1496.50 1217.82 1498.63 1215.00C1500.76 1212.18 1502.86 1209.37 1502.86 1206.55C1502.86 1203.74 1501.14 1200.92 1499.98 1198.11C1498.13 1193.60 1495.19 1189.10 1492.70 1184.59C1489.58 1178.96 1485.70 1173.33 1483.04 1167.70C1480.39 1162.07 1477.78 1156.44 1476.27 1150.81C1474.76 1145.18 1473.64 1139.55 1472.88 1133.92C1472.13 1128.29 1471.72 1122.66 1471.19 1117.03C1470.65 1111.40 1470.17 1105.77 1469.66 1100.14C1469.16 1094.50 1468.55 1088.87 1468.14 1083.24C1467.73 1077.61 1467.53 1071.98 1467.12 1066.35C1466.72 1060.72 1466.14 1055.09 1465.60 1049.46C1465.07 1043.83 1464.50 1038.20 1463.91 1032.57C1463.32 1026.94 1462.74 1021.31 1462.04 1015.68C1461.35 1010.05 1460.27 1004.41 1459.67 998.78C1459.04 992.87 1458.49 986.96 1458.15 981.05Z" fill="#d7e6e6" stroke="#333333" stroke-width="1.8" stroke-linejoin="round"/>
<path d="M1570.61 986.11C1570.61 1006.10 1570.61 1026.09 1570.61 1046.08C1570.61 1050.02 1570.21 1053.96 1570.10 1057.91C1569.86 1066.35 1569.76 1074.80 1569.59 1083.24C1569.48 1088.87 1569.36 1094.50 1569.25 1100.14C1569.14 1105.77 1569.09 1111.40 1568.91 1117.03C1568.73 1122.66 1568.21 1128.29 1567.56 1133.92C1567.23 1136.73 1566.67 1139.55 1566.03 1142.36C1565.40 1145.18 1564.46 1148.00 1563.49 1150.81C1562.52 1153.63 1561.49 1156.44 1560.10 1159.26C1558.71 1162.07 1556.69 1164.89 1554.68 1167.70C1552.68 1170.52 1550.02 1173.33 1547.91 1176.15C1545.80 1178.96 1544.09 1181.78 1541.98 1184.59C1539.88 1187.41 1537.14 1190.23 1535.21 1193.04C1533.27 1195.86 1531.67 1198.67 1530.13 1201.49C1528.59 1204.30 1525.89 1207.12 1525.89 1209.93C1525.89 1212.75 1526.16 1215.56 1526.57 1218.38C1526.98 1221.19 1530.56 1224.01 1533.01 1226.82C1534.97 1229.08 1538.68 1231.33 1539.78 1233.58C1540.61 1235.27 1541.39 1236.96 1541.47 1238.65L1602.45 1238.65C1602.53 1236.96 1603.31 1235.27 1604.14 1233.58C1605.24 1231.33 1608.95 1229.08 1610.91 1226.82C1613.36 1224.01 1616.94 1221.19 1617.35 1218.38C1617.76 1215.56 1618.03 1212.75 1618.03 1209.93C1618.03 1207.12 1615.33 1204.30 1613.79 1201.49C1612.25 1198.67 1610.65 1195.86 1608.71 1193.04C1606.78 1190.23 1604.04 1187.41 1601.94 1184.59C1599.83 1181.78 1598.12 1178.96 1596.01 1176.15C1593.90 1173.33 1591.24 1170.52 1589.24 1167.70C1587.23 1164.89 1585.21 1162.07 1583.82 1159.26C1582.43 1156.44 1581.40 1153.63 1580.43 1150.81C1579.46 1148.00 1578.52 1145.18 1577.89 1142.36C1577.25 1139.55 1576.69 1136.73 1576.36 1133.92C1575.71 1128.29 1575.19 1122.66 1575.01 1117.03C1574.83 1111.40 1574.78 1105.77 1574.67 1100.14C1574.56 1094.50 1574.44 1088.87 1574.33 1083.24C1574.16 1074.80 1574.06 1066.35 1573.82 1057.91C1573.71 1053.96 1573.31 1050.02 1573.31 1046.08C1573.31 1026.09 1573.31 1006.10 1573.31 986.11Z" fill="#58ccb0" stroke="#333333" stroke-width="1.8" stroke-linejoin="round"/>
<path d="M1686.82 1028.34C1686.82 1050.02 1686.81 1071.70 1686.65 1093.38C1686.64 1095.63 1685.55 1097.88 1685.42 1100.14C1685.09 1105.77 1685.08 1111.40 1684.91 1117.03C1684.74 1122.66 1684.61 1128.29 1684.40 1133.92C1684.18 1139.55 1683.88 1145.18 1683.54 1150.81C1683.21 1156.44 1682.88 1162.07 1682.35 1167.70C1681.82 1173.33 1681.08 1178.96 1679.96 1184.59C1678.84 1190.23 1677.12 1195.86 1674.33 1201.49C1672.94 1204.30 1670.24 1207.12 1667.51 1209.93C1664.78 1212.75 1661.08 1215.56 1657.27 1218.38C1654.22 1220.63 1649.55 1222.88 1647.03 1225.14C1644.52 1227.39 1641.06 1229.64 1641.06 1231.89C1641.06 1233.58 1641.81 1235.27 1643.11 1236.96C1643.63 1237.64 1645.92 1238.31 1647.88 1238.99L1726.37 1238.99C1728.34 1238.31 1730.63 1237.64 1731.15 1236.96C1732.44 1235.27 1733.19 1233.58 1733.19 1231.89C1733.19 1229.64 1729.74 1227.39 1727.22 1225.14C1724.71 1222.88 1720.03 1220.63 1716.98 1218.38C1713.18 1215.56 1709.48 1212.75 1706.75 1209.93C1704.02 1207.12 1701.32 1204.30 1699.92 1201.49C1697.14 1195.86 1695.41 1190.23 1694.29 1184.59C1693.17 1178.96 1692.43 1173.33 1691.90 1167.70C1691.37 1162.07 1691.04 1156.44 1690.71 1150.81C1690.38 1145.18 1690.07 1139.55 1689.86 1133.92C1689.64 1128.29 1689.52 1122.66 1689.34 1117.03C1689.17 1111.40 1689.16 1105.77 1688.83 1100.14C1688.70 1097.88 1687.62 1095.63 1687.60 1093.38C1687.45 1071.70 1687.43 1050.02 1687.43 1028.34Z" fill="#d07f96" stroke="#333333" stroke-width="1.8" stroke-linejoin="round"/>
<rect x="1444.5" y="1016" width="24.5" height="45" fill="url(#p0)"/>
<rect x="1444.5" y="1061" width="24.5" height="51" fill="url(#p1)"/>
<rect x="1444.5" y="1112" width="24.5" height="33" fill="url(#p2)"/>
<rect x="1444.5" y="1145" width="24.5" height="15" fill="url(#p3)"/>
<rect x="1444.5" y="1160" width="24.5" height="10" fill="url(#p4)"/>
<rect x="1444.5" y="1170" width="24.5" height="9" fill="url(#p5)"/>
<rect x="1444.5" y="1179" width="24.5" height="10" fill="url(#p6)"/>
<rect x="1444.5" y="1189" width="24.5" height="29" fill="url(#p7)"/>
<rect x="1444.5" y="1218" width="24.5" height="3" fill="url(#p6)"/>
<rect x="1444.5" y="1221" width="24.5" height="1" fill="url(#p5)"/>
<rect x="1559.7" y="1160" width="24.5" height="14" fill="url(#p0)"/>
<rect x="1559.7" y="1174" width="24.5" height="12" fill="url(#p1)"/>
<rect x="1559.7" y="1186" width="24.5" height="12" fill="url(#p2)"/>
<rect x="1559.7" y="1198" width="24.5" height="28" fill="url(#p3)"/>
<rect x="1559.7" y="1226" width="24.5" height="11" fill="url(#p2)"/>
<rect x="1559.7" y="1237" width="24.5" height="2" fill="url(#p1)"/>
<rect x="1674.9" y="1142" width="24.5" height="37" fill="url(#p0)"/>
<rect x="1674.9" y="1179" width="24.5" height="12" fill="url(#p1)"/>
<rect x="1674.9" y="1191" width="24.5" height="8" fill="url(#p2)"/>
<rect x="1674.9" y="1199" width="24.5" height="5" fill="url(#p3)"/>
<rect x="1674.9" y="1204" width="24.5" height="3" fill="url(#p4)"/>
<rect x="1674.9" y="1207" width="24.5" height="4" fill="url(#p5)"/>
<rect x="1674.9" y="1211" width="24.5" height="3" fill="url(#p6)"/>
<rect x="1674.9" y="1214" width="24.5" height="4" fill="url(#p7)"/>
<rect x="1674.9" y="1218" width="24.5" height="5" fill="url(#p8)"/>
<rect x="1674.9" y="1223" width="24.5" height="16" fill="url(#p9)"/>
<path d="M1445 983.75h1.5M1465 990.75h1.5M1445 1001.75h1.5M1461 1005.75h1.5M1467 1008.75h1.5M1464 1009.75h1.5M1454 1011.75h1.5M1448 1222.75h1.5M1445 1222.75h1.5M1581 1065.75h1.5M1582 1069.75h1.5M1566 1104.75h1.5M1570 1107.75h1.5M1579 1126.75h1.5M1573 1131.75h1.5M1569 1141.75h1.5M1567 1157.75h1.5M1675 1028.75h1.5M1677 1032.75h1.5M1690 1036.75h1.5M1692 1040.75h1.5M1685 1051.75h1.5M1675 1053.75h1.5M1678 1072.75h1.5M1682 1096.75h1.5M1692 1101.75h1.5M1680 1103.75h1.5M1687 1107.75h1.5M1684 1109.75h1.5M1689 1110.75h1.5M1683 1119.75h1.5M1685 1118.75h1.5M1676 1118.75h1.5M1679 1123.75h1.5M1677 1125.75h1.5M1693 1128.75h1.5M1693 1133.75h1.5M1686 1134.75h1.5M1689 1134.75h1.5M1693 1136.75h1.5M1684 1139.75h1.5M1689 1138.75h1.5M1687 1138.75h1.5M1682 1140.75h1.5M1675 1142.75h1.5M1678 1141.75h1.5" stroke="#000" stroke-width="1.5" fill="none"/>
<rect x="1399.21" y="968.30" width="345.50" height="283.20" fill="none" stroke="#111" stroke-width="1.3"/>
<text x="1388.31" y="1245.30" font-size="14.85" text-anchor="end">0</text>
<text x="1388.31" y="1211.38" font-size="14.85" text-anchor="end">2</text>
<text x="1388.31" y="1177.46" font-size="14.85" text-anchor="end">4</text>
<text x="1388.31" y="1143.54" font-size="14.85" text-anchor="end">6</text>
<text x="1388.31" y="1109.62" font-size="14.85" text-anchor="end">8</text>
<text x="1388.31" y="1075.70" font-size="14.85" text-anchor="end">10</text>
<text x="1388.31" y="1041.78" font-size="14.85" text-anchor="end">12</text>
<text x="1388.31" y="1007.86" font-size="14.85" text-anchor="end">14</text>
<text x="1388.31" y="973.94" font-size="14.85" text-anchor="end">16</text>
<text transform="translate(1462.09 1262.90) rotate(-90)" font-size="14.85" text-anchor="end">reaEGC</text>
<text transform="translate(1577.26 1262.90) rotate(-90)" font-size="14.85" text-anchor="end">rIPC2</text>
<text transform="translate(1692.43 1262.90) rotate(-90)" font-size="14.85" text-anchor="end">dpEX</text>
<path d="M1399.21 1239.80h-5M1399.21 1205.88h-5M1399.21 1171.96h-5M1399.21 1138.04h-5M1399.21 1104.12h-5M1399.21 1070.20h-5M1399.21 1036.28h-5M1399.21 1002.36h-5M1399.21 968.44h-5M1456.79 1251.50v5M1571.96 1251.50v5M1687.13 1251.50v5" stroke="#111" stroke-width="1.3" fill="none"/>
<text transform="translate(1360.21 1109.90) rotate(-90)" font-size="14.85" text-anchor="middle">Growth rate</text>
<text x="1571.96" y="1334.50" font-size="14.85" text-anchor="middle">Annotation</text>
<text x="1571.96" y="959.30" font-size="17.75" text-anchor="middle">Δ<tspan font-style="italic">t</tspan> = 2.0</text>
<path d="M1877.71 980.70C1877.71 1009.63 1877.63 1038.57 1877.41 1067.50C1877.32 1078.33 1876.04 1089.17 1875.49 1100.00C1874.65 1116.80 1874.34 1133.60 1873.33 1150.40C1872.65 1161.60 1871.52 1172.80 1870.20 1184.00C1869.54 1189.60 1868.85 1195.20 1867.68 1200.80C1867.10 1203.60 1866.53 1206.40 1865.16 1209.20C1863.80 1212.00 1858.23 1214.80 1854.17 1217.60C1850.12 1220.40 1844.12 1223.20 1840.57 1226.00C1837.01 1228.80 1831.80 1231.60 1831.80 1234.40C1831.80 1235.63 1831.80 1236.87 1832.10 1238.10L1923.63 1238.10C1923.93 1236.87 1923.93 1235.63 1923.93 1234.40C1923.93 1231.60 1918.72 1228.80 1915.16 1226.00C1911.60 1223.20 1905.60 1220.40 1901.55 1217.60C1897.50 1214.80 1891.93 1212.00 1890.56 1209.20C1889.20 1206.40 1888.63 1203.60 1888.04 1200.80C1886.88 1195.20 1886.18 1189.60 1885.52 1184.00C1884.20 1172.80 1883.07 1161.60 1882.40 1150.40C1881.39 1133.60 1881.08 1116.80 1880.23 1100.00C1879.69 1089.17 1878.40 1078.33 1878.32 1067.50C1878.10 1038.57 1878.02 1009.63 1878.02 980.70Z" fill="#d7e6e6" stroke="#333333" stroke-width="1.8" stroke-linejoin="round"/>
<path d="M1992.88 993.70C1992.40 1029.13 1992.00 1064.57 1991.73 1100.00C1991.52 1128.00 1991.63 1156.00 1991.23 1184.00C1991.15 1189.60 1990.31 1195.20 1989.22 1200.80C1988.68 1203.60 1987.67 1206.40 1985.92 1209.20C1984.17 1212.00 1977.54 1214.80 1973.00 1217.60C1968.46 1220.40 1962.66 1223.20 1958.58 1226.00C1954.50 1228.80 1949.12 1231.60 1947.96 1234.40C1947.46 1235.63 1946.96 1236.87 1946.96 1238.10L2039.10 1238.10C2039.10 1236.87 2038.60 1235.63 2038.10 1234.40C2036.94 1231.60 2031.56 1228.80 2027.48 1226.00C2023.40 1223.20 2017.60 1220.40 2013.06 1217.60C2008.52 1214.80 2001.89 1212.00 2000.14 1209.20C1998.39 1206.40 1997.38 1203.60 1996.84 1200.80C1995.75 1195.20 1994.91 1189.60 1994.83 1184.00C1994.43 1156.00 1994.54 1128.00 1994.33 1100.00C1994.06 1064.57 1993.66 1029.13 1993.18 993.70Z" fill="#58ccb0" stroke="#333333" stroke-width="1.8" stroke-linejoin="round"/>
<path d="M2108.05 1082.90C2107.94 1088.60 2107.83 1094.30 2107.75 1100.00C2107.24 1133.60 2107.35 1167.20 2106.49 1200.80C2106.35 1206.40 2106.01 1212.00 2105.29 1217.60C2104.93 1220.40 2104.18 1223.20 2102.29 1226.00C2101.54 1227.10 2098.64 1228.20 2095.58 1229.30C2092.42 1230.43 2085.57 1231.57 2080.46 1232.70C2075.49 1233.80 2067.76 1234.90 2065.33 1236.00C2063.79 1236.70 2062.37 1237.40 2062.13 1238.10L2154.26 1238.10C2154.03 1237.40 2152.60 1236.70 2151.06 1236.00C2148.63 1234.90 2140.90 1233.80 2135.94 1232.70C2130.82 1231.57 2123.97 1230.43 2120.81 1229.30C2117.75 1228.20 2114.85 1227.10 2114.11 1226.00C2112.21 1223.20 2111.46 1220.40 2111.10 1217.60C2110.38 1212.00 2110.04 1206.40 2109.90 1200.80C2109.05 1167.20 2109.16 1133.60 2108.65 1100.00C2108.56 1094.30 2108.45 1088.60 2108.35 1082.90Z" fill="#d07f96" stroke="#333333" stroke-width="1.8" stroke-linejoin="round"/>
<rect x="1865.6" y="1035" width="24.5" height="60" fill="url(#p0)"/>
<rect x="1865.6" y="1095" width="24.5" height="43" fill="url(#p0)"/>
<rect x="1865.6" y="1138" width="24.5" height="35" fill="url(#p1)"/>
<rect x="1865.6" y="1173" width="24.5" height="19" fill="url(#p2)"/>
<rect x="1865.6" y="1192" width="24.5" height="11" fill="url(#p3)"/>
<rect x="1865.6" y="1203" width="24.5" height="8" fill="url(#p4)"/>
<rect x="1865.6" y="1211" width="24.5" height="6" fill="url(#p5)"/>
<rect x="1865.6" y="1217" width="24.5" height="5" fill="url(#p6)"/>
<rect x="1865.6" y="1222" width="24.5" height="4" fill="url(#p7)"/>
<rect x="1865.6" y="1226" width="24.5" height="4" fill="url(#p8)"/>
<rect x="1865.6" y="1230" width="24.5" height="9" fill="url(#p9)"/>
<rect x="1980.8" y="1221" width="24.5" height="6" fill="url(#p0)"/>
<rect x="1980.8" y="1227" width="24.5" height="3" fill="url(#p1)"/>
<rect x="1980.8" y="1230" width="24.5" height="2" fill="url(#p2)"/>
<rect x="1980.8" y="1232" width="24.5" height="1" fill="url(#p3)"/>
<rect x="1980.8" y="1233" width="24.5" height="1" fill="url(#p4)"/>
<rect x="1980.8" y="1234" width="24.5" height="1" fill="url(#p5)"/>
<rect x="1980.8" y="1235" width="24.5" height="1" fill="url(#p7)"/>
<rect x="1980.8" y="1236" width="24.5" height="1" fill="url(#p8)"/>
<rect x="1980.8" y="1237" width="24.5" height="2" fill="url(#p9)"/>
<rect x="2095.9" y="1203" width="24.5" height="13" fill="url(#p0)"/>
<rect x="2095.9" y="1216" width="24.5" height="5" fill="url(#p1)"/>
<rect x="2095.9" y="1221" width="24.5" height="3" fill="url(#p2)"/>
<rect x="2095.9" y="1224" width="24.5" height="3" fill="url(#p3)"/>
<rect x="2095.9" y="1227" width="24.5" height="2" fill="url(#p4)"/>
<rect x="2095.9" y="1229" width="24.5" height="1" fill="url(#p5)"/>
<rect x="2095.9" y="1230" width="24.5" height="1" fill="url(#p6)"/>
<rect x="2095.9" y="1231" width="24.5" height="1" fill="url(#p7)"/>
<rect x="2095.9" y="1232" width="24.5" height="2" fill="url(#p8)"/>
<rect x="2095.9" y="1234" width="24.5" height="5" fill="url(#p9)"/>
<path d="M1884 984.75h1.5M1887 985.75h1.5M1868 985.75h1.5M1881 988.75h1.5M1879 989.75h1.5M1870 989.75h1.5M1872 993.75h1.5M1871 996.75h1.5M1875 996.75h1.5M1881 995.75h1.5M1875 997.75h1.5M1869 1001.75h1.5M1884 1001.75h1.5M1884 1005.75h1.5M1884 1007.75h1.5M1866 1007.75h1.5M1881 1013.75h1.5M1865 1013.75h1.5M1870 1015.75h1.5M1877 1016.75h1.5M1875 1016.75h1.5M1869 1020.75h1.5M1870 1021.75h1.5M1873 1024.75h1.5M1884 1025.75h1.5M1882 1025.75h1.5M1869 1029.75h1.5M1880 1031.75h1.5M1880 1031.75h1.5M1868 1030.75h1.5M1873 1034.75h1.5M1989 1201.75h1.5M1980 1206.75h1.5M2002 1212.75h1.5M1996 1214.75h1.5M1986 1219.75h1.5M2115 1175.75h1.5M2117 1181.75h1.5M2099 1184.75h1.5M2103 1191.75h1.5M2104 1192.75h1.5M2104 1194.75h1.5M2107 1198.75h1.5M2097 1200.75h1.5M2112 1200.75h1.5M2101 1201.75h1.5" stroke="#000" stroke-width="1.5" fill="none"/>
<rect x="1820.28" y="968.30" width="345.50" height="283.20" fill="none" stroke="#111" stroke-width="1.3"/>
<text x="1809.38" y="1243.80" font-size="14.85" text-anchor="end">0</text>
<text x="1809.38" y="1187.29" font-size="14.85" text-anchor="end">200</text>
<text x="1809.38" y="1130.78" font-size="14.85" text-anchor="end">400</text>
<text x="1809.38" y="1074.27" font-size="14.85" text-anchor="end">600</text>
<text x="1809.38" y="1017.76" font-size="14.85" text-anchor="end">800</text>
<text transform="translate(1883.16 1262.90) rotate(-90)" font-size="14.85" text-anchor="end">reaEGC</text>
<text transform="translate(1998.33 1262.90) rotate(-90)" font-size="14.85" text-anchor="end">rIPC2</text>
<text transform="translate(2113.50 1262.90) rotate(-90)" font-size="14.85" text-anchor="end">dpEX</text>
<path d="M1820.28 1238.30h-5M1820.28 1181.79h-5M1820.28 1125.28h-5M1820.28 1068.77h-5M1820.28 1012.26h-5M1877.86 1251.50v5M1993.03 1251.50v5M2108.20 1251.50v5" stroke="#111" stroke-width="1.3" fill="none"/>
<text transform="translate(1771.88 1109.90) rotate(-90)" font-size="14.85" text-anchor="middle">Growth rate</text>
<text x="1993.03" y="1334.50" font-size="14.85" text-anchor="middle">Annotation</text>
<text x="1993.03" y="959.30" font-size="17.75" text-anchor="middle">Δ<tspan font-style="italic">t</tspan> = 5.0</text>
<path d="M202.42 1497.03C202.42 1526.10 202.42 1555.17 202.42 1584.24C202.42 1587.13 201.20 1590.03 200.83 1592.93C200.45 1595.82 200.28 1598.72 199.96 1601.61C199.31 1607.40 198.71 1613.19 197.70 1618.99C197.19 1621.88 196.48 1624.78 195.61 1627.67C194.74 1630.57 193.53 1633.46 192.14 1636.36C190.75 1639.25 189.24 1642.15 186.92 1645.05C184.60 1647.94 180.24 1650.84 176.49 1653.73C172.75 1656.63 167.88 1659.52 164.32 1662.42C161.48 1664.73 156.67 1667.05 156.67 1669.37C156.67 1671.10 157.37 1672.84 158.24 1674.58C159.11 1676.32 163.54 1678.05 166.06 1679.79C170.27 1682.69 174.49 1685.58 178.23 1688.48C181.97 1691.37 185.88 1694.27 188.66 1697.16C191.44 1700.06 194.35 1702.96 195.61 1705.85C196.88 1708.75 197.67 1711.64 198.22 1714.54C198.77 1717.43 199.13 1720.33 199.44 1723.22C200.05 1729.02 200.39 1734.81 200.83 1740.60C201.27 1746.39 201.83 1752.18 202.07 1757.97C202.23 1761.74 202.36 1765.50 202.42 1769.26L202.72 1769.26C202.77 1765.50 202.90 1761.74 203.06 1757.97C203.30 1752.18 203.87 1746.39 204.31 1740.60C204.74 1734.81 205.09 1729.02 205.70 1723.22C206.00 1720.33 206.36 1717.43 206.91 1714.54C207.47 1711.64 208.26 1708.75 209.52 1705.85C210.78 1702.96 213.69 1700.06 216.47 1697.16C219.26 1694.27 223.16 1691.37 226.90 1688.48C230.65 1685.58 234.86 1682.69 239.07 1679.79C241.60 1678.05 246.03 1676.32 246.90 1674.58C247.76 1672.84 248.46 1671.10 248.46 1669.37C248.46 1667.05 243.65 1664.73 240.81 1662.42C237.26 1659.52 232.39 1656.63 228.64 1653.73C224.90 1650.84 220.53 1647.94 218.21 1645.05C215.89 1642.15 214.39 1639.25 213.00 1636.36C211.61 1633.46 210.39 1630.57 209.52 1627.67C208.65 1624.78 207.94 1621.88 207.43 1618.99C206.42 1613.19 205.82 1607.40 205.17 1601.61C204.85 1598.72 204.68 1595.82 204.31 1592.93C203.93 1590.03 202.72 1587.13 202.72 1584.24C202.72 1555.17 202.72 1526.10 202.72 1497.03Z" fill="#56bce0" stroke="#111111" stroke-width="1.8" stroke-linejoin="round"/>
<path d="M317.15 1556.44C317.15 1574.39 317.15 1592.35 317.15 1610.30C317.15 1614.35 316.25 1618.41 315.56 1622.46C314.77 1627.09 313.54 1631.73 312.08 1636.36C311.18 1639.25 310.26 1642.15 308.61 1645.05C306.95 1647.94 303.30 1650.84 299.92 1653.73C296.54 1656.63 291.80 1659.52 287.75 1662.42C283.69 1665.31 278.81 1668.21 275.58 1671.10C273.96 1672.55 271.41 1674.00 271.41 1675.45C271.41 1676.90 272.78 1678.34 273.84 1679.79C275.97 1682.69 280.53 1685.58 284.27 1688.48C288.01 1691.37 292.70 1694.27 296.44 1697.16C300.18 1700.06 304.82 1702.96 306.87 1705.85C308.91 1708.75 310.13 1711.64 311.22 1714.54C312.30 1717.43 313.13 1720.33 313.82 1723.22C314.52 1726.12 315.04 1729.02 315.56 1731.91C316.08 1734.81 316.93 1737.70 316.98 1740.60C317.10 1746.97 317.15 1753.34 317.15 1759.71L317.45 1759.71C317.45 1753.34 317.50 1746.97 317.62 1740.60C317.67 1737.70 318.52 1734.81 319.04 1731.91C319.56 1729.02 320.08 1726.12 320.78 1723.22C321.47 1720.33 322.30 1717.43 323.38 1714.54C324.47 1711.64 325.69 1708.75 327.73 1705.85C329.78 1702.96 334.42 1700.06 338.16 1697.16C341.90 1694.27 346.59 1691.37 350.33 1688.48C354.07 1685.58 358.63 1682.69 360.76 1679.79C361.82 1678.34 363.19 1676.90 363.19 1675.45C363.19 1674.00 360.64 1672.55 359.02 1671.10C355.79 1668.21 350.91 1665.31 346.85 1662.42C342.80 1659.52 338.06 1656.63 334.68 1653.73C331.30 1650.84 327.65 1647.94 325.99 1645.05C324.34 1642.15 323.42 1639.25 322.52 1636.36C321.06 1631.73 319.83 1627.09 319.04 1622.46C318.35 1618.41 317.45 1614.35 317.45 1610.30C317.45 1592.35 317.45 1574.39 317.45 1556.44Z" fill="#ee4ff5" stroke="#111111" stroke-width="1.8" stroke-linejoin="round"/>
<path d="M431.88 1570.34C431.88 1583.66 431.88 1596.98 431.88 1610.30C431.88 1613.19 431.16 1616.09 430.64 1618.99C430.12 1621.88 429.33 1624.78 428.56 1627.67C427.78 1630.57 427.04 1633.46 425.95 1636.36C424.86 1639.25 423.53 1642.15 421.60 1645.05C419.67 1647.94 416.19 1650.84 412.91 1653.73C409.64 1656.63 405.66 1659.52 401.61 1662.42C398.37 1664.73 393.88 1667.05 391.18 1669.37C389.16 1671.10 386.14 1672.84 386.14 1674.58C386.14 1676.32 388.00 1678.05 389.44 1679.79C391.84 1682.69 397.13 1685.58 400.74 1688.48C404.36 1691.37 408.19 1694.27 411.17 1697.16C414.15 1700.06 416.71 1702.96 419.00 1705.85C421.28 1708.75 423.60 1711.64 425.08 1714.54C426.55 1717.43 427.78 1720.33 428.56 1723.22C429.33 1726.12 429.81 1729.02 430.29 1731.91C430.78 1734.81 431.43 1737.70 431.54 1740.60C431.76 1746.68 431.88 1752.76 431.88 1758.84L432.18 1758.84C432.18 1752.76 432.30 1746.68 432.53 1740.60C432.63 1737.70 433.29 1734.81 433.77 1731.91C434.26 1729.02 434.74 1726.12 435.51 1723.22C436.28 1720.33 437.51 1717.43 438.99 1714.54C440.46 1711.64 442.79 1708.75 445.07 1705.85C447.35 1702.96 449.91 1700.06 452.89 1697.16C455.87 1694.27 459.71 1691.37 463.32 1688.48C466.94 1685.58 472.22 1682.69 474.62 1679.79C476.06 1678.05 477.93 1676.32 477.93 1674.58C477.93 1672.84 474.91 1671.10 472.89 1669.37C470.19 1667.05 465.69 1664.73 462.46 1662.42C458.41 1659.52 454.43 1656.63 451.16 1653.73C447.88 1650.84 444.40 1647.94 442.46 1645.05C440.53 1642.15 439.20 1639.25 438.12 1636.36C437.03 1633.46 436.28 1630.57 435.51 1627.67C434.74 1624.78 433.94 1621.88 433.42 1618.99C432.91 1616.09 432.18 1613.19 432.18 1610.30C432.18 1596.98 432.18 1583.66 432.18 1570.34Z" fill="#2e843e" stroke="#111111" stroke-width="1.8" stroke-linejoin="round"/>
<rect x="190.3" y="1599" width="24.4" height="15" fill="url(#p0)"/>
<rect x="190.3" y="1614" width="24.4" height="8" fill="url(#p1)"/>
<rect x="190.3" y="1622" width="24.4" height="5" fill="url(#p2)"/>
<rect x="190.3" y="1627" width="24.4" height="5" fill="url(#p3)"/>
<rect x="190.3" y="1632" width="24.4" height="3" fill="url(#p4)"/>
<rect x="190.3" y="1635" width="24.4" height="3" fill="url(#p5)"/>
<rect x="190.3" y="1638" width="24.4" height="4" fill="url(#p6)"/>
<rect x="190.3" y="1642" width="24.4" height="3" fill="url(#p7)"/>
<rect x="190.3" y="1645" width="24.4" height="3" fill="url(#p8)"/>
<rect x="190.3" y="1648" width="24.4" height="45" fill="url(#p9)"/>
<rect x="190.3" y="1693" width="24.4" height="2" fill="url(#p8)"/>
<rect x="190.3" y="1695" width="24.4" height="3" fill="url(#p7)"/>
<rect x="190.3" y="1698" width="24.4" height="2" fill="url(#p6)"/>
<rect x="190.3" y="1700" width="24.4" height="2" fill="url(#p5)"/>
<rect x="190.3" y="1702" width="24.4" height="1" fill="url(#p4)"/>
<rect x="190.3" y="1703" width="24.4" height="3" fill="url(#p3)"/>
<rect x="190.3" y="1706" width="24.4" height="4" fill="url(#p2)"/>
<rect x="190.3" y="1710" width="24.4" height="6" fill="url(#p1)"/>
<rect x="190.3" y="1716" width="24.4" height="16" fill="url(#p0)"/>
<rect x="305.1" y="1630" width="24.4" height="8" fill="url(#p0)"/>
<rect x="305.1" y="1638" width="24.4" height="5" fill="url(#p1)"/>
<rect x="305.1" y="1643" width="24.4" height="3" fill="url(#p2)"/>
<rect x="305.1" y="1646" width="24.4" height="3" fill="url(#p3)"/>
<rect x="305.1" y="1649" width="24.4" height="1" fill="url(#p4)"/>
<rect x="305.1" y="1650" width="24.4" height="2" fill="url(#p5)"/>
<rect x="305.1" y="1652" width="24.4" height="3" fill="url(#p6)"/>
<rect x="305.1" y="1655" width="24.4" height="2" fill="url(#p7)"/>
<rect x="305.1" y="1657" width="24.4" height="3" fill="url(#p8)"/>
<rect x="305.1" y="1660" width="24.4" height="32" fill="url(#p9)"/>
<rect x="305.1" y="1692" width="24.4" height="3" fill="url(#p8)"/>
<rect x="305.1" y="1695" width="24.4" height="3" fill="url(#p7)"/>
<rect x="305.1" y="1698" width="24.4" height="2" fill="url(#p6)"/>
<rect x="305.1" y="1700" width="24.4" height="2" fill="url(#p5)"/>
<rect x="305.1" y="1702" width="24.4" height="2" fill="url(#p4)"/>
<rect x="305.1" y="1704" width="24.4" height="2" fill="url(#p3)"/>
<rect x="305.1" y="1706" width="24.4" height="4" fill="url(#p2)"/>
<rect x="305.1" y="1710" width="24.4" height="5" fill="url(#p1)"/>
<rect x="305.1" y="1715" width="24.4" height="8" fill="url(#p0)"/>
<rect x="419.8" y="1628" width="24.4" height="8" fill="url(#p0)"/>
<rect x="419.8" y="1636" width="24.4" height="4" fill="url(#p1)"/>
<rect x="419.8" y="1640" width="24.4" height="4" fill="url(#p2)"/>
<rect x="419.8" y="1644" width="24.4" height="3" fill="url(#p3)"/>
<rect x="419.8" y="1647" width="24.4" height="2" fill="url(#p4)"/>
<rect x="419.8" y="1649" width="24.4" height="2" fill="url(#p5)"/>
<rect x="419.8" y="1651" width="24.4" height="3" fill="url(#p6)"/>
<rect x="419.8" y="1654" width="24.4" height="3" fill="url(#p7)"/>
<rect x="419.8" y="1657" width="24.4" height="3" fill="url(#p8)"/>
<rect x="419.8" y="1660" width="24.4" height="31" fill="url(#p9)"/>
<rect x="419.8" y="1691" width="24.4" height="4" fill="url(#p8)"/>
<rect x="419.8" y="1695" width="24.4" height="3" fill="url(#p7)"/>
<rect x="419.8" y="1698" width="24.4" height="3" fill="url(#p6)"/>
<rect x="419.8" y="1701" width="24.4" height="3" fill="url(#p5)"/>
<rect x="419.8" y="1704" width="24.4" height="3" fill="url(#p4)"/>
<rect x="419.8" y="1707" width="24.4" height="2" fill="url(#p3)"/>
<rect x="419.8" y="1709" width="24.4" height="3" fill="url(#p2)"/>
<rect x="419.8" y="1712" width="24.4" height="4" fill="url(#p1)"/>
<rect x="419.8" y="1716" width="24.4" height="7" fill="url(#p0)"/>
<path d="M200 1528.75h1.5M196 1531.75h1.5M194 1547.75h1.5M201 1591.75h1.5M193 1595.75h1.5M210 1597.75h1.5M199 1598.75h1.5M192 1732.75h1.5M210 1732.75h1.5M191 1734.75h1.5M207 1742.75h1.5M192 1743.75h1.5M209 1744.75h1.5M211 1745.75h1.5M194 1755.75h1.5M321 1559.75h1.5M322 1724.75h1.5M306 1730.75h1.5M324 1732.75h1.5M323 1735.75h1.5M442 1621.75h1.5M435 1625.75h1.5M438 1724.75h1.5M420 1724.75h1.5M437 1726.75h1.5M434 1727.75h1.5" stroke="#000" stroke-width="1.5" fill="none"/>
<rect x="145.20" y="1483.80" width="344.20" height="298.40" fill="none" stroke="#111" stroke-width="1.3"/>
<text x="134.30" y="1785.96" font-size="14.85" text-anchor="end">0.925</text>
<text x="134.30" y="1750.39" font-size="14.85" text-anchor="end">0.950</text>
<text x="134.30" y="1714.82" font-size="14.85" text-anchor="end">0.975</text>
<text x="134.30" y="1679.25" font-size="14.85" text-anchor="end">1.000</text>
<text x="134.30" y="1643.68" font-size="14.85" text-anchor="end">1.025</text>
<text x="134.30" y="1608.11" font-size="14.85" text-anchor="end">1.050</text>
<text x="134.30" y="1572.54" font-size="14.85" text-anchor="end">1.075</text>
<text x="134.30" y="1536.97" font-size="14.85" text-anchor="end">1.100</text>
<text x="134.30" y="1501.40" font-size="14.85" text-anchor="end">1.125</text>
<text transform="translate(207.87 1794.20) rotate(-90)" font-size="14.85" text-anchor="end">RGC</text>
<text transform="translate(322.60 1794.20) rotate(-90)" font-size="14.85" text-anchor="end">NeuB</text>
<text transform="translate(437.33 1794.20) rotate(-90)" font-size="14.85" text-anchor="end">GlioB</text>
<path d="M145.20 1780.46h-5M145.20 1744.89h-5M145.20 1709.32h-5M145.20 1673.75h-5M145.20 1638.18h-5M145.20 1602.61h-5M145.20 1567.04h-5M145.20 1531.47h-5M145.20 1495.90h-5M202.57 1782.20v5M317.30 1782.20v5M432.03 1782.20v5" stroke="#111" stroke-width="1.3" fill="none"/>
<text transform="translate(82.50 1633.00) rotate(-90)" font-size="14.85" text-anchor="middle">Growth rate</text>
<text x="317.30" y="1849.40" font-size="14.85" text-anchor="middle">annotation</text>
<text x="317.30" y="1474.80" font-size="17.75" text-anchor="middle">Δ<tspan font-style="italic">t</tspan> = 0.1</text>
<path d="M621.52 1497.03C621.52 1534.78 621.52 1572.54 621.52 1610.30C621.52 1613.19 620.32 1616.09 619.93 1618.99C619.15 1624.78 618.96 1630.57 618.19 1636.36C617.42 1642.15 616.63 1647.94 614.71 1653.73C613.75 1656.63 611.39 1659.52 608.63 1662.42C605.86 1665.31 599.79 1668.21 595.59 1671.10C591.39 1674.00 586.28 1676.90 583.42 1679.79C580.57 1682.69 577.82 1685.58 576.82 1688.48C576.32 1689.93 575.77 1691.37 575.77 1692.82C575.77 1694.85 578.16 1696.88 579.95 1698.90C581.98 1701.22 585.48 1703.53 588.64 1705.85C591.80 1708.17 595.91 1710.48 599.07 1712.80C602.23 1715.12 605.37 1717.43 607.76 1719.75C610.15 1722.07 612.72 1724.38 613.84 1726.70C616.10 1731.33 617.37 1735.96 618.19 1740.60C619.21 1746.39 619.61 1752.18 620.28 1757.97C620.71 1761.74 621.12 1765.50 621.52 1769.26L621.82 1769.26C622.22 1765.50 622.63 1761.74 623.06 1757.97C623.72 1752.18 624.12 1746.39 625.14 1740.60C625.96 1735.96 627.24 1731.33 629.49 1726.70C630.62 1724.38 633.19 1722.07 635.57 1719.75C637.96 1717.43 641.10 1715.12 644.27 1712.80C647.43 1710.48 651.54 1708.17 654.70 1705.85C657.86 1703.53 661.35 1701.22 663.39 1698.90C665.17 1696.88 667.56 1694.85 667.56 1692.82C667.56 1691.37 667.02 1689.93 666.52 1688.48C665.52 1685.58 662.77 1682.69 659.91 1679.79C657.06 1676.90 651.94 1674.00 647.74 1671.10C643.55 1668.21 637.47 1665.31 634.70 1662.42C631.94 1659.52 629.58 1656.63 628.62 1653.73C626.70 1647.94 625.92 1642.15 625.14 1636.36C624.37 1630.57 624.18 1624.78 623.41 1618.99C623.02 1616.09 621.82 1613.19 621.82 1610.30C621.82 1572.54 621.82 1534.78 621.82 1497.03Z" fill="#56bce0" stroke="#111111" stroke-width="1.8" stroke-linejoin="round"/>
<path d="M736.25 1574.34C736.25 1597.91 736.25 1621.48 736.25 1645.05C736.25 1647.94 735.11 1650.84 734.31 1653.73C733.52 1656.63 732.62 1659.52 731.18 1662.42C729.75 1665.31 727.32 1668.21 724.23 1671.10C721.14 1674.00 714.65 1676.90 710.32 1679.79C706.00 1682.69 701.29 1685.58 698.16 1688.48C695.02 1691.37 690.51 1694.27 690.51 1697.16C690.51 1698.90 691.73 1700.64 692.94 1702.38C694.55 1704.69 699.59 1707.01 703.37 1709.33C708.10 1712.22 715.06 1715.12 719.02 1718.01C722.97 1720.91 726.80 1723.80 728.58 1726.70C730.71 1730.17 731.87 1733.65 732.92 1737.12C733.80 1740.02 734.67 1742.91 735.01 1745.81C735.69 1751.60 736.25 1757.39 736.25 1763.18L736.55 1763.18C736.55 1757.39 737.11 1751.60 737.79 1745.81C738.13 1742.91 739.00 1740.02 739.88 1737.12C740.93 1733.65 742.09 1730.17 744.22 1726.70C746.00 1723.80 749.83 1720.91 753.78 1718.01C757.74 1715.12 764.70 1712.22 769.43 1709.33C773.21 1707.01 778.25 1704.69 779.86 1702.38C781.07 1700.64 782.29 1698.90 782.29 1697.16C782.29 1694.27 777.78 1691.37 774.64 1688.48C771.51 1685.58 766.80 1682.69 762.48 1679.79C758.15 1676.90 751.66 1674.00 748.57 1671.10C745.48 1668.21 743.05 1665.31 741.62 1662.42C740.18 1659.52 739.28 1656.63 738.49 1653.73C737.69 1650.84 736.55 1647.94 736.55 1645.05C736.55 1621.48 736.55 1597.91 736.55 1574.34Z" fill="#ee4ff5" stroke="#111111" stroke-width="1.8" stroke-linejoin="round"/>
<path d="M850.98 1590.84C850.98 1608.91 850.98 1626.98 850.98 1645.05C850.98 1647.94 849.57 1650.84 848.53 1653.73C847.48 1656.63 846.22 1659.52 844.18 1662.42C842.13 1665.31 837.72 1668.21 833.75 1671.10C829.78 1674.00 823.82 1676.90 819.84 1679.79C815.87 1682.69 811.54 1685.58 809.41 1688.48C807.50 1691.08 805.24 1693.69 805.24 1696.30C805.24 1698.32 807.03 1700.35 808.54 1702.38C810.71 1705.27 816.23 1708.17 819.84 1711.06C823.46 1713.96 826.72 1716.85 830.27 1719.75C833.11 1722.07 836.58 1724.38 838.96 1726.70C841.35 1729.02 843.57 1731.33 845.05 1733.65C846.52 1735.96 847.80 1738.28 848.53 1740.60C849.07 1742.33 849.52 1744.07 849.74 1745.81C850.42 1751.02 850.98 1756.23 850.98 1761.45L851.28 1761.45C851.28 1756.23 851.85 1751.02 852.52 1745.81C852.75 1744.07 853.20 1742.33 853.74 1740.60C854.47 1738.28 855.74 1735.96 857.22 1733.65C858.69 1731.33 860.92 1729.02 863.30 1726.70C865.69 1724.38 869.15 1722.07 871.99 1719.75C875.54 1716.85 878.81 1713.96 882.42 1711.06C886.04 1708.17 891.56 1705.27 893.72 1702.38C895.24 1700.35 897.03 1698.32 897.03 1696.30C897.03 1693.69 894.77 1691.08 892.85 1688.48C890.73 1685.58 886.40 1682.69 882.42 1679.79C878.45 1676.90 872.49 1674.00 868.52 1671.10C864.54 1668.21 860.13 1665.31 858.09 1662.42C856.04 1659.52 854.79 1656.63 853.74 1653.73C852.69 1650.84 851.28 1647.94 851.28 1645.05C851.28 1626.98 851.28 1608.91 851.28 1590.84Z" fill="#2e843e" stroke="#111111" stroke-width="1.8" stroke-linejoin="round"/>
<rect x="609.4" y="1627" width="24.4" height="15" fill="url(#p0)"/>
<rect x="609.4" y="1642" width="24.4" height="8" fill="url(#p1)"/>
<rect x="609.4" y="1650" width="24.4" height="5" fill="url(#p2)"/>
<rect x="609.4" y="1655" width="24.4" height="2" fill="url(#p3)"/>
<rect x="609.4" y="1657" width="24.4" height="3" fill="url(#p4)"/>
<rect x="609.4" y="1660" width="24.4" height="2" fill="url(#p5)"/>
<rect x="609.4" y="1662" width="24.4" height="2" fill="url(#p6)"/>
<rect x="609.4" y="1664" width="24.4" height="1" fill="url(#p7)"/>
<rect x="609.4" y="1665" width="24.4" height="3" fill="url(#p8)"/>
<rect x="609.4" y="1668" width="24.4" height="46" fill="url(#p9)"/>
<rect x="609.4" y="1714" width="24.4" height="3" fill="url(#p8)"/>
<rect x="609.4" y="1717" width="24.4" height="2" fill="url(#p7)"/>
<rect x="609.4" y="1719" width="24.4" height="2" fill="url(#p6)"/>
<rect x="609.4" y="1721" width="24.4" height="2" fill="url(#p5)"/>
<rect x="609.4" y="1723" width="24.4" height="2" fill="url(#p4)"/>
<rect x="609.4" y="1725" width="24.4" height="3" fill="url(#p3)"/>
<rect x="609.4" y="1728" width="24.4" height="3" fill="url(#p2)"/>
<rect x="609.4" y="1731" width="24.4" height="6" fill="url(#p1)"/>
<rect x="609.4" y="1737" width="24.4" height="10" fill="url(#p0)"/>
<rect x="724.2" y="1658" width="24.4" height="5" fill="url(#p0)"/>
<rect x="724.2" y="1663" width="24.4" height="3" fill="url(#p1)"/>
<rect x="724.2" y="1666" width="24.4" height="2" fill="url(#p2)"/>
<rect x="724.2" y="1668" width="24.4" height="2" fill="url(#p3)"/>
<rect x="724.2" y="1670" width="24.4" height="2" fill="url(#p4)"/>
<rect x="724.2" y="1672" width="24.4" height="2" fill="url(#p5)"/>
<rect x="724.2" y="1674" width="24.4" height="1" fill="url(#p6)"/>
<rect x="724.2" y="1675" width="24.4" height="2" fill="url(#p7)"/>
<rect x="724.2" y="1677" width="24.4" height="3" fill="url(#p8)"/>
<rect x="724.2" y="1680" width="24.4" height="32" fill="url(#p9)"/>
<rect x="724.2" y="1712" width="24.4" height="3" fill="url(#p8)"/>
<rect x="724.2" y="1715" width="24.4" height="2" fill="url(#p7)"/>
<rect x="724.2" y="1717" width="24.4" height="1" fill="url(#p6)"/>
<rect x="724.2" y="1718" width="24.4" height="2" fill="url(#p5)"/>
<rect x="724.2" y="1720" width="24.4" height="2" fill="url(#p4)"/>
<rect x="724.2" y="1722" width="24.4" height="2" fill="url(#p3)"/>
<rect x="724.2" y="1724" width="24.4" height="2" fill="url(#p2)"/>
<rect x="724.2" y="1726" width="24.4" height="4" fill="url(#p1)"/>
<rect x="724.2" y="1730" width="24.4" height="7" fill="url(#p0)"/>
<rect x="838.9" y="1657" width="24.4" height="5" fill="url(#p0)"/>
<rect x="838.9" y="1662" width="24.4" height="2" fill="url(#p1)"/>
<rect x="838.9" y="1664" width="24.4" height="2" fill="url(#p2)"/>
<rect x="838.9" y="1666" width="24.4" height="2" fill="url(#p3)"/>
<rect x="838.9" y="1668" width="24.4" height="2" fill="url(#p4)"/>
<rect x="838.9" y="1670" width="24.4" height="1" fill="url(#p5)"/>
<rect x="838.9" y="1671" width="24.4" height="2" fill="url(#p6)"/>
<rect x="838.9" y="1673" width="24.4" height="3" fill="url(#p7)"/>
<rect x="838.9" y="1676" width="24.4" height="3" fill="url(#p8)"/>
<rect x="838.9" y="1679" width="24.4" height="34" fill="url(#p9)"/>
<rect x="838.9" y="1713" width="24.4" height="4" fill="url(#p8)"/>
<rect x="838.9" y="1717" width="24.4" height="3" fill="url(#p7)"/>
<rect x="838.9" y="1720" width="24.4" height="2" fill="url(#p6)"/>
<rect x="838.9" y="1722" width="24.4" height="2" fill="url(#p5)"/>
<rect x="838.9" y="1724" width="24.4" height="2" fill="url(#p4)"/>
<rect x="838.9" y="1726" width="24.4" height="2" fill="url(#p3)"/>
<rect x="838.9" y="1728" width="24.4" height="3" fill="url(#p2)"/>
<rect x="838.9" y="1731" width="24.4" height="3" fill="url(#p1)"/>
<rect x="838.9" y="1734" width="24.4" height="4" fill="url(#p0)"/>
<path d="M612 1528.75h1.5M628 1528.75h1.5M628 1544.75h1.5M618 1545.75h1.5M621 1606.75h1.5M618 1618.75h1.5M630 1618.75h1.5M626 1624.75h1.5M631 1748.75h1.5M622 1752.75h1.5M613 1756.75h1.5M628 1757.75h1.5M627 1761.75h1.5M622 1764.75h1.5M744 1589.75h1.5M743 1655.75h1.5M725 1658.75h1.5M728 1739.75h1.5M739 1762.75h1.5M860 1607.75h1.5M854 1655.75h1.5M849 1654.75h1.5M845 1655.75h1.5M849 1742.75h1.5M856 1745.75h1.5" stroke="#000" stroke-width="1.5" fill="none"/>
<rect x="564.30" y="1483.80" width="344.20" height="298.40" fill="none" stroke="#111" stroke-width="1.3"/>
<text x="553.40" y="1750.80" font-size="14.85" text-anchor="end">0.8</text>
<text x="553.40" y="1700.76" font-size="14.85" text-anchor="end">1.0</text>
<text x="553.40" y="1650.72" font-size="14.85" text-anchor="end">1.2</text>
<text x="553.40" y="1600.68" font-size="14.85" text-anchor="end">1.4</text>
<text x="553.40" y="1550.64" font-size="14.85" text-anchor="end">1.6</text>
<text x="553.40" y="1500.60" font-size="14.85" text-anchor="end">1.8</text>
<text transform="translate(626.97 1794.20) rotate(-90)" font-size="14.85" text-anchor="end">RGC</text>
<text transform="translate(741.70 1794.20) rotate(-90)" font-size="14.85" text-anchor="end">NeuB</text>
<text transform="translate(856.43 1794.20) rotate(-90)" font-size="14.85" text-anchor="end">GlioB</text>
<path d="M564.30 1745.30h-5M564.30 1695.26h-5M564.30 1645.22h-5M564.30 1595.18h-5M564.30 1545.14h-5M564.30 1495.10h-5M621.67 1782.20v5M736.40 1782.20v5M851.13 1782.20v5" stroke="#111" stroke-width="1.3" fill="none"/>
<text transform="translate(520.60 1633.00) rotate(-90)" font-size="14.85" text-anchor="middle">Growth rate</text>
<text x="736.40" y="1849.40" font-size="14.85" text-anchor="middle">annotation</text>
<text x="736.40" y="1474.80" font-size="17.75" text-anchor="middle">Δ<tspan font-style="italic">t</tspan> = 0.5</text>
<path d="M1040.62 1497.03C1040.62 1543.47 1040.62 1589.91 1040.62 1636.36C1040.62 1642.15 1039.86 1647.94 1039.38 1653.73C1038.89 1659.52 1038.49 1665.31 1037.64 1671.10C1037.21 1674.00 1036.54 1676.90 1035.55 1679.79C1034.56 1682.69 1032.65 1685.58 1030.34 1688.48C1028.02 1691.37 1023.88 1694.27 1019.91 1697.16C1015.93 1700.06 1010.05 1702.96 1006.00 1705.85C1002.76 1708.17 999.32 1710.48 997.31 1712.80C996.30 1713.96 994.87 1715.12 994.87 1716.28C994.87 1718.01 996.06 1719.75 997.31 1721.49C998.97 1723.80 1005.42 1726.12 1009.48 1728.44C1013.53 1730.75 1017.69 1733.07 1021.64 1735.39C1024.61 1737.12 1028.74 1738.86 1030.34 1740.60C1033.00 1743.49 1034.39 1746.39 1035.55 1749.28C1036.71 1752.18 1037.42 1755.08 1038.16 1757.97C1039.04 1761.45 1039.84 1764.92 1040.45 1768.39L1041.09 1768.39C1041.70 1764.92 1042.49 1761.45 1043.37 1757.97C1044.11 1755.08 1044.82 1752.18 1045.98 1749.28C1047.14 1746.39 1048.54 1743.49 1051.20 1740.60C1052.79 1738.86 1056.92 1737.12 1059.89 1735.39C1063.84 1733.07 1068.00 1730.75 1072.06 1728.44C1076.11 1726.12 1082.56 1723.80 1084.23 1721.49C1085.47 1719.75 1086.66 1718.01 1086.66 1716.28C1086.66 1715.12 1085.23 1713.96 1084.23 1712.80C1082.21 1710.48 1078.77 1708.17 1075.53 1705.85C1071.49 1702.96 1065.60 1700.06 1061.63 1697.16C1057.65 1694.27 1053.51 1691.37 1051.20 1688.48C1048.88 1685.58 1046.98 1682.69 1045.98 1679.79C1044.99 1676.90 1044.32 1674.00 1043.90 1671.10C1043.04 1665.31 1042.64 1659.52 1042.16 1653.73C1041.67 1647.94 1040.92 1642.15 1040.92 1636.36C1040.92 1589.91 1040.92 1543.47 1040.92 1497.03Z" fill="#56bce0" stroke="#111111" stroke-width="1.8" stroke-linejoin="round"/>
<path d="M1155.35 1598.14C1155.35 1622.46 1155.35 1646.78 1155.35 1671.10C1155.35 1674.00 1154.42 1676.90 1153.76 1679.79C1153.10 1682.69 1152.37 1685.58 1151.15 1688.48C1149.94 1691.37 1147.89 1694.27 1145.07 1697.16C1142.25 1700.06 1136.01 1702.96 1131.16 1705.85C1127.28 1708.17 1122.53 1710.48 1118.99 1712.80C1115.46 1715.12 1109.61 1717.43 1109.61 1719.75C1109.61 1721.49 1110.79 1723.22 1112.04 1724.96C1113.70 1727.28 1119.88 1729.59 1124.21 1731.91C1128.54 1734.23 1134.55 1736.54 1138.12 1738.86C1141.68 1741.18 1144.90 1743.49 1146.81 1745.81C1149.19 1748.71 1150.85 1751.60 1152.02 1754.50C1153.44 1757.97 1154.69 1761.45 1155.18 1764.92L1155.82 1764.92C1156.31 1761.45 1157.56 1757.97 1158.98 1754.50C1160.15 1751.60 1161.81 1748.71 1164.19 1745.81C1166.10 1743.49 1169.32 1741.18 1172.88 1738.86C1176.45 1736.54 1182.46 1734.23 1186.79 1731.91C1191.12 1729.59 1197.30 1727.28 1198.96 1724.96C1200.21 1723.22 1201.39 1721.49 1201.39 1719.75C1201.39 1717.43 1195.54 1715.12 1192.01 1712.80C1188.47 1710.48 1183.72 1708.17 1179.84 1705.85C1174.99 1702.96 1168.75 1700.06 1165.93 1697.16C1163.11 1694.27 1161.06 1691.37 1159.85 1688.48C1158.63 1685.58 1157.90 1682.69 1157.24 1679.79C1156.58 1676.90 1155.65 1674.00 1155.65 1671.10C1155.65 1646.78 1155.65 1622.46 1155.65 1598.14Z" fill="#ee4ff5" stroke="#111111" stroke-width="1.8" stroke-linejoin="round"/>
<path d="M1270.08 1618.12C1270.08 1635.78 1270.08 1653.44 1270.08 1671.10C1270.08 1674.00 1269.22 1676.90 1268.49 1679.79C1267.77 1682.69 1266.67 1685.58 1265.02 1688.48C1263.36 1691.37 1259.89 1694.27 1256.33 1697.16C1252.76 1700.06 1247.09 1702.96 1242.42 1705.85C1238.68 1708.17 1234.17 1710.48 1231.12 1712.80C1228.45 1714.83 1224.34 1716.85 1224.34 1718.88C1224.34 1720.91 1225.56 1722.93 1226.77 1724.96C1228.16 1727.28 1232.23 1729.59 1235.47 1731.91C1239.51 1734.81 1244.89 1737.70 1249.37 1740.60C1252.96 1742.91 1257.24 1745.23 1259.80 1747.55C1262.36 1749.86 1264.61 1752.18 1265.89 1754.50C1267.80 1757.97 1269.59 1761.45 1269.91 1764.92L1270.55 1764.92C1270.87 1761.45 1272.67 1757.97 1274.58 1754.50C1275.85 1752.18 1278.10 1749.86 1280.66 1747.55C1283.23 1745.23 1287.51 1742.91 1291.09 1740.60C1295.57 1737.70 1300.95 1734.81 1305.00 1731.91C1308.24 1729.59 1312.30 1727.28 1313.69 1724.96C1314.91 1722.93 1316.13 1720.91 1316.13 1718.88C1316.13 1716.85 1312.02 1714.83 1309.35 1712.80C1306.30 1710.48 1301.79 1708.17 1298.05 1705.85C1293.37 1702.96 1287.71 1700.06 1284.14 1697.16C1280.57 1694.27 1277.10 1691.37 1275.45 1688.48C1273.79 1685.58 1272.70 1682.69 1271.97 1679.79C1271.24 1676.90 1270.38 1674.00 1270.38 1671.10C1270.38 1653.44 1270.38 1635.78 1270.38 1618.12Z" fill="#2e843e" stroke="#111111" stroke-width="1.8" stroke-linejoin="round"/>
<rect x="1028.5" y="1664" width="24.4" height="11" fill="url(#p0)"/>
<rect x="1028.5" y="1675" width="24.4" height="4" fill="url(#p1)"/>
<rect x="1028.5" y="1679" width="24.4" height="4" fill="url(#p2)"/>
<rect x="1028.5" y="1683" width="24.4" height="2" fill="url(#p3)"/>
<rect x="1028.5" y="1685" width="24.4" height="2" fill="url(#p4)"/>
<rect x="1028.5" y="1687" width="24.4" height="2" fill="url(#p5)"/>
<rect x="1028.5" y="1689" width="24.4" height="2" fill="url(#p6)"/>
<rect x="1028.5" y="1691" width="24.4" height="2" fill="url(#p7)"/>
<rect x="1028.5" y="1693" width="24.4" height="2" fill="url(#p8)"/>
<rect x="1028.5" y="1695" width="24.4" height="41" fill="url(#p9)"/>
<rect x="1028.5" y="1736" width="24.4" height="2" fill="url(#p8)"/>
<rect x="1028.5" y="1738" width="24.4" height="1" fill="url(#p7)"/>
<rect x="1028.5" y="1739" width="24.4" height="1" fill="url(#p6)"/>
<rect x="1028.5" y="1740" width="24.4" height="2" fill="url(#p5)"/>
<rect x="1028.5" y="1742" width="24.4" height="2" fill="url(#p4)"/>
<rect x="1028.5" y="1744" width="24.4" height="2" fill="url(#p3)"/>
<rect x="1028.5" y="1746" width="24.4" height="4" fill="url(#p2)"/>
<rect x="1028.5" y="1750" width="24.4" height="4" fill="url(#p1)"/>
<rect x="1028.5" y="1754" width="24.4" height="5" fill="url(#p0)"/>
<rect x="1143.3" y="1685" width="24.4" height="5" fill="url(#p0)"/>
<rect x="1143.3" y="1690" width="24.4" height="3" fill="url(#p1)"/>
<rect x="1143.3" y="1693" width="24.4" height="2" fill="url(#p2)"/>
<rect x="1143.3" y="1695" width="24.4" height="2" fill="url(#p3)"/>
<rect x="1143.3" y="1697" width="24.4" height="2" fill="url(#p4)"/>
<rect x="1143.3" y="1699" width="24.4" height="1" fill="url(#p5)"/>
<rect x="1143.3" y="1700" width="24.4" height="2" fill="url(#p6)"/>
<rect x="1143.3" y="1702" width="24.4" height="1" fill="url(#p7)"/>
<rect x="1143.3" y="1703" width="24.4" height="3" fill="url(#p8)"/>
<rect x="1143.3" y="1706" width="24.4" height="29" fill="url(#p9)"/>
<rect x="1143.3" y="1735" width="24.4" height="2" fill="url(#p8)"/>
<rect x="1143.3" y="1737" width="24.4" height="2" fill="url(#p7)"/>
<rect x="1143.3" y="1739" width="24.4" height="1" fill="url(#p6)"/>
<rect x="1143.3" y="1740" width="24.4" height="2" fill="url(#p5)"/>
<rect x="1143.3" y="1742" width="24.4" height="2" fill="url(#p4)"/>
<rect x="1143.3" y="1744" width="24.4" height="1" fill="url(#p3)"/>
<rect x="1143.3" y="1745" width="24.4" height="3" fill="url(#p2)"/>
<rect x="1143.3" y="1748" width="24.4" height="3" fill="url(#p1)"/>
<rect x="1143.3" y="1751" width="24.4" height="4" fill="url(#p0)"/>
<rect x="1258.0" y="1685" width="24.4" height="4" fill="url(#p0)"/>
<rect x="1258.0" y="1689" width="24.4" height="3" fill="url(#p1)"/>
<rect x="1258.0" y="1692" width="24.4" height="1" fill="url(#p2)"/>
<rect x="1258.0" y="1693" width="24.4" height="2" fill="url(#p3)"/>
<rect x="1258.0" y="1695" width="24.4" height="2" fill="url(#p4)"/>
<rect x="1258.0" y="1697" width="24.4" height="2" fill="url(#p5)"/>
<rect x="1258.0" y="1699" width="24.4" height="1" fill="url(#p6)"/>
<rect x="1258.0" y="1700" width="24.4" height="2" fill="url(#p7)"/>
<rect x="1258.0" y="1702" width="24.4" height="3" fill="url(#p8)"/>
<rect x="1258.0" y="1705" width="24.4" height="32" fill="url(#p9)"/>
<rect x="1258.0" y="1737" width="24.4" height="3" fill="url(#p8)"/>
<rect x="1258.0" y="1740" width="24.4" height="2" fill="url(#p7)"/>
<rect x="1258.0" y="1742" width="24.4" height="1" fill="url(#p6)"/>
<rect x="1258.0" y="1743" width="24.4" height="2" fill="url(#p5)"/>
<rect x="1258.0" y="1745" width="24.4" height="1" fill="url(#p4)"/>
<rect x="1258.0" y="1746" width="24.4" height="2" fill="url(#p3)"/>
<rect x="1258.0" y="1748" width="24.4" height="2" fill="url(#p2)"/>
<rect x="1258.0" y="1750" width="24.4" height="2" fill="url(#p1)"/>
<rect x="1258.0" y="1752" width="24.4" height="4" fill="url(#p0)"/>
<path d="M1042 1500.75h1.5M1033 1536.75h1.5M1034 1552.75h1.5M1044 1552.75h1.5M1039 1553.75h1.5M1050 1561.75h1.5M1044 1574.75h1.5M1033 1629.75h1.5M1040 1632.75h1.5M1045 1651.75h1.5M1030 1657.75h1.5M1037 1657.75h1.5M1049 1662.75h1.5M1032 1663.75h1.5M1048 1760.75h1.5M1165 1629.75h1.5M1154 1678.75h1.5M1150 1681.75h1.5M1158 1683.75h1.5M1157 1683.75h1.5M1160 1756.75h1.5M1261 1629.75h1.5M1275 1666.75h1.5M1274 1683.75h1.5M1277 1756.75h1.5M1275 1756.75h1.5M1275 1762.75h1.5M1267 1764.75h1.5" stroke="#000" stroke-width="1.5" fill="none"/>
<rect x="983.40" y="1483.80" width="344.20" height="298.40" fill="none" stroke="#111" stroke-width="1.3"/>
<text x="972.50" y="1774.15" font-size="14.85" text-anchor="end">0.5</text>
<text x="972.50" y="1724.12" font-size="14.85" text-anchor="end">1.0</text>
<text x="972.50" y="1674.09" font-size="14.85" text-anchor="end">1.5</text>
<text x="972.50" y="1624.06" font-size="14.85" text-anchor="end">2.0</text>
<text x="972.50" y="1574.03" font-size="14.85" text-anchor="end">2.5</text>
<text x="972.50" y="1524.00" font-size="14.85" text-anchor="end">3.0</text>
<text transform="translate(1046.07 1794.20) rotate(-90)" font-size="14.85" text-anchor="end">RGC</text>
<text transform="translate(1160.80 1794.20) rotate(-90)" font-size="14.85" text-anchor="end">NeuB</text>
<text transform="translate(1275.53 1794.20) rotate(-90)" font-size="14.85" text-anchor="end">GlioB</text>
<path d="M983.40 1768.65h-5M983.40 1718.62h-5M983.40 1668.59h-5M983.40 1618.56h-5M983.40 1568.53h-5M983.40 1518.50h-5M1040.77 1782.20v5M1155.50 1782.20v5M1270.23 1782.20v5" stroke="#111" stroke-width="1.3" fill="none"/>
<text transform="translate(939.70 1633.00) rotate(-90)" font-size="14.85" text-anchor="middle">Growth rate</text>
<text x="1155.50" y="1849.40" font-size="14.85" text-anchor="middle">annotation</text>
<text x="1155.50" y="1474.80" font-size="17.75" text-anchor="middle">Δ<tspan font-style="italic">t</tspan> = 1.0</text>
<path d="M1459.72 1497.03C1459.72 1560.84 1459.72 1624.66 1459.72 1688.48C1459.72 1694.27 1458.89 1700.06 1458.48 1705.85C1458.07 1711.64 1457.97 1717.43 1457.26 1723.22C1456.91 1726.12 1456.22 1729.02 1454.65 1731.91C1453.71 1733.65 1449.98 1735.39 1445.96 1737.12C1443.28 1738.28 1437.85 1739.44 1433.79 1740.60C1429.73 1741.76 1424.75 1742.91 1421.62 1744.07C1418.49 1745.23 1413.97 1746.39 1413.97 1747.55C1413.97 1748.71 1416.35 1749.86 1418.15 1751.02C1420.84 1752.76 1426.26 1754.50 1430.31 1756.23C1434.37 1757.97 1438.37 1759.71 1442.48 1761.45C1445.91 1762.89 1450.26 1764.34 1452.91 1765.79C1455.03 1766.95 1456.85 1768.11 1458.13 1769.26L1461.61 1769.26C1462.88 1768.11 1464.70 1766.95 1466.82 1765.79C1469.47 1764.34 1473.82 1762.89 1477.25 1761.45C1481.37 1759.71 1485.36 1757.97 1489.42 1756.23C1493.48 1754.50 1498.89 1752.76 1501.59 1751.02C1503.39 1749.86 1505.76 1748.71 1505.76 1747.55C1505.76 1746.39 1501.24 1745.23 1498.11 1744.07C1494.98 1742.91 1490.00 1741.76 1485.94 1740.60C1481.89 1739.44 1476.45 1738.28 1473.77 1737.12C1469.75 1735.39 1466.02 1733.65 1465.08 1731.91C1463.52 1729.02 1462.83 1726.12 1462.47 1723.22C1461.77 1717.43 1461.67 1711.64 1461.26 1705.85C1460.85 1700.06 1460.02 1694.27 1460.02 1688.48C1460.02 1624.66 1460.02 1560.84 1460.02 1497.03Z" fill="#56bce0" stroke="#111111" stroke-width="1.8" stroke-linejoin="round"/>
<path d="M1574.45 1644.18C1574.45 1667.63 1574.45 1691.08 1574.45 1714.54C1574.45 1717.43 1573.73 1720.33 1573.21 1723.22C1572.69 1726.12 1572.31 1729.02 1571.12 1731.91C1570.41 1733.65 1568.44 1735.39 1565.91 1737.12C1563.38 1738.86 1557.31 1740.60 1552.00 1742.33C1548.46 1743.49 1543.71 1744.65 1539.83 1745.81C1535.96 1746.97 1528.71 1748.13 1528.71 1749.28C1528.71 1750.44 1533.74 1751.60 1536.36 1752.76C1540.28 1754.50 1544.47 1756.23 1548.52 1757.97C1552.58 1759.71 1556.49 1761.45 1560.69 1763.18C1563.50 1764.34 1567.27 1765.50 1569.38 1766.66C1570.97 1767.53 1572.32 1768.39 1573.21 1769.26L1575.99 1769.26C1576.88 1768.39 1578.23 1767.53 1579.82 1766.66C1581.93 1765.50 1585.70 1764.34 1588.51 1763.18C1592.71 1761.45 1596.62 1759.71 1600.68 1757.97C1604.73 1756.23 1608.92 1754.50 1612.84 1752.76C1615.46 1751.60 1620.49 1750.44 1620.49 1749.28C1620.49 1748.13 1613.24 1746.97 1609.37 1745.81C1605.49 1744.65 1600.74 1743.49 1597.20 1742.33C1591.89 1740.60 1585.82 1738.86 1583.29 1737.12C1580.76 1735.39 1578.79 1733.65 1578.08 1731.91C1576.89 1729.02 1576.51 1726.12 1575.99 1723.22C1575.47 1720.33 1574.75 1717.43 1574.75 1714.54C1574.75 1691.08 1574.75 1667.63 1574.75 1644.18Z" fill="#ee4ff5" stroke="#111111" stroke-width="1.8" stroke-linejoin="round"/>
<path d="M1689.18 1666.76C1689.18 1682.69 1689.18 1698.61 1689.18 1714.54C1689.18 1717.43 1688.25 1720.33 1687.59 1723.22C1686.94 1726.12 1686.44 1729.02 1684.99 1731.91C1684.11 1733.65 1681.61 1735.39 1678.90 1737.12C1676.20 1738.86 1671.67 1740.60 1666.73 1742.33C1663.45 1743.49 1658.44 1744.65 1654.57 1745.81C1650.69 1746.97 1643.44 1748.13 1643.44 1749.28C1643.44 1750.44 1648.47 1751.60 1651.09 1752.76C1655.02 1754.50 1659.20 1756.23 1663.26 1757.97C1667.31 1759.71 1671.22 1761.45 1675.43 1763.18C1678.23 1764.34 1682.00 1765.50 1684.12 1766.66C1685.71 1767.53 1687.05 1768.39 1687.94 1769.26L1690.72 1769.26C1691.61 1768.39 1692.96 1767.53 1694.55 1766.66C1696.66 1765.50 1700.44 1764.34 1703.24 1763.18C1707.45 1761.45 1711.35 1759.71 1715.41 1757.97C1719.47 1756.23 1723.65 1754.50 1727.58 1752.76C1730.20 1751.60 1735.23 1750.44 1735.23 1749.28C1735.23 1748.13 1727.98 1746.97 1724.10 1745.81C1720.23 1744.65 1715.22 1743.49 1711.93 1742.33C1707.00 1740.60 1702.47 1738.86 1699.76 1737.12C1697.06 1735.39 1694.55 1733.65 1693.68 1731.91C1692.22 1729.02 1691.73 1726.12 1691.07 1723.22C1690.41 1720.33 1689.48 1717.43 1689.48 1714.54C1689.48 1698.61 1689.48 1682.69 1689.48 1666.76Z" fill="#2e843e" stroke="#111111" stroke-width="1.8" stroke-linejoin="round"/>
<rect x="1447.6" y="1707" width="24.4" height="16" fill="url(#p0)"/>
<rect x="1447.6" y="1723" width="24.4" height="5" fill="url(#p1)"/>
<rect x="1447.6" y="1728" width="24.4" height="2" fill="url(#p2)"/>
<rect x="1447.6" y="1730" width="24.4" height="2" fill="url(#p3)"/>
<rect x="1447.6" y="1732" width="24.4" height="1" fill="url(#p4)"/>
<rect x="1447.6" y="1733" width="24.4" height="1" fill="url(#p5)"/>
<rect x="1447.6" y="1734" width="24.4" height="1" fill="url(#p6)"/>
<rect x="1447.6" y="1735" width="24.4" height="1" fill="url(#p7)"/>
<rect x="1447.6" y="1736" width="24.4" height="1" fill="url(#p8)"/>
<rect x="1447.6" y="1737" width="24.4" height="26" fill="url(#p9)"/>
<rect x="1447.6" y="1763" width="24.4" height="1" fill="url(#p8)"/>
<rect x="1447.6" y="1764" width="24.4" height="1" fill="url(#p7)"/>
<rect x="1447.6" y="1765" width="24.4" height="1" fill="url(#p5)"/>
<rect x="1447.6" y="1766" width="24.4" height="1" fill="url(#p4)"/>
<rect x="1447.6" y="1767" width="24.4" height="1" fill="url(#p2)"/>
<rect x="1447.6" y="1768" width="24.4" height="1" fill="url(#p1)"/>
<rect x="1447.6" y="1769" width="24.4" height="1" fill="url(#p0)"/>
<rect x="1562.4" y="1724" width="24.4" height="7" fill="url(#p0)"/>
<rect x="1562.4" y="1731" width="24.4" height="3" fill="url(#p1)"/>
<rect x="1562.4" y="1734" width="24.4" height="1" fill="url(#p2)"/>
<rect x="1562.4" y="1735" width="24.4" height="1" fill="url(#p3)"/>
<rect x="1562.4" y="1736" width="24.4" height="1" fill="url(#p4)"/>
<rect x="1562.4" y="1737" width="24.4" height="1" fill="url(#p5)"/>
<rect x="1562.4" y="1738" width="24.4" height="1" fill="url(#p6)"/>
<rect x="1562.4" y="1739" width="24.4" height="1" fill="url(#p8)"/>
<rect x="1562.4" y="1740" width="24.4" height="22" fill="url(#p9)"/>
<rect x="1562.4" y="1762" width="24.4" height="1" fill="url(#p8)"/>
<rect x="1562.4" y="1763" width="24.4" height="1" fill="url(#p7)"/>
<rect x="1562.4" y="1764" width="24.4" height="1" fill="url(#p5)"/>
<rect x="1562.4" y="1765" width="24.4" height="1" fill="url(#p4)"/>
<rect x="1562.4" y="1766" width="24.4" height="1" fill="url(#p2)"/>
<rect x="1562.4" y="1767" width="24.4" height="1" fill="url(#p1)"/>
<rect x="1562.4" y="1768" width="24.4" height="1" fill="url(#p0)"/>
<rect x="1677.1" y="1723" width="24.4" height="7" fill="url(#p0)"/>
<rect x="1677.1" y="1730" width="24.4" height="3" fill="url(#p1)"/>
<rect x="1677.1" y="1733" width="24.4" height="1" fill="url(#p2)"/>
<rect x="1677.1" y="1734" width="24.4" height="1" fill="url(#p3)"/>
<rect x="1677.1" y="1735" width="24.4" height="1" fill="url(#p4)"/>
<rect x="1677.1" y="1736" width="24.4" height="1" fill="url(#p5)"/>
<rect x="1677.1" y="1737" width="24.4" height="1" fill="url(#p6)"/>
<rect x="1677.1" y="1738" width="24.4" height="1" fill="url(#p7)"/>
<rect x="1677.1" y="1739" width="24.4" height="2" fill="url(#p8)"/>
<rect x="1677.1" y="1741" width="24.4" height="21" fill="url(#p9)"/>
<rect x="1677.1" y="1762" width="24.4" height="1" fill="url(#p8)"/>
<rect x="1677.1" y="1763" width="24.4" height="1" fill="url(#p7)"/>
<rect x="1677.1" y="1764" width="24.4" height="1" fill="url(#p6)"/>
<rect x="1677.1" y="1765" width="24.4" height="1" fill="url(#p4)"/>
<rect x="1677.1" y="1766" width="24.4" height="1" fill="url(#p3)"/>
<rect x="1677.1" y="1767" width="24.4" height="1" fill="url(#p1)"/>
<rect x="1677.1" y="1768" width="24.4" height="1" fill="url(#p0)"/>
<path d="M1456 1499.75h1.5M1466 1501.75h1.5M1463 1503.75h1.5M1451 1517.75h1.5M1468 1539.75h1.5M1464 1540.75h1.5M1451 1559.75h1.5M1453 1559.75h1.5M1458 1571.75h1.5M1457 1572.75h1.5M1469 1577.75h1.5M1470 1587.75h1.5M1455 1606.75h1.5M1452 1606.75h1.5M1452 1617.75h1.5M1459 1617.75h1.5M1451 1628.75h1.5M1450 1670.75h1.5M1457 1671.75h1.5M1449 1675.75h1.5M1463 1692.75h1.5M1467 1694.75h1.5M1461 1697.75h1.5M1469 1698.75h1.5M1456 1700.75h1.5M1468 1706.75h1.5M1583 1646.75h1.5M1576 1648.75h1.5M1568 1650.75h1.5M1573 1655.75h1.5M1576 1657.75h1.5M1584 1658.75h1.5M1578 1662.75h1.5M1575 1667.75h1.5M1574 1670.75h1.5M1584 1672.75h1.5M1578 1676.75h1.5M1582 1684.75h1.5M1567 1696.75h1.5M1573 1709.75h1.5M1570 1709.75h1.5M1574 1711.75h1.5M1573 1769.75h1.5M1699 1670.75h1.5M1693 1670.75h1.5M1680 1673.75h1.5M1691 1676.75h1.5M1686 1676.75h1.5M1682 1690.75h1.5M1678 1694.75h1.5M1695 1701.75h1.5M1687 1703.75h1.5M1696 1711.75h1.5M1682 1712.75h1.5M1689 1718.75h1.5M1680 1718.75h1.5" stroke="#000" stroke-width="1.5" fill="none"/>
<rect x="1402.50" y="1483.80" width="344.20" height="298.40" fill="none" stroke="#111" stroke-width="1.3"/>
<text x="1391.60" y="1781.15" font-size="14.85" text-anchor="end">0</text>
<text x="1391.60" y="1727.12" font-size="14.85" text-anchor="end">2</text>
<text x="1391.60" y="1673.09" font-size="14.85" text-anchor="end">4</text>
<text x="1391.60" y="1619.06" font-size="14.85" text-anchor="end">6</text>
<text x="1391.60" y="1565.03" font-size="14.85" text-anchor="end">8</text>
<text x="1391.60" y="1511.00" font-size="14.85" text-anchor="end">10</text>
<text transform="translate(1465.17 1794.20) rotate(-90)" font-size="14.85" text-anchor="end">RGC</text>
<text transform="translate(1579.90 1794.20) rotate(-90)" font-size="14.85" text-anchor="end">NeuB</text>
<text transform="translate(1694.63 1794.20) rotate(-90)" font-size="14.85" text-anchor="end">GlioB</text>
<path d="M1402.50 1775.65h-5M1402.50 1721.62h-5M1402.50 1667.59h-5M1402.50 1613.56h-5M1402.50 1559.53h-5M1402.50 1505.50h-5M1459.87 1782.20v5M1574.60 1782.20v5M1689.33 1782.20v5" stroke="#111" stroke-width="1.3" fill="none"/>
<text transform="translate(1363.50 1633.00) rotate(-90)" font-size="14.85" text-anchor="middle">Growth rate</text>
<text x="1574.60" y="1849.40" font-size="14.85" text-anchor="middle">annotation</text>
<text x="1574.60" y="1474.80" font-size="17.75" text-anchor="middle">Δ<tspan font-style="italic">t</tspan> = 2.0</text>
<path d="M1878.82 1496.90C1878.82 1577.93 1878.79 1658.97 1878.62 1740.00C1878.60 1746.67 1878.58 1753.33 1878.32 1760.00C1878.28 1761.13 1872.35 1762.27 1866.99 1763.40C1862.90 1764.27 1852.29 1765.13 1847.04 1766.00C1841.38 1766.93 1836.43 1767.87 1833.07 1768.80L1924.86 1768.80C1921.50 1767.87 1916.55 1766.93 1910.89 1766.00C1905.64 1765.13 1895.04 1764.27 1890.94 1763.40C1885.58 1762.27 1879.66 1761.13 1879.61 1760.00C1879.35 1753.33 1879.33 1746.67 1879.31 1740.00C1879.15 1658.97 1879.12 1577.93 1879.12 1496.90Z" fill="#56bce0" stroke="#111111" stroke-width="1.8" stroke-linejoin="round"/>
<path d="M1993.55 1727.50C1993.55 1740.00 1993.54 1752.50 1993.35 1765.00C1993.34 1765.50 1990.03 1766.00 1985.72 1766.50C1982.84 1766.83 1969.61 1767.17 1963.77 1767.50C1957.34 1767.87 1951.70 1768.23 1947.81 1768.60L2039.59 1768.60C2035.70 1768.23 2030.06 1767.87 2023.63 1767.50C2017.79 1767.17 2004.56 1766.83 2001.68 1766.50C1997.37 1766.00 1994.06 1765.50 1994.05 1765.00C1993.86 1752.50 1993.85 1740.00 1993.85 1727.50Z" fill="#ee4ff5" stroke="#111111" stroke-width="1.8" stroke-linejoin="round"/>
<path d="M2108.28 1742.50C2108.28 1750.00 2108.27 1757.50 2108.09 1765.00C2108.07 1765.50 2104.76 1766.00 2100.45 1766.50C2097.58 1766.83 2084.35 1767.17 2078.50 1767.50C2072.08 1767.87 2066.43 1768.23 2062.54 1768.60L2154.33 1768.60C2150.43 1768.23 2144.79 1767.87 2138.36 1767.50C2132.52 1767.17 2119.29 1766.83 2116.41 1766.50C2112.10 1766.00 2108.79 1765.50 2108.78 1765.00C2108.60 1757.50 2108.58 1750.00 2108.58 1742.50Z" fill="#2e843e" stroke="#111111" stroke-width="1.8" stroke-linejoin="round"/>
<rect x="1866.7" y="1735" width="24.4" height="10" fill="url(#p0)"/>
<rect x="1866.7" y="1745" width="24.4" height="4" fill="url(#p1)"/>
<rect x="1866.7" y="1749" width="24.4" height="3" fill="url(#p2)"/>
<rect x="1866.7" y="1752" width="24.4" height="2" fill="url(#p3)"/>
<rect x="1866.7" y="1754" width="24.4" height="1" fill="url(#p4)"/>
<rect x="1866.7" y="1755" width="24.4" height="2" fill="url(#p5)"/>
<rect x="1866.7" y="1757" width="24.4" height="1" fill="url(#p6)"/>
<rect x="1866.7" y="1758" width="24.4" height="1" fill="url(#p7)"/>
<rect x="1866.7" y="1759" width="24.4" height="1" fill="url(#p8)"/>
<rect x="1866.7" y="1760" width="24.4" height="9" fill="url(#p9)"/>
<rect x="1981.5" y="1756" width="24.4" height="4" fill="url(#p0)"/>
<rect x="1981.5" y="1760" width="24.4" height="1" fill="url(#p1)"/>
<rect x="1981.5" y="1760" width="24.4" height="2" fill="url(#p2)"/>
<rect x="1981.5" y="1762" width="24.4" height="2" fill="url(#p4)"/>
<rect x="1981.5" y="1764" width="24.4" height="1" fill="url(#p6)"/>
<rect x="1981.5" y="1764" width="24.4" height="2" fill="url(#p8)"/>
<rect x="1981.5" y="1766" width="24.4" height="4" fill="url(#p9)"/>
<rect x="2096.2" y="1756" width="24.4" height="4" fill="url(#p0)"/>
<rect x="2096.2" y="1760" width="24.4" height="1" fill="url(#p1)"/>
<rect x="2096.2" y="1760" width="24.4" height="2" fill="url(#p2)"/>
<rect x="2096.2" y="1762" width="24.4" height="2" fill="url(#p4)"/>
<rect x="2096.2" y="1764" width="24.4" height="1" fill="url(#p6)"/>
<rect x="2096.2" y="1764" width="24.4" height="2" fill="url(#p8)"/>
<rect x="2096.2" y="1766" width="24.4" height="4" fill="url(#p9)"/>
<path d="M1873 1677.75h1.5M1883 1709.75h1.5M1872 1714.75h1.5M1884 1717.75h1.5M1887 1717.75h1.5M1888 1720.75h1.5M1878 1722.75h1.5M1885 1723.75h1.5M1884 1725.75h1.5M1886 1731.75h1.5M1989 1751.75h1.5M1989 1754.75h1.5M2115 1753.75h1.5M2114 1755.75h1.5M2113 1754.75h1.5M2116 1756.75h1.5" stroke="#000" stroke-width="1.5" fill="none"/>
<rect x="1821.60" y="1483.80" width="344.20" height="298.40" fill="none" stroke="#111" stroke-width="1.3"/>
<text x="1810.70" y="1774.32" font-size="14.85" text-anchor="end">0</text>
<text x="1810.70" y="1734.46" font-size="14.85" text-anchor="end">50</text>
<text x="1810.70" y="1694.60" font-size="14.85" text-anchor="end">100</text>
<text x="1810.70" y="1654.74" font-size="14.85" text-anchor="end">150</text>
<text x="1810.70" y="1614.88" font-size="14.85" text-anchor="end">200</text>
<text x="1810.70" y="1575.02" font-size="14.85" text-anchor="end">250</text>
<text x="1810.70" y="1535.16" font-size="14.85" text-anchor="end">300</text>
<text x="1810.70" y="1495.30" font-size="14.85" text-anchor="end">350</text>
<text transform="translate(1884.27 1794.20) rotate(-90)" font-size="14.85" text-anchor="end">RGC</text>
<text transform="translate(1999.00 1794.20) rotate(-90)" font-size="14.85" text-anchor="end">NeuB</text>
<text transform="translate(2113.73 1794.20) rotate(-90)" font-size="14.85" text-anchor="end">GlioB</text>
<path d="M1821.60 1768.82h-5M1821.60 1728.96h-5M1821.60 1689.10h-5M1821.60 1649.24h-5M1821.60 1609.38h-5M1821.60 1569.52h-5M1821.60 1529.66h-5M1821.60 1489.80h-5M1878.97 1782.20v5M1993.70 1782.20v5M2108.43 1782.20v5" stroke="#111" stroke-width="1.3" fill="none"/>
<text transform="translate(1773.20 1633.00) rotate(-90)" font-size="14.85" text-anchor="middle">Growth rate</text>
<text x="1993.70" y="1849.40" font-size="14.85" text-anchor="middle">annotation</text>
<text x="1993.70" y="1474.80" font-size="17.75" text-anchor="middle">Δ<tspan font-style="italic">t</tspan> = 5.0</text>
</svg></body></html>
